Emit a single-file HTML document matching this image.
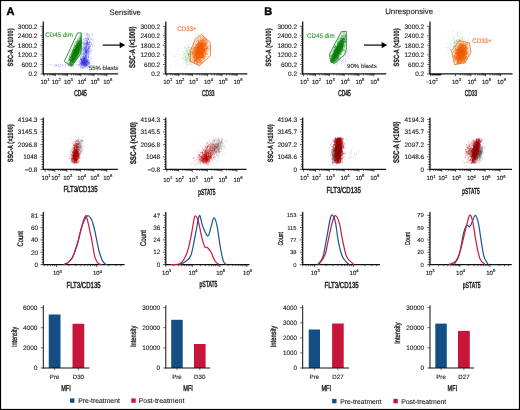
<!DOCTYPE html>
<html><head><meta charset="utf-8"><style>
html,body{margin:0;padding:0;background:#fff;overflow:hidden;}
svg{display:block;font-family:"Liberation Sans", sans-serif;will-change:transform;text-rendering:geometricPrecision;filter:blur(0.25px);}
</style></head><body>
<svg width="520" height="410" viewBox="0 0 520 410">
<rect x="0" y="0" width="520" height="410" fill="#fff"/>
<rect x="0.5" y="0.5" width="519" height="409" fill="none" stroke="#000" stroke-width="1.2"/>
<text x="6.4" y="14.56" font-size="11" text-anchor="start" fill="#000" font-weight="bold" stroke="#000" stroke-width="0.45">A</text>
<text x="264.2" y="14.56" font-size="11" text-anchor="start" fill="#000" font-weight="bold" stroke="#000" stroke-width="0.45">B</text>
<text x="109.6" y="14.61" font-size="7.8" text-anchor="start" fill="#1a1a1a" font-weight="normal" textLength="31.3" lengthAdjust="spacingAndGlyphs" stroke="#1a1a1a" stroke-width="0.1">Sensitive</text>
<text x="385.2" y="14.41" font-size="7.8" text-anchor="start" fill="#1a1a1a" font-weight="normal" textLength="47.9" lengthAdjust="spacingAndGlyphs" stroke="#1a1a1a" stroke-width="0.1">Unresponsive</text>
<line x1="102.7" y1="45.1" x2="120.3" y2="45.1" stroke="#000" stroke-width="1.2"/>
<polygon points="119.7,42 125.3,45.1 119.7,48.2" fill="#000"/>
<line x1="364.1" y1="45.1" x2="382.2" y2="45.1" stroke="#000" stroke-width="1.2"/>
<polygon points="381.6,42 387.2,45.1 381.6,48.2" fill="#000"/>
<line x1="43.3" y1="21.5" x2="43.3" y2="74.4" stroke="#111" stroke-width="1.25"/>
<path d="M40.5 26.3H43.3 M40.5 35.8H43.3 M40.5 45.3H43.3 M40.5 54.9H43.3 M40.5 64.4H43.3 M40.5 73.9H43.3 M41.6 28.2H43.3 M41.6 30.1H43.3 M41.6 32H43.3 M41.6 33.9H43.3 M41.6 37.7H43.3 M41.6 39.6H43.3 M41.6 41.5H43.3 M41.6 43.4H43.3 M41.6 47.22H43.3 M41.6 49.14H43.3 M41.6 51.06H43.3 M41.6 52.98H43.3 M41.6 56.8H43.3 M41.6 58.7H43.3 M41.6 60.6H43.3 M41.6 62.5H43.3 M41.6 66.3H43.3 M41.6 68.2H43.3 M41.6 70.1H43.3 M41.6 72H43.3" stroke="#111" stroke-width="0.7" fill="none"/>
<text x="37.4" y="28.6" font-size="6.4" text-anchor="end" fill="#1a1a1a" font-weight="normal" stroke="#1a1a1a" stroke-width="0.1">3000.2</text>
<text x="37.4" y="38.1" font-size="6.4" text-anchor="end" fill="#1a1a1a" font-weight="normal" stroke="#1a1a1a" stroke-width="0.1">2400.2</text>
<text x="37.4" y="47.6" font-size="6.4" text-anchor="end" fill="#1a1a1a" font-weight="normal" stroke="#1a1a1a" stroke-width="0.1">1800.2</text>
<text x="37.4" y="57.2" font-size="6.4" text-anchor="end" fill="#1a1a1a" font-weight="normal" stroke="#1a1a1a" stroke-width="0.1">1200.2</text>
<text x="37.4" y="66.7" font-size="6.4" text-anchor="end" fill="#1a1a1a" font-weight="normal" stroke="#1a1a1a" stroke-width="0.1">600.2</text>
<text x="37.4" y="76.2" font-size="6.4" text-anchor="end" fill="#1a1a1a" font-weight="normal" stroke="#1a1a1a" stroke-width="0.1">0.2</text>
<line x1="42.8" y1="73.9" x2="118" y2="73.9" stroke="#111" stroke-width="1.25"/>
<path d="M44 73.9V76.3 M55.3 73.9V76.3 M67.4 73.9V76.3 M80.9 73.9V76.3 M94 73.9V76.3 M106.8 73.9V76.3" stroke="#111" stroke-width="0.7" fill="none"/>
<path d="M47.4 73.9V75.5 M49.39 73.9V75.5 M50.8 73.9V75.5 M51.9 73.9V75.5 M52.79 73.9V75.5 M53.55 73.9V75.5 M54.2 73.9V75.5 M54.78 73.9V75.5 M58.94 73.9V75.5 M61.07 73.9V75.5 M62.58 73.9V75.5 M63.76 73.9V75.5 M64.72 73.9V75.5 M65.53 73.9V75.5 M66.23 73.9V75.5 M66.85 73.9V75.5 M71.46 73.9V75.5 M73.84 73.9V75.5 M75.53 73.9V75.5 M76.84 73.9V75.5 M77.91 73.9V75.5 M78.81 73.9V75.5 M79.59 73.9V75.5 M80.28 73.9V75.5 M84.84 73.9V75.5 M87.15 73.9V75.5 M88.79 73.9V75.5 M90.06 73.9V75.5 M91.09 73.9V75.5 M91.97 73.9V75.5 M92.73 73.9V75.5 M93.4 73.9V75.5 M97.85 73.9V75.5 M100.11 73.9V75.5 M101.71 73.9V75.5 M102.95 73.9V75.5 M103.96 73.9V75.5 M104.82 73.9V75.5 M105.56 73.9V75.5 M106.21 73.9V75.5" stroke="#111" stroke-width="0.6" fill="none"/>
<text x="45" y="83.91" font-size="6" text-anchor="middle" fill="#1a1a1a" stroke="#1a1a1a" stroke-width="0.15">10<tspan font-size="4.2" dy="-2.7">1</tspan></text>
<text x="56.3" y="83.91" font-size="6" text-anchor="middle" fill="#1a1a1a" stroke="#1a1a1a" stroke-width="0.15">10<tspan font-size="4.2" dy="-2.7">2</tspan></text>
<text x="68.4" y="83.91" font-size="6" text-anchor="middle" fill="#1a1a1a" stroke="#1a1a1a" stroke-width="0.15">10<tspan font-size="4.2" dy="-2.7">3</tspan></text>
<text x="81.9" y="83.91" font-size="6" text-anchor="middle" fill="#1a1a1a" stroke="#1a1a1a" stroke-width="0.15">10<tspan font-size="4.2" dy="-2.7">4</tspan></text>
<text x="95" y="83.91" font-size="6" text-anchor="middle" fill="#1a1a1a" stroke="#1a1a1a" stroke-width="0.15">10<tspan font-size="4.2" dy="-2.7">5</tspan></text>
<text x="107.8" y="83.91" font-size="6" text-anchor="middle" fill="#1a1a1a" stroke="#1a1a1a" stroke-width="0.15">10<tspan font-size="4.2" dy="-2.7">6</tspan></text>
<text x="80.45" y="96.2" font-size="8.6" text-anchor="middle" fill="#1a1a1a" font-weight="normal" textLength="12.6" lengthAdjust="spacingAndGlyphs" stroke="#1a1a1a" stroke-width="0.45">CD45</text>
<text transform="translate(9.9,47.5) rotate(-90)" x="0" y="2.74" font-size="7.6" text-anchor="middle" fill="#1a1a1a" font-weight="bold" textLength="38" lengthAdjust="spacingAndGlyphs" stroke="#1a1a1a" stroke-width="0.25">SSC-A (×1000)</text>
<line x1="165.8" y1="21.5" x2="165.8" y2="74.4" stroke="#111" stroke-width="1.25"/>
<path d="M163 26.3H165.8 M163 35.8H165.8 M163 45.3H165.8 M163 54.9H165.8 M163 64.4H165.8 M163 73.9H165.8 M164.1 28.2H165.8 M164.1 30.1H165.8 M164.1 32H165.8 M164.1 33.9H165.8 M164.1 37.7H165.8 M164.1 39.6H165.8 M164.1 41.5H165.8 M164.1 43.4H165.8 M164.1 47.22H165.8 M164.1 49.14H165.8 M164.1 51.06H165.8 M164.1 52.98H165.8 M164.1 56.8H165.8 M164.1 58.7H165.8 M164.1 60.6H165.8 M164.1 62.5H165.8 M164.1 66.3H165.8 M164.1 68.2H165.8 M164.1 70.1H165.8 M164.1 72H165.8" stroke="#111" stroke-width="0.7" fill="none"/>
<text x="160.1" y="28.6" font-size="6.4" text-anchor="end" fill="#1a1a1a" font-weight="normal" stroke="#1a1a1a" stroke-width="0.1">3000.2</text>
<text x="160.1" y="38.1" font-size="6.4" text-anchor="end" fill="#1a1a1a" font-weight="normal" stroke="#1a1a1a" stroke-width="0.1">2400.2</text>
<text x="160.1" y="47.6" font-size="6.4" text-anchor="end" fill="#1a1a1a" font-weight="normal" stroke="#1a1a1a" stroke-width="0.1">1800.2</text>
<text x="160.1" y="57.2" font-size="6.4" text-anchor="end" fill="#1a1a1a" font-weight="normal" stroke="#1a1a1a" stroke-width="0.1">1200.2</text>
<text x="160.1" y="66.7" font-size="6.4" text-anchor="end" fill="#1a1a1a" font-weight="normal" stroke="#1a1a1a" stroke-width="0.1">600.2</text>
<text x="160.1" y="76.2" font-size="6.4" text-anchor="end" fill="#1a1a1a" font-weight="normal" stroke="#1a1a1a" stroke-width="0.1">0.2</text>
<line x1="165.3" y1="73.9" x2="247.4" y2="73.9" stroke="#111" stroke-width="1.25"/>
<path d="M166.8 73.9V76.3 M178.9 73.9V76.3 M192.5 73.9V76.3 M207.5 73.9V76.3 M222 73.9V76.3 M237 73.9V76.3" stroke="#111" stroke-width="0.7" fill="none"/>
<path d="M170.44 73.9V75.5 M172.57 73.9V75.5 M174.08 73.9V75.5 M175.26 73.9V75.5 M176.22 73.9V75.5 M177.03 73.9V75.5 M177.73 73.9V75.5 M178.35 73.9V75.5 M182.99 73.9V75.5 M185.39 73.9V75.5 M187.09 73.9V75.5 M188.41 73.9V75.5 M189.48 73.9V75.5 M190.39 73.9V75.5 M191.18 73.9V75.5 M191.88 73.9V75.5 M197.02 73.9V75.5 M199.66 73.9V75.5 M201.53 73.9V75.5 M202.98 73.9V75.5 M204.17 73.9V75.5 M205.18 73.9V75.5 M206.05 73.9V75.5 M206.81 73.9V75.5 M211.86 73.9V75.5 M214.42 73.9V75.5 M216.23 73.9V75.5 M217.64 73.9V75.5 M218.78 73.9V75.5 M219.75 73.9V75.5 M220.59 73.9V75.5 M221.34 73.9V75.5 M226.52 73.9V75.5 M229.16 73.9V75.5 M231.03 73.9V75.5 M232.48 73.9V75.5 M233.67 73.9V75.5 M234.68 73.9V75.5 M235.55 73.9V75.5 M236.31 73.9V75.5" stroke="#111" stroke-width="0.6" fill="none"/>
<text x="167.8" y="83.91" font-size="6" text-anchor="middle" fill="#1a1a1a" stroke="#1a1a1a" stroke-width="0.15">10<tspan font-size="4.2" dy="-2.7">1</tspan></text>
<text x="179.9" y="83.91" font-size="6" text-anchor="middle" fill="#1a1a1a" stroke="#1a1a1a" stroke-width="0.15">10<tspan font-size="4.2" dy="-2.7">2</tspan></text>
<text x="193.5" y="83.91" font-size="6" text-anchor="middle" fill="#1a1a1a" stroke="#1a1a1a" stroke-width="0.15">10<tspan font-size="4.2" dy="-2.7">3</tspan></text>
<text x="208.5" y="83.91" font-size="6" text-anchor="middle" fill="#1a1a1a" stroke="#1a1a1a" stroke-width="0.15">10<tspan font-size="4.2" dy="-2.7">4</tspan></text>
<text x="223" y="83.91" font-size="6" text-anchor="middle" fill="#1a1a1a" stroke="#1a1a1a" stroke-width="0.15">10<tspan font-size="4.2" dy="-2.7">5</tspan></text>
<text x="238" y="83.91" font-size="6" text-anchor="middle" fill="#1a1a1a" stroke="#1a1a1a" stroke-width="0.15">10<tspan font-size="4.2" dy="-2.7">6</tspan></text>
<text x="208.3" y="96.2" font-size="8.6" text-anchor="middle" fill="#1a1a1a" font-weight="normal" textLength="12.6" lengthAdjust="spacingAndGlyphs" stroke="#1a1a1a" stroke-width="0.45">CD33</text>
<text transform="translate(132.2,47.2) rotate(-90)" x="0" y="2.99" font-size="8.3" text-anchor="middle" fill="#1a1a1a" font-weight="bold" textLength="41.7" lengthAdjust="spacingAndGlyphs" stroke="#1a1a1a" stroke-width="0.25">SSC-A (×1000)</text>
<line x1="302.7" y1="21.5" x2="302.7" y2="74.4" stroke="#111" stroke-width="1.25"/>
<path d="M299.9 26.3H302.7 M299.9 35.8H302.7 M299.9 45.3H302.7 M299.9 54.9H302.7 M299.9 64.4H302.7 M299.9 73.9H302.7 M301 28.2H302.7 M301 30.1H302.7 M301 32H302.7 M301 33.9H302.7 M301 37.7H302.7 M301 39.6H302.7 M301 41.5H302.7 M301 43.4H302.7 M301 47.22H302.7 M301 49.14H302.7 M301 51.06H302.7 M301 52.98H302.7 M301 56.8H302.7 M301 58.7H302.7 M301 60.6H302.7 M301 62.5H302.7 M301 66.3H302.7 M301 68.2H302.7 M301 70.1H302.7 M301 72H302.7" stroke="#111" stroke-width="0.7" fill="none"/>
<text x="297" y="28.6" font-size="6.4" text-anchor="end" fill="#1a1a1a" font-weight="normal" stroke="#1a1a1a" stroke-width="0.1">3000.2</text>
<text x="297" y="38.1" font-size="6.4" text-anchor="end" fill="#1a1a1a" font-weight="normal" stroke="#1a1a1a" stroke-width="0.1">2400.2</text>
<text x="297" y="47.6" font-size="6.4" text-anchor="end" fill="#1a1a1a" font-weight="normal" stroke="#1a1a1a" stroke-width="0.1">1800.2</text>
<text x="297" y="57.2" font-size="6.4" text-anchor="end" fill="#1a1a1a" font-weight="normal" stroke="#1a1a1a" stroke-width="0.1">1200.2</text>
<text x="297" y="66.7" font-size="6.4" text-anchor="end" fill="#1a1a1a" font-weight="normal" stroke="#1a1a1a" stroke-width="0.1">600.2</text>
<text x="297" y="76.2" font-size="6.4" text-anchor="end" fill="#1a1a1a" font-weight="normal" stroke="#1a1a1a" stroke-width="0.1">0.2</text>
<line x1="302.2" y1="73.9" x2="386.2" y2="73.9" stroke="#111" stroke-width="1.25"/>
<path d="M303.6 73.9V76.3 M315.5 73.9V76.3 M329.3 73.9V76.3 M344.2 73.9V76.3 M358.9 73.9V76.3 M373.8 73.9V76.3" stroke="#111" stroke-width="0.7" fill="none"/>
<path d="M307.18 73.9V75.5 M309.28 73.9V75.5 M310.76 73.9V75.5 M311.92 73.9V75.5 M312.86 73.9V75.5 M313.66 73.9V75.5 M314.35 73.9V75.5 M314.96 73.9V75.5 M319.65 73.9V75.5 M322.08 73.9V75.5 M323.81 73.9V75.5 M325.15 73.9V75.5 M326.24 73.9V75.5 M327.16 73.9V75.5 M327.96 73.9V75.5 M328.67 73.9V75.5 M333.79 73.9V75.5 M336.41 73.9V75.5 M338.27 73.9V75.5 M339.71 73.9V75.5 M340.89 73.9V75.5 M341.89 73.9V75.5 M342.76 73.9V75.5 M343.52 73.9V75.5 M348.63 73.9V75.5 M351.21 73.9V75.5 M353.05 73.9V75.5 M354.47 73.9V75.5 M355.64 73.9V75.5 M356.62 73.9V75.5 M357.48 73.9V75.5 M358.23 73.9V75.5 M363.39 73.9V75.5 M366.01 73.9V75.5 M367.87 73.9V75.5 M369.31 73.9V75.5 M370.49 73.9V75.5 M371.49 73.9V75.5 M372.36 73.9V75.5 M373.12 73.9V75.5" stroke="#111" stroke-width="0.6" fill="none"/>
<text x="304.6" y="83.91" font-size="6" text-anchor="middle" fill="#1a1a1a" stroke="#1a1a1a" stroke-width="0.15">10<tspan font-size="4.2" dy="-2.7">1</tspan></text>
<text x="316.5" y="83.91" font-size="6" text-anchor="middle" fill="#1a1a1a" stroke="#1a1a1a" stroke-width="0.15">10<tspan font-size="4.2" dy="-2.7">2</tspan></text>
<text x="330.3" y="83.91" font-size="6" text-anchor="middle" fill="#1a1a1a" stroke="#1a1a1a" stroke-width="0.15">10<tspan font-size="4.2" dy="-2.7">3</tspan></text>
<text x="345.2" y="83.91" font-size="6" text-anchor="middle" fill="#1a1a1a" stroke="#1a1a1a" stroke-width="0.15">10<tspan font-size="4.2" dy="-2.7">4</tspan></text>
<text x="359.9" y="83.91" font-size="6" text-anchor="middle" fill="#1a1a1a" stroke="#1a1a1a" stroke-width="0.15">10<tspan font-size="4.2" dy="-2.7">5</tspan></text>
<text x="374.8" y="83.91" font-size="6" text-anchor="middle" fill="#1a1a1a" stroke="#1a1a1a" stroke-width="0.15">10<tspan font-size="4.2" dy="-2.7">6</tspan></text>
<text x="344.5" y="96.2" font-size="8.6" text-anchor="middle" fill="#1a1a1a" font-weight="normal" textLength="12.6" lengthAdjust="spacingAndGlyphs" stroke="#1a1a1a" stroke-width="0.45">CD45</text>
<text transform="translate(268.3,47.5) rotate(-90)" x="0" y="2.74" font-size="7.6" text-anchor="middle" fill="#1a1a1a" font-weight="bold" textLength="38" lengthAdjust="spacingAndGlyphs" stroke="#1a1a1a" stroke-width="0.25">SSC-A (×1000)</text>
<line x1="430" y1="21.5" x2="430" y2="74.4" stroke="#111" stroke-width="1.25"/>
<path d="M427.2 26.3H430 M427.2 35.8H430 M427.2 45.3H430 M427.2 54.9H430 M427.2 64.4H430 M427.2 73.9H430 M428.3 28.2H430 M428.3 30.1H430 M428.3 32H430 M428.3 33.9H430 M428.3 37.7H430 M428.3 39.6H430 M428.3 41.5H430 M428.3 43.4H430 M428.3 47.22H430 M428.3 49.14H430 M428.3 51.06H430 M428.3 52.98H430 M428.3 56.8H430 M428.3 58.7H430 M428.3 60.6H430 M428.3 62.5H430 M428.3 66.3H430 M428.3 68.2H430 M428.3 70.1H430 M428.3 72H430" stroke="#111" stroke-width="0.7" fill="none"/>
<text x="424.1" y="28.6" font-size="6.4" text-anchor="end" fill="#1a1a1a" font-weight="normal" stroke="#1a1a1a" stroke-width="0.1">3000.2</text>
<text x="424.1" y="38.1" font-size="6.4" text-anchor="end" fill="#1a1a1a" font-weight="normal" stroke="#1a1a1a" stroke-width="0.1">2400.2</text>
<text x="424.1" y="47.6" font-size="6.4" text-anchor="end" fill="#1a1a1a" font-weight="normal" stroke="#1a1a1a" stroke-width="0.1">1800.2</text>
<text x="424.1" y="57.2" font-size="6.4" text-anchor="end" fill="#1a1a1a" font-weight="normal" stroke="#1a1a1a" stroke-width="0.1">1200.2</text>
<text x="424.1" y="66.7" font-size="6.4" text-anchor="end" fill="#1a1a1a" font-weight="normal" stroke="#1a1a1a" stroke-width="0.1">600.2</text>
<text x="424.1" y="76.2" font-size="6.4" text-anchor="end" fill="#1a1a1a" font-weight="normal" stroke="#1a1a1a" stroke-width="0.1">0.2</text>
<line x1="429.5" y1="73.9" x2="512.6" y2="73.9" stroke="#111" stroke-width="1.25"/>
<path d="M430.6 73.9V76.3 M455.5 73.9V76.3 M470.9 73.9V76.3 M485.5 73.9V76.3 M500.5 73.9V76.3" stroke="#111" stroke-width="0.7" fill="none"/>
<path d="M460.14 73.9V75.5 M462.85 73.9V75.5 M464.77 73.9V75.5 M466.26 73.9V75.5 M467.48 73.9V75.5 M468.51 73.9V75.5 M469.41 73.9V75.5 M470.2 73.9V75.5 M475.3 73.9V75.5 M477.87 73.9V75.5 M479.69 73.9V75.5 M481.1 73.9V75.5 M482.26 73.9V75.5 M483.24 73.9V75.5 M484.09 73.9V75.5 M484.83 73.9V75.5 M490.02 73.9V75.5 M492.66 73.9V75.5 M494.53 73.9V75.5 M495.98 73.9V75.5 M497.17 73.9V75.5 M498.18 73.9V75.5 M499.05 73.9V75.5 M499.81 73.9V75.5" stroke="#111" stroke-width="0.6" fill="none"/>
<rect x="431.5" y="73.9" width="9.8" height="1.5" fill="#111"/>
<text x="431.6" y="83.91" font-size="6" text-anchor="middle" fill="#1a1a1a" stroke="#1a1a1a" stroke-width="0.15">−10<tspan font-size="4.2" dy="-2.7">2</tspan></text>
<text x="456.5" y="83.91" font-size="6" text-anchor="middle" fill="#1a1a1a" stroke="#1a1a1a" stroke-width="0.15">10<tspan font-size="4.2" dy="-2.7">3</tspan></text>
<text x="471.9" y="83.91" font-size="6" text-anchor="middle" fill="#1a1a1a" stroke="#1a1a1a" stroke-width="0.15">10<tspan font-size="4.2" dy="-2.7">4</tspan></text>
<text x="486.5" y="83.91" font-size="6" text-anchor="middle" fill="#1a1a1a" stroke="#1a1a1a" stroke-width="0.15">10<tspan font-size="4.2" dy="-2.7">5</tspan></text>
<text x="501.5" y="83.91" font-size="6" text-anchor="middle" fill="#1a1a1a" stroke="#1a1a1a" stroke-width="0.15">10<tspan font-size="4.2" dy="-2.7">6</tspan></text>
<text x="471" y="96.2" font-size="8.6" text-anchor="middle" fill="#1a1a1a" font-weight="normal" textLength="12.6" lengthAdjust="spacingAndGlyphs" stroke="#1a1a1a" stroke-width="0.45">CD33</text>
<text transform="translate(395.8,47.5) rotate(-90)" x="0" y="2.74" font-size="7.6" text-anchor="middle" fill="#1a1a1a" font-weight="bold" textLength="38" lengthAdjust="spacingAndGlyphs" stroke="#1a1a1a" stroke-width="0.25">SSC-A (×1000)</text>
<line x1="43.3" y1="117.5" x2="43.3" y2="169.9" stroke="#111" stroke-width="1.25"/>
<path d="M40.5 119.4H43.3 M40.5 131.9H43.3 M40.5 144.4H43.3 M40.5 156.9H43.3 M40.5 169.4H43.3 M41.6 121.9H43.3 M41.6 124.4H43.3 M41.6 126.9H43.3 M41.6 129.4H43.3 M41.6 134.4H43.3 M41.6 136.9H43.3 M41.6 139.4H43.3 M41.6 141.9H43.3 M41.6 146.9H43.3 M41.6 149.4H43.3 M41.6 151.9H43.3 M41.6 154.4H43.3 M41.6 159.4H43.3 M41.6 161.9H43.3 M41.6 164.4H43.3 M41.6 166.9H43.3" stroke="#111" stroke-width="0.7" fill="none"/>
<text x="37.4" y="121.7" font-size="6.4" text-anchor="end" fill="#1a1a1a" font-weight="normal" stroke="#1a1a1a" stroke-width="0.1">4194.3</text>
<text x="37.4" y="134.2" font-size="6.4" text-anchor="end" fill="#1a1a1a" font-weight="normal" stroke="#1a1a1a" stroke-width="0.1">3145.5</text>
<text x="37.4" y="146.7" font-size="6.4" text-anchor="end" fill="#1a1a1a" font-weight="normal" stroke="#1a1a1a" stroke-width="0.1">2096.8</text>
<text x="37.4" y="159.2" font-size="6.4" text-anchor="end" fill="#1a1a1a" font-weight="normal" stroke="#1a1a1a" stroke-width="0.1">1048</text>
<text x="37.4" y="171.7" font-size="6.4" text-anchor="end" fill="#1a1a1a" font-weight="normal" stroke="#1a1a1a" stroke-width="0.1">−0.8</text>
<line x1="42.8" y1="169.4" x2="117.9" y2="169.4" stroke="#111" stroke-width="1.25"/>
<path d="M45.1 169.4V171.8 M54.8 169.4V171.8 M66.8 169.4V171.8 M80.7 169.4V171.8 M93.8 169.4V171.8 M106.8 169.4V171.8" stroke="#111" stroke-width="0.7" fill="none"/>
<path d="M48.02 169.4V171 M49.73 169.4V171 M50.94 169.4V171 M51.88 169.4V171 M52.65 169.4V171 M53.3 169.4V171 M53.86 169.4V171 M54.36 169.4V171 M58.41 169.4V171 M60.53 169.4V171 M62.02 169.4V171 M63.19 169.4V171 M64.14 169.4V171 M64.94 169.4V171 M65.64 169.4V171 M66.25 169.4V171 M70.98 169.4V171 M73.43 169.4V171 M75.17 169.4V171 M76.52 169.4V171 M77.62 169.4V171 M78.55 169.4V171 M79.35 169.4V171 M80.06 169.4V171 M84.64 169.4V171 M86.95 169.4V171 M88.59 169.4V171 M89.86 169.4V171 M90.89 169.4V171 M91.77 169.4V171 M92.53 169.4V171 M93.2 169.4V171 M97.71 169.4V171 M100 169.4V171 M101.63 169.4V171 M102.89 169.4V171 M103.92 169.4V171 M104.79 169.4V171 M105.54 169.4V171 M106.21 169.4V171" stroke="#111" stroke-width="0.6" fill="none"/>
<text x="46.1" y="179.76" font-size="6" text-anchor="middle" fill="#1a1a1a" stroke="#1a1a1a" stroke-width="0.15">10<tspan font-size="4.2" dy="-2.7">1</tspan></text>
<text x="55.8" y="179.76" font-size="6" text-anchor="middle" fill="#1a1a1a" stroke="#1a1a1a" stroke-width="0.15">10<tspan font-size="4.2" dy="-2.7">2</tspan></text>
<text x="67.8" y="179.76" font-size="6" text-anchor="middle" fill="#1a1a1a" stroke="#1a1a1a" stroke-width="0.15">10<tspan font-size="4.2" dy="-2.7">3</tspan></text>
<text x="81.7" y="179.76" font-size="6" text-anchor="middle" fill="#1a1a1a" stroke="#1a1a1a" stroke-width="0.15">10<tspan font-size="4.2" dy="-2.7">4</tspan></text>
<text x="94.8" y="179.76" font-size="6" text-anchor="middle" fill="#1a1a1a" stroke="#1a1a1a" stroke-width="0.15">10<tspan font-size="4.2" dy="-2.7">5</tspan></text>
<text x="107.8" y="179.76" font-size="6" text-anchor="middle" fill="#1a1a1a" stroke="#1a1a1a" stroke-width="0.15">10<tspan font-size="4.2" dy="-2.7">6</tspan></text>
<text x="80.5" y="192.3" font-size="8.6" text-anchor="middle" fill="#1a1a1a" font-weight="normal" textLength="34.2" lengthAdjust="spacingAndGlyphs" stroke="#1a1a1a" stroke-width="0.45">FLT3/CD135</text>
<text transform="translate(9.9,143.3) rotate(-90)" x="0" y="2.74" font-size="7.6" text-anchor="middle" fill="#1a1a1a" font-weight="bold" textLength="38" lengthAdjust="spacingAndGlyphs" stroke="#1a1a1a" stroke-width="0.25">SSC-A (×1000)</text>
<line x1="165.8" y1="117.5" x2="165.8" y2="169.9" stroke="#111" stroke-width="1.25"/>
<path d="M163 119.4H165.8 M163 131.9H165.8 M163 144.4H165.8 M163 156.9H165.8 M163 169.4H165.8 M164.1 121.9H165.8 M164.1 124.4H165.8 M164.1 126.9H165.8 M164.1 129.4H165.8 M164.1 134.4H165.8 M164.1 136.9H165.8 M164.1 139.4H165.8 M164.1 141.9H165.8 M164.1 146.9H165.8 M164.1 149.4H165.8 M164.1 151.9H165.8 M164.1 154.4H165.8 M164.1 159.4H165.8 M164.1 161.9H165.8 M164.1 164.4H165.8 M164.1 166.9H165.8" stroke="#111" stroke-width="0.7" fill="none"/>
<text x="160.1" y="121.7" font-size="6.4" text-anchor="end" fill="#1a1a1a" font-weight="normal" stroke="#1a1a1a" stroke-width="0.1">4194.3</text>
<text x="160.1" y="134.2" font-size="6.4" text-anchor="end" fill="#1a1a1a" font-weight="normal" stroke="#1a1a1a" stroke-width="0.1">3145.5</text>
<text x="160.1" y="146.7" font-size="6.4" text-anchor="end" fill="#1a1a1a" font-weight="normal" stroke="#1a1a1a" stroke-width="0.1">2096.8</text>
<text x="160.1" y="159.2" font-size="6.4" text-anchor="end" fill="#1a1a1a" font-weight="normal" stroke="#1a1a1a" stroke-width="0.1">1048</text>
<text x="160.1" y="171.7" font-size="6.4" text-anchor="end" fill="#1a1a1a" font-weight="normal" stroke="#1a1a1a" stroke-width="0.1">−0.8</text>
<line x1="165.3" y1="169.4" x2="246.5" y2="169.4" stroke="#111" stroke-width="1.25"/>
<path d="M166.8 169.4V171.8 M178.7 169.4V171.8 M192.3 169.4V171.8 M207.3 169.4V171.8 M221.9 169.4V171.8 M237 169.4V171.8" stroke="#111" stroke-width="0.7" fill="none"/>
<path d="M170.38 169.4V171 M172.48 169.4V171 M173.96 169.4V171 M175.12 169.4V171 M176.06 169.4V171 M176.86 169.4V171 M177.55 169.4V171 M178.16 169.4V171 M182.79 169.4V171 M185.19 169.4V171 M186.89 169.4V171 M188.21 169.4V171 M189.28 169.4V171 M190.19 169.4V171 M190.98 169.4V171 M191.68 169.4V171 M196.82 169.4V171 M199.46 169.4V171 M201.33 169.4V171 M202.78 169.4V171 M203.97 169.4V171 M204.98 169.4V171 M205.85 169.4V171 M206.61 169.4V171 M211.7 169.4V171 M214.27 169.4V171 M216.09 169.4V171 M217.5 169.4V171 M218.66 169.4V171 M219.64 169.4V171 M220.49 169.4V171 M221.23 169.4V171 M226.45 169.4V171 M229.1 169.4V171 M230.99 169.4V171 M232.45 169.4V171 M233.65 169.4V171 M234.66 169.4V171 M235.54 169.4V171 M236.31 169.4V171" stroke="#111" stroke-width="0.6" fill="none"/>
<text x="167.8" y="181.76" font-size="6" text-anchor="middle" fill="#1a1a1a" stroke="#1a1a1a" stroke-width="0.15">10<tspan font-size="4.2" dy="-2.7">1</tspan></text>
<text x="179.7" y="181.76" font-size="6" text-anchor="middle" fill="#1a1a1a" stroke="#1a1a1a" stroke-width="0.15">10<tspan font-size="4.2" dy="-2.7">2</tspan></text>
<text x="193.3" y="181.76" font-size="6" text-anchor="middle" fill="#1a1a1a" stroke="#1a1a1a" stroke-width="0.15">10<tspan font-size="4.2" dy="-2.7">3</tspan></text>
<text x="208.3" y="181.76" font-size="6" text-anchor="middle" fill="#1a1a1a" stroke="#1a1a1a" stroke-width="0.15">10<tspan font-size="4.2" dy="-2.7">4</tspan></text>
<text x="222.9" y="181.76" font-size="6" text-anchor="middle" fill="#1a1a1a" stroke="#1a1a1a" stroke-width="0.15">10<tspan font-size="4.2" dy="-2.7">5</tspan></text>
<text x="238" y="181.76" font-size="6" text-anchor="middle" fill="#1a1a1a" stroke="#1a1a1a" stroke-width="0.15">10<tspan font-size="4.2" dy="-2.7">6</tspan></text>
<text x="206.9" y="194.7" font-size="8.6" text-anchor="middle" fill="#1a1a1a" font-weight="normal" textLength="17.4" lengthAdjust="spacingAndGlyphs" stroke="#1a1a1a" stroke-width="0.45">pSTAT5</text>
<text transform="translate(132.8,143.2) rotate(-90)" x="0" y="2.99" font-size="8.3" text-anchor="middle" fill="#1a1a1a" font-weight="bold" textLength="42.2" lengthAdjust="spacingAndGlyphs" stroke="#1a1a1a" stroke-width="0.25">SSC-A (×1000)</text>
<line x1="302.7" y1="117.5" x2="302.7" y2="169.9" stroke="#111" stroke-width="1.25"/>
<path d="M299.9 119.4H302.7 M299.9 131.9H302.7 M299.9 144.4H302.7 M299.9 156.9H302.7 M299.9 169.4H302.7 M301 121.9H302.7 M301 124.4H302.7 M301 126.9H302.7 M301 129.4H302.7 M301 134.4H302.7 M301 136.9H302.7 M301 139.4H302.7 M301 141.9H302.7 M301 146.9H302.7 M301 149.4H302.7 M301 151.9H302.7 M301 154.4H302.7 M301 159.4H302.7 M301 161.9H302.7 M301 164.4H302.7 M301 166.9H302.7" stroke="#111" stroke-width="0.7" fill="none"/>
<text x="297" y="121.7" font-size="6.4" text-anchor="end" fill="#1a1a1a" font-weight="normal" stroke="#1a1a1a" stroke-width="0.1">4194.3</text>
<text x="297" y="134.2" font-size="6.4" text-anchor="end" fill="#1a1a1a" font-weight="normal" stroke="#1a1a1a" stroke-width="0.1">3145.7</text>
<text x="297" y="146.7" font-size="6.4" text-anchor="end" fill="#1a1a1a" font-weight="normal" stroke="#1a1a1a" stroke-width="0.1">2097.2</text>
<text x="297" y="159.2" font-size="6.4" text-anchor="end" fill="#1a1a1a" font-weight="normal" stroke="#1a1a1a" stroke-width="0.1">1048.6</text>
<text x="297" y="171.7" font-size="6.4" text-anchor="end" fill="#1a1a1a" font-weight="normal" stroke="#1a1a1a" stroke-width="0.1">0</text>
<line x1="302.2" y1="169.4" x2="386.2" y2="169.4" stroke="#111" stroke-width="1.25"/>
<path d="M303.6 169.4V171.8 M315.5 169.4V171.8 M329.3 169.4V171.8 M344.2 169.4V171.8 M358.9 169.4V171.8 M373.8 169.4V171.8" stroke="#111" stroke-width="0.7" fill="none"/>
<path d="M307.18 169.4V171 M309.28 169.4V171 M310.76 169.4V171 M311.92 169.4V171 M312.86 169.4V171 M313.66 169.4V171 M314.35 169.4V171 M314.96 169.4V171 M319.65 169.4V171 M322.08 169.4V171 M323.81 169.4V171 M325.15 169.4V171 M326.24 169.4V171 M327.16 169.4V171 M327.96 169.4V171 M328.67 169.4V171 M333.79 169.4V171 M336.41 169.4V171 M338.27 169.4V171 M339.71 169.4V171 M340.89 169.4V171 M341.89 169.4V171 M342.76 169.4V171 M343.52 169.4V171 M348.63 169.4V171 M351.21 169.4V171 M353.05 169.4V171 M354.47 169.4V171 M355.64 169.4V171 M356.62 169.4V171 M357.48 169.4V171 M358.23 169.4V171 M363.39 169.4V171 M366.01 169.4V171 M367.87 169.4V171 M369.31 169.4V171 M370.49 169.4V171 M371.49 169.4V171 M372.36 169.4V171 M373.12 169.4V171" stroke="#111" stroke-width="0.6" fill="none"/>
<text x="304.6" y="179.76" font-size="6" text-anchor="middle" fill="#1a1a1a" stroke="#1a1a1a" stroke-width="0.15">10<tspan font-size="4.2" dy="-2.7">1</tspan></text>
<text x="316.5" y="179.76" font-size="6" text-anchor="middle" fill="#1a1a1a" stroke="#1a1a1a" stroke-width="0.15">10<tspan font-size="4.2" dy="-2.7">2</tspan></text>
<text x="330.3" y="179.76" font-size="6" text-anchor="middle" fill="#1a1a1a" stroke="#1a1a1a" stroke-width="0.15">10<tspan font-size="4.2" dy="-2.7">3</tspan></text>
<text x="345.2" y="179.76" font-size="6" text-anchor="middle" fill="#1a1a1a" stroke="#1a1a1a" stroke-width="0.15">10<tspan font-size="4.2" dy="-2.7">4</tspan></text>
<text x="359.9" y="179.76" font-size="6" text-anchor="middle" fill="#1a1a1a" stroke="#1a1a1a" stroke-width="0.15">10<tspan font-size="4.2" dy="-2.7">5</tspan></text>
<text x="374.8" y="179.76" font-size="6" text-anchor="middle" fill="#1a1a1a" stroke="#1a1a1a" stroke-width="0.15">10<tspan font-size="4.2" dy="-2.7">6</tspan></text>
<text x="343.7" y="192.5" font-size="8.6" text-anchor="middle" fill="#1a1a1a" font-weight="normal" textLength="34.2" lengthAdjust="spacingAndGlyphs" stroke="#1a1a1a" stroke-width="0.45">FLT3/CD135</text>
<text transform="translate(269.9,143.3) rotate(-90)" x="0" y="2.74" font-size="7.6" text-anchor="middle" fill="#1a1a1a" font-weight="bold" textLength="38" lengthAdjust="spacingAndGlyphs" stroke="#1a1a1a" stroke-width="0.25">SSC-A (×1000)</text>
<line x1="430" y1="117.5" x2="430" y2="169.9" stroke="#111" stroke-width="1.25"/>
<path d="M427.2 119.4H430 M427.2 131.9H430 M427.2 144.4H430 M427.2 156.9H430 M427.2 169.4H430 M428.3 121.9H430 M428.3 124.4H430 M428.3 126.9H430 M428.3 129.4H430 M428.3 134.4H430 M428.3 136.9H430 M428.3 139.4H430 M428.3 141.9H430 M428.3 146.9H430 M428.3 149.4H430 M428.3 151.9H430 M428.3 154.4H430 M428.3 159.4H430 M428.3 161.9H430 M428.3 164.4H430 M428.3 166.9H430" stroke="#111" stroke-width="0.7" fill="none"/>
<text x="424.1" y="121.7" font-size="6.4" text-anchor="end" fill="#1a1a1a" font-weight="normal" stroke="#1a1a1a" stroke-width="0.1">4194.3</text>
<text x="424.1" y="134.2" font-size="6.4" text-anchor="end" fill="#1a1a1a" font-weight="normal" stroke="#1a1a1a" stroke-width="0.1">3145.7</text>
<text x="424.1" y="146.7" font-size="6.4" text-anchor="end" fill="#1a1a1a" font-weight="normal" stroke="#1a1a1a" stroke-width="0.1">2097.2</text>
<text x="424.1" y="159.2" font-size="6.4" text-anchor="end" fill="#1a1a1a" font-weight="normal" stroke="#1a1a1a" stroke-width="0.1">1048.6</text>
<text x="424.1" y="171.7" font-size="6.4" text-anchor="end" fill="#1a1a1a" font-weight="normal" stroke="#1a1a1a" stroke-width="0.1">0</text>
<line x1="429.5" y1="169.4" x2="512" y2="169.4" stroke="#111" stroke-width="1.25"/>
<path d="M430 169.4V171.8 M441.8 169.4V171.8 M455.6 169.4V171.8 M470.4 169.4V171.8 M485.1 169.4V171.8 M500 169.4V171.8" stroke="#111" stroke-width="0.7" fill="none"/>
<path d="M433.55 169.4V171 M435.63 169.4V171 M437.1 169.4V171 M438.25 169.4V171 M439.18 169.4V171 M439.97 169.4V171 M440.66 169.4V171 M441.26 169.4V171 M445.95 169.4V171 M448.38 169.4V171 M450.11 169.4V171 M451.45 169.4V171 M452.54 169.4V171 M453.46 169.4V171 M454.26 169.4V171 M454.97 169.4V171 M460.06 169.4V171 M462.66 169.4V171 M464.51 169.4V171 M465.94 169.4V171 M467.12 169.4V171 M468.11 169.4V171 M468.97 169.4V171 M469.72 169.4V171 M474.83 169.4V171 M477.41 169.4V171 M479.25 169.4V171 M480.67 169.4V171 M481.84 169.4V171 M482.82 169.4V171 M483.68 169.4V171 M484.43 169.4V171 M489.59 169.4V171 M492.21 169.4V171 M494.07 169.4V171 M495.51 169.4V171 M496.69 169.4V171 M497.69 169.4V171 M498.56 169.4V171 M499.32 169.4V171" stroke="#111" stroke-width="0.6" fill="none"/>
<text x="431" y="180.46" font-size="6" text-anchor="middle" fill="#1a1a1a" stroke="#1a1a1a" stroke-width="0.15">10<tspan font-size="4.2" dy="-2.7">1</tspan></text>
<text x="442.8" y="180.46" font-size="6" text-anchor="middle" fill="#1a1a1a" stroke="#1a1a1a" stroke-width="0.15">10<tspan font-size="4.2" dy="-2.7">2</tspan></text>
<text x="456.6" y="180.46" font-size="6" text-anchor="middle" fill="#1a1a1a" stroke="#1a1a1a" stroke-width="0.15">10<tspan font-size="4.2" dy="-2.7">3</tspan></text>
<text x="471.4" y="180.46" font-size="6" text-anchor="middle" fill="#1a1a1a" stroke="#1a1a1a" stroke-width="0.15">10<tspan font-size="4.2" dy="-2.7">4</tspan></text>
<text x="486.1" y="180.46" font-size="6" text-anchor="middle" fill="#1a1a1a" stroke="#1a1a1a" stroke-width="0.15">10<tspan font-size="4.2" dy="-2.7">5</tspan></text>
<text x="501" y="180.46" font-size="6" text-anchor="middle" fill="#1a1a1a" stroke="#1a1a1a" stroke-width="0.15">10<tspan font-size="4.2" dy="-2.7">6</tspan></text>
<text x="471" y="194.3" font-size="8.6" text-anchor="middle" fill="#1a1a1a" font-weight="normal" textLength="17.4" lengthAdjust="spacingAndGlyphs" stroke="#1a1a1a" stroke-width="0.45">pSTAT5</text>
<text transform="translate(395.8,142.2) rotate(-90)" x="0" y="2.99" font-size="8.3" text-anchor="middle" fill="#1a1a1a" font-weight="bold" textLength="41.7" lengthAdjust="spacingAndGlyphs" stroke="#1a1a1a" stroke-width="0.25">SSC-A (×1000)</text>
<line x1="43.3" y1="212.1" x2="43.3" y2="265.1" stroke="#111" stroke-width="1.25"/>
<path d="M40.5 215.3H43.3 M40.5 227.6H43.3 M40.5 239.9H43.3 M40.5 252.2H43.3 M40.5 264.6H43.3 M41.6 217.76H43.3 M41.6 220.22H43.3 M41.6 222.68H43.3 M41.6 225.14H43.3 M41.6 230.06H43.3 M41.6 232.52H43.3 M41.6 234.98H43.3 M41.6 237.44H43.3 M41.6 242.36H43.3 M41.6 244.82H43.3 M41.6 247.28H43.3 M41.6 249.74H43.3 M41.6 254.68H43.3 M41.6 257.16H43.3 M41.6 259.64H43.3 M41.6 262.12H43.3" stroke="#111" stroke-width="0.7" fill="none"/>
<text x="38.1" y="217.6" font-size="6.4" text-anchor="end" fill="#1a1a1a" font-weight="normal" stroke="#1a1a1a" stroke-width="0.1">81</text>
<text x="38.1" y="229.9" font-size="6.4" text-anchor="end" fill="#1a1a1a" font-weight="normal" stroke="#1a1a1a" stroke-width="0.1">60</text>
<text x="38.1" y="242.2" font-size="6.4" text-anchor="end" fill="#1a1a1a" font-weight="normal" stroke="#1a1a1a" stroke-width="0.1">40</text>
<text x="38.1" y="254.5" font-size="6.4" text-anchor="end" fill="#1a1a1a" font-weight="normal" stroke="#1a1a1a" stroke-width="0.1">20</text>
<text x="38.1" y="266.9" font-size="6.4" text-anchor="end" fill="#1a1a1a" font-weight="normal" stroke="#1a1a1a" stroke-width="0.1">0</text>
<line x1="42.8" y1="264.6" x2="124.6" y2="264.6" stroke="#111" stroke-width="1.25"/>
<path d="M56.6 264.6V267 M96.7 264.6V267" stroke="#111" stroke-width="0.7" fill="none"/>
<path d="M44.53 264.6V266.2 M47.7 264.6V266.2 M50.39 264.6V266.2 M52.71 264.6V266.2 M54.77 264.6V266.2 M68.67 264.6V266.2 M75.73 264.6V266.2 M80.74 264.6V266.2 M84.63 264.6V266.2 M87.8 264.6V266.2 M90.49 264.6V266.2 M92.81 264.6V266.2 M94.87 264.6V266.2 M108.77 264.6V266.2 M115.83 264.6V266.2 M120.84 264.6V266.2" stroke="#111" stroke-width="0.6" fill="none"/>
<text x="57.4" y="275.36" font-size="6" text-anchor="middle" fill="#1a1a1a" stroke="#1a1a1a" stroke-width="0.15">10<tspan font-size="4.2" dy="-2.7">3</tspan></text>
<text x="97.5" y="275.36" font-size="6" text-anchor="middle" fill="#1a1a1a" stroke="#1a1a1a" stroke-width="0.15">10<tspan font-size="4.2" dy="-2.7">4</tspan></text>
<text x="83.6" y="288" font-size="8.6" text-anchor="middle" fill="#1a1a1a" font-weight="normal" textLength="34.2" lengthAdjust="spacingAndGlyphs" stroke="#1a1a1a" stroke-width="0.45">FLT3/CD135</text>
<text transform="translate(20.2,238.75) rotate(-90)" x="0" y="2.88" font-size="8" text-anchor="middle" fill="#1a1a1a" font-weight="normal" textLength="15.4" lengthAdjust="spacingAndGlyphs" stroke="#1a1a1a" stroke-width="0.3">Count</text>
<line x1="165.8" y1="212.1" x2="165.8" y2="265.1" stroke="#111" stroke-width="1.25"/>
<path d="M163 215.3H165.8 M163 227.6H165.8 M163 239.9H165.8 M163 252.2H165.8 M163 264.6H165.8 M164.1 217.76H165.8 M164.1 220.22H165.8 M164.1 222.68H165.8 M164.1 225.14H165.8 M164.1 230.06H165.8 M164.1 232.52H165.8 M164.1 234.98H165.8 M164.1 237.44H165.8 M164.1 242.36H165.8 M164.1 244.82H165.8 M164.1 247.28H165.8 M164.1 249.74H165.8 M164.1 254.68H165.8 M164.1 257.16H165.8 M164.1 259.64H165.8 M164.1 262.12H165.8" stroke="#111" stroke-width="0.7" fill="none"/>
<text x="160.3" y="217.57" font-size="6.3" text-anchor="end" fill="#1a1a1a" font-weight="normal" stroke="#1a1a1a" stroke-width="0.1">47</text>
<text x="160.3" y="229.87" font-size="6.3" text-anchor="end" fill="#1a1a1a" font-weight="normal" stroke="#1a1a1a" stroke-width="0.1">36</text>
<text x="160.3" y="242.17" font-size="6.3" text-anchor="end" fill="#1a1a1a" font-weight="normal" stroke="#1a1a1a" stroke-width="0.1">24</text>
<text x="160.3" y="254.47" font-size="6.3" text-anchor="end" fill="#1a1a1a" font-weight="normal" stroke="#1a1a1a" stroke-width="0.1">12</text>
<text x="160.3" y="266.87" font-size="6.3" text-anchor="end" fill="#1a1a1a" font-weight="normal" stroke="#1a1a1a" stroke-width="0.1">0</text>
<line x1="165.3" y1="264.6" x2="249.6" y2="264.6" stroke="#111" stroke-width="1.25"/>
<path d="M165.8 264.6V267 M192.3 264.6V267 M219.9 264.6V267 M246.8 264.6V267" stroke="#111" stroke-width="0.7" fill="none"/>
<path d="M173.78 264.6V266.2 M178.44 264.6V266.2 M181.75 264.6V266.2 M184.32 264.6V266.2 M186.42 264.6V266.2 M188.2 264.6V266.2 M189.73 264.6V266.2 M191.09 264.6V266.2 M200.61 264.6V266.2 M205.47 264.6V266.2 M208.92 264.6V266.2 M211.59 264.6V266.2 M213.78 264.6V266.2 M215.62 264.6V266.2 M217.23 264.6V266.2 M218.64 264.6V266.2 M228 264.6V266.2 M232.73 264.6V266.2 M236.1 264.6V266.2 M238.7 264.6V266.2 M240.83 264.6V266.2 M242.63 264.6V266.2 M244.19 264.6V266.2 M245.57 264.6V266.2" stroke="#111" stroke-width="0.6" fill="none"/>
<text x="166.6" y="274.76" font-size="6" text-anchor="middle" fill="#1a1a1a" stroke="#1a1a1a" stroke-width="0.15">10<tspan font-size="4.2" dy="-2.7">3</tspan></text>
<text x="193.1" y="274.76" font-size="6" text-anchor="middle" fill="#1a1a1a" stroke="#1a1a1a" stroke-width="0.15">10<tspan font-size="4.2" dy="-2.7">4</tspan></text>
<text x="220.7" y="274.76" font-size="6" text-anchor="middle" fill="#1a1a1a" stroke="#1a1a1a" stroke-width="0.15">10<tspan font-size="4.2" dy="-2.7">5</tspan></text>
<text x="247.6" y="274.76" font-size="6" text-anchor="middle" fill="#1a1a1a" stroke="#1a1a1a" stroke-width="0.15">10<tspan font-size="4.2" dy="-2.7">6</tspan></text>
<text x="208.4" y="287.4" font-size="8.6" text-anchor="middle" fill="#1a1a1a" font-weight="normal" textLength="17.8" lengthAdjust="spacingAndGlyphs" stroke="#1a1a1a" stroke-width="0.45">pSTAT5</text>
<text transform="translate(143.4,238.1) rotate(-90)" x="0" y="2.95" font-size="8.2" text-anchor="middle" fill="#1a1a1a" font-weight="normal" textLength="15.9" lengthAdjust="spacingAndGlyphs" stroke="#1a1a1a" stroke-width="0.3">Count</text>
<line x1="302.7" y1="212.1" x2="302.7" y2="265.1" stroke="#111" stroke-width="1.25"/>
<path d="M299.9 215.3H302.7 M299.9 227.6H302.7 M299.9 239.9H302.7 M299.9 252.2H302.7 M299.9 264.6H302.7 M301 217.76H302.7 M301 220.22H302.7 M301 222.68H302.7 M301 225.14H302.7 M301 230.06H302.7 M301 232.52H302.7 M301 234.98H302.7 M301 237.44H302.7 M301 242.36H302.7 M301 244.82H302.7 M301 247.28H302.7 M301 249.74H302.7 M301 254.68H302.7 M301 257.16H302.7 M301 259.64H302.7 M301 262.12H302.7" stroke="#111" stroke-width="0.7" fill="none"/>
<text x="296.4" y="217.39" font-size="5.8" text-anchor="end" fill="#1a1a1a" font-weight="normal" stroke="#1a1a1a" stroke-width="0.1">153</text>
<text x="296.4" y="229.69" font-size="5.8" text-anchor="end" fill="#1a1a1a" font-weight="normal" stroke="#1a1a1a" stroke-width="0.1">115</text>
<text x="296.4" y="241.99" font-size="5.8" text-anchor="end" fill="#1a1a1a" font-weight="normal" stroke="#1a1a1a" stroke-width="0.1">77</text>
<text x="296.4" y="254.29" font-size="5.8" text-anchor="end" fill="#1a1a1a" font-weight="normal" stroke="#1a1a1a" stroke-width="0.1">38</text>
<text x="296.4" y="266.69" font-size="5.8" text-anchor="end" fill="#1a1a1a" font-weight="normal" stroke="#1a1a1a" stroke-width="0.1">0</text>
<line x1="302.2" y1="264.6" x2="380" y2="264.6" stroke="#111" stroke-width="1.25"/>
<path d="M314.5 264.6V267 M353.3 264.6V267" stroke="#111" stroke-width="0.7" fill="none"/>
<path d="M302.82 264.6V266.2 M305.89 264.6V266.2 M308.49 264.6V266.2 M310.74 264.6V266.2 M312.72 264.6V266.2 M326.18 264.6V266.2 M333.01 264.6V266.2 M337.86 264.6V266.2 M341.62 264.6V266.2 M344.69 264.6V266.2 M347.29 264.6V266.2 M349.54 264.6V266.2 M351.52 264.6V266.2 M364.98 264.6V266.2 M371.81 264.6V266.2 M376.66 264.6V266.2" stroke="#111" stroke-width="0.6" fill="none"/>
<text x="315.3" y="274.56" font-size="6" text-anchor="middle" fill="#1a1a1a" stroke="#1a1a1a" stroke-width="0.15">10<tspan font-size="4.2" dy="-2.7">3</tspan></text>
<text x="354.1" y="274.56" font-size="6" text-anchor="middle" fill="#1a1a1a" stroke="#1a1a1a" stroke-width="0.15">10<tspan font-size="4.2" dy="-2.7">4</tspan></text>
<text x="341.6" y="288" font-size="8.6" text-anchor="middle" fill="#1a1a1a" font-weight="normal" textLength="34.2" lengthAdjust="spacingAndGlyphs" stroke="#1a1a1a" stroke-width="0.45">FLT3/CD135</text>
<text transform="translate(280.3,238.8) rotate(-90)" x="0" y="2.59" font-size="7.2" text-anchor="middle" fill="#1a1a1a" font-weight="normal" textLength="13.5" lengthAdjust="spacingAndGlyphs" stroke="#1a1a1a" stroke-width="0.3">Count</text>
<line x1="430" y1="212.1" x2="430" y2="265.1" stroke="#111" stroke-width="1.25"/>
<path d="M427.2 215.3H430 M427.2 227.6H430 M427.2 239.9H430 M427.2 252.2H430 M427.2 264.6H430 M428.3 217.76H430 M428.3 220.22H430 M428.3 222.68H430 M428.3 225.14H430 M428.3 230.06H430 M428.3 232.52H430 M428.3 234.98H430 M428.3 237.44H430 M428.3 242.36H430 M428.3 244.82H430 M428.3 247.28H430 M428.3 249.74H430 M428.3 254.68H430 M428.3 257.16H430 M428.3 259.64H430 M428.3 262.12H430" stroke="#111" stroke-width="0.7" fill="none"/>
<text x="423.9" y="217.42" font-size="5.9" text-anchor="end" fill="#1a1a1a" font-weight="normal" stroke="#1a1a1a" stroke-width="0.1">79</text>
<text x="423.9" y="229.72" font-size="5.9" text-anchor="end" fill="#1a1a1a" font-weight="normal" stroke="#1a1a1a" stroke-width="0.1">59</text>
<text x="423.9" y="242.02" font-size="5.9" text-anchor="end" fill="#1a1a1a" font-weight="normal" stroke="#1a1a1a" stroke-width="0.1">40</text>
<text x="423.9" y="254.32" font-size="5.9" text-anchor="end" fill="#1a1a1a" font-weight="normal" stroke="#1a1a1a" stroke-width="0.1">20</text>
<text x="423.9" y="266.72" font-size="5.9" text-anchor="end" fill="#1a1a1a" font-weight="normal" stroke="#1a1a1a" stroke-width="0.1">0</text>
<line x1="429.5" y1="264.6" x2="511.7" y2="264.6" stroke="#111" stroke-width="1.25"/>
<path d="M429.4 264.6V267 M459.8 264.6V267 M490 264.6V267" stroke="#111" stroke-width="0.7" fill="none"/>
<path d="M438.55 264.6V266.2 M443.9 264.6V266.2 M447.7 264.6V266.2 M450.65 264.6V266.2 M453.06 264.6V266.2 M455.09 264.6V266.2 M456.85 264.6V266.2 M458.41 264.6V266.2 M468.89 264.6V266.2 M474.21 264.6V266.2 M477.98 264.6V266.2 M480.91 264.6V266.2 M483.3 264.6V266.2 M485.32 264.6V266.2 M487.07 264.6V266.2 M488.62 264.6V266.2 M499.15 264.6V266.2 M504.5 264.6V266.2 M508.3 264.6V266.2" stroke="#111" stroke-width="0.6" fill="none"/>
<text x="430.2" y="275.16" font-size="6" text-anchor="middle" fill="#1a1a1a" stroke="#1a1a1a" stroke-width="0.15">10<tspan font-size="4.2" dy="-2.7">3</tspan></text>
<text x="460.6" y="275.16" font-size="6" text-anchor="middle" fill="#1a1a1a" stroke="#1a1a1a" stroke-width="0.15">10<tspan font-size="4.2" dy="-2.7">4</tspan></text>
<text x="490.8" y="275.16" font-size="6" text-anchor="middle" fill="#1a1a1a" stroke="#1a1a1a" stroke-width="0.15">10<tspan font-size="4.2" dy="-2.7">5</tspan></text>
<text x="471.7" y="287.7" font-size="8.6" text-anchor="middle" fill="#1a1a1a" font-weight="normal" textLength="17.8" lengthAdjust="spacingAndGlyphs" stroke="#1a1a1a" stroke-width="0.45">pSTAT5</text>
<text transform="translate(407.3,238.7) rotate(-90)" x="0" y="2.59" font-size="7.2" text-anchor="middle" fill="#1a1a1a" font-weight="normal" textLength="13.2" lengthAdjust="spacingAndGlyphs" stroke="#1a1a1a" stroke-width="0.3">Count</text>
<path d="M63.7 264.6C64.42 264.27 66.6 263.7 68 262.6C69.4 261.5 70.93 259.93 72.1 258C73.27 256.07 74.05 253.58 75 251C75.95 248.42 77.03 245.17 77.8 242.5C78.57 239.83 79.02 237.35 79.6 235C80.18 232.65 80.72 230.4 81.3 228.4C81.88 226.4 82.5 224.53 83.1 223C83.7 221.47 84.3 220.32 84.9 219.2C85.5 218.08 86.12 216.88 86.7 216.3C87.28 215.72 87.82 215.5 88.4 215.7C88.98 215.9 89.6 216.68 90.2 217.5C90.8 218.32 91.4 219.1 92 220.6C92.6 222.1 93.22 224.27 93.8 226.5C94.38 228.73 94.93 231.33 95.5 234C96.07 236.67 96.62 239.67 97.2 242.5C97.78 245.33 98.4 248.67 99 251C99.6 253.33 100.2 254.85 100.8 256.5C101.4 258.15 101.95 259.73 102.6 260.9C103.25 262.07 104 262.88 104.7 263.5C105.4 264.12 106.45 264.42 106.8 264.6" fill="none" stroke="#175593" stroke-width="1.2" stroke-linejoin="round"/>
<path d="M63.7 264.6C64.42 264.27 66.6 263.7 68 262.6C69.4 261.5 70.93 259.93 72.1 258C73.27 256.07 74.05 253.58 75 251C75.95 248.42 77.03 245.17 77.8 242.5C78.57 239.83 79.02 237.35 79.6 235C80.18 232.65 80.65 230.82 81.3 228.4C81.95 225.98 82.78 222.62 83.5 220.5C84.22 218.38 85.02 216.03 85.6 215.7C86.18 215.37 86.53 217.1 87 218.5C87.47 219.9 87.87 221.77 88.4 224.1C88.93 226.43 89.6 229.67 90.2 232.5C90.8 235.33 91.47 238.27 92 241.1C92.53 243.93 92.93 246.9 93.4 249.5C93.87 252.1 94.23 254.7 94.8 256.7C95.37 258.7 96.1 260.32 96.8 261.5C97.5 262.68 98.17 263.28 99 263.8C99.83 264.32 101.33 264.47 101.8 264.6" fill="none" stroke="#d2163e" stroke-width="1.2" stroke-linejoin="round"/>
<path d="M179.7 264.6C180.67 264.08 183.6 263.13 185.5 261.5C187.4 259.87 189.3 260.07 191.1 254.8C192.9 249.53 194.92 236.47 196.3 229.9C197.68 223.33 198.37 216.1 199.4 215.4C200.43 214.7 201.12 222.25 202.5 225.7C203.88 229.15 206.32 235.75 207.7 236.1C209.08 236.45 209.77 230.83 210.8 227.8C211.83 224.77 212.87 218.25 213.9 217.9C214.93 217.55 215.95 220.93 217 225.7C218.05 230.47 219.15 240.62 220.2 246.5C221.25 252.38 222.27 257.98 223.3 261C224.33 264.02 225.88 264 226.4 264.6" fill="none" stroke="#175593" stroke-width="1.2" stroke-linejoin="round"/>
<path d="M170.4 264.6C172.12 264.38 177.93 265.28 180.7 263.3C183.47 261.32 185.27 257.23 187 252.7C188.73 248.17 190.02 241.22 191.1 236.1C192.18 230.98 192.8 225.38 193.5 222C194.2 218.62 194.48 215.87 195.3 215.8C196.12 215.73 197.37 218.22 198.4 221.6C199.43 224.98 200.47 231.95 201.5 236.1C202.53 240.25 203.63 244.6 204.6 246.5C205.57 248.4 206.27 246.63 207.3 247.5C208.33 248.37 209.52 249.45 210.8 251.7C212.08 253.95 213.62 258.85 215 261C216.38 263.15 218.42 264 219.1 264.6" fill="none" stroke="#d2163e" stroke-width="1.2" stroke-linejoin="round"/>
<path d="M317.7 264.6C318.57 263.32 321.35 261.65 322.9 256.9C324.45 252.15 325.82 242.25 327 236.1C328.18 229.95 329.13 223.52 330 220C330.87 216.48 331.32 214.73 332.2 215C333.08 215.27 334.25 217.05 335.3 221.6C336.35 226.15 337.28 236.42 338.5 242.3C339.72 248.18 340.88 253.18 342.6 256.9C344.32 260.62 347.77 263.32 348.8 264.6" fill="none" stroke="#175593" stroke-width="1.2" stroke-linejoin="round"/>
<path d="M318.7 264.6C319.75 262.97 323.27 259.55 325 254.8C326.73 250.05 327.77 241.9 329.1 236.1C330.43 230.3 331.88 223.38 333 220C334.12 216.62 334.72 215.18 335.8 215.8C336.88 216.42 338.37 219.62 339.5 223.7C340.63 227.78 341.38 234.77 342.6 240.3C343.82 245.83 344.9 252.85 346.8 256.9C348.7 260.95 352.8 263.32 354 264.6" fill="none" stroke="#d2163e" stroke-width="1.2" stroke-linejoin="round"/>
<path d="M454 264.6C454.87 262.97 457.63 259.9 459.2 254.8C460.77 249.7 462.18 238.92 463.4 234C464.62 229.08 465.47 226.5 466.5 225.3C467.53 224.1 468.63 227.42 469.6 226.8C470.57 226.18 471.33 223.5 472.3 221.6C473.27 219.7 474.37 215.05 475.4 215.4C476.43 215.75 477.5 219.22 478.5 223.7C479.5 228.18 480.47 236.77 481.4 242.3C482.33 247.83 482.95 253.18 484.1 256.9C485.25 260.62 487.6 263.32 488.3 264.6" fill="none" stroke="#175593" stroke-width="1.2" stroke-linejoin="round"/>
<path d="M448.9 264.6C450.1 264 454.2 263.33 456.1 261C458 258.67 458.73 255.78 460.3 250.6C461.87 245.42 463.95 235.77 465.5 229.9C467.05 224.03 468.4 216.78 469.6 215.4C470.8 214.02 471.67 217.45 472.7 221.6C473.73 225.75 474.58 234.08 475.8 240.3C477.02 246.52 478.43 254.85 480 258.9C481.57 262.95 484.33 263.65 485.2 264.6" fill="none" stroke="#d2163e" stroke-width="1.2" stroke-linejoin="round"/>
<line x1="43.3" y1="305.3" x2="43.3" y2="368.5" stroke="#111" stroke-width="1"/>
<path d="M40.7 307.6H43.3 M40.7 327.7H43.3 M40.7 347.8H43.3 M40.7 368H43.3" stroke="#111" stroke-width="0.6"/>
<text x="37.4" y="309.94" font-size="6.5" text-anchor="end" fill="#1a1a1a" font-weight="normal" stroke="#1a1a1a" stroke-width="0.1">6000</text>
<text x="37.4" y="330.04" font-size="6.5" text-anchor="end" fill="#1a1a1a" font-weight="normal" stroke="#1a1a1a" stroke-width="0.1">4000</text>
<text x="37.4" y="350.14" font-size="6.5" text-anchor="end" fill="#1a1a1a" font-weight="normal" stroke="#1a1a1a" stroke-width="0.1">2000</text>
<text x="37.4" y="370.34" font-size="6.5" text-anchor="end" fill="#1a1a1a" font-weight="normal" stroke="#1a1a1a" stroke-width="0.1">0</text>
<rect x="48.75" y="314.5" width="11.75" height="53.5" fill="#134f85"/>
<rect x="72.5" y="323.75" width="11.75" height="44.25" fill="#c8163a"/>
<line x1="42.8" y1="368" x2="89.5" y2="368" stroke="#111" stroke-width="1"/>
<path d="M54.62 368V370.2M78.38 368V370.2" stroke="#111" stroke-width="0.6"/>
<text x="54.62" y="378.83" font-size="6.2" text-anchor="middle" fill="#1a1a1a" font-weight="normal" stroke="#1a1a1a" stroke-width="0.1">Pre</text>
<text x="78.38" y="378.83" font-size="6.2" text-anchor="middle" fill="#1a1a1a" font-weight="normal" stroke="#1a1a1a" stroke-width="0.1">D30</text>
<text x="66" y="390.5" font-size="8.6" text-anchor="middle" fill="#1a1a1a" font-weight="normal" textLength="9.6" lengthAdjust="spacingAndGlyphs" stroke="#1a1a1a" stroke-width="0.4">MFI</text>
<text transform="translate(14.6,336.9) rotate(-90)" x="0" y="2.88" font-size="8" text-anchor="middle" fill="#1a1a1a" font-weight="normal" textLength="20.3" lengthAdjust="spacingAndGlyphs" stroke="#1a1a1a" stroke-width="0.3">Intensity</text>
<line x1="165.8" y1="305.3" x2="165.8" y2="368.5" stroke="#111" stroke-width="1"/>
<path d="M163.2 307.6H165.8 M163.2 327.7H165.8 M163.2 347.8H165.8 M163.2 368H165.8" stroke="#111" stroke-width="0.6"/>
<text x="160.1" y="309.9" font-size="6.4" text-anchor="end" fill="#1a1a1a" font-weight="normal" stroke="#1a1a1a" stroke-width="0.1">30000</text>
<text x="160.1" y="330" font-size="6.4" text-anchor="end" fill="#1a1a1a" font-weight="normal" stroke="#1a1a1a" stroke-width="0.1">20000</text>
<text x="160.1" y="350.1" font-size="6.4" text-anchor="end" fill="#1a1a1a" font-weight="normal" stroke="#1a1a1a" stroke-width="0.1">10000</text>
<text x="160.1" y="370.3" font-size="6.4" text-anchor="end" fill="#1a1a1a" font-weight="normal" stroke="#1a1a1a" stroke-width="0.1">0</text>
<rect x="171.2" y="319.8" width="11.5" height="48.2" fill="#134f85"/>
<rect x="194" y="344" width="11.6" height="24" fill="#c8163a"/>
<line x1="165.3" y1="368" x2="210.2" y2="368" stroke="#111" stroke-width="1"/>
<path d="M176.95 368V370.2M199.8 368V370.2" stroke="#111" stroke-width="0.6"/>
<text x="176.95" y="378.83" font-size="6.2" text-anchor="middle" fill="#1a1a1a" font-weight="normal" stroke="#1a1a1a" stroke-width="0.1">Pre</text>
<text x="199.8" y="378.83" font-size="6.2" text-anchor="middle" fill="#1a1a1a" font-weight="normal" stroke="#1a1a1a" stroke-width="0.1">D30</text>
<text x="188.1" y="390.6" font-size="8.6" text-anchor="middle" fill="#1a1a1a" font-weight="normal" textLength="9.6" lengthAdjust="spacingAndGlyphs" stroke="#1a1a1a" stroke-width="0.4">MFI</text>
<text transform="translate(133,336.4) rotate(-90)" x="0" y="2.88" font-size="8" text-anchor="middle" fill="#1a1a1a" font-weight="normal" textLength="21.3" lengthAdjust="spacingAndGlyphs" stroke="#1a1a1a" stroke-width="0.3">Intensity</text>
<line x1="302.7" y1="305.3" x2="302.7" y2="368.5" stroke="#111" stroke-width="1"/>
<path d="M300.1 307.7H302.7 M300.1 322.8H302.7 M300.1 337.8H302.7 M300.1 352.9H302.7 M300.1 368H302.7" stroke="#111" stroke-width="0.6"/>
<text x="297" y="309.97" font-size="6.3" text-anchor="end" fill="#1a1a1a" font-weight="normal" stroke="#1a1a1a" stroke-width="0.1">4000</text>
<text x="297" y="325.07" font-size="6.3" text-anchor="end" fill="#1a1a1a" font-weight="normal" stroke="#1a1a1a" stroke-width="0.1">3000</text>
<text x="297" y="340.07" font-size="6.3" text-anchor="end" fill="#1a1a1a" font-weight="normal" stroke="#1a1a1a" stroke-width="0.1">2000</text>
<text x="297" y="355.17" font-size="6.3" text-anchor="end" fill="#1a1a1a" font-weight="normal" stroke="#1a1a1a" stroke-width="0.1">1000</text>
<text x="297" y="370.27" font-size="6.3" text-anchor="end" fill="#1a1a1a" font-weight="normal" stroke="#1a1a1a" stroke-width="0.1">0</text>
<rect x="308.7" y="329.5" width="11.3" height="38.5" fill="#134f85"/>
<rect x="332.1" y="323.5" width="11.6" height="44.5" fill="#c8163a"/>
<line x1="302.2" y1="368" x2="349.1" y2="368" stroke="#111" stroke-width="1"/>
<path d="M314.35 368V370.2M337.9 368V370.2" stroke="#111" stroke-width="0.6"/>
<text x="314.35" y="378.83" font-size="6.2" text-anchor="middle" fill="#1a1a1a" font-weight="normal" stroke="#1a1a1a" stroke-width="0.1">Pre</text>
<text x="337.9" y="378.83" font-size="6.2" text-anchor="middle" fill="#1a1a1a" font-weight="normal" stroke="#1a1a1a" stroke-width="0.1">D27</text>
<text x="326.2" y="391" font-size="8.6" text-anchor="middle" fill="#1a1a1a" font-weight="normal" textLength="9.6" lengthAdjust="spacingAndGlyphs" stroke="#1a1a1a" stroke-width="0.4">MFI</text>
<text transform="translate(273.5,336.5) rotate(-90)" x="0" y="2.88" font-size="8" text-anchor="middle" fill="#1a1a1a" font-weight="normal" textLength="21.5" lengthAdjust="spacingAndGlyphs" stroke="#1a1a1a" stroke-width="0.3">Intensity</text>
<line x1="430" y1="305.3" x2="430" y2="368.5" stroke="#111" stroke-width="1"/>
<path d="M427.4 307.6H430 M427.4 327.7H430 M427.4 347.8H430 M427.4 368H430" stroke="#111" stroke-width="0.6"/>
<text x="424.1" y="309.9" font-size="6.4" text-anchor="end" fill="#1a1a1a" font-weight="normal" stroke="#1a1a1a" stroke-width="0.1">30000</text>
<text x="424.1" y="330" font-size="6.4" text-anchor="end" fill="#1a1a1a" font-weight="normal" stroke="#1a1a1a" stroke-width="0.1">20000</text>
<text x="424.1" y="350.1" font-size="6.4" text-anchor="end" fill="#1a1a1a" font-weight="normal" stroke="#1a1a1a" stroke-width="0.1">10000</text>
<text x="424.1" y="370.3" font-size="6.4" text-anchor="end" fill="#1a1a1a" font-weight="normal" stroke="#1a1a1a" stroke-width="0.1">0</text>
<rect x="435.3" y="323.6" width="11.5" height="44.4" fill="#134f85"/>
<rect x="458" y="330.9" width="11.8" height="37.1" fill="#c8163a"/>
<line x1="429.5" y1="368" x2="474" y2="368" stroke="#111" stroke-width="1"/>
<path d="M441.05 368V370.2M463.9 368V370.2" stroke="#111" stroke-width="0.6"/>
<text x="441.05" y="378.83" font-size="6.2" text-anchor="middle" fill="#1a1a1a" font-weight="normal" stroke="#1a1a1a" stroke-width="0.1">Pre</text>
<text x="463.9" y="378.83" font-size="6.2" text-anchor="middle" fill="#1a1a1a" font-weight="normal" stroke="#1a1a1a" stroke-width="0.1">D27</text>
<text x="452.4" y="390.7" font-size="8.6" text-anchor="middle" fill="#1a1a1a" font-weight="normal" textLength="9.6" lengthAdjust="spacingAndGlyphs" stroke="#1a1a1a" stroke-width="0.4">MFI</text>
<text transform="translate(397,333.1) rotate(-90)" x="0" y="2.88" font-size="8" text-anchor="middle" fill="#1a1a1a" font-weight="normal" textLength="21.3" lengthAdjust="spacingAndGlyphs" stroke="#1a1a1a" stroke-width="0.3">Intensity</text>
<rect x="70" y="398.4" width="4.4" height="4.4" fill="#134f85"/>
<text x="78.3" y="403.08" font-size="6.9" text-anchor="start" fill="#1a1a1a" font-weight="normal" textLength="41.5" lengthAdjust="spacingAndGlyphs" stroke="#1a1a1a" stroke-width="0.1">Pre-treatment</text>
<rect x="131.3" y="398.4" width="4.4" height="4.4" fill="#c8163a"/>
<text x="138.6" y="403.08" font-size="6.9" text-anchor="start" fill="#1a1a1a" font-weight="normal" textLength="45.8" lengthAdjust="spacingAndGlyphs" stroke="#1a1a1a" stroke-width="0.1">Post-treatment</text>
<rect x="332.1" y="398.9" width="4.4" height="4.4" fill="#134f85"/>
<text x="340.3" y="403.58" font-size="6.9" text-anchor="start" fill="#1a1a1a" font-weight="normal" textLength="41.1" lengthAdjust="spacingAndGlyphs" stroke="#1a1a1a" stroke-width="0.1">Pre-treatment</text>
<rect x="393.4" y="398.9" width="4.4" height="4.4" fill="#c8163a"/>
<text x="401.2" y="403.58" font-size="6.9" text-anchor="start" fill="#1a1a1a" font-weight="normal" textLength="45.1" lengthAdjust="spacingAndGlyphs" stroke="#1a1a1a" stroke-width="0.1">Post-treatment</text>
<path d="M84.4 33.2h.6m2 .1h.6m-.5 .1h.6m-3.5 .4h.6m1.3-.1h.6m.5 0h.6m-.2 .2h.6m2.8 0h.6m.5-.3h.6m-.5 0h.6m-6.4 .7h.6m-.5 .4h.6m-.5-.1h.6m.7 0h.6m-.1 .1h.6m.7 .2h.6m-4.3 .4h.6m2.1 .2h.6m3-.1h.6m-7.8 .2h.6m1.1 .1h.6m.4 0h.6m.7 0h.6m2-.1h.6m-5 .6h.6m-5.3 .2h.6m6.1 .3h.6m-4.8 .2h.6m1.2 0h.6m0 .2h.6m-.4-.1h.6m-3.8 .3h.6m3.1 .2h.6m0-.3h.6m-.3 .5h.6m1.9 0h.6m-7.2 .4h.6m-.1-.1h.6m1.3 0h.6m-2.5 .5h.6m-.1 0h.6m.3 .2h.6m-.4-.2h.6m.2 .1h.6m2.5 .1h.6m-8.8 .3h.6m.2-.1h.6m.2 0h.6m-.3 .1h.6m.2-.1h.6m.6-.1h.6m.2 .1h.6m-.2 .2h.6m-.4-.3h.6m-.6 0h.6m-.3 .1h.6m-.5 .2h.6m1 0h.6m-.5-.1h.6m.1-.1h.6m-5.1 .5h.6m.5-.1h.6m0 .2h.6m-.1-.1h.6m-5.9 .3h.6m2.1 .2h.6m.2-.1h.6m.7-.1h.6m2.2 0h.6m.8-.1h.6m-10.1 .4h.6m1.2 0h.6m-.3 .3h.6m1.2 0h.6m0 0h.6m1.1-.1h.6m.7 0h.6m2.1-.2h.6m-9.4 .4h.6m.7 0h.6m-.3 .1h.6m.7 0h.6m1.2 0h.6m2.8 0h.6m-8.3 .4h.6m1 .1h.6m-.1-.2h.6m2.2 .2h.6m-7.3 .2h.6m1.6 .3h.6m.6-.3h.6m.6 .2h.6m-.5 .1h.6m-.6-.2h.6m-.4 .1h.6m1.1 0h.6m-7.1 .5h.6m.6-.1h.6m1.7 .1h.6m-.3-.2h.6m-.5 .1h.6m-.2-.1h.6m-.4 .2h.6m1-.2h.6m1 .1h.6m-8 .4h.6m2.5-.2h.6m-.3 .1h.6m-.2 .2h.6m1.4-.2h.6m.3 .1h.6m3.2-.1h.6m-12.2 .6h.6m-.4 0h.6m.4-.2h.6m-.2 .2h.6m1.3-.3h.6m.7 .3h.6m-.6 0h.6m-.4-.1h.6m-.4-.1h.6m-.4 .1h.6m.2 0h.6m-.3 0h.6m-.6 .1h.6m-.4-.3h.6m-.5 .2h.6m-.5-.1h.6m.2 0h.6m.5-.1h.6m-6.9 .7h.6m.2 0h.6m-.1-.1h.6m-.3-.2h.6m.2 .3h.6m.2-.3h.6m1.1 0h.6m.7 .3h.6m1.9-.2h.6m-11.3 .5h.6m-.5 0h.6m-.3-.2h.6m.5 0h.6m.4 .3h.6m-.5-.2h.6m-.6-.1h.6m.3 0h.6m-.1 0h.6m-.6 .1h.6m-.6 .1h.6m-.2 .1h.6m-.4-.2h.6m-.6-.1h.6m0 0h.6m-.4 .3h.6m.3-.3h.6m2.1 .2h.6m-7.7 .3h.6m-.3-.1h.6m.3 0h.6m-.2 .2h.6m-.5 .1h.6m-.5 0h.6m.2 0h.6m-.5-.2h.6m-.3 .1h.6m.8-.1h.6m-.3 .2h.6m3.3 0h.6m-11.1 .4h.6m.2-.1h.6m-.5 0h.6m1.3-.2h.6m-.3 .3h.6m.2 0h.6m-.4-.3h.6m-.6 0h.6m.2 0h.6m-.4 0h.6m-.5 0h.6m-.6 .2h.6m-.6 0h.6m-.4 0h.6m.6 0h.6m-.3 0h.6m-.2 .1h.6m.2-.1h.6m-7.7 .2h.6m-.2 0h.6m-.2 0h.6m.6 0h.6m-.3 .3h.6m-.6-.1h.6m-.2-.2h.6m.5 0h.6m-.1 .3h.6m-.6 0h.6m2.7-.3h.6m-7.7 .5h.6m.5 .1h.6m.8-.2h.6m0 .2h.6m-.6 0h.6m1.4-.1h.6m-.5 .2h.6m.7-.2h.6m1.2 .2h.6m-9.9 .2h.6m1-.1h.6m1.1 .2h.6m-.4 .1h.6m-.4 0h.6m.1 0h.6m0-.2h.6m-.4 0h.6m.2 0h.6m.6 .1h.6m1.3-.1h.6m-9.5 .6h.6m-.4-.2h.6m.1-.1h.6m-.4 .2h.6m.7-.1h.6m-.6 0h.6m.7 .2h.6m.4-.3h.6m-9.9 .4h.6m1.2 .1h.6m3.5-.1h.6m-.3 0h.6m-.3 .2h.6m-.4-.1h.6m.1 0h.6m.1 0h.6m1.5 .1h.6m.1 .1h.6m-.2 0h.6m-.3 0h.6m1.3 0h.6m-6.5 .3h.6m-.2 0h.6m1-.2h.6m-.2 .1h.6m.1 0h.6m.3 .1h.6m-.4-.2h.6m-9 .6h.6m0 0h.6m.2-.1h.6m.3 .1h.6m-.4 .1h.6m-.4-.3h.6m-.4 0h.6m-.2 .3h.6m-.4 0h.6m-.4-.3h.6m-.5 0h.6m-.6 .1h.6m-.6-.1h.6m-.2 .2h.6m-.5 0h.6m-.5-.2h.6m.3 .1h.6m-.1-.1h.6m-.5 0h.6m-.6 .1h.6m.1-.1h.6m-6.4 .7h.6m-.4-.3h.6m0 .1h.6m.4 .1h.6m-.1 .1h.6m.8-.3h.6m.8 .2h.6m-.4 .1h.6m-.4-.1h.6m.1-.1h.6m-8.9 .6h.6m.8 0h.6m1.1-.1h.6m-.3 0h.6m.8-.2h.6m-.4 .2h.6m-.5 .1h.6m-.5-.1h.6m-.3 0h.6m-.3-.1h.6m-.4 0h.6m.1 0h.6m.2-.1h.6m0 .3h.6m-.4 0h.6m-.5-.1h.6m-.5 0h.6m-.3-.1h.6m-7.3 .3h.6m.2 0h.6m-.5 0h.6m.1 .3h.6m-.2-.3h.6m-.5 .2h.6m-.1 .1h.6m-.4 0h.6m2.5-.3h.6m-.3 .3h.6m-7.7 .3h.6m-.5 0h.6m1.5 .1h.6m-.5-.3h.6m-.5 .1h.6m-.5 0h.6m-.3-.1h.6m-.1 .1h.6m-.2 .2h.6m.1-.1h.6m0-.2h.6m.4 0h.6m-.6 .3h.6m-.4-.3h.6m-.5 .2h.6m-.2-.1h.6m.1 .2h.6m-8.3 .2h.6m0 .1h.6m.6-.1h.6m-.3 .2h.6m.2 0h.6m-.1-.3h.6m-.4 .1h.6m0 0h.6m.4 0h.6m-.4 .1h.6m0-.1h.6m-.5 0h.6m-.3 .2h.6m-.3-.3h.6m-.3 .2h.6m0-.2h.6m-8.7 .5h.6m1.3 0h.6m.7 .1h.6m-.3-.2h.6m-.2 .3h.6m.3-.3h.6m0 .3h.6m.5-.3h.6m-.4 .1h.6m1.3 .1h.6m-.1-.2h.6m-.3 .2h.6m-8.9 .5h.6m-.4-.3h.6m-.2 .3h.6m-.3-.3h.6m-.1 0h.6m0 .1h.6m-.2 0h.6m-.2 0h.6m-.3 .2h.6m-.6-.2h.6m-.4 0h.6m-.4 .1h.6m-.3-.1h.6m0 .2h.6m-.6-.1h.6m-.3-.1h.6m-.6-.1h.6m-.1 0h.6m.4 .2h.6m-5.4 .5h.6m.4-.2h.6m.1 0h.6m-.3 0h.6m-.4-.1h.6m-.3 .1h.6m-.4-.1h.6m-.6 0h.6m-.4 0h.6m.7 .2h.6m2.4 .1h.6m-12 .3h.6m1.5-.2h.6m-.4 .3h.6m.7-.1h.6m-.5 0h.6m-.4-.1h.6m.1 .2h.6m-.2-.3h.6m-.3 .1h.6m-.5 .1h.6m0-.1h.6m-.4 .2h.6m-.5-.3h.6m-.3 .1h.6m-.1 .2h.6m-.4-.1h.6m-.6 .1h.6m-.2-.1h.6m-.3-.1h.6m.2 .1h.6m-.5 0h.6m0 0h.6m-.3 .1h.6m.8-.2h.6m-9.1 .5h.6m1.8 0h.6m-.6 0h.6m-.5 .1h.6m-.4 0h.6m-.4 0h.6m-.6-.3h.6m-.2 .2h.6m-.4-.1h.6m-.3 .2h.6m-.2-.2h.6m-.5 .2h.6m.3-.3h.6m-.4 0h.6m-.6 .3h.6m-.6-.3h.6m-.2 .2h.6m-.4-.1h.6m.8 .1h.6m.2 0h.6m1-.1h.6m-8.5 .6h.6m-.3-.3h.6m-.5 .2h.6m.6 0h.6m.1-.1h.6m-.6 .2h.6m-.5-.2h.6m.7 .1h.6m-.2-.2h.6m.9 0h.6m-7.8 .4h.6m-.3 .1h.6m1.2 .2h.6m0-.2h.6m-.5 .2h.6m-.5-.3h.6m-.5 .3h.6m-.2 0h.6m.1-.3h.6m.2 .3h.6m.1 0h.6m-.6-.1h.6m-.2-.1h.6m.4 .1h.6m1.2-.1h.6m-8.6 .5h.6m1.1 0h.6m-.5 .1h.6m-.5 0h.6m-.3-.1h.6m-.6 .1h.6m-.4-.2h.6m-.3 0h.6m-.5-.1h.6m-.6 .1h.6m-.3-.1h.6m-.4 .1h.6m-.3 .1h.6m-.5-.1h.6m-.5 .1h.6m-.4-.2h.6m.4 0h.6m0 .3h.6m-.6-.1h.6m-6.4 .4h.6m.3 0h.6m.4-.2h.6m-.3 .3h.6m-.3-.3h.6m-.5 0h.6m0 .2h.6m-.4-.1h.6m-.5 .1h.6m.1 .1h.6m.7-.1h.6m1.3-.2h.6m-8.8 .4h.6m-.3 .2h.6m0-.2h.6m-.3 .1h.6m-.4 .2h.6m-.2-.2h.6m.4-.1h.6m.1 0h.6m-.6 .2h.6m-.2-.2h.6m.6 0h.6m-.3 0h.6m-.3 .3h.6m.1 0h.6m-6.8 .3h.6m.6-.2h.6m-.1 0h.6m-.1 0h.6m-.4 0h.6m-.3 0h.6m-.1 .2h.6m-.4 0h.6m.1 .1h.6m-.3 0h.6m.4-.1h.6m-.2-.2h.6m-6 .6h.6m-.2-.2h.6m.5 .3h.6m-.3-.1h.6m1.3-.1h.6m-.1-.1h.6m-.4 .3h.6m-.5-.3h.6m-.1 .2h.6m.5 0h.6m.1-.1h.6m-9 .5h.6m-.6-.2h.6m.4 0h.6m-.2 .2h.6m-.6 .1h.6m-.4-.3h.6m-.3 0h.6m0 .3h.6m-.5-.2h.6m.7 .1h.6m-.5-.1h.6m-.5-.1h.6m0 .1h.6m-.4 .1h.6m-.6-.2h.6m-3.6 .7h.6m0-.3h.6m1.8 .1h.6m-.3 .2h.6m.2 0h.6m.2-.2h.6m-.5 .2h.6m-.4 0h.6m-.4-.1h.6m0-.2h.6m-7.4 .4h.6m.5 .3h.6m-.5-.3h.6m.2 .2h.6m-.4-.1h.6m-.4 .2h.6m-.2-.2h.6m0 0h.6m-.6 .1h.6m-.4-.2h.6m-.4 .3h.6m-.6-.2h.6m-.5 0h.6m.6 .1h.6m-6.8 .2h.6m.8 .3h.6m2.2-.2h.6m-.4-.1h.6m-.4 0h.6m.3 .1h.6m.8 .2h.6m-.2 0h.6m-8 .3h.6m1.1-.1h.6m.1 .1h.6m.4 .1h.6m-.3-.1h.6m-.4-.1h.6m-.4-.1h.6m-.6 .2h.6m-.2-.1h.6m-.2 .2h.6m-7 .2h.6m-.1 .1h.6m2.5-.1h.6m-.6 .1h.6m.3 .1h.6m.1-.3h.6m-.6 .3h.6m-.6-.1h.6m-.5 .1h.6m.2-.1h.6m.5-.1h.6m.2-.1h.6m-.2 .1h.6m-7.3 .6h.6m.3-.3h.6m.4 .1h.6m-.4 0h.6m-.5 0h.6m.5 0h.6m-.2-.1h.6m-.4 0h.6m.4 .2h.6m-.5-.1h.6m0-.1h.6m.6 .1h.6m-.1 .2h.6m1.5-.3h.6m-10.7 .7h.6m0-.2h.6m.1 .1h.6m-.4-.2h.6m.2 .1h.6m-.3 .1h.6m-.5-.1h.6m.2 0h.6m-.6 .2h.6m.1 0h.6m-.5 0h.6m.3-.3h.6m-.4 .3h.6m0-.3h.6m.7 .1h.6m-.6-.1h.6m-.3 .2h.6m-8.1 .3h.6m.3 0h.6m0-.1h.6m-.2 .3h.6m0-.3h.6m-.2 .3h.6m.1-.2h.6m-.6 .2h.6m-.5-.3h.6m-.2 .1h.6m.2-.1h.6m0 .2h.6m.9 0h.6m-.1 .1h.6m-9.2 .4h.6m2.4-.1h.6m-.4 0h.6m-.3 .1h.6m0-.3h.6m-.6 .2h.6m-.6-.1h.6m-.6-.1h.6m-.5 0h.6m-.5 .1h.6m-.4 0h.6m-.6-.1h.6m-.2 .3h.6m-.4-.3h.6m-.4 0h.6m0 .2h.6m-.3-.2h.6m-.5 .3h.6m-.4-.2h.6m.2 0h.6m-.5 0h.6m.1-.1h.6m-.4 .1h.6m-.5 .2h.6m-.2-.3h.6m-8.8 .4h.6m-.4 .1h.6m.7 .2h.6m-.2-.3h.6m-.2 0h.6m0 .3h.6m.3-.2h.6m-.5-.1h.6m-.4 .1h.6m-.3-.1h.6m-.4 .3h.6m-.2-.3h.6m-.3 .2h.6m-.3-.1h.6m-.3 .2h.6m3.4-.3h.6m-9.9 .4h.6m-.5 .2h.6m.3 0h.6m.2 .1h.6m-.3-.1h.6m-.6-.2h.6m-.5 .3h.6m-.5 0h.6m.3 0h.6m-.3-.3h.6m-.4 0h.6m-.4 .2h.6m-.3-.1h.6m-.4 .1h.6m-.4 .1h.6m.3-.3h.6m4.4 0h.6m-.3 0h.6m-12.2 .6h.6m-.2-.2h.6m-.6 0h.6m-.6 .2h.6m-.1-.1h.6m-.5 0h.6m-.6 .1h.6m-.6-.2h.6m-.3 .2h.6m.4-.1h.6m-.2 0h.6m-.5 .1h.6m-.6-.1h.6m-.4 .1h.6m-.6-.1h.6m-.5 0h.6m-.4 0h.6m-.5 .2h.6m-.5-.3h.6m-.3 .2h.6m-.5 0h.6m-.5-.2h.6m-.1 0h.6m-.6 .1h.6m-.5 0h.6m-.6 0h.6m-.6 .1h.6m-.3 0h.6m-.6-.2h.6m-.4 0h.6m-.5 .2h.6m-.5 0h.6m-.1 0h.6m.4 .1h.6m-.5-.2h.6m-7.5 .6h.6m0 0h.6m-.5-.1h.6m.8-.2h.6m-.6 .2h.6m-.6 0h.6m-.4 .1h.6m.2-.3h.6m0 0h.6m-.2 0h.6m-.5 .3h.6m-.3-.1h.6m-.4-.1h.6m.4 .1h.6m-.5 0h.6m-.4-.1h.6m-.4 0h.6m-.4 0h.6m-.4 .2h.6m-.3 0h.6m1.1-.1h.6m-.5-.2h.6m1.7 .3h.6m-11.3 .3h.6m0-.1h.6m-.2 .2h.6m-.6-.3h.6m-.6 0h.6m.4 .3h.6m-.1-.2h.6m-.3 0h.6m-.5 .1h.6m-.4 .1h.6m-.6 0h.6m-.4-.2h.6m0-.1h.6m-.3 .1h.6m-.6-.1h.6m-.6 0h.6m-.5 .1h.6m.2 0h.6m-.4 .2h.6m0 0h.6m-.6-.2h.6m.1 0h.6m-.6 .1h.6m-.5-.2h.6m-.1 .1h.6m-.3 .1h.6m-10.2 .5h.6m1-.3h.6m-.5 .1h.6m.1 .2h.6m-.5-.2h.6m-.5 .1h.6m-.1 .1h.6m-.4-.2h.6m-.4 .2h.6m.1-.1h.6m.2-.2h.6m-.4 .2h.6m-.5 0h.6m-.5 0h.6m-.6-.2h.6m-.2 .2h.6m-.6-.1h.6m-.5 0h.6m-.5 0h.6m-.5 0h.6m-.4-.1h.6m-.4 .1h.6m-.5 .1h.6m-.4-.2h.6m.3 .1h.6m-.4 .2h.6m1.5-.2h.6m-.3-.1h.6m0 .2h.6m-8.8 .2h.6m-.3 .1h.6m-.5 0h.6m-.6-.1h.6m-.5 0h.6m-.4 .3h.6m-.4 0h.6m-.3-.2h.6m-.6 .1h.6m-.5-.1h.6m-.4-.1h.6m-.4 0h.6m-.5 .1h.6m-.5 0h.6m-.5 .1h.6m-.5-.1h.6m-.6 .2h.6m-.3-.2h.6m-.5 .2h.6m-.3-.2h.6m-.3-.1h.6m-.4 .3h.6m-.6-.2h.6m-.4-.1h.6m-.3 .2h.6m-.5-.2h.6m.1 .1h.6m-.6 0h.6m-.4 0h.6m-.5 .2h.6m-.4-.1h.6m-.4 .1h.6m-.6-.1h.6m-.6 0h.6m-.5-.2h.6m-.4 .2h.6m.2 0h.6m.5 .1h.6m-.4-.2h.6m-13.9 .5h.6m2.9 0h.6m1.7 .1h.6m-.5 0h.6m-.6-.3h.6m-.1 0h.6m-.4 .2h.6m-.6 .1h.6m0-.2h.6m-.6 .1h.6m-.5-.1h.6m-.5 .2h.6m-.4 0h.6m-.5-.1h.6m-.1-.2h.6m-.5 .3h.6m-.2-.1h.6m-.5-.1h.6m-.4 .1h.6m-.2 0h.6m-.5-.2h.6m-.6 .1h.6m-.5 .2h.6m-.5-.2h.6m0-.1h.6m-.5 .2h.6m-.4 .1h.6m-.1-.3h.6m-.6 .3h.6m-.6-.1h.6m-.5 .1h.6m-.5-.3h.6m-.2 .1h.6m-.5-.1h.6m-.2 0h.6m-9.3 .6h.6m-.2 .1h.6m-.1 0h.6m.4-.1h.6m.6 .1h.6m-.5-.1h.6m-.4 0h.6m-.5-.2h.6m-.1 0h.6m-.3 0h.6m-.5 .3h.6m.2-.1h.6m-.3-.1h.6m-.3 .2h.6m0 0h.6m-.2 0h.6m-.5 0h.6m-.6-.2h.6m-.2 .2h.6m-.3 0h.6m-.6-.3h.6m-.5 .2h.6m-.2 .1h.6m-.4 0h.6m-.5-.1h.6m-.5-.2h.6m1.5 0h.6m-10.3 .4h.6m.1 .2h.6m-.2 .1h.6m-.6-.2h.6m.2 0h.6m-.2-.1h.6m-.6 .3h.6m-.5-.2h.6m-.5-.1h.6m0 .2h.6m-.5-.1h.6m-.6 .1h.6m-.3 .1h.6m-.3-.1h.6m-.2-.2h.6m-.4 0h.6m-.5 .1h.6m-.5 .2h.6m-.3 0h.6m-.4 0h.6m-.5-.1h.6m-.6 .1h.6m-.2-.2h.6m-.5-.1h.6m-.4 .3h.6m-.4-.2h.6m-.5-.1h.6m.2 .3h.6m-.5-.2h.6m-.5 .2h.6m-.4-.1h.6m-.5 .1h.6m-.4-.1h.6m-.4 0h.6m-.4-.1h.6m-.4 .1h.6m-.2-.2h.6m-.3 0h.6m-.3 0h.6m-11.2 .6h.6m.1 0h.6m.2 .1h.6m-.1-.1h.6m.2 .1h.6m-.5-.2h.6m-.4 0h.6m-.4 0h.6m-.5 .2h.6m-.4-.1h.6m-.3 .1h.6m-.4-.2h.6m-.6 .1h.6m-.5 .1h.6m-.6 0h.6m0-.1h.6m-.5 .1h.6m-.4-.1h.6m-.5 .1h.6m-.6-.2h.6m-.3-.1h.6m-.5 .1h.6m-.5 0h.6m-.6-.1h.6m-.5 .2h.6m-.6-.1h.6m-.2 0h.6m-.5 .2h.6m-.5-.3h.6m-.4 0h.6m-.5 .2h.6m-.4 .1h.6m-.5-.3h.6m-.4 .3h.6m-.5-.1h.6m-.5 .1h.6m-.2 0h.6m-.4 0h.6m-.5-.1h.6m-.5 0h.6m-.2 0h.6m.3 .1h.6m-.3-.1h.6m.3-.1h.6m-9.8 .5h.6m.6-.1h.6m-.4-.1h.6m-.5 .1h.6m-.5 .2h.6m-.3-.3h.6m-.4 0h.6m0 0h.6m-.6 .3h.6m-.5-.3h.6m-.1 .3h.6m-.5 0h.6m-.5-.2h.6m-.5 .2h.6m-.4-.2h.6m-.4 0h.6m-.4-.1h.6m-.6 .1h.6m-.5 .1h.6m-.5-.1h.6m-.6 .1h.6m-.6 0h.6m.1 .1h.6m-.2-.1h.6m.1 .1h.6m-.2-.2h.6m-.1-.1h.6m-.2 .1h.6m-.6 .2h.6m-.5-.3h.6m-.2 0h.6m-.4 0h.6m.9 .3h.6m-10.1 .4h.6m0 0h.6m-.2 0h.6m-.3-.3h.6m-.3 0h.6m-.6 .3h.6m-.6-.2h.6m-.3-.1h.6m-.6 0h.6m-.6 0h.6m-.6 .2h.6m-.4-.2h.6m-.4 .1h.6m-.4 .1h.6m-.3-.1h.6m-.4-.1h.6m-.6 0h.6m.1 0h.6m-.1 0h.6m-.4 .3h.6m-.6-.1h.6m-.6-.1h.6m-.5 0h.6m-.6 0h.6m-.6-.1h.6m-.5 .2h.6m-.4-.2h.6m0 .2h.6m-.3-.1h.6m-.5 .1h.6m-.5 .1h.6m-.6 0h.6m-.5-.3h.6m0 0h.6m.2 .1h.6m.7 .2h.6m-.4 0h.6m-.4-.2h.6m-.5 .1h.6m-10.8 .5h.6m1.2 0h.6m-.6-.1h.6m-.5-.1h.6m-.6 .2h.6m0-.3h.6m-.6 0h.6m-.4 .1h.6m0 .1h.6m-.6 0h.6m-.2-.1h.6m-.4 .2h.6m-.6-.1h.6m-.5 0h.6m-.5-.1h.6m-.5 .1h.6m-.6 .1h.6m0-.2h.6m-.2 .1h.6m-.2-.1h.6m-.5-.1h.6m-.2 .3h.6m-.4-.2h.6m-.2-.1h.6m-.1 .3h.6m.6-.3h.6m-.5 0h.6m-.1 .2h.6m-.5-.1h.6m-.4-.1h.6m-.4 .1h.6m1.2 0h.6m-32 .6h.6m9.1-.2h.6m10.6 .1h.6m-.5-.2h.6m-.6 .3h.6m-.3-.3h.6m-.3 0h.6m-.2 .2h.6m-.2-.2h.6m-.4 .1h.6m-.3-.1h.6m-.3 .2h.6m-.3 .1h.6m-.4-.1h.6m-.4 0h.6m-.5 0h.6m-.5-.1h.6m-.4-.1h.6m-.6 .1h.6m-.4 0h.6m-.3-.1h.6m-.5 .3h.6m-.3-.3h.6m-.5 0h.6m-.4 .1h.6m-.2 .2h.6m-.5-.3h.6m-.4 .2h.6m-.5-.1h.6m-.5 .2h.6m-.5-.1h.6m-.5-.2h.6m-.5 .1h.6m-.2 0h.6m-.2 .1h.6m-.5 .1h.6m-.6-.2h.6m-.5 0h.6m-.6 .2h.6m-.1-.2h.6m-.2 .1h.6m-.5 0h.6m.1 0h.6m.2 0h.6m-39.5 .3h.6m2.3 .2h.6m7.9 0h.6m6.4 0h.6m0-.1h.6m6.5 .1h.6m1 0h.6m.9-.2h.6m-.4 .2h.6m-.3-.3h.6m0 .2h.6m-.2 0h.6m-.3 .1h.6m-.4-.3h.6m-.2 .2h.6m-.1 .1h.6m-.2-.2h.6m-.4 .1h.6m-.3 0h.6m-.2-.1h.6m-.4-.1h.6m-.5 0h.6m-.3 .2h.6m-.5 0h.6m-.2 0h.6m-.3-.1h.6m-.3-.1h.6m-.6 0h.6m-.6 .2h.6m-.3-.2h.6m-.5 .3h.6m-.4-.3h.6m-.3 .1h.6m-.1 .2h.6m-.4-.2h.6m.7 .1h.6m-.3-.1h.6m-.4 .2h.6m-.2-.2h.6m-40.9 .6h.6m8.6-.2h.6m1.2 .2h.6m0-.2h.6m-.6 .2h.6m4.6-.2h.6m1.3 0h.6m2.2 .2h.6m1.7-.3h.6m.1 .3h.6m1.9 0h.6m1.5-.1h.6m-.4-.1h.6m1-.1h.6m.5 0h.6m.2 .2h.6m0 0h.6m-.3 0h.6m-.4-.1h.6m-.6 .1h.6m-.5-.2h.6m-.3 .1h.6m-.5 0h.6m0-.1h.6m-.4 .2h.6m-.4 0h.6m.3-.2h.6m-.3 0h.6m-.3 0h.6m-.4 0h.6m-.6 .2h.6m-.2 0h.6m-.6 0h.6m-.5 .1h.6m-.3-.3h.6m.3 .3h.6m-.2-.3h.6m-.3 .2h.6m-42.3 .4h.6m3.4-.2h.6m-.1 0h.6m2.7 .2h.6m-.3 0h.6m.5 .1h.6m-.2-.3h.6m7.9 0h.6m6.7 0h.6m.2 .2h.6m-.5-.1h.6m5.4-.1h.6m-.5 .1h.6m.8-.1h.6m-.2 .1h.6m-.2 .1h.6m-.5 0h.6m-.5-.1h.6m-.2-.1h.6m-.6 .1h.6m-.5 .2h.6m-.3-.3h.6m-.1 .3h.6m.1-.1h.6m-.5-.2h.6m-.4 .1h.6m-.5 .1h.6m-.4-.1h.6m-.4-.1h.6m-.3 .2h.6m-.3-.2h.6m-.3 .3h.6m.1-.1h.6m-.1 .1h.6m-.2-.1h.6m3.6-.2h.6m-36.6 .6h.6m.1 .1h.6m-.5-.1h.6m-.2 .1h.6m.8-.1h.6m3.7-.1h.6m.9 0h.6m1.6-.1h.6m1.4 .3h.6m-.3-.2h.6m-.2-.1h.6m-.1 .2h.6m7-.2h.6m2.1 .3h.6m1.2-.3h.6m-.5 0h.6m-.4 0h.6m.2 .2h.6m0 0h.6m-.4-.1h.6m-.5 .2h.6m-.5-.3h.6m-.4 0h.6m-.4 .3h.6m0-.2h.6m-.5 .1h.6m-.2-.1h.6m-.6 .1h.6m-.5-.1h.6m-.5-.1h.6m-.6 .2h.6m-.5-.2h.6m-.6 0h.6m.6 .3h.6m-.5 0h.6m-.3-.1h.6m-.5-.2h.6m-.5 0h.6m-.4 .2h.6m-.2 0h.6m-.5 0h.6m-34.7 .3h.6m1.8 .1h.6m2.1-.1h.6m3.2 .2h.6m2.2 0h.6m2.8-.2h.6m-.2-.1h.6m.6 0h.6m1.9 .2h.6m5.8-.1h.6m.6-.1h.6m1 0h.6m1.7 0h.6m-.3 .1h.6m-.2-.1h.6m.3 .2h.6m-.6-.2h.6m-.6 .2h.6m.2 .1h.6m-.5-.2h.6m-.3-.1h.6m.6 .3h.6m1.6-.2h.6m-32.8 .6h.6m11.7-.1h.6m1.8-.2h.6m3.6 .1h.6m1.3-.1h.6m.9 .2h.6m-.4 0h.6m0-.2h.6m0 .3h.6m-.4-.1h.6m.8 .1h.6m.3-.2h.6m-.4 .2h.6m-.5-.1h.6m.3-.2h.6m.5 .2h.6m-.5 0h.6m.7 0h.6m.1-.1h.6m-31.1 .3h.6m-.5 0h.6m1.3 .1h.6m11.2 0h.6m8.1 .1h.6m.3 0h.6m.2-.1h.6m.7 0h.6m-.1 .1h.6m-.1 0h.6m-.3 .1h.6m-.3-.3h.6m-.5 0h.6m2.3 0h.6m-.4 .1h.6m-29.7 .4h.6m2.7-.1h.6m10.1 .1h.6m7.3 .2h.6m1.1-.3h.6m1.6 .1h.6m.8-.1h.6m-.1 .2h.6m-7.4 .3h.6m-.3 .1h.6m1.2 .1h.6m.1 0h.6m1.1-.1h.6m-.5 0h.6m1.7-.2h.6m.5 .2h.6m-7.9 .5h.6m1-.2h.6m.3 .1h.6m.8-.1h.6m2.2-.1h.6m-29.3 .6h.6m21.2 0h.6m.6-.1h.6m-.5-.1h.6m-.1 .3h.6m-.4-.1h.6m.6 0h.6m-.2 .1h.6m.7 0h.6m.8-.3h.6m-7.2 .4h.6m.8 0h.6m0 0h.6m4.7 0h.6" stroke="#2a2ae6" stroke-width="0.6" stroke-opacity="0.45" fill="none"/>
<path d="M80 33.9h.6m-.2-.2h.6m-1 1h.6m.2 .3h.6m-.5 .3h.6m-1.8 .4h.6m-1.7 .6h.6m1.2-.3h.6m-.6 0h.6m-.5 .3h.6m.1 0h.6m-1.7 .3h.6m.3 .1h.6m-.4-.2h.6m-2.5 .6h.6m-.3 .1h.6m.1 .1h.6m-.1-.1h.6m-2.2 .7h.6m.4-.2h.6m-.2 .2h.6m-.4-.2h.6m-.5 .1h.6m-2 .4h.6m-.5 .1h.6m-.3 0h.6m-.2-.3h.6m.2 0h.6m-.5 .1h.6m-2.9 .6h.6m.8-.1h.6m0-.1h.6m-.6-.1h.6m-.4 .3h.6m-3.6 .2h.6m.6 0h.6m-.5-.1h.6m-.6 .2h.6m-.3-.2h.6m-.4 .3h.6m-.3-.3h.6m-.2 .3h.6m-.6-.3h.6m-.5 0h.6m-.5 0h.6m-2.5 .4h.6m-.2 0h.6m.3 .3h.6m-.6-.3h.6m-.6 0h.6m-.3 .3h.6m-.3-.2h.6m-.4 0h.6m-.5 .2h.6m-.6-.3h.6m-.5 .2h.6m-4.8 .2h.6m.5 .1h.6m1.6 .1h.6m-.6-.2h.6m-.5 .2h.6m-.3 0h.6m-.6-.1h.6m-.4 .1h.6m-.5 .1h.6m-4.1 .3h.6m.2-.2h.6m1 .2h.6m-.2-.2h.6m-.5 .2h.6m-.5-.1h.6m-.5 .1h.6m-.1 0h.6m-4.2 .3h.6m.6 0h.6m0 .2h.6m-.5 0h.6m-.3-.3h.6m-.5 .2h.6m-.1 .1h.6m-.6 0h.6m-.5-.3h.6m-.5 .1h.6m-.4 .2h.6m-.5-.1h.6m-.4 .1h.6m-.4-.3h.6m-5.2 .6h.6m-.4-.2h.6m0 .1h.6m.3 0h.6m-.5 0h.6m-.3 .1h.6m-.3-.2h.6m-.2 .1h.6m-.6-.1h.6m-.3 .3h.6m-.6-.3h.6m-.4 .2h.6m-.5 .1h.6m-.1-.2h.6m-.5-.1h.6m-.4 .2h.6m-.5-.2h.6m-.6 .1h.6m-.3 .1h.6m-6.9 .4h.6m1.6-.1h.6m-.3 .1h.6m.1-.1h.6m-.2 0h.6m.1 0h.6m-.5-.1h.6m-.5 .2h.6m-.5-.2h.6m-.3 .2h.6m-.5-.2h.6m-.6 .1h.6m-.5 .2h.6m-.5-.2h.6m-.6 .1h.6m-.1 0h.6m-.6-.1h.6m-.5-.1h.6m-.5 .2h.6m-.4 .1h.6m-.5-.3h.6m-6.1 .7h.6m-.5-.1h.6m.3-.1h.6m-.6-.1h.6m.2 .3h.6m-.5-.2h.6m-.5 .1h.6m-.3 0h.6m-.1-.1h.6m-.4 0h.6m-.1 .1h.6m-.5 .1h.6m-.1-.1h.6m-.3-.1h.6m-.4 .1h.6m-.6-.2h.6m-.3 .2h.6m-.5 .1h.6m-.4-.1h.6m-.6 .1h.6m-.6-.1h.6m-.3 0h.6m-5.5 .3h.6m.2 .1h.6m-.4 .1h.6m-.5-.1h.6m-.1 0h.6m-.2 .1h.6m-.5-.1h.6m-.2-.2h.6m-.5 .3h.6m-.5-.1h.6m-.4 .1h.6m-.4-.1h.6m-.6 .1h.6m-.5-.1h.6m-.5 0h.6m-.5-.2h.6m-.5 .2h.6m-.6-.1h.6m-.6-.1h.6m-.5 0h.6m-.6 0h.6m-.3 0h.6m-.5 .2h.6m-.3 0h.6m-.6 .1h.6m-.5-.3h.6m-.5 0h.6m-.4 .3h.6m-.6-.3h.6m-.4 0h.6m-5.4 .5h.6m.1 .2h.6m.1-.1h.6m-.4-.2h.6m-.4 .2h.6m-.4 .1h.6m-.5 0h.6m-.3-.2h.6m-.2 .2h.6m-.4-.1h.6m-.5-.2h.6m-.5 0h.6m-.3 .1h.6m-.5-.1h.6m-.5 0h.6m-.5 .3h.6m-.6-.3h.6m-.5 .2h.6m-.5-.2h.6m-.6 .1h.6m-.3 .2h.6m-.5 0h.6m-.5-.3h.6m-.5 .3h.6m-.4 0h.6m-.6 0h.6m-.6-.1h.6m-.5 .1h.6m-6.1 .3h.6m-.1 .1h.6m-.2 0h.6m0 0h.6m-.6-.2h.6m1.1 .2h.6m-.5-.1h.6m-.4 .1h.6m-.6 0h.6m-.4-.2h.6m-.5-.1h.6m-.4 .1h.6m-.5 0h.6m-.4 .2h.6m-.5 0h.6m-.5-.2h.6m-.6 .2h.6m-.5-.1h.6m-.4-.1h.6m-.6 .2h.6m-.6 0h.6m-.5 0h.6m-.6-.2h.6m-.6 .2h.6m-.5 0h.6m-.6 0h.6m-.6-.3h.6m-.3 .3h.6m-7 .4h.6m-.4-.3h.6m1 .3h.6m-.4 0h.6m-.4 0h.6m-.2-.1h.6m.6-.1h.6m-.6 0h.6m-.6-.1h.6m-.5 .3h.6m-.5-.1h.6m-.4 0h.6m-.4 0h.6m-.4 0h.6m-.6 .1h.6m-.6 0h.6m-.4-.2h.6m0 0h.6m-.6 .2h.6m-.5-.3h.6m-.4 .1h.6m-.6 0h.6m-.6 0h.6m-.5 .2h.6m-.3-.3h.6m-7.4 .7h.6m1-.2h.6m-.1 .1h.6m-.3 0h.6m-.1 .1h.6m-.6-.3h.6m-.5 0h.6m-.4 .2h.6m-.4-.1h.6m-.3 0h.6m-.5 .2h.6m-.3-.3h.6m-.5 .1h.6m-.6-.1h.6m-.2 .1h.6m-.6 0h.6m-.6-.1h.6m-.5 .1h.6m-.6 .2h.6m-.6-.3h.6m-.5 .3h.6m-.2 0h.6m-.6-.2h.6m-.5-.1h.6m-.6 .3h.6m-.4-.2h.6m-.2 .1h.6m-.4-.1h.6m-.6 0h.6m-.5 .1h.6m-.3 .1h.6m-.4-.1h.6m-.5-.2h.6m-.3 0h.6m-.6 0h.6m-.6 .2h.6m-.4-.1h.6m-5.4 .5h.6m-.2 0h.6m-.1-.1h.6m-.4 .2h.6m.1-.2h.6m-.5 .2h.6m-.6 0h.6m-.5 0h.6m-.6 0h.6m-.4-.2h.6m-.5 0h.6m-.6 .1h.6m-.6 .1h.6m-.1-.1h.6m-.5-.1h.6m-.5-.1h.6m-.3 .2h.6m-.6-.2h.6m-.5 .2h.6m-.6 0h.6m-.6-.2h.6m-.6 .2h.6m-.5-.1h.6m-.6 .1h.6m-.5-.2h.6m-.2 .2h.6m-.4 0h.6m-.4-.1h.6m-.5 .1h.6m-.6 0h.6m-.4-.2h.6m-.6 .3h.6m-5.8 .4h.6m-.5-.1h.6m0-.1h.6m-.1 .1h.6m-.6 .1h.6m-.5-.1h.6m-.5-.2h.6m-.3 .1h.6m-.5 .1h.6m-.6 0h.6m-.3 .1h.6m-.5-.2h.6m-.4 0h.6m-.5-.1h.6m-.6 .3h.6m-.5-.3h.6m-.6 .2h.6m-.3 .1h.6m-.5-.3h.6m-.3 0h.6m-.6 0h.6m-.5 .3h.6m-.6-.1h.6m-.4 0h.6m-.5-.2h.6m-.4 .1h.6m-.5 .1h.6m-.5 0h.6m-.5 0h.6m-.3 0h.6m-.6 0h.6m-.4 .1h.6m-.6-.2h.6m-.2 .1h.6m-.5 0h.6m-7.1 .3h.6m.5 .2h.6m-.4 0h.6m-.2 0h.6m-.4 0h.6m-.3-.1h.6m-.5 .1h.6m-.5-.1h.6m-.6 0h.6m-.5-.1h.6m-.6 .1h.6m-.6 .1h.6m-.5-.3h.6m-.6 0h.6m-.6 .3h.6m-.6-.1h.6m-.6-.2h.6m-.5 .1h.6m-.6 .1h.6m-.6 0h.6m-.6 .1h.6m-.4-.1h.6m-.4-.1h.6m-.6 .1h.6m-.2-.1h.6m-.3 .2h.6m-.4-.2h.6m-.5 .1h.6m-.6-.1h.6m-.6 0h.6m-.5 0h.6m-.5 .2h.6m-.4-.2h.6m-.6-.1h.6m-.5 .1h.6m-.5 .2h.6m-.4 0h.6m-.6-.1h.6m-.6 .1h.6m-.2 0h.6m-.5-.1h.6m-.6 .1h.6m-.4 0h.6m-.4-.2h.6m-.6 0h.6m-.6 0h.6m-.6 .1h.6m-.5 .1h.6m-.5 0h.6m-.5-.3h.6m-.5 .3h.6m-.5 0h.6m-.5-.2h.6m-7.4 .4h.6m-.1 .1h.6m.1 .1h.6m-.3-.2h.6m-.6-.1h.6m0 .1h.6m-.4-.1h.6m-.6 .2h.6m-.5 0h.6m-.5-.1h.6m-.5-.1h.6m-.4 .3h.6m-.4 0h.6m-.5-.3h.6m-.6 .3h.6m-.5-.2h.6m-.5 .2h.6m-.3-.1h.6m-.4 0h.6m-.5 .1h.6m-.4 0h.6m-.3-.3h.6m-.5 .1h.6m-.5 0h.6m-.6 .2h.6m-.6-.2h.6m-.6 .2h.6m-.5-.3h.6m-.4 .2h.6m-.6-.1h.6m-.6-.1h.6m-.5 0h.6m-.6 0h.6m-.5 .2h.6m-.5 .1h.6m-.2-.1h.6m-.6 0h.6m-.5 0h.6m-.6-.2h.6m-.5 .3h.6m-.6-.1h.6m-.4-.1h.6m-.4 .1h.6m-.6 0h.6m-.2-.1h.6m-.6 0h.6m-.4-.1h.6m-8.6 .4h.6m.4 .3h.6m0 0h.6m.3 0h.6m-.4-.1h.6m-.5-.1h.6m-.3 0h.6m-.4 0h.6m-.5 0h.6m-.4 .1h.6m-.5-.1h.6m-.6 0h.6m-.3 0h.6m-.5-.1h.6m-.5 0h.6m-.1 .1h.6m-.4 .2h.6m-.5-.3h.6m-.6 .3h.6m-.1-.3h.6m-.6 .2h.6m-.4-.2h.6m-.5 .1h.6m-.5 .2h.6m-.6-.2h.6m-.4 .2h.6m-.5-.3h.6m-.4 .3h.6m-.6-.3h.6m-.5 .2h.6m-.3-.1h.6m-.4 0h.6m-.5-.1h.6m-.6 .1h.6m-.4 0h.6m-.5 .2h.6m-.6-.1h.6m-.5-.1h.6m-.4 .1h.6m-.4-.2h.6m-7.7 .4h.6m.1 .3h.6m0-.3h.6m-.5 0h.6m-.6 .3h.6m-.3-.2h.6m-.6 .1h.6m.1 .1h.6m-.4 0h.6m-.5-.3h.6m-.3 .2h.6m-.5-.2h.6m-.4 .2h.6m-.5-.2h.6m-.6 .3h.6m-.5-.2h.6m-.6 .1h.6m-.6-.2h.6m-.5 .3h.6m-.6-.3h.6m-.3 .3h.6m-.6 0h.6m-.4-.3h.6m-.6 0h.6m-.5 .1h.6m-.5 .2h.6m-.5-.1h.6m-.5 0h.6m-.6 0h.6m-.5 0h.6m-.6 .1h.6m-.6-.2h.6m-.6 .1h.6m-.4 0h.6m-.4-.2h.6m-.5 .2h.6m-.6 .1h.6m-.4-.3h.6m-.5 .1h.6m-.6 .2h.6m-.3-.1h.6m-.5 0h.6m-.5 0h.6m-.4 0h.6m-.6-.2h.6m-.4 0h.6m-.5 .3h.6m-.6 0h.6m-.4-.2h.6m-.5 0h.6m-.5 .2h.6m-.4 0h.6m-.6-.3h.6m-.5 .3h.6m-.4-.2h.6m-.6-.1h.6m-.5 .3h.6m-7.5 .3h.6m.5 .1h.6m-.6-.3h.6m-.4 0h.6m-.5 .3h.6m-.4-.1h.6m-.4 .1h.6m-.6-.2h.6m-.5 0h.6m0 .2h.6m-.5-.3h.6m-.5 .3h.6m-.6-.2h.6m-.5-.1h.6m-.6 .1h.6m-.3 0h.6m-.4 .2h.6m-.6-.1h.6m-.5-.2h.6m-.6 .3h.6m-.6 0h.6m-.6 0h.6m-.4-.3h.6m-.5 .3h.6m-.6 0h.6m-.4 0h.6m-.6-.2h.6m-.3 .1h.6m-.5-.2h.6m-.6 .2h.6m-.5-.2h.6m-.6 0h.6m-.4 .3h.6m-.5 0h.6m-.6-.1h.6m-.5-.1h.6m-.6 0h.6m-.5 .1h.6m-.3-.2h.6m-.5 0h.6m-.6 .2h.6m-.5-.1h.6m-.4 0h.6m-.5 0h.6m-.4 0h.6m-.5 .2h.6m-.4-.2h.6m-.5 0h.6m-.1-.1h.6m-6.6 .7h.6m-.4-.3h.6m-.4 .3h.6m-.4-.1h.6m-.5 0h.6m-.6-.1h.6m-.5-.1h.6m-.6 .2h.6m-.5 .1h.6m-.5-.2h.6m-.6-.1h.6m-.5 .1h.6m-.4 0h.6m-.6 .1h.6m-.5 0h.6m-.4-.1h.6m-.6 0h.6m-.4 .2h.6m-.5-.2h.6m-.4 .1h.6m-.5-.1h.6m-.6 0h.6m-.5-.1h.6m-.5 .2h.6m-.4 0h.6m-.6 .1h.6m-.4 0h.6m-.6-.2h.6m-.5 .2h.6m-.6-.1h.6m-.6-.2h.6m-.6 .2h.6m-.4-.2h.6m-.5 .2h.6m-.6 0h.6m-.5 0h.6m-.5 0h.6m-.5 .1h.6m-.5-.2h.6m-.6 .1h.6m-.5-.1h.6m-.4 0h.6m-.6-.1h.6m-.6 0h.6m-.5 0h.6m-.6 .2h.6m-.6-.2h.6m-.5 .2h.6m-.6 .1h.6m-.5-.2h.6m-.6 .2h.6m-.6-.3h.6m-.4 .3h.6m-.6-.2h.6m-.5 .1h.6m-.6 0h.6m-.5-.1h.6m-.4 .1h.6m-.6 0h.6m-.3 .1h.6m-.3-.1h.6m-.1 .1h.6m-.5-.2h.6m-9 .3h.6m.2 .2h.6m-.2 0h.6m-.5-.1h.6m-.5 .1h.6m-.3-.2h.6m-.4 0h.6m.1 .2h.6m-.4 .1h.6m-.1 0h.6m-.6-.1h.6m-.4-.2h.6m-.5 .1h.6m-.6 .2h.6m-.5-.1h.6m-.6 .1h.6m-.5-.3h.6m-.6 .3h.6m-.4-.1h.6m-.5 0h.6m-.5 0h.6m-.6-.1h.6m-.3-.1h.6m-.6 .1h.6m-.5-.1h.6m-.6 .1h.6m-.4-.1h.6m-.4 .2h.6m-.6-.2h.6m-.6 .2h.6m-.5 .1h.6m-.6 0h.6m-.6-.3h.6m-.5 .1h.6m-.6 .2h.6m-.6-.3h.6m-.6 .2h.6m-.5-.1h.6m-.6 .2h.6m-.3-.3h.6m-.5 .2h.6m-.6 0h.6m-.5 .1h.6m-.4-.3h.6m-.6 0h.6m-.4 .2h.6m-.5 0h.6m-.6-.2h.6m-.6 .2h.6m-.4-.2h.6m-.5 .3h.6m-.6-.3h.6m-.6 .3h.6m-.3-.3h.6m-.5 .2h.6m-.6 0h.6m-.5-.2h.6m-.3 .2h.6m-.5 0h.6m-.5-.1h.6m-.5 .2h.6m-.4-.1h.6m-8.3 .2h.6m.7 .3h.6m.1 0h.6m-.5-.3h.6m-.5 .3h.6m-.6-.1h.6m-.1-.1h.6m-.5-.1h.6m-.5 .1h.6m-.5 .2h.6m-.5-.1h.6m-.3 .1h.6m-.5-.2h.6m-.4 0h.6m-.6 .2h.6m-.3-.2h.6m-.5 .1h.6m-.5 0h.6m-.6 .1h.6m-.6-.3h.6m-.5 0h.6m-.6 .1h.6m-.6 .1h.6m-.5 0h.6m-.5 0h.6m-.6 0h.6m-.6 0h.6m-.6 .1h.6m-.4-.1h.6m-.6 .1h.6m-.6 0h.6m-.5-.1h.6m-.5 .1h.6m-.4-.2h.6m-.2-.1h.6m-.4 .2h.6m-.5-.2h.6m-.6 .3h.6m-.6 0h.6m-.5-.1h.6m-.6-.2h.6m-.5 .3h.6m-.6-.2h.6m-.5 0h.6m-.5 .2h.6m-.5-.2h.6m-.5 .2h.6m-.5-.1h.6m-.4 0h.6m-.5 .1h.6m-.5 0h.6m-.6-.1h.6m-.4 0h.6m-.5 .1h.6m.3-.2h.6m-7.7 .6h.6m.4 0h.6m.2 0h.6m-.2-.1h.6m-.6 .1h.6m-.5-.1h.6m-.5 0h.6m-.5 .1h.6m-.5-.2h.6m-.6 .1h.6m-.5 .1h.6m-.5-.1h.6m-.6-.1h.6m-.5 .1h.6m-.4-.1h.6m-.6 0h.6m-.6-.1h.6m-.6 .2h.6m-.5 0h.6m-.6-.2h.6m-.6 .1h.6m-.5 0h.6m-.5 0h.6m-.6 .1h.6m-.2-.2h.6m-.5 .2h.6m-.5-.2h.6m-.4 0h.6m-.6 .2h.6m-.3 .1h.6m-.5-.3h.6m-.6 .1h.6m-.5 0h.6m-.5 0h.6m-.5-.1h.6m-.2 .3h.6m-.6-.2h.6m-.5 .2h.6m-.4-.3h.6m-.5 .2h.6m.2 .1h.6m-.4 0h.6m-.3-.2h.6m-8.1 .6h.6m-.3-.3h.6m.4 .3h.6m-.6-.2h.6m-.4 .2h.6m-.3-.1h.6m-.5 .1h.6m-.6 0h.6m-.6-.1h.6m-.1-.1h.6m-.6 .1h.6m-.5 .1h.6m-.6-.3h.6m-.5 0h.6m-.5 .1h.6m-.6 .1h.6m-.4 0h.6m-.5-.2h.6m-.6 0h.6m-.6 .2h.6m-.4-.1h.6m-.6 .2h.6m-.5-.2h.6m-.4 .2h.6m-.6-.2h.6m-.6 .1h.6m-.6-.2h.6m-.5 0h.6m-.6 0h.6m-.5 0h.6m-.5 0h.6m-.5 .3h.6m-.6-.2h.6m-.5 0h.6m-.5 .2h.6m-.6-.3h.6m-.5 .2h.6m-.5-.2h.6m-.5 0h.6m-.6 0h.6m-.5 .2h.6m-.5-.2h.6m-.4 0h.6m-.6 .1h.6m-.6-.1h.6m-.5 .1h.6m-.6 .1h.6m-.6-.2h.6m-.5 .1h.6m-.6 .1h.6m-.4-.1h.6m-.6 0h.6m-.5-.1h.6m-.5 .2h.6m-.6-.1h.6m-.3-.1h.6m-.5 .3h.6m-.4-.3h.6m-.6 .1h.6m-.5 .2h.6m-.6-.1h.6m-.6 0h.6m.2 .1h.6m-.3-.3h.6m-.3 0h.6m-.6 .2h.6m-8.8 .3h.6m-.4 0h.6m-.2 .1h.6m-.5 .1h.6m.3 0h.6m-.5-.1h.6m-.3-.2h.6m-.6 .3h.6m-.6-.2h.6m-.4-.1h.6m-.5 .1h.6m-.6 0h.6m-.3 0h.6m-.6-.1h.6m-.3 0h.6m-.6 .2h.6m-.5 0h.6m-.5-.1h.6m-.5 0h.6m-.5 0h.6m-.6 .2h.6m-.5-.2h.6m-.6 0h.6m-.6 .1h.6m-.5 .1h.6m-.6-.3h.6m-.6 0h.6m-.6 0h.6m-.5 0h.6m-.6 .2h.6m-.4 .1h.6m-.2-.2h.6m-.4 .1h.6m-.3 .1h.6m-.6-.3h.6m-.6 .2h.6m-.5 .1h.6m-.6-.1h.6m-.6 0h.6m-.5-.1h.6m-.6 .2h.6m-.4 0h.6m-.6 0h.6m-.3 0h.6m-.5-.2h.6m-.6-.1h.6m-.5 0h.6m-.6 .2h.6m-.4-.2h.6m-.6 .2h.6m-.4-.2h.6m-.5 0h.6m-.6 .1h.6m-.5 .1h.6m-.6 .1h.6m-.5-.3h.6m-.6 .2h.6m-.3 .1h.6m-.6-.3h.6m-.5 0h.6m0 .1h.6m-.4 .1h.6m-.3-.2h.6m-.5 .1h.6m-.5 .1h.6m-.5 0h.6m-.6-.2h.6m-8.6 .6h.6m-.4 .1h.6m-.5-.1h.6m-.2 .1h.6m-.4 0h.6m0 0h.6m-.5 0h.6m-.6 0h.6m-.6-.1h.6m-.5-.2h.6m-.2 .3h.6m-.6-.1h.6m-.5 0h.6m-.6 0h.6m-.6 0h.6m-.4 0h.6m-.4 .1h.6m-.1-.2h.6m-.5 .2h.6m-.5 0h.6m-.4-.3h.6m-.6 .2h.6m-.6-.2h.6m-.6 0h.6m-.5 .1h.6m-.6 .1h.6m-.6-.2h.6m-.6 .2h.6m-.5-.2h.6m-.5 .3h.6m-.5-.2h.6m-.6 .1h.6m-.4-.1h.6m-.5-.1h.6m-.6 0h.6m-.5 .1h.6m-.5 0h.6m-.4 0h.6m-.6 0h.6m-.5-.1h.6m-.5 .1h.6m-.6 .2h.6m-.3-.1h.6m-.3-.2h.6m-.2 .2h.6m-.6-.2h.6m-.4 .3h.6m-.6-.1h.6m-.5-.1h.6m-.6 0h.6m-.6-.1h.6m-.5 0h.6m-.5 .1h.6m-.5 .1h.6m-.5-.1h.6m-.5 .2h.6m-.6-.2h.6m.1 .2h.6m-.5-.1h.6m-.5 0h.6m-8.8 .3h.6m.8 0h.6m-.1 0h.6m-.5 0h.6m-.5 .1h.6m.4 0h.6m-.5 .1h.6m-.6-.2h.6m-.4 0h.6m0 0h.6m-.4-.1h.6m-.5 0h.6m-.6 .1h.6m-.5 .1h.6m-.6-.2h.6m-.6 0h.6m-.5 .1h.6m-.4 0h.6m-.6 .2h.6m-.5 0h.6m-.6-.1h.6m-.5-.2h.6m-.6 0h.6m-.5 .1h.6m-.6 .1h.6m-.3 0h.6m-.6 .1h.6m-.6-.3h.6m-.4 .3h.6m-.6-.2h.6m-.5 .2h.6m-.6-.1h.6m-.5 .1h.6m-.5-.3h.6m-.4 0h.6m-.5 .2h.6m-.6-.2h.6m-.4 .2h.6m-.2 0h.6m-.5 .1h.6m-.4-.1h.6m-.3-.1h.6m-.6 .1h.6m-.5-.1h.6m.5-.1h.6m-.5 .1h.6m-10.1 .5h.6m-.3-.1h.6m.1 0h.6m-.5 .2h.6m-.2 0h.6m-.2 0h.6m-.4-.2h.6m-.5 0h.6m-.5 .1h.6m-.5 .1h.6m-.2 0h.6m-.4-.1h.6m-.4-.1h.6m-.5 0h.6m-.4 .2h.6m-.5-.3h.6m-.4 .3h.6m-.5 0h.6m-.6-.1h.6m-.5 0h.6m-.6-.2h.6m-.5 .3h.6m-.5-.1h.6m-.5 .1h.6m-.5-.3h.6m-.6 .2h.6m-.5 .1h.6m-.6 0h.6m-.5-.3h.6m-.6 .2h.6m-.5 .1h.6m-.5 0h.6m-.6-.2h.6m-.6-.1h.6m-.6 .2h.6m-.5 .1h.6m-.6-.3h.6m-.4 .1h.6m-.5 .1h.6m-.5-.2h.6m-.6 .3h.6m-.6 0h.6m-.5 0h.6m-.6 0h.6m-.6-.1h.6m-.5-.2h.6m-.5 0h.6m-.5 .3h.6m-.6-.3h.6m-.6 .2h.6m-.4 0h.6m-.5 .1h.6m-.6-.3h.6m-.4 .3h.6m-.6-.3h.6m-.3 .2h.6m-.6 .1h.6m-.5-.3h.6m-.4 0h.6m-.6 .1h.6m-.4 0h.6m-.6 .2h.6m-.6-.2h.6m-.6 .2h.6m-.1-.2h.6m-.6 0h.6m-.4 0h.6m-.3 .1h.6m-.6 0h.6m-.4 0h.6m-.4-.2h.6m-.3 0h.6m.1 .2h.6m-.2 .1h.6m-11.1 .3h.6m2-.1h.6m-.4 .1h.6m.1 0h.6m-.5-.2h.6m-.5 .1h.6m-.5 0h.6m-.5-.1h.6m-.5 .2h.6m-.5-.1h.6m-.6-.1h.6m-.4 .3h.6m-.5-.1h.6m-.4-.2h.6m-.3 .1h.6m-.6 .2h.6m-.6-.3h.6m-.5 .1h.6m-.6 .2h.6m-.4 0h.6m-.6-.2h.6m-.5-.1h.6m-.5 .1h.6m-.5-.1h.6m-.5 .1h.6m-.5 .1h.6m-.5 0h.6m-.5-.1h.6m-.6 .2h.6m-.6 0h.6m-.4 0h.6m-.5-.2h.6m-.4 .1h.6m-.6-.1h.6m-.5-.1h.6m-.6 .3h.6m-.5-.2h.6m-.6 .2h.6m-.4-.1h.6m-.5 .1h.6m-.6 0h.6m-.5 0h.6m-.6 0h.6m-.5 0h.6m-.6-.3h.6m-.6 .2h.6m-.6-.1h.6m-.6 .2h.6m-.5-.3h.6m-.6 .2h.6m-.5-.1h.6m-.4 0h.6m-.6 0h.6m-.5 0h.6m-.5-.1h.6m0 .3h.6m-.4-.3h.6m-.4 0h.6m-.4 .2h.6m-.4 0h.6m-.6 0h.6m-.6-.2h.6m-.3 .1h.6m-10.1 .5h.6m1.1 .1h.6m-.1-.2h.6m-.3 .2h.6m-.1-.3h.6m.1 0h.6m-.5 .2h.6m-.6-.1h.6m-.4 .1h.6m-.6 .1h.6m-.5 0h.6m-.5-.1h.6m-.5 0h.6m-.6-.1h.6m-.5 0h.6m-.4 .1h.6m-.6 .1h.6m-.5-.1h.6m-.5-.1h.6m-.5 0h.6m-.4 0h.6m-.5 .1h.6m-.5 0h.6m-.6-.1h.6m-.5 .2h.6m-.5-.2h.6m-.4 .1h.6m-.4-.2h.6m-.5 0h.6m-.6 .1h.6m-.6 .1h.6m-.5-.1h.6m-.5 .1h.6m-.5 .1h.6m-.3-.3h.6m-.6 .3h.6m-.5-.1h.6m-.6 0h.6m-.5 0h.6m-.4 0h.6m-.6 0h.6m-.6 0h.6m-.5 .1h.6m-.6-.1h.6m-.4-.2h.6m-.5 .1h.6m-.6 .1h.6m-.5-.2h.6m-.2 .1h.6m-.5 .2h.6m-.6-.1h.6m-.5 0h.6m-.5-.1h.6m-.2 0h.6m-.2 .1h.6m-.6 0h.6m0 .1h.6m-8.4 .4h.6m-.5-.2h.6m-.5 0h.6m-.5 .1h.6m-.5-.2h.6m-.1 .2h.6m-.6-.1h.6m-.5 0h.6m-.2 .1h.6m-.3-.2h.6m-.4 .3h.6m-.5 0h.6m-.6 0h.6m-.3-.2h.6m-.5 .1h.6m-.6 0h.6m-.6-.1h.6m-.5 .2h.6m-.4-.2h.6m-.3 .1h.6m-.5 .1h.6m-.6 0h.6m-.6-.2h.6m-.4 .1h.6m-.6-.1h.6m-.6 0h.6m-.5 .2h.6m-.4-.2h.6m-.6 0h.6m-.6-.1h.6m-.6 .3h.6m-.5-.1h.6m-.5 0h.6m-.6 0h.6m-.6-.1h.6m-.5 .1h.6m-.6-.1h.6m-.6 .2h.6m-.5-.2h.6m-.6 .2h.6m-.6-.2h.6m-.4 0h.6m-.6 0h.6m-.4 0h.6m-.5 .1h.6m-.6-.1h.6m-.3 .1h.6m-.6-.1h.6m-.6 .1h.6m-.5-.1h.6m-.5 .2h.6m-.5 0h.6m-.4-.1h.6m-.6-.1h.6m-.6 .1h.6m-.5-.2h.6m-.6 .2h.6m-.5-.2h.6m-.5 0h.6m-.5 .3h.6m-.5-.1h.6m-.5-.1h.6m-.6 .1h.6m-.1-.1h.6m-.3-.1h.6m.4 .3h.6m-.3-.1h.6m-9.7 .5h.6m.3 0h.6m-.6 0h.6m-.2-.1h.6m.3-.1h.6m-.1-.1h.6m-.5 .3h.6m-.3-.1h.6m-.6-.2h.6m-.2 0h.6m-.6 .1h.6m-.3 .1h.6m-.4 .1h.6m-.5 0h.6m-.4-.1h.6m-.6-.1h.6m-.5 .1h.6m-.6-.1h.6m-.5-.1h.6m-.6 .2h.6m-.6 0h.6m-.6-.2h.6m-.4 .3h.6m-.6-.2h.6m-.5 .1h.6m-.5 0h.6m-.6 .1h.6m-.6-.1h.6m-.5-.2h.6m-.6 .1h.6m-.6-.1h.6m-.5 .2h.6m-.5 .1h.6m-.6-.1h.6m-.5-.2h.6m-.5 .1h.6m-.6 0h.6m-.5 .2h.6m-.6-.2h.6m-.6-.1h.6m-.4 .3h.6m-.6-.2h.6m-.5-.1h.6m-.5 .1h.6m-.4 0h.6m-.6 .1h.6m-.5 .1h.6m-.6-.2h.6m-.6-.1h.6m-.5 0h.6m-.5 .3h.6m-.3-.1h.6m-.5 0h.6m-.5 .1h.6m-.5 0h.6m-.5-.2h.6m-.5 0h.6m-.5-.1h.6m-.5 .3h.6m.5-.1h.6m-.3 0h.6m-.6-.2h.6m.6 .1h.6m-10.2 .4h.6m.1 .1h.6m-.5 .1h.6m-.2-.2h.6m-.6 0h.6m-.2 .2h.6m0 0h.6m-.6-.3h.6m-.5 .1h.6m-.5 .1h.6m-.6-.2h.6m-.5 .2h.6m-.5 0h.6m-.5-.1h.6m-.5 .2h.6m-.6-.1h.6m-.6-.1h.6m-.3 0h.6m-.5 .2h.6m-.3-.1h.6m-.3 0h.6m-.4-.2h.6m-.6 .3h.6m-.4-.2h.6m-.5 .2h.6m-.6-.2h.6m-.2-.1h.6m-.6 .3h.6m-.6-.2h.6m-.5 .1h.6m-.5 .1h.6m-.6 0h.6m-.3-.3h.6m-.6 .3h.6m-.5-.2h.6m-.6-.1h.6m-.5 .1h.6m-.6 0h.6m-.4-.1h.6m-.6 .3h.6m-.6-.2h.6m-.5 .2h.6m-.5-.1h.6m-.6-.1h.6m-.4 .1h.6m-.5 0h.6m-.4-.2h.6m-.5 .2h.6m-.3 .1h.6m.1-.3h.6m-.5 .3h.6m-.4-.3h.6m-.1 .3h.6m-.3-.1h.6m-.1-.1h.6m-10.3 .6h.6m.5 0h.6m-.1-.3h.6m-.2 .2h.6m-.5-.1h.6m-.4-.1h.6m-.5 0h.6m-.5 0h.6m-.4 .1h.6m-.6 .1h.6m-.3-.2h.6m-.5 0h.6m-.3 .2h.6m-.5 .1h.6m-.5 0h.6m-.5-.2h.6m-.6-.1h.6m-.6 .1h.6m-.6-.1h.6m-.5 0h.6m-.5 .3h.6m-.4 0h.6m-.4-.3h.6m-.6 .3h.6m-.6-.3h.6m-.5 .2h.6m-.5-.2h.6m-.6 0h.6m-.5 .3h.6m-.4 0h.6m-.6-.3h.6m-.6 .3h.6m-.5-.3h.6m-.6 0h.6m-.6 .3h.6m-.3-.2h.6m-.5 0h.6m-.6 0h.6m-.5-.1h.6m-.6 .3h.6m-.5-.3h.6m-.6 0h.6m-.5 .1h.6m-.5 .1h.6m-.6 .1h.6m-.5-.3h.6m-.4 .3h.6m-.5-.1h.6m-.5-.1h.6m-.5 .1h.6m-.5-.1h.6m-.5 0h.6m-.5 .2h.6m-.5-.2h.6m-.5 0h.6m-.6 .1h.6m-.2-.1h.6m-.1 .1h.6m-.4-.2h.6m-.6 0h.6m.4 0h.6m-.6 .1h.6m-.2-.1h.6m-.5 0h.6m-9.7 .7h.6m-.6-.1h.6m.6 .1h.6m-.1 0h.6m-.6-.1h.6m-.3-.2h.6m-.5 0h.6m-.6 .2h.6m-.6 .1h.6m-.3-.1h.6m-.4 .1h.6m-.6-.3h.6m-.4 .3h.6m-.6-.1h.6m-.6-.2h.6m-.5 .3h.6m-.6-.1h.6m-.4-.1h.6m-.6 .1h.6m-.5-.2h.6m-.5 .3h.6m-.6 0h.6m-.6-.2h.6m-.5 .2h.6m-.4-.1h.6m-.5-.1h.6m-.6 0h.6m-.3-.1h.6m-.5 0h.6m-.4 .3h.6m-.5 0h.6m-.5-.2h.6m-.4 .2h.6m-.6-.1h.6m-.5-.1h.6m-.5 .2h.6m-.6 0h.6m-.6-.2h.6m-.6-.1h.6m-.5 .2h.6m-.6 .1h.6m-.6-.2h.6m-.3 .1h.6m-.4 .1h.6m-.6-.3h.6m-.3 0h.6m-.6 .2h.6m-.6-.2h.6m-.5 .1h.6m-.4 .1h.6m-.4-.2h.6m-.6 .3h.6m-.6-.3h.6m-.5 .3h.6m-.5-.1h.6m-.5 0h.6m-.6-.2h.6m-.5 .1h.6m-.5-.1h.6m-.5 .1h.6m-.6 .2h.6m-.5 0h.6m-.6 0h.6m-.4-.1h.6m-.5-.2h.6m-.5 .1h.6m-.6-.1h.6m-.5 .1h.6m-.6 .1h.6m-.5 0h.6m-9.5 .3h.6m1 0h.6m-.1-.1h.6m-.2 0h.6m-.4 .2h.6m.1 .1h.6m-.5-.2h.6m-.6 0h.6m-.4-.1h.6m-.6 .3h.6m-.5-.3h.6m-.3 .2h.6m-.2-.1h.6m-.5 .1h.6m-.6 0h.6m-.5-.1h.6m-.6 .2h.6m-.5-.1h.6m-.5-.1h.6m-.6 0h.6m-.3 .1h.6m-.5-.2h.6m-.5 .1h.6m-.5 .2h.6m-.4-.3h.6m-.5 .3h.6m-.6-.3h.6m-.5 .2h.6m-.6-.2h.6m-.5 .1h.6m-.3-.1h.6m-.6 .2h.6m-.5-.1h.6m-.5 .1h.6m-.1 .1h.6m-.5-.2h.6m-.5 .1h.6m-.3-.2h.6m-.5 0h.6m-.6 .3h.6m.2 0h.6m-.5 0h.6m.8-.1h.6m-8.6 .5h.6m-.2-.1h.6m-.1-.1h.6m-.5 0h.6m-.6 0h.6m-.5-.1h.6m-.5 .1h.6m-.5 .2h.6m-.6-.1h.6m-.2 0h.6m-.5 0h.6m-.6-.2h.6m-.5 .3h.6m-.6-.2h.6m-.5 .1h.6m-.5-.1h.6m-.5-.1h.6m-.6 .1h.6m-.3 0h.6m-.5 0h.6m-.6 0h.6m-.6 .1h.6m-.5 .1h.6m-.6-.2h.6m-.5 0h.6m-.5-.1h.6m-.5 0h.6m-.6 0h.6m-.4 0h.6m-.5 .3h.6m-.5-.3h.6m-.4 .2h.6m-.6-.2h.6m-.6 .2h.6m-.4-.1h.6m-.4 .2h.6m-.5-.3h.6m-.6 0h.6m-.6 .1h.6m-.4 .1h.6m-.5 .1h.6m-.5-.3h.6m-.4 .3h.6m-.4 0h.6m-.4 0h.6m-.5 0h.6m-.6 0h.6m-.5-.2h.6m-.5 .1h.6m-.5 .1h.6m-.5-.3h.6m-.5 .2h.6m-.3 .1h.6m-.6-.2h.6m-.1-.1h.6m0 0h.6m-.2 .3h.6m-.6-.2h.6m.4 .2h.6m-10.7 .3h.6m.4 .1h.6m-.4-.2h.6m-.6 .2h.6m-.2-.1h.6m-.5 0h.6m-.2 .1h.6m-.6-.1h.6m-.5 .1h.6m-.1-.2h.6m-.3 .2h.6m-.4-.1h.6m-.5 0h.6m-.5-.1h.6m-.5 .1h.6m-.6-.2h.6m-.4 .3h.6m-.5-.1h.6m-.5 .1h.6m-.6-.1h.6m-.6-.1h.6m-.6-.1h.6m-.5 .1h.6m-.1 0h.6m-.4 .2h.6m-.6 0h.6m-.5-.1h.6m-.5-.1h.6m-.6 .2h.6m-.5-.3h.6m-.5 0h.6m-.4 .2h.6m-.5-.1h.6m-.6 .2h.6m-.5-.3h.6m-.4 .2h.6m-.6-.2h.6m-.5 .1h.6m-.6 0h.6m-.5-.1h.6m-.4 0h.6m-.6 .3h.6m-.3 0h.6m-.5-.1h.6m-.5 0h.6m-.5 0h.6m-.2-.2h.6m-.2 .2h.6m-.6-.1h.6m-.4-.1h.6m-.6 .3h.6m-.6-.1h.6m0-.2h.6m-.5 0h.6m-9.1 .4h.6m.3 .2h.6m-.2 .1h.6m.3-.3h.6m-.6 .2h.6m-.4 .1h.6m-.6 0h.6m-.4-.2h.6m-.6 0h.6m-.6 .1h.6m-.4-.1h.6m-.5 0h.6m-.5 0h.6m-.6-.1h.6m-.5 .3h.6m-.4-.3h.6m-.4 .1h.6m-.5-.1h.6m-.5 .1h.6m-.5 0h.6m-.6 0h.6m-.6 0h.6m-.6 0h.6m-.5 0h.6m-.5 .2h.6m-.5-.2h.6m-.5 .1h.6m-.6-.1h.6m-.4 0h.6m-.5 .1h.6m-.3 .1h.6m-.6-.2h.6m-.5 .2h.6m-.5-.1h.6m-.5-.2h.6m-.5 .2h.6m-.6-.2h.6m-.6 0h.6m-.6 .3h.6m-.5-.1h.6m-.6 .1h.6m-.5-.1h.6m-.5 .1h.6m-.4 0h.6m-.5-.1h.6m-.5-.1h.6m-.5 0h.6m-.4 .1h.6m-.5 .1h.6m-.5 0h.6m-.6 0h.6m-.5-.2h.6m-.4 .1h.6m-.6-.2h.6m-.5 .1h.6m-.5 .2h.6m-.4 0h.6m-.4-.3h.6m-.5 .1h.6m-.4-.1h.6m-.5 0h.6m-.4 .2h.6m-.2 .1h.6m-.6-.2h.6m.1 .1h.6m-8.9 .3h.6m-.3-.1h.6m-.1 0h.6m-.5 0h.6m-.3 0h.6m0 0h.6m-.5 .2h.6m-.6 0h.6m-.6 .1h.6m-.6-.1h.6m-.6 0h.6m-.4 .1h.6m-.5 0h.6m-.4-.2h.6m-.5 .2h.6m-.4-.2h.6m-.3 .1h.6m-.5-.1h.6m-.6 .1h.6m-.6-.1h.6m-.3-.1h.6m-.5 .3h.6m-.6-.3h.6m-.5 .3h.6m-.5-.2h.6m-.4-.1h.6m-.4 .1h.6m-.6-.1h.6m-.5 0h.6m-.6 .1h.6m-.6 0h.6m-.5 0h.6m-.6 .1h.6m-.5 .1h.6m-.5-.3h.6m-.2 .3h.6m-.6 0h.6m-.6-.2h.6m-.5 .2h.6m-.6-.1h.6m-.6-.2h.6m-.5 0h.6m-.5 .3h.6m-.4 0h.6m-.5-.2h.6m-.6 0h.6m-.5 0h.6m-.6-.1h.6m-.6 .2h.6m-.4-.1h.6m-.5 0h.6m-.6-.1h.6m-.6 0h.6m-.4 .1h.6m2.1 0h.6m-10.7 .5h.6m-.1 .1h.6m.4-.2h.6m-.2 0h.6m-.1 .2h.6m-.5-.2h.6m-.5 .2h.6m-.6-.3h.6m-.5 .2h.6m-.5-.2h.6m-.2 .3h.6m-.4-.2h.6m-.5 .2h.6m-.6 0h.6m-.6-.1h.6m-.4 0h.6m-.5 0h.6m-.5-.2h.6m-.5 .3h.6m-.5 0h.6m-.5 0h.6m-.6-.1h.6m-.5 0h.6m-.6 0h.6m-.4 .1h.6m-.2 0h.6m-.6 0h.6m-.6-.3h.6m-.4 0h.6m-.4 0h.6m-.5 0h.6m-.5 .1h.6m-.6 0h.6m-.5 .1h.6m-.6-.2h.6m-.5 .1h.6m-.4 .2h.6m-.6-.1h.6m-.4 .1h.6m-.5-.3h.6m-.5 .3h.6m-.5-.2h.6m-.5 .1h.6m-.3-.2h.6m-.3 0h.6m-.6 .1h.6m-.2 0h.6m-.6-.1h.6m-.5 0h.6m-.6 .3h.6m-.4-.2h.6m-.3 0h.6m-.4 0h.6m-.3-.1h.6m-8.9 .5h.6m1.1 .1h.6m-.6 .1h.6m-.5 0h.6m-.4-.3h.6m-.5 .2h.6m-.3 0h.6m-.4-.1h.6m-.5 0h.6m-.4 0h.6m-.5-.1h.6m-.2 0h.6m-.6 .1h.6m-.5 0h.6m-.6 .1h.6m-.6-.1h.6m-.3-.1h.6m-.5 .3h.6m-.3 0h.6m-.6-.2h.6m-.3 .2h.6m-.5-.3h.6m-.6 .2h.6m-.4-.1h.6m-.6-.1h.6m-.6 .1h.6m-.4 .2h.6m-.4-.3h.6m-.5 .2h.6m-.6 .1h.6m-.5-.2h.6m-.4 .1h.6m-.6-.2h.6m-.4 .1h.6m-.1 0h.6m-.2 .2h.6m-.5-.2h.6m-.5-.1h.6m-.5 0h.6m-.5 0h.6m-.6 .2h.6m.3-.1h.6m.1 0h.6m-.2 .1h.6m-10 .5h.6m1.3-.3h.6m-.4 .2h.6m-.4 0h.6m-.4 0h.6m-.5 0h.6m-.3 .1h.6m-.3 0h.6m-.6-.1h.6m-.3-.2h.6m-.5 0h.6m0 .1h.6m-.5 0h.6m-.5-.1h.6m-.5 0h.6m-.5 .1h.6m-.5-.1h.6m-.4 0h.6m-.3 .3h.6m-.6-.1h.6m-.6-.1h.6m-.4 .2h.6m-.5-.3h.6m-.5 0h.6m-.6 0h.6m-.4 .2h.6m-.5 0h.6m-.1 0h.6m-.4 .1h.6m-.5-.2h.6m.1-.1h.6m-.1 .3h.6m-8.8 .1h.6m-.3 .1h.6m-.5 .1h.6m-.5 0h.6m-.1 .1h.6m-.2-.2h.6m-.5 .1h.6m.1 .1h.6m-.4-.3h.6m-.4 .3h.6m-.1-.2h.6m-.3 .2h.6m-.1 0h.6m-.6-.2h.6m-.2 .1h.6m-.5-.1h.6m-.5 .2h.6m-.6-.2h.6m-.6 .2h.6m-.4-.1h.6m-.4 .1h.6m-.6-.1h.6m-.5-.1h.6m-.6-.1h.6m-.5 0h.6m-.6 0h.6m-.5 .3h.6m-.4-.3h.6m-.6 .3h.6m-.3-.3h.6m-.6 .1h.6m-.4-.1h.6m-.6 .3h.6m-.5-.1h.6m-.4-.2h.6m-.5 .1h.6m-.5 0h.6m-.6 .2h.6m-.5-.1h.6m0-.1h.6m-.5 .2h.6m0-.3h.6m-.4 0h.6m-.6 .1h.6m.4 .2h.6m-8.7 .4h.6m-.3-.1h.6m.1 .1h.6m-.4-.2h.6m-.2 0h.6m-.5 0h.6m-.6-.1h.6m-.3 .1h.6m-.6 .2h.6m-.5-.2h.6m-.4-.1h.6m-.6 .2h.6m-.5-.1h.6m-.4 0h.6m-.4 .1h.6m-.5-.1h.6m-.6-.1h.6m-.6 0h.6m-.6 .1h.6m-.3-.1h.6m-.5 .1h.6m-.5 .1h.6m-.6 .1h.6m-.2-.3h.6m-.5 .3h.6m-.5-.1h.6m-.2-.2h.6m-.5 .1h.6m-.2 .1h.6m-.5-.1h.6m-.4 .1h.6m-.6 0h.6m-.4 .1h.6m-.5-.2h.6m-.5 .2h.6m-.6-.2h.6m-.5 .2h.6m-.5-.2h.6m-.3-.1h.6m-.5 .2h.6m-.3-.1h.6m-.3 .2h.6m-.4 0h.6m.5 0h.6m-8 .2h.6m-.5 .2h.6m-.4-.1h.6m-.3 .1h.6m-.6 0h.6m-.4 0h.6m-.6 0h.6m-.4-.1h.6m-.5-.2h.6m.1 .1h.6m-.6 0h.6m-.6 .1h.6m-.5 0h.6m-.5 0h.6m-.4-.2h.6m-.6 .3h.6m-.5-.3h.6m-.6 0h.6m-.5 .1h.6m-.4 .1h.6m-.4-.1h.6m-.5-.1h.6m-.4 .3h.6m-.5-.1h.6m-.5-.1h.6m-.5 0h.6m-.5 .1h.6m-.4-.1h.6m-.5 0h.6m-.4 .1h.6m-.5 .1h.6m-.5-.2h.6m-.5 .1h.6m-.6-.1h.6m-.3 .1h.6m-.6-.1h.6m-.5-.1h.6m-.5 .1h.6m-.5 0h.6m-.5-.1h.6m-.5 .3h.6m.4-.1h.6m.5 0h.6m-9.2 .2h.6m.3 0h.6m-.6 .1h.6m-.6 .2h.6m-.2-.1h.6m-.5-.1h.6m-.6 .2h.6m.1-.2h.6m-.6 .2h.6m-.5 0h.6m-.4-.1h.6m-.6-.2h.6m.2 .1h.6m-.6 .2h.6m-.4-.3h.6m-.5 .1h.6m-.5-.1h.6m-.6 .1h.6m-.5 .2h.6m-.6 0h.6m-.5-.1h.6m-.6-.1h.6m-.6 0h.6m-.6 .2h.6m-.5 0h.6m-.4-.1h.6m-.6-.1h.6m-.5-.1h.6m-.5 .1h.6m-.4 0h.6m-.6-.1h.6m-.4 0h.6m-.6 0h.6m-.1 .2h.6m-.4 0h.6m-.2 .1h.6m-.6-.2h.6m-.2 .1h.6m-.3 0h.6m-.2-.2h.6m-.4 .1h.6m.4-.1h.6m-9.4 .6h.6m-.1 0h.6m0-.1h.6m.1-.1h.6m-.3 .3h.6m-.3-.3h.6m-.5 0h.6m-.3 0h.6m-.2 0h.6m-.4 .2h.6m-.6-.2h.6m-.5 .2h.6m-.3-.2h.6m-.5 0h.6m-.6 .3h.6m-.5-.3h.6m-.5 .1h.6m-.6-.1h.6m-.6 0h.6m-.5 .2h.6m-.4-.1h.6m-.6-.1h.6m-.5 0h.6m-.4 0h.6m0 0h.6m-.5 .3h.6m-.5-.1h.6m-.5-.2h.6m-.6 .2h.6m-.6-.1h.6m-.5 0h.6m-.6 0h.6m-.6 0h.6m-.6 .1h.6m-.1-.2h.6m-.4 .2h.6m-.5-.2h.6m-.6 0h.6m-.6 0h.6m-.5 .2h.6m-.3-.2h.6m-.3 0h.6m.3 .3h.6m0-.2h.6m-9.2 .3h.6m0 0h.6m0 .3h.6m-.5-.1h.6m-.5 .1h.6m1 0h.6m-.3-.3h.6m-.5 .1h.6m-.3-.1h.6m-.6 .3h.6m-.5-.2h.6m-.6 .1h.6m-.5 0h.6m-.3-.2h.6m-.6 .2h.6m-.5 0h.6m-.3 0h.6m-.6-.2h.6m-.5 .3h.6m-.3 0h.6m-.6-.1h.6m-.5 0h.6m-.5 .1h.6m-.5-.3h.6m-.5 .1h.6m-.5 .2h.6m-.6-.2h.6m-.3-.1h.6m-.4 .1h.6m-.5 .2h.6m-.5-.3h.6m-6.9 .5h.6m-.2 .2h.6m1.7-.1h.6m-.6 0h.6m-.5 .1h.6m-.5-.2h.6m.1-.1h.6m-.5 0h.6m-.4 .3h.6m-.4 0h.6m-.4-.1h.6m-.6-.2h.6m-.2 .1h.6m-.6-.1h.6m-.4 .3h.6m-.6-.2h.6m-.6 .1h.6m-.4 0h.6m0-.1h.6m-.3-.1h.6m-.6 .1h.6m-.4 .2h.6m-.6-.2h.6m-.3 .2h.6m-.6-.3h.6m-.2 .1h.6m-.5 0h.6m-.2 0h.6m-.5 .1h.6m-.6 .1h.6m-.4-.2h.6m-.5 .1h.6m-7.7 .3h.6m-.4-.1h.6m0 0h.6m-.3 .2h.6m-.5 .1h.6m0-.1h.6m-.2 0h.6m-.4-.1h.6m-.6 .1h.6m-.3 .1h.6m-.6-.2h.6m-.1 .1h.6m-.5-.1h.6m-.5 .2h.6m-.6 0h.6m-.6-.2h.6m-.5 .1h.6m-.4-.2h.6m-.6 0h.6m-.6 .1h.6m-.5 0h.6m.2 0h.6m0-.1h.6m-.4 .1h.6m-.5 .1h.6m-.6-.1h.6m-.1 .2h.6m0 0h.6m-.4-.3h.6m-.1 .2h.6m-8.1 .3h.6m-.4 0h.6m-.4 .2h.6m-.5-.3h.6m-.4 0h.6m-.5 0h.6m-.3 .1h.6m-.6-.1h.6m-.5 0h.6m-.2 0h.6m-.6 .3h.6m-.5-.2h.6m-.5 .1h.6m-.5-.2h.6m-.2 0h.6m-.1 0h.6m-.6 .3h.6m-.5-.1h.6m-.5-.1h.6m-.6-.1h.6m-.4 .1h.6m-.6 .2h.6m-.5-.3h.6m-.5 .1h.6m-.6 .1h.6m-.5 0h.6m-.5-.1h.6m-.5-.1h.6m-.6 .2h.6m-.4-.2h.6m-.5 0h.6m-.4 .2h.6m-.6 0h.6m-.2 0h.6m-.5 .1h.6m-.3 0h.6m-.5-.2h.6m-.1 0h.6m-.5 .1h.6m-.2-.1h.6m-.4 .2h.6m-8 .2h.6m-.1 .1h.6m-.6 0h.6m-.3 0h.6m-.3 0h.6m0 .1h.6m-.4-.3h.6m-.5 .1h.6m-.4-.1h.6m-.5 .1h.6m-.4 .2h.6m-.5-.1h.6m-.4-.2h.6m-.2 .1h.6m-.3 0h.6m-.4 0h.6m-.4-.1h.6m-.4 .1h.6m-.4-.1h.6m-.5 .1h.6m-.5-.1h.6m-.6 .1h.6m-.3 0h.6m-.5-.1h.6m-.6 .1h.6m-.3-.1h.6m-.4 .2h.6m-.6-.1h.6m-.1-.1h.6m-.5 .1h.6m-.4-.1h.6m-.6 .1h.6m.6 0h.6m-5.9 .5h.6m-.5-.2h.6m-.3 .1h.6m0 .2h.6m-.6-.3h.6m-.3 .2h.6m-.3-.1h.6m-.5 0h.6m0 0h.6m-.6 0h.6m-.6 .2h.6m-.3-.3h.6m-.2 .1h.6m-.5 0h.6m-.6-.1h.6m-.4 .3h.6m-.5-.2h.6m-.6 0h.6m-.5-.1h.6m.2 .2h.6m-6.5 .3h.6m-.3 .1h.6m.4 0h.6m-.2-.1h.6m-.3 .2h.6m-.6-.1h.6m-.3 .1h.6m-.5-.2h.6m-.4 .2h.6m-.4-.1h.6m-.6-.1h.6m-.5 .1h.6m-.3-.2h.6m0 .2h.6m-.5 .1h.6m-.6 0h.6m-.5-.3h.6m-.4 .1h.6m-.3 .1h.6m-.3-.2h.6m-.3 .3h.6m-.5 0h.6m-.6 0h.6m-.6 0h.6m-.4-.3h.6m.4 .1h.6m-5.4 .3h.6m-.4 .2h.6m-.4 .1h.6m-.4 0h.6m-.6-.2h.6m-.4 .1h.6m-.3 0h.6m-.3-.1h.6m-.6 .1h.6m-.2-.2h.6m-.5 .1h.6m-.5 0h.6m-.2 .1h.6m-.5 .1h.6m.4-.1h.6m-.5-.2h.6m-.5 0h.6m-.1 .2h.6m-.1-.1h.6m-8.8 .4h.6m.9 .2h.6m1.2-.1h.6m-.4-.1h.6m0 .2h.6m-.5-.1h.6m.1 0h.6m-.6 .1h.6m-.3 0h.6m-.6-.2h.6m-.1-.1h.6m-.5 .2h.6m-.6 .1h.6m-.4 0h.6m-.3-.1h.6m-.4-.1h.6m-.6-.1h.6m-.5 .1h.6m-.2-.1h.6m-.5 .1h.6m-.6 .1h.6m-.1 0h.6m0-.2h.6m-8.7 .7h.6m2.1-.3h.6m-.3 0h.6m-.4 .2h.6m-.5-.2h.6m-.2 .3h.6m.2-.3h.6m-.5 .2h.6m-.4-.1h.6m-.3 .1h.6m-.4 0h.6m-.5 .1h.6m.4-.2h.6m-.5-.1h.6m.1 .2h.6m.1 0h.6m-6.7 .3h.6m.9 .2h.6m0-.3h.6m-.5 0h.6m-.6 .1h.6m.6 .1h.6m-.4-.2h.6m-.5 .1h.6m0 .2h.6m0-.3h.6m-.4 .3h.6m-.4-.1h.6m-.2 .1h.6m-.5-.2h.6m-7.7 .6h.6m.1-.1h.6m.5-.1h.6m-.5 .2h.6m-.4-.2h.6m-.6 0h.6m0 0h.6m-.3 .1h.6m.3-.2h.6m-.5 .1h.6m-.5-.1h.6m-.3 .3h.6m-.1-.3h.6m0 .2h.6m-.4-.1h.6m-4.7 .5h.6m-.2 .1h.6m-.4-.1h.6m.3-.2h.6m-.3 .1h.6m0 .2h.6m-.4-.1h.6m-.3 .1h.6m1-.3h.6m-5.7 .5h.6m.8 .1h.6m-.4-.1h.6m-.6 0h.6m1.1-.1h.6m-.5 .3h.6m-.4 0h.6m-.2-.3h.6m.5 0h.6m-5.3 .7h.6m-.4-.3h.6m.6 0h.6m-.6 .2h.6m-.3-.1h.6m-.1 .2h.6m-.6 0h.6m-.3-.1h.6m-.6 0h.6m.2 .1h.6m.2-.3h.6m-.5 0h.6m-4.3 .7h.6m-.3-.1h.6m-.1 0h.6m-.6 .1h.6m-.4-.3h.6m-.4 .2h.6m-.4 .1h.6m-.6 0h.6m.1-.1h.6m-.6 0h.6m-.1 0h.6m-.6 0h.6m-2.7 .4h.6m-.4 0h.6m.3-.1h.6m-.5 .1h.6m-.5-.1h.6m.9 .1h.6m-2.8 .2h.6m.4 .1h.6m-.6 .1h.6m-.7 .3h.6m-.3 .1h.6m-.2-.2h.6" stroke="#158a15" stroke-width="0.6" stroke-opacity="0.7" fill="none"/>
<polygon points="64.3,61.5 77.5,32.9 81.3,32.9 81.1,52.1 80.5,54.3 71.5,66.4" fill="none" stroke="#2b8a2b" stroke-width="0.9" stroke-linejoin="round"/>
<text x="45.3" y="36.58" font-size="6.6" text-anchor="start" fill="#3a9a3a" font-weight="normal" textLength="27.6" lengthAdjust="spacingAndGlyphs" stroke="#3a9a3a" stroke-width="0.15">CD45 dim</text>
<text x="88.9" y="70.06" font-size="6" text-anchor="start" fill="#2a2a2a" font-weight="normal" textLength="29.4" lengthAdjust="spacingAndGlyphs" stroke="#2a2a2a" stroke-width="0.1">55% blasts</text>
<path d="M188.1 38.9h.6m-3.3 2.5h.6m5.1-.1h.6m2.1 1.4h.6m-13.6 .5h.6m8 .3h.6m-2.8 .4h.6m-7.4 .1h.6m10.6 .3h.6m-5.5 .5h.6m1.6 .3h.6m-1.8 .4h.6m3.7 .4h.6m-8.9 .2h.6m.1 0h.6m-12.9 .3h.6m14.9 .3h.6m-.2 0h.6m-.5 0h.6m-1.2 .1h.6m1.6 .1h.6m.5 0h.6m-12.6 .4h.6m5.1 .1h.6m.8-.1h.6m1.6 .1h.6m-.6 .1h.6m1.2 0h.6m-6 .3h.6m3.6-.1h.6m-.3-.1h.6m1.3 .1h.6m-6.4 .5h.6m.1-.2h.6m1.3 .3h.6m2.1-.3h.6m-9.7 .5h.6m3.8 .1h.6m0 0h.6m3 .1h.6m3.4 0h.6m-6.4 .4h.6m2.8 0h.6m-5.2 .1h.6m2.8 .1h.6m-4.7 .6h.6m2.3-.3h.6m-.6 .2h.6m-.5-.1h.6m-.2 .2h.6m1 0h.6m-14.1 .2h.6m9 .2h.6m3.2-.3h.6m-5.4 .6h.6m-.4 0h.6m-.1-.2h.6m-.6 0h.6m1.3 0h.6m-.5 .1h.6m-.1 .2h.6m-12 .3h.6m7.5-.2h.6m0 0h.6m.5 .2h.6m1.8-.2h.6m-7.7 .7h.6m.8-.2h.6m3.2 .1h.6m-.1-.1h.6m0 .2h.6m-6.5 .2h.6m1.5 .2h.6m.6-.1h.6m-.3 0h.6m1.4-.2h.6m.2 .3h.6m-.3 0h.6m-6 .4h.6m3.9-.2h.6m-.5 0h.6m.6-.1h.6m-.4 .1h.6m-.2 0h.6m1.2 0h.6m-25.5 .5h.6m2.6 .1h.6m13.1-.1h.6m.5 0h.6m.1-.1h.6m.9 0h.6m-.3 0h.6m.5 .1h.6m-6.7 .4h.6m.6 0h.6m1-.1h.6m1.6 0h.6m-.1 .1h.6m-7.4 .3h.6m4.4 0h.6m0 0h.6m.2-.1h.6m-.1 .1h.6m-12.6 .5h.6m4.6 .1h.6m3.5-.1h.6m1.3-.2h.6m-.3 .2h.6m-.5-.2h.6m-.1 .2h.6m-.2 0h.6m2.3-.1h.6m-16.1 .6h.6m5.4-.1h.6m.6-.1h.6m-.2 .1h.6m1.4 0h.6m-.4-.1h.6m-.6-.1h.6m.3 .3h.6m-.3-.2h.6m-.4 0h.6m-8.3 .6h.6m5.7-.1h.6m0-.1h.6m-.3 .1h.6m-.5-.1h.6m.1-.1h.6m-.4 .3h.6m-.6-.2h.6m-.4 .1h.6m.4-.2h.6m-.6 .2h.6m-4.5 .3h.6m-.3 .2h.6m.6 0h.6m-.3-.2h.6m-.5 .2h.6m-.4-.3h.6m.1 0h.6m-.3 0h.6m-.4 .2h.6m-.2 .1h.6m-.2-.3h.6m-7.8 .7h.6m.8-.2h.6m.8 .2h.6m1.5-.3h.6m-.5 0h.6m2.1 .2h.6m-19.3 .5h.6m6.2 0h.6m5.9-.1h.6m2.1-.2h.6m-.2 .1h.6m1.2 0h.6m-.3 .1h.6m.4-.1h.6m-17.9 .6h.6m5.3-.3h.6m3 .2h.6m.3 0h.6m-.1 .1h.6m2.3-.3h.6m-.2 0h.6m.3 .2h.6m-.2-.2h.6m-.4 0h.6m-15.2 .4h.6m9.2 .2h.6m-.4-.1h.6m.6 .2h.6m.3-.2h.6m-.4 .1h.6m.9 0h.6m-.4-.2h.6m.1 .2h.6m-8.2 .3h.6m2.3 .1h.6m2.4 .1h.6m0-.2h.6m-.4 .1h.6m0-.2h.6m-.4 .3h.6m-7.5 .4h.6m-.5-.1h.6m.9-.1h.6m-.3-.1h.6m1 .3h.6m.5-.3h.6m-.5 .2h.6m4.1-.2h.6m-19.8 .5h.6m10.1 0h.6m2 .2h.6m-.1 0h.6m1.6-.3h.6m-.2 .2h.6m-.1-.2h.6m-9.3 .4h.6m1.5 .2h.6m.5 0h.6m.1 .1h.6m.5-.1h.6m-.5 0h.6m.4 .1h.6m.5-.1h.6m-.4 0h.6m-.6-.2h.6m.7 .1h.6m3.2-.1h.6m-11.5 .6h.6m3.8 .1h.6m-.1-.2h.6m3.7-.1h.6m-10 .7h.6m3.4-.1h.6m0 0h.6m.8-.1h.6m-5.5 .5h.6m1.8-.1h.6m-.3 .2h.6m-.5-.1h.6m1.5-.1h.6m-.6 .2h.6m-.4-.2h.6m-.2 0h.6m2-.1h.6m-16.1 .7h.6m4.2-.1h.6m1.8-.1h.6m-.2 .2h.6m.2-.3h.6m.6 0h.6m-.5 .1h.6m.8 .1h.6m.7-.2h.6m-.5 .3h.6m-.5 0h.6m-11.5 .1h.6m7.6 .1h.6m.4 .2h.6m1.9 0h.6m-5.5 .2h.6m-.3-.1h.6m-.2 .3h.6m1.2 0h.6m.7 0h.6m-.4 0h.6m-.3 0h.6m3.8 0h.6m-19.4 .2h.6m10.1 .1h.6m1.2 .1h.6m1 0h.6m-.2-.2h.6m.5 0h.6m4.1-.1h.6m-9.7 .6h.6m1.6-.1h.6m1.1-.1h.6m-5 .6h.6m-.6-.1h.6m1.2 0h.6m.9 .1h.6m.1-.1h.6m-2.9 .5h.6m1.4-.1h.6m.7-.1h.6m-.5 0h.6m5.3 .1h.6m-14.7 .5h.6m0-.2h.6m5.6 .1h.6m2.5-.1h.6m-8.7 .7h.6m1.3-.2h.6m.4 0h.6m4.7-.1h.6m-7.2 .7h.6m3 0h.6m-.2-.2h.6m6 .2h.6m-12.1 .3h.6m1.2-.1h.6m1.3 .5h.6m.3-.2h.6m.7 .1h.6m-2.5 .4h.6m2.2-.1h.6m0 .2h.6m-7.7 .5h.6m1.1-.3h.6m.4 .2h.6m2.3 0h.6m-21.2 .2h.6m15.6 .4h.6m3.7 .1h.6m-16.1 .8h.6m3.8-.1h.6m2.4 .1h.6m2.5 0h.6m.1 .3h.6m.1 .3h.6m-8 .4h.6m3.6 .7h.6m-.1-.1h.6m7.1 .6h.6m-13.1 3.6h.6" stroke="#3aa83a" stroke-width="0.6" stroke-opacity="0.4" fill="none"/>
<path d="M202.3 35.4h.6m-1.6 .8h.6m.1-.2h.6m-3.3 .4h.6m-.3 .7h.6m-.1-.3h.6m.6 .2h.6m1.5-.1h.6m-.5-.1h.6m-4.1 .6h.6m1.3-.2h.6m.2 .2h.6m-.1-.2h.6m.2 .3h.6m-4.2 .3h.6m.1 .1h.6m2.1-.2h.6m-7.5 .4h.6m2.1 .2h.6m.1-.2h.6m1.1 0h.6m1.2 0h.6m-.2 0h.6m-.1 0h.6m-.3 .2h.6m-9.2 .4h.6m.9-.2h.6m-.4 0h.6m5.1 .2h.6m-.5-.3h.6m-3.8 .6h.6m1.6-.1h.6m0 0h.6m.8 .2h.6m.3-.3h.6m-7.9 .4h.6m-.5 0h.6m.9 .1h.6m-.4 0h.6m.1 .1h.6m.6 0h.6m-.1-.2h.6m-.5 .1h.6m-.6-.1h.6m1.4 .3h.6m-.5-.3h.6m-.3 .2h.6m-7.1 .5h.6m.2 0h.6m2.1 0h.6m-.4-.2h.6m-.4 0h.6m.3 .1h.6m-.5-.1h.6m-.1-.1h.6m-.1 .1h.6m-.1-.1h.6m.4 0h.6m-11 .4h.6m-.5 0h.6m.9 0h.6m.4 .2h.6m-.4 0h.6m1.1-.2h.6m.2 .1h.6m.1 0h.6m-.5 .1h.6m-.5 0h.6m-.4 .1h.6m0-.3h.6m2.3 .2h.6m-.3 .1h.6m.5-.2h.6m-10.4 .3h.6m0 .2h.6m-.5 .1h.6m0-.2h.6m1 .2h.6m-.3-.2h.6m0-.1h.6m-.6 0h.6m-.4 .1h.6m.7 0h.6m.3 .2h.6m-.3-.3h.6m-.5 .3h.6m-.3-.1h.6m-.6-.2h.6m-.4 0h.6m.3 .2h.6m0 .1h.6m.6-.1h.6m-11.8 .3h.6m2 .2h.6m-.5-.2h.6m-.2 .2h.6m.3-.1h.6m-.1-.1h.6m-.4 0h.6m-.2 0h.6m0 0h.6m-.2 .1h.6m-.6 .1h.6m0-.3h.6m-.3 .1h.6m-.4 .2h.6m-.4-.1h.6m-.2 .1h.6m-.2 0h.6m-.2-.3h.6m0 .2h.6m.7-.1h.6m.5 0h.6m-11.8 .6h.6m.2 0h.6m.8 0h.6m.3-.2h.6m-.1 0h.6m-.6 .2h.6m.1 0h.6m-.6-.1h.6m-.3-.2h.6m.9 0h.6m-.2 .2h.6m1 .1h.6m.4-.1h.6m-9.6 .2h.6m1.3 .3h.6m.4 0h.6m-.5 0h.6m-.2-.1h.6m-.6-.2h.6m-.5 .2h.6m1-.2h.6m-.4 .1h.6m-.1 .2h.6m-.5-.2h.6m.1 .2h.6m.2-.1h.6m-.4-.1h.6m0-.1h.6m.7 0h.6m-.2 .2h.6m0 0h.6m-.3-.1h.6m.8 .2h.6m-15 .4h.6m2.6-.1h.6m.6-.2h.6m-.5 .1h.6m.6 0h.6m-.3 0h.6m-.6 .2h.6m-.3-.3h.6m.5 .3h.6m-.6 0h.6m.2-.3h.6m.2 .3h.6m0-.1h.6m-.4 0h.6m.1 .1h.6m0 0h.6m.3-.2h.6m2.1 0h.6m-14.8 .6h.6m.2 0h.6m2.2-.1h.6m0-.1h.6m-.4 0h.6m-.5-.1h.6m0 .1h.6m-.3-.1h.6m.3 .3h.6m-.4-.2h.6m-.4 .1h.6m-.5-.2h.6m-.4 .3h.6m-.5-.2h.6m-.5 .2h.6m-.4-.1h.6m-.2 .1h.6m-.5-.3h.6m-.5 .2h.6m-.4-.2h.6m-.5 .3h.6m-.5-.1h.6m.2 .1h.6m.4-.2h.6m-.1 .2h.6m-.6-.1h.6m0-.2h.6m-.4 .2h.6m-.5 0h.6m.7 .1h.6m-11.2 .2h.6m.3 0h.6m-.4 .1h.6m-.2 .1h.6m-.5-.1h.6m-.4 .1h.6m-.4-.3h.6m-.4 .3h.6m-.4-.2h.6m-.3 .2h.6m-.1 0h.6m0 0h.6m-.4-.3h.6m0 .1h.6m-.4 0h.6m0 .1h.6m-.6-.2h.6m-.6 .2h.6m.6 0h.6m-.5 .1h.6m-.2 0h.6m.1-.3h.6m.1 .2h.6m-.2-.1h.6m.8 .1h.6m-12.5 .2h.6m1.1 .2h.6m-.5 .1h.6m-.4-.1h.6m-.5 .1h.6m-.4-.1h.6m0 0h.6m-.6 0h.6m-.5-.1h.6m.1-.1h.6m0 .1h.6m-.5 .2h.6m-.6-.1h.6m-.4-.1h.6m-.5 0h.6m-.3-.1h.6m-.5 0h.6m-.6 .3h.6m-.6-.1h.6m-.6 .1h.6m.4-.1h.6m-.6 0h.6m-.4 .1h.6m-.4 0h.6m-.5-.3h.6m-.5 .3h.6m-.3-.2h.6m-.5 0h.6m.2 0h.6m-.2 .2h.6m-.5 0h.6m-.1-.3h.6m.4 .3h.6m.1-.2h.6m-.1 .2h.6m.2 0h.6m-14.2 .4h.6m3-.1h.6m-.4 0h.6m.1-.2h.6m-.3 0h.6m-.4 0h.6m-.2 .3h.6m-.5-.3h.6m-.5 .3h.6m.4 0h.6m-.5 0h.6m-.5-.2h.6m-.5 .2h.6m-.6-.3h.6m-.6 .3h.6m-.3-.2h.6m-.3-.1h.6m0 0h.6m-.1 .2h.6m-.4 0h.6m-.4 .1h.6m-.4-.2h.6m-.3 .2h.6m-.5 0h.6m-.4-.3h.6m-.6 0h.6m-.3 0h.6m-.5 .2h.6m0-.1h.6m-.4 0h.6m-.6 0h.6m-.4 0h.6m.5 0h.6m-.4-.1h.6m-11.8 .7h.6m.4-.1h.6m.5 .1h.6m0-.1h.6m-.3-.2h.6m-.1 .1h.6m-.1 0h.6m0 .2h.6m-.4-.2h.6m-.4-.1h.6m-.3 .3h.6m-.4-.1h.6m-.3-.1h.6m-.6-.1h.6m-.4 .1h.6m-.4-.1h.6m-.6 .1h.6m-.4 0h.6m-.5 0h.6m-.3 .2h.6m-.4-.1h.6m0 0h.6m-.6 .1h.6m-.1-.1h.6m.6-.2h.6m-.5 .3h.6m-.6-.3h.6m-.2 .2h.6m-.6 0h.6m-.4-.2h.6m-.6 .3h.6m-.5-.2h.6m-.1 .1h.6m-.6 .1h.6m-11.1 .2h.6m.3-.1h.6m-.6 .2h.6m0 0h.6m-.5 0h.6m-.5-.2h.6m-.6 .1h.6m-.4 .2h.6m0-.3h.6m.1 .1h.6m-.2-.1h.6m-.5 0h.6m-.5 .3h.6m-.6 0h.6m-.3-.2h.6m-.5-.1h.6m.3 .3h.6m0-.2h.6m-.6 .1h.6m-.4 0h.6m-.5 .1h.6m-.5 0h.6m-.3-.2h.6m-.6 0h.6m-.3 0h.6m-.6 .1h.6m-.6 .1h.6m-.5-.3h.6m-.6 0h.6m-.5 0h.6m-.3 .2h.6m-.3 0h.6m-.4 0h.6m-.1-.1h.6m-.4-.1h.6m-.2 0h.6m-.2 .3h.6m-.5-.3h.6m.1 .2h.6m-.3-.2h.6m-.4 0h.6m-.5 .3h.6m.1-.1h.6m-11.9 .5h.6m-.2 0h.6m.5-.1h.6m.1-.2h.6m-.5 .3h.6m-.3-.2h.6m-.3 .1h.6m-.5 0h.6m-.3 .1h.6m-.1-.3h.6m-.6 .3h.6m-.4-.2h.6m-.4 .1h.6m.2 .1h.6m-.6-.1h.6m-.3 .1h.6m-.5-.3h.6m-.5 .2h.6m-.6-.2h.6m-.2 0h.6m-.6 0h.6m-.5 .2h.6m-.6 0h.6m-.5 .1h.6m-.4 0h.6m-.6-.3h.6m-.5 0h.6m-.5 .1h.6m-.5 .1h.6m-.3 .1h.6m-.1-.3h.6m-.3 .1h.6m-.6 .1h.6m-.4 0h.6m-.5 .1h.6m-.4-.3h.6m.2 .1h.6m-.4 .2h.6m.2-.1h.6m-.2-.1h.6m-.5 .1h.6m-.6 .1h.6m-.3 0h.6m.3-.2h.6m-.3-.1h.6m.7 0h.6m-15.5 .6h.6m-.4-.2h.6m2.8 .2h.6m-.6-.2h.6m-.2 .1h.6m-.3 .2h.6m-.3-.2h.6m-.3 0h.6m-.6 .2h.6m-.3-.1h.6m-.4 .1h.6m-.4-.1h.6m-.4-.2h.6m-.3 0h.6m-.5 .2h.6m-.4 0h.6m-.5-.1h.6m-.4-.1h.6m0 .1h.6m-.5 .1h.6m-.3-.2h.6m-.6 0h.6m-.4 .3h.6m-.3-.2h.6m-.4-.1h.6m-.6 .1h.6m-.6-.1h.6m-.3 .2h.6m-.5-.2h.6m-.6 .3h.6m-.4-.1h.6m-.6-.2h.6m-.3 .1h.6m-.5 .2h.6m-.4-.2h.6m-.2 .2h.6m-.4-.1h.6m-.5 0h.6m0 0h.6m-.4 0h.6m-.6 .1h.6m.4 0h.6m-.3-.1h.6m-.4 0h.6m3.2 .1h.6m-15.3 .4h.6m.5-.1h.6m-.4-.2h.6m-.6 .3h.6m-.2-.2h.6m-.5 0h.6m-.4-.1h.6m-.5 0h.6m.1 0h.6m-.6 .2h.6m-.5 .1h.6m-.5 0h.6m0 0h.6m-.5-.2h.6m-.5-.1h.6m-.6 .3h.6m-.5 0h.6m-.4-.1h.6m.1 .1h.6m-.6-.2h.6m-.3 .2h.6m-.6-.1h.6m-.4 .1h.6m-.5 0h.6m-.5-.1h.6m-.6-.2h.6m-.5 0h.6m0 .2h.6m-.4-.1h.6m-.3 0h.6m-.5 .2h.6m-.5-.2h.6m-.3 0h.6m-.5 0h.6m-.3 0h.6m-.4-.1h.6m-.3 .3h.6m-.5-.2h.6m-.5 .1h.6m-.5-.2h.6m-.5 0h.6m-.5 .2h.6m0-.2h.6m-.2 .2h.6m-.5-.1h.6m-.3 .2h.6m-.4 0h.6m.1-.2h.6m-.5-.1h.6m-.3 .3h.6m-12.2 .4h.6m-.5-.1h.6m-.5-.2h.6m.4 .3h.6m-.3-.3h.6m-.3 .1h.6m0-.1h.6m-.2 .1h.6m-.6 0h.6m-.1-.1h.6m-.2 .3h.6m-.4-.2h.6m.1 .2h.6m-.5-.1h.6m-.2-.2h.6m-.6 0h.6m-.5 .1h.6m-.4 0h.6m-.5 .1h.6m-.6-.2h.6m-.4 0h.6m-.4 0h.6m-.4 .3h.6m-.6-.3h.6m-.6 .3h.6m-.5 0h.6m-.5-.1h.6m-.5-.1h.6m-.2 .2h.6m-.3 0h.6m-.5 0h.6m0-.2h.6m-.5-.1h.6m-.6 .3h.6m-.3-.3h.6m-.6 .3h.6m-.6-.2h.6m-.1 .1h.6m-.5-.2h.6m.1 .2h.6m-.4-.1h.6m-.3-.1h.6m-.4 .1h.6m1.9 .2h.6m-.3 0h.6m0 0h.6m-.1 0h.6m-13.7 .3h.6m.2 0h.6m-.3-.2h.6m-.5 .3h.6m0-.1h.6m.3-.2h.6m-.6 .3h.6m-.5-.3h.6m-.3 .3h.6m-.5-.3h.6m-.1 .1h.6m-.5 0h.6m-.6 0h.6m-.2 0h.6m-.5-.1h.6m-.5 0h.6m-.3 .1h.6m-.4-.1h.6m-.6 .1h.6m-.5-.1h.6m-.5 .1h.6m-.6-.1h.6m-.6 .2h.6m-.5 .1h.6m-.5-.1h.6m-.6 0h.6m-.4 .1h.6m-.5-.1h.6m-.4-.1h.6m-.5 .1h.6m-.6-.1h.6m-.6 .2h.6m-.2-.3h.6m-.5 .1h.6m-.5 .1h.6m-.4-.2h.6m-.2 .2h.6m-.6 .1h.6m-.6-.3h.6m-.4 .1h.6m-.3-.1h.6m-.4 .3h.6m-.6-.3h.6m-.2 .1h.6m-.2-.1h.6m-.1 0h.6m-.1 .1h.6m-.3-.1h.6m.8 0h.6m-14.6 .6h.6m-.1 .1h.6m.6 0h.6m.1 0h.6m-.1-.1h.6m-.1 .1h.6m-.5-.2h.6m-.5 .1h.6m-.6-.2h.6m-.4 .3h.6m-.2-.3h.6m-.5 .2h.6m-.5-.2h.6m.1 .3h.6m-.3-.2h.6m-.6 .2h.6m-.4-.1h.6m-.5 0h.6m-.3 .1h.6m-.6 0h.6m-.6-.2h.6m-.4 .2h.6m-.4 0h.6m-.5-.3h.6m-.3 .2h.6m-.5 .1h.6m-.6-.2h.6m-.4 .1h.6m-.4-.2h.6m-.4 .2h.6m-.6-.2h.6m-.5 .3h.6m-.5-.2h.6m-.4 .2h.6m-.6-.3h.6m-.6 .2h.6m-.5-.2h.6m-.6 .1h.6m-.3 .2h.6m-.1 0h.6m-.4 0h.6m-.6-.1h.6m-.6-.2h.6m-.2 .1h.6m-.1-.1h.6m-.6 .3h.6m-.4-.3h.6m-.6 .1h.6m-.3 0h.6m-.5 .1h.6m-.6 0h.6m0 0h.6m.8-.2h.6m-.4 .1h.6m-.5 .2h.6m-.5 0h.6m.5-.3h.6m-.2 .2h.6m.7-.1h.6m-16.3 .6h.6m0 0h.6m-.3 0h.6m-.5-.3h.6m.4 .1h.6m-.5-.1h.6m-.2 .2h.6m-.5 .1h.6m-.3-.1h.6m-.3 0h.6m-.4-.1h.6m-.3 .2h.6m-.3-.3h.6m0 .3h.6m-.5 0h.6m-.6 0h.6m-.5-.1h.6m-.5 0h.6m-.5 .1h.6m-.5-.2h.6m-.5-.1h.6m-.6 .2h.6m-.6 0h.6m-.4 0h.6m-.5-.2h.6m-.5 .3h.6m-.4-.3h.6m-.4 0h.6m-.6 .3h.6m-.5-.2h.6m-.5 0h.6m-.6 .1h.6m-.4-.2h.6m-.5 .3h.6m-.6-.1h.6m-.4-.2h.6m-.6 .3h.6m-.6-.3h.6m0 .2h.6m-.5-.2h.6m-.6 0h.6m-.4 0h.6m-.6 .2h.6m-.6-.2h.6m-.4 .2h.6m-.6-.2h.6m-.4 .1h.6m-.4 .1h.6m-.6-.2h.6m-.4 .1h.6m-.5 .2h.6m-.5-.1h.6m-.3 0h.6m-.4 .1h.6m-.5 0h.6m-.4-.2h.6m-.6 .2h.6m-.5-.1h.6m-.6-.2h.6m-.5 .3h.6m-.1-.2h.6m-.1-.1h.6m-.4 .2h.6m-.6 0h.6m.2 0h.6m.8-.1h.6m.2 0h.6m-.5-.1h.6m2.4 .3h.6m-18.8 .3h.6m1.3-.2h.6m-.5 .1h.6m.7 0h.6m-.3 .1h.6m-.5-.2h.6m-.3 0h.6m-.5 .2h.6m-.3-.2h.6m-.3 0h.6m-.6 .1h.6m-.3 0h.6m-.6 0h.6m-.5-.1h.6m-.5 0h.6m-.4 0h.6m-.5 .2h.6m-.5 0h.6m-.5-.2h.6m-.4 .3h.6m-.6 0h.6m-.3 0h.6m-.5-.1h.6m-.6 0h.6m-.6 .1h.6m-.5-.3h.6m-.6 .3h.6m-.5-.2h.6m-.6-.1h.6m-.6 .2h.6m-.5 .1h.6m-.4-.1h.6m-.6 0h.6m-.6 .1h.6m0-.3h.6m-.5 0h.6m-.6 0h.6m-.5 .3h.6m-.5-.3h.6m-.6 .2h.6m-.6-.1h.6m-.5 0h.6m-.6-.1h.6m-.4 0h.6m-.6 .2h.6m-.2 .1h.6m-.5-.1h.6m-.6 0h.6m-.4-.1h.6m-.5 .1h.6m-.5 .1h.6m-.6-.2h.6m-.4 0h.6m-.4 0h.6m-.6-.1h.6m-.6 .2h.6m-.5-.2h.6m-.4 .1h.6m-.5 0h.6m-.3-.1h.6m-.6 .3h.6m-.6-.1h.6m-.6-.2h.6m-.4 .2h.6m-.5 .1h.6m-.2-.3h.6m-.5 .1h.6m-.2 .1h.6m-.3 0h.6m-.4-.2h.6m-.6 .3h.6m.2 0h.6m-.2 0h.6m-.5-.2h.6m0 .2h.6m-.1-.3h.6m-.1 0h.6m-.2 .2h.6m-.1-.1h.6m-.5-.1h.6m.5 .2h.6m-14.9 .2h.6m-.5 .2h.6m-.2 0h.6m-.5 0h.6m-.5 .1h.6m-.3-.2h.6m.2 .2h.6m-.5-.2h.6m-.5-.1h.6m-.2 .1h.6m-.5-.1h.6m-.3 .2h.6m-.5 .1h.6m-.5 0h.6m-.6 0h.6m-.6 0h.6m-.6-.1h.6m-.5 .1h.6m-.6-.2h.6m-.3 0h.6m-.4 .1h.6m-.4-.2h.6m-.3 0h.6m-.6 .3h.6m-.6-.3h.6m-.4 .1h.6m-.4 0h.6m-.6-.1h.6m-.6 0h.6m-.5 .2h.6m-.5 .1h.6m-.6-.3h.6m-.5 .1h.6m-.6 .1h.6m-.6 0h.6m-.4-.2h.6m-.5 .3h.6m-.3-.1h.6m-.5 0h.6m-.3-.2h.6m-.6 .3h.6m-.6-.2h.6m-.5 0h.6m-.4 .1h.6m-.3-.2h.6m-.5 .3h.6m-.5-.1h.6m-.5 0h.6m-.4 .1h.6m-.6-.3h.6m-.6 0h.6m-.6 .1h.6m-.5 0h.6m-.3 .1h.6m0-.1h.6m-.6 0h.6m-.3-.1h.6m-.3 .1h.6m-.6 .2h.6m-.3 0h.6m-.4-.1h.6m-.4-.2h.6m-.5 .3h.6m-.1-.3h.6m-.3 .2h.6m-.5 0h.6m-.4-.2h.6m1.5 .1h.6m-14.9 .5h.6m-.3 .1h.6m.2-.3h.6m.6 0h.6m-.3 .3h.6m.2-.3h.6m-.5 .2h.6m-.5 .1h.6m-.4 0h.6m-.2-.1h.6m-.3 0h.6m-.5 0h.6m-.4 .1h.6m-.4-.2h.6m-.2 .2h.6m-.6 0h.6m-.5 0h.6m-.3-.2h.6m-.5 .2h.6m-.4-.2h.6m-.5 .1h.6m-.5-.2h.6m.2 0h.6m-.5 0h.6m-.6 .3h.6m-.3-.3h.6m-.5 .1h.6m-.5-.1h.6m-.5 0h.6m-.3 .1h.6m-.6 .2h.6m-.4 0h.6m-.5-.1h.6m-.5-.1h.6m-.6-.1h.6m-.4 0h.6m-.5 .3h.6m-.5-.1h.6m-.4-.2h.6m-.5 .3h.6m-.5-.2h.6m-.5 .1h.6m-.5 .1h.6m-.4-.3h.6m-.5 .1h.6m-.2 .1h.6m-.5-.1h.6m-.5-.1h.6m.1 .2h.6m-.5 0h.6m-.3-.2h.6m-.2 .3h.6m-.6-.2h.6m-.3 0h.6m-.3 0h.6m-.6 .1h.6m-.1-.1h.6m-.3 0h.6m-.4 .2h.6m-.5 0h.6m-.5-.3h.6m-.3 .3h.6m-.5-.2h.6m-.2 .1h.6m-.4 .1h.6m.1 0h.6m1.1-.2h.6m-17.9 .6h.6m-.3-.2h.6m.7 0h.6m-.1 0h.6m-.5 .1h.6m.4-.1h.6m-.5 0h.6m-.2-.1h.6m-.6 .2h.6m-.4 .1h.6m-.5-.2h.6m-.3-.1h.6m-.5 .3h.6m-.5-.1h.6m-.5 .1h.6m-.6-.3h.6m-.5 0h.6m-.4 0h.6m-.5 0h.6m-.5 0h.6m-.5 .3h.6m-.5-.3h.6m-.3 .1h.6m-.5 .2h.6m-.5-.1h.6m-.4 0h.6m-.5 0h.6m-.6-.1h.6m-.6 .1h.6m-.5 0h.6m-.2 0h.6m-.5-.2h.6m-.4 0h.6m-.2 .3h.6m-.6-.2h.6m-.2 .2h.6m-.6-.2h.6m-.5 .2h.6m-.5 0h.6m-.3-.1h.6m-.4-.2h.6m-.6 .1h.6m-.6 .1h.6m-.2-.2h.6m-.4 .2h.6m-.5-.1h.6m-.4 0h.6m-.6 0h.6m-.5 .2h.6m-.5 0h.6m-.6-.2h.6m-.6 0h.6m-.4-.1h.6m-.5 .1h.6m-.5-.1h.6m-.5 0h.6m-.6 .3h.6m-.4-.3h.6m-.5 0h.6m-.6 .2h.6m-.5-.1h.6m-.5 0h.6m-.2-.1h.6m-.5 .1h.6m-.3 .1h.6m-.2-.1h.6m-.5 .1h.6m-.5 .1h.6m-.6-.2h.6m-.2 0h.6m-.3 .1h.6m-.3 .1h.6m-.2-.1h.6m.3-.1h.6m-.4-.1h.6m.4 .2h.6m-.5 0h.6m-16.9 .3h.6m1.5-.1h.6m-.2 .2h.6m-.3 .1h.6m-.4 0h.6m-.5-.2h.6m-.1-.1h.6m-.1 .1h.6m-.2 0h.6m-.5 0h.6m-.5 .2h.6m-.6-.2h.6m-.5 .2h.6m-.5-.3h.6m-.6 .1h.6m0-.1h.6m-.5 .1h.6m-.2 .2h.6m-.2 0h.6m-.5 0h.6m-.4 0h.6m-.2-.2h.6m-.6-.1h.6m-.4 0h.6m-.6 .2h.6m-.4 .1h.6m-.4-.2h.6m-.6 .1h.6m-.5 0h.6m-.6 0h.6m-.6-.2h.6m-.5 .1h.6m-.6-.1h.6m-.5 .2h.6m-.5-.2h.6m-.5 0h.6m-.3 .3h.6m-.2-.2h.6m-.6 .1h.6m-.6 0h.6m-.4-.1h.6m-.6-.1h.6m-.6 .2h.6m-.6 0h.6m-.6 0h.6m-.4 0h.6m-.5 .1h.6m-.5-.3h.6m-.6 0h.6m-.5 .2h.6m-.5 0h.6m-.6 0h.6m-.3-.2h.6m-.6 .2h.6m-.6-.1h.6m-.5 .2h.6m-.3 0h.6m-.6-.2h.6m-.6-.1h.6m-.3 .3h.6m0-.1h.6m-.6 .1h.6m-.5-.3h.6m-.3 .3h.6m-.3-.3h.6m-.6 .1h.6m-.3-.1h.6m-.6 .2h.6m-.5-.2h.6m-.5 0h.6m-.5 .3h.6m-.6-.1h.6m.2 .1h.6m-.4-.2h.6m-.1-.1h.6m-.4 .3h.6m-.5-.2h.6m-.6 .1h.6m-.2 0h.6m.3 .1h.6m1.8 0h.6m-18.1 .1h.6m0 .3h.6m.2-.1h.6m-.5 0h.6m-.6 .1h.6m-.4-.3h.6m0 .2h.6m-.3-.1h.6m.4 .2h.6m0-.2h.6m-.6 .2h.6m-.6-.2h.6m.1 0h.6m-.6 .2h.6m-.5-.1h.6m-.5-.1h.6m-.4-.1h.6m-.2 .3h.6m-.4-.2h.6m-.2 .1h.6m-.3 0h.6m-.6 .1h.6m-.5 0h.6m-.6-.3h.6m-.3 .3h.6m-.6-.1h.6m-.5-.1h.6m-.5 0h.6m-.4 .1h.6m-.4 0h.6m-.5 0h.6m-.5 0h.6m-.6 0h.6m-.5-.1h.6m-.6 0h.6m-.5 0h.6m-.6 .1h.6m-.5-.2h.6m-.6 .1h.6m-.6 .2h.6m-.6 0h.6m-.5 0h.6m-.6-.2h.6m-.4 .2h.6m-.5-.1h.6m-.6 .1h.6m-.6-.2h.6m-.5-.1h.6m-.6 .3h.6m-.4-.3h.6m-.2 .1h.6m-.6 .1h.6m-.5-.1h.6m-.3-.1h.6m-.6 0h.6m-.5 .2h.6m-.4 .1h.6m-.4-.3h.6m-.3 .2h.6m-.2-.2h.6m-.3 .2h.6m-.6-.1h.6m-.4 0h.6m-.2 .2h.6m-.2-.3h.6m-.4 .1h.6m-.5 .1h.6m-.5 .1h.6m-.5-.3h.6m-.5 .2h.6m-.1-.1h.6m-.4 .1h.6m-.6 .1h.6m-.3-.1h.6m2 0h.6m0-.1h.6m-15.5 .3h.6m-.6 .1h.6m-.6 .1h.6m-.5-.1h.6m-.2 0h.6m-.5-.1h.6m.5 .3h.6m-.5-.3h.6m-.4 0h.6m-.6 .1h.6m-.3 .2h.6m-.2-.3h.6m-.2 .3h.6m-.2-.3h.6m-.5 .1h.6m-.6 0h.6m-.4 0h.6m-.5 .2h.6m-.4-.2h.6m-.5-.1h.6m-.6 0h.6m-.5 0h.6m-.4 .3h.6m-.6-.1h.6m-.1-.2h.6m-.5 .2h.6m-.6-.2h.6m-.5 0h.6m-.5 0h.6m-.5 .1h.6m-.6 .1h.6m-.4 .1h.6m-.5 0h.6m-.5-.1h.6m-.5-.2h.6m-.6 0h.6m-.6 0h.6m-.5 0h.6m-.6 .3h.6m-.4-.3h.6m-.6 0h.6m-.6 0h.6m-.4 .2h.6m-.6 0h.6m-.4-.1h.6m-.6 .1h.6m-.6-.2h.6m-.5 .1h.6m-.6 .2h.6m-.6-.2h.6m-.3 .2h.6m-.5-.1h.6m-.5 .1h.6m-.4 0h.6m-.5 0h.6m-.5-.2h.6m-.6-.1h.6m-.5 .1h.6m-.3 0h.6m-.4-.1h.6m-.3 .2h.6m-.4 .1h.6m-.5-.2h.6m-.4-.1h.6m-.4 0h.6m-.6 .3h.6m-.6-.1h.6m-.3 0h.6m-.5-.2h.6m-.5 0h.6m-.6 .2h.6m-.5-.1h.6m-.6 .2h.6m-.4-.1h.6m-.5-.2h.6m-.4 .2h.6m-.4-.1h.6m.9 .2h.6m-14 .4h.6m1-.2h.6m.3-.1h.6m-.5 .3h.6m-.4-.2h.6m0 .2h.6m-.5-.3h.6m-.1 .1h.6m-.4 .2h.6m-.5-.1h.6m-.5-.1h.6m-.5 .1h.6m-.5 0h.6m-.6-.2h.6m-.4 .1h.6m-.5 .1h.6m-.5 0h.6m-.6 .1h.6m-.2 0h.6m-.3 0h.6m-.6 0h.6m-.6-.2h.6m-.5 0h.6m-.5 .2h.6m-.6 0h.6m-.5 0h.6m-.5-.2h.6m-.5-.1h.6m-.6 .3h.6m-.2-.1h.6m-.5 0h.6m-.6 .1h.6m-.6-.2h.6m-.4 .2h.6m-.4-.2h.6m-.6 .2h.6m-.5-.3h.6m-.1 .2h.6m-.6-.1h.6m-.4 .1h.6m-.3 .1h.6m-.6 0h.6m-.6-.1h.6m-.4-.1h.6m-.4 0h.6m-.4-.1h.6m-.5 .3h.6m-.6 0h.6m-.4-.3h.6m-.5 .2h.6m-.6-.2h.6m-.5 0h.6m-.5 .1h.6m-.6 .2h.6m-.5-.2h.6m-.4 0h.6m-.5 .1h.6m-.6-.2h.6m-.2 0h.6m-.5 .2h.6m-.5 0h.6m-.5 0h.6m-.5-.1h.6m-.5-.1h.6m-.5 .1h.6m-.5-.1h.6m-.5 0h.6m-.4 .2h.6m-.2 0h.6m-.6-.1h.6m-.6 0h.6m-.3 0h.6m1.3 .1h.6m-14.3 .2h.6m-.5 .1h.6m-.2 .2h.6m-.2-.2h.6m-.5 .1h.6m-.5 .1h.6m-.1 0h.6m.1-.3h.6m-.4 .1h.6m-.1-.1h.6m-.3 0h.6m-.2 0h.6m-.3 .1h.6m-.6 .1h.6m-.3 0h.6m-.3-.2h.6m-.5 0h.6m-.6 .2h.6m-.6-.1h.6m-.5 .1h.6m-.6 .1h.6m-.4 0h.6m-.5-.3h.6m-.5 .2h.6m-.4 .1h.6m-.6 0h.6m-.6-.3h.6m-.5 .3h.6m-.5 0h.6m-.5-.3h.6m-.6 .3h.6m-.5-.1h.6m-.4 .1h.6m-.6-.3h.6m-.6 .3h.6m-.6-.2h.6m-.5 .2h.6m-.4-.1h.6m-.4 .1h.6m-.5-.1h.6m-.5-.1h.6m-.6-.1h.6m-.2 .3h.6m-.5-.3h.6m-.6 .1h.6m-.6 .2h.6m-.2 0h.6m-.5-.2h.6m-.5 .2h.6m-.6 0h.6m-.5-.2h.6m-.4-.1h.6m-.6 .3h.6m-.5-.2h.6m-.4-.1h.6m-.6 .1h.6m-.5 .2h.6m-.6-.3h.6m-.5 0h.6m-.6 .2h.6m-.3-.2h.6m-.6 .2h.6m-.5 0h.6m-.6 0h.6m-.4-.2h.6m-.5 .1h.6m.8 .2h.6m-.6-.1h.6m-.4-.1h.6m-.5 0h.6m-.2 0h.6m.2 .2h.6m-.5 0h.6m-.1-.2h.6m.7 .1h.6m.1 .1h.6m.6-.1h.6m-16.9 .4h.6m1.1-.1h.6m-.1 .1h.6m-.2-.2h.6m-.6 .3h.6m-.3 0h.6m-.6-.1h.6m.1 .1h.6m-.5 0h.6m-.6-.3h.6m-.6 .3h.6m-.5-.1h.6m-.6-.2h.6m-.5 .1h.6m-.3-.1h.6m-.5 .1h.6m-.5 0h.6m-.6 0h.6m-.5 0h.6m-.5 0h.6m-.2 .1h.6m-.6-.2h.6m-.1 0h.6m-.5 0h.6m-.6 .1h.6m-.4 0h.6m-.3 0h.6m-.6-.1h.6m-.4 .3h.6m-.6-.1h.6m-.5-.2h.6m-.2 .2h.6m-.3-.2h.6m-.6 0h.6m-.6 .3h.6m-.3-.3h.6m-.6 .2h.6m-.6-.1h.6m-.5 .1h.6m-.5-.2h.6m-.6 .1h.6m-.5 0h.6m-.4 .2h.6m-.6-.1h.6m-.6 0h.6m-.3-.2h.6m-.5 .2h.6m-.5-.2h.6m-.5 .1h.6m-.6 .2h.6m-.5-.2h.6m-.6 0h.6m-.6 .1h.6m-.5-.1h.6m-.5 0h.6m-.1 .1h.6m-.5-.1h.6m-.5 0h.6m-.4 0h.6m0 .2h.6m-.3-.1h.6m-.5 .1h.6m-.5-.1h.6m-.4-.2h.6m-.5 .2h.6m-.6-.1h.6m-.5 .2h.6m-.4-.1h.6m-.5-.1h.6m-.3 .2h.6m-.3-.2h.6m-.2 0h.6m.4-.1h.6m-15.5 .5h.6m0-.1h.6m.3 .2h.6m-.1 .1h.6m-.4 0h.6m-.2 0h.6m-.4-.2h.6m-.6 .1h.6m.5-.2h.6m-.6 0h.6m-.4 .2h.6m-.5 .1h.6m-.5-.3h.6m.2 0h.6m-.1 0h.6m-.4 .1h.6m-.4 .2h.6m-.3-.3h.6m-.2 .3h.6m-.6 0h.6m-.4-.1h.6m-.3 .1h.6m-.6-.2h.6m-.3 .1h.6m-.6 0h.6m-.5 0h.6m-.5 0h.6m-.4 0h.6m-.5 .1h.6m-.6 0h.6m-.5-.1h.6m-.5 .1h.6m-.6-.1h.6m-.2 0h.6m-.6 .1h.6m-.5 0h.6m-.4 0h.6m-.6-.1h.6m-.5 0h.6m-.6-.1h.6m-.4 .1h.6m-.5 .1h.6m-.3-.3h.6m-.6 .1h.6m-.5-.1h.6m-.6 .3h.6m-.5 0h.6m-.4-.1h.6m-.4-.1h.6m-.5 .1h.6m-.5-.1h.6m-.5 0h.6m-.5 0h.6m-.5 0h.6m-.3-.1h.6m-.5 .2h.6m-.6 0h.6m-.5-.1h.6m-.5 0h.6m-.6 0h.6m-.4-.1h.6m-.4 .2h.6m-.3 .1h.6m-.5-.1h.6m-.4-.2h.6m-.4 .2h.6m.1-.1h.6m-.5 0h.6m.3 .2h.6m-.3 0h.6m.9-.3h.6m-15.7 .4h.6m.1 0h.6m0 .1h.6m.6 .2h.6m-.3 0h.6m-.5-.1h.6m-.2 .1h.6m-.4-.3h.6m-.3 .1h.6m-.5 .2h.6m-.6-.2h.6m-.3 .1h.6m-.5-.1h.6m-.5-.1h.6m-.5 .1h.6m-.6 .1h.6m-.4 0h.6m-.4-.2h.6m-.4 .1h.6m-.6 .1h.6m-.6-.2h.6m-.5 0h.6m-.5 .1h.6m-.6 .1h.6m-.5 .1h.6m-.6-.3h.6m-.5 .2h.6m-.5-.1h.6m-.5 0h.6m-.6 .2h.6m-.6-.2h.6m-.5 0h.6m-.6 .2h.6m-.5-.3h.6m-.5 .1h.6m-.6 .2h.6m-.6-.1h.6m-.5-.1h.6m-.5-.1h.6m-.5 0h.6m-.6 0h.6m-.4 .1h.6m-.6 0h.6m-.5 .1h.6m-.5 0h.6m-.5 0h.6m-.6 0h.6m-.5-.2h.6m-.5 .3h.6m-.5-.2h.6m-.4 .1h.6m-.5-.2h.6m-.3 .2h.6m-.5 .1h.6m-.5-.1h.6m-.5 0h.6m-.4-.1h.6m-.5-.1h.6m-.6 .2h.6m-.5 .1h.6m-.6 0h.6m-.5 0h.6m-.6-.1h.6m-.5 .1h.6m-.1 0h.6m-.5-.1h.6m-.5-.1h.6m-.6-.1h.6m-.4 .3h.6m-.6-.3h.6m-.4 .2h.6m-.4-.2h.6m-.3 0h.6m-.6 0h.6m-.4 .1h.6m-.1-.1h.6m-.5 0h.6m-.2 .3h.6m-.3-.3h.6m-.5 .1h.6m-.5-.1h.6m-.3 .3h.6m-.5-.1h.6m.2-.1h.6m-.3-.1h.6m-.5 .2h.6m.2 .1h.6m-.2-.2h.6m-16.1 .3h.6m.7 .1h.6m-.6 .2h.6m-.5-.3h.6m-.3 0h.6m-.3 .1h.6m-.5 .1h.6m0 0h.6m.7 0h.6m-.1 0h.6m-.2-.1h.6m-.3-.1h.6m-.2 .1h.6m-.5 .2h.6m-.6-.2h.6m-.6 0h.6m-.3 0h.6m-.5 0h.6m-.6-.1h.6m-.5 .3h.6m-.5 0h.6m-.2-.1h.6m-.3 0h.6m-.6 .1h.6m-.5 0h.6m-.6-.1h.6m-.5-.2h.6m-.5 .3h.6m-.6-.1h.6m-.5-.2h.6m-.6 .3h.6m-.5-.1h.6m-.6 .1h.6m-.4 0h.6m-.5 0h.6m-.6-.3h.6m-.5 .1h.6m-.4-.1h.6m-.6 .2h.6m-.6-.2h.6m-.6 0h.6m-.6 .3h.6m-.4-.3h.6m-.4 .1h.6m-.5 .2h.6m-.6-.2h.6m-.5 .1h.6m-.5-.2h.6m-.4 0h.6m-.6 .1h.6m-.5 .1h.6m-.6 0h.6m-.5-.1h.6m-.2-.1h.6m-.5 0h.6m-.3 .3h.6m-.6-.3h.6m-.3 .3h.6m-.5-.3h.6m-.6 .1h.6m-.6 0h.6m-.5 0h.6m-.6 .2h.6m-.5-.3h.6m-.5 .3h.6m-.3 0h.6m-.6 0h.6m-.4-.2h.6m-.3 .1h.6m-.6 .1h.6m0-.3h.6m-.4 0h.6m.7 .2h.6m.4 .1h.6m.2 0h.6m-15.3 .4h.6m-.2 0h.6m1-.1h.6m-.2-.1h.6m-.3 .2h.6m-.3-.3h.6m-.6 .2h.6m-.1 0h.6m-.4 .1h.6m-.5-.3h.6m-.5 .3h.6m-.5-.2h.6m-.2 .2h.6m-.6-.3h.6m-.4 .1h.6m-.6 .2h.6m-.4-.2h.6m-.4 .1h.6m-.6 .1h.6m-.2-.1h.6m-.3-.1h.6m-.6-.1h.6m-.4 .1h.6m-.6-.1h.6m-.2 .3h.6m-.6-.3h.6m-.4 .3h.6m-.6 0h.6m-.5-.2h.6m-.4 .1h.6m-.5 0h.6m-.6 .1h.6m-.4-.3h.6m-.5 0h.6m-.5 0h.6m-.5 .1h.6m-.6 .1h.6m-.6-.1h.6m-.6-.1h.6m-.5 .3h.6m-.6-.3h.6m-.4 .3h.6m-.3-.3h.6m-.4 .2h.6m-.2-.1h.6m-.5-.1h.6m-.6 0h.6m-.5 .1h.6m-.5 .2h.6m-.4-.1h.6m-.5 .1h.6m-.5-.3h.6m-.6 0h.6m-.5 .2h.6m-.4-.1h.6m-.4 .1h.6m-.6-.2h.6m-.5 .3h.6m-.5-.2h.6m-.5 .1h.6m-.6-.2h.6m-.6 .3h.6m-.5 0h.6m-.5 0h.6m-.5-.1h.6m-.6 0h.6m-.6-.1h.6m-.4-.1h.6m-.6 0h.6m-.6 .3h.6m-.2-.2h.6m-.1 .2h.6m-.2-.1h.6m-.4-.1h.6m0 .1h.6m.8-.2h.6m-.2 .2h.6m-.6 .1h.6m-14.5 .2h.6m-.4 .2h.6m-.5-.3h.6m-.6 0h.6m-.1 .1h.6m-.3 .1h.6m.5-.2h.6m-.1 0h.6m-.6 0h.6m-.1 0h.6m-.4 .3h.6m-.5 0h.6m-.5-.1h.6m-.5 0h.6m-.5-.1h.6m-.6 .2h.6m-.3-.2h.6m-.6 0h.6m-.5 0h.6m0-.1h.6m-.6 .2h.6m-.4 .1h.6m-.2-.3h.6m-.5 .3h.6m-.4-.1h.6m-.5-.2h.6m-.6 .1h.6m-.4 .1h.6m-.6 .1h.6m-.2-.1h.6m-.5-.2h.6m-.4 .2h.6m-.2 0h.6m-.6 .1h.6m-.5-.1h.6m-.5-.1h.6m-.5 .1h.6m-.5-.1h.6m-.4 .2h.6m-.4-.3h.6m-.5 .2h.6m-.3-.1h.6m-.3 .1h.6m-.5-.1h.6m-.5 .1h.6m-.6-.1h.6m-.6 .2h.6m-.6-.1h.6m-.6-.1h.6m-.5-.1h.6m-.5 .3h.6m-.5-.1h.6m-.6 .1h.6m-.5-.3h.6m-.3 .3h.6m-.6 0h.6m-.5 0h.6m-.5-.3h.6m-.6 .2h.6m-.5-.2h.6m-.6 .3h.6m-.5-.2h.6m-.5-.1h.6m-.4 .1h.6m-.2-.1h.6m-.4 .1h.6m0 .1h.6m-.2-.2h.6m-.1 0h.6m-.5 .1h.6m-13.7 .3h.6m-.4 .3h.6m-.3 0h.6m.9 0h.6m-.5 0h.6m-.3-.2h.6m-.5 .2h.6m.2-.1h.6m-.4-.1h.6m-.5-.1h.6m-.4 .2h.6m.1 .1h.6m-.5-.2h.6m-.1-.1h.6m-.6 .3h.6m-.4 0h.6m-.5 0h.6m-.6-.3h.6m-.4 .2h.6m-.5 .1h.6m-.4-.3h.6m-.4 0h.6m-.5 .1h.6m-.6 .2h.6m-.5-.2h.6m-.6-.1h.6m-.4 0h.6m-.6 .1h.6m-.5 0h.6m-.3-.1h.6m-.4 .3h.6m-.5-.3h.6m-.5 .1h.6m-.6 0h.6m-.4 .1h.6m-.5-.2h.6m-.5 .1h.6m-.5-.1h.6m-.5 .3h.6m-.4 0h.6m-.5-.1h.6m-.5-.1h.6m-.5 0h.6m-.5 .2h.6m.4-.2h.6m-.6 .1h.6m-.2 .1h.6m-.6 0h.6m-.3-.3h.6m-.5 0h.6m-.4 .2h.6m-.5-.1h.6m-.1 0h.6m.5-.1h.6m0 .2h.6m-.3 .1h.6m.2-.3h.6m-.5 .1h.6m1.1-.1h.6m-17 .5h.6m.3 0h.6m2 .2h.6m-.5-.1h.6m-.4 0h.6m-.5 .1h.6m-.3-.1h.6m-.6 0h.6m-.4 0h.6m-.4-.2h.6m-.4 .2h.6m-.4 0h.6m-.6 .1h.6m-.4 0h.6m-.5-.3h.6m-.5 0h.6m-.5 .3h.6m-.1-.2h.6m-.5-.1h.6m-.3 .3h.6m-.5 0h.6m-.4-.1h.6m-.6-.2h.6m-.6 .3h.6m-.5 0h.6m-.6-.3h.6m-.5 .1h.6m-.5 0h.6m-.5 0h.6m-.5 0h.6m-.4 0h.6m-.6 0h.6m-.4 .2h.6m-.5-.3h.6m-.6 .1h.6m-.5 .2h.6m-.5-.2h.6m-.2 .1h.6m-.4-.1h.6m-.5-.1h.6m-.6 .2h.6m-.5 .1h.6m-.5-.3h.6m-.4 0h.6m-.3 0h.6m-.4 .2h.6m-.2-.1h.6m-.3 0h.6m-.6 0h.6m-.2-.1h.6m-.3 .1h.6m-.5 0h.6m-.2 .2h.6m-.6-.3h.6m-.5 .2h.6m-.5 0h.6m-.6 .1h.6m-.5-.1h.6m-.6 0h.6m-.6 .1h.6m-.4-.1h.6m-.4 0h.6m-.4-.1h.6m-.5 0h.6m-.5 .1h.6m1.2-.1h.6m0 .1h.6m.3 0h.6m-.1-.2h.6m.7 .2h.6m-18.5 .3h.6m.5 .2h.6m-.3 0h.6m.1-.3h.6m-.1 0h.6m-.5 0h.6m-.5 .2h.6m-.3-.1h.6m-.6 .1h.6m-.4 0h.6m-.5 0h.6m-.2 0h.6m-.5 0h.6m.2 .1h.6m.3-.3h.6m-.1 .2h.6m-.5-.1h.6m-.4 0h.6m-.5-.1h.6m-.3 0h.6m-.4 .1h.6m-.6-.1h.6m-.5 .3h.6m-.6-.3h.6m-.3 0h.6m-.5 0h.6m-.6 .1h.6m-.6 .2h.6m-.5-.3h.6m-.5 0h.6m-.3 .3h.6m-.6-.1h.6m-.5-.2h.6m-.6 .2h.6m-.4-.1h.6m-.6 .2h.6m-.1-.2h.6m-.4-.1h.6m-.5 .3h.6m-.5-.2h.6m-.3-.1h.6m-.6 .2h.6m-.5-.2h.6m-.5 0h.6m-.5 .2h.6m-.4-.2h.6m-.5 .3h.6m-.6-.3h.6m-.1 .2h.6m-.2-.1h.6m-.6-.1h.6m-.6 .1h.6m-.2 0h.6m-.5 .2h.6m-.5-.3h.6m-.4 0h.6m-.3 .2h.6m.2-.1h.6m.9 .2h.6m.2-.3h.6m.7 0h.6m-15.2 .7h.6m.2-.3h.6m.1 0h.6m-.2 .3h.6m-.5-.1h.6m-.5 0h.6m-.5-.2h.6m-.4 .2h.6m-.3 .1h.6m-.5-.3h.6m-.5 .2h.6m-.3-.2h.6m-.6 .2h.6m-.2-.1h.6m-.5 0h.6m-.5-.1h.6m-.3 .1h.6m-.6 0h.6m-.5 .1h.6m-.4 .1h.6m-.4-.1h.6m-.5 .1h.6m-.5-.1h.6m-.6 0h.6m-.4-.2h.6m-.3 0h.6m-.5 .3h.6m-.4-.2h.6m-.1-.1h.6m-.6 .1h.6m-.3 .1h.6m-.5 0h.6m-.4 .1h.6m-.4-.2h.6m-.5 0h.6m-.6 .2h.6m-.1-.1h.6m.4 0h.6m-.6-.2h.6m-.5 .3h.6m-.6-.1h.6m-.3-.2h.6m-.6 .3h.6m-.2-.1h.6m-.4-.2h.6m-.2 .3h.6m-.6-.1h.6m-.4-.1h.6m-.2 .2h.6m-.3-.1h.6m-.5 .1h.6m-.1-.1h.6m-.2 0h.6m-.4-.2h.6m-.5 .3h.6m-.1-.3h.6m-11.1 .4h.6m-.2 .2h.6m-.3 0h.6m-.6-.2h.6m-.4 .1h.6m-.6 .1h.6m-.5-.2h.6m-.2 0h.6m-.3 .3h.6m-.3-.3h.6m-.1 .1h.6m-.4 .2h.6m-.5-.1h.6m-.4-.1h.6m-.2-.1h.6m-.6 .1h.6m-.6 .2h.6m-.4-.2h.6m-.5 .1h.6m-.3 0h.6m-.6 .1h.6m-.4-.1h.6m-.4-.1h.6m-.6 0h.6m-.5-.1h.6m-.4 .2h.6m-.4-.1h.6m-.6 .2h.6m-.5 0h.6m-.4 0h.6m-.5-.2h.6m-.3 .2h.6m-.2-.3h.6m-.5 .1h.6m-.6 0h.6m-.2 0h.6m-.6 .1h.6m.1 .1h.6m-.6-.1h.6m-.2 .1h.6m-.3-.3h.6m-.2 .1h.6m-.2 .2h.6m-.6-.2h.6m-.2 .1h.6m.5 0h.6m-13.8 .4h.6m.1 0h.6m-.2 .1h.6m1.1-.2h.6m-.4 .2h.6m-.5-.2h.6m-.1 0h.6m-.4 .1h.6m-.5 .1h.6m-.5-.2h.6m.1 .1h.6m-.3-.1h.6m-.4 0h.6m-.5 .1h.6m-.4 0h.6m-.1-.1h.6m-.3 .2h.6m-.5-.1h.6m-.5-.2h.6m-.6 .2h.6m-.4-.2h.6m-.5 .2h.6m-.6 0h.6m-.3-.1h.6m-.5 .1h.6m-.5 0h.6m-.3 .1h.6m-.5-.3h.6m-.4 0h.6m-.4 .2h.6m-.5 0h.6m-.2-.2h.6m-.4 .3h.6m-.5 0h.6m-.6-.3h.6m-.6 .3h.6m-.2 0h.6m-.5 0h.6m.2-.2h.6m.4 .1h.6m-.6 .1h.6m-.6-.3h.6m-.5 0h.6m-.5 .3h.6m0-.2h.6m.4 .1h.6m-13.1 .3h.6m-.1-.1h.6m0 .3h.6m-.6-.3h.6m-.2 .2h.6m-.4-.2h.6m-.4 0h.6m-.1 .2h.6m-.4-.1h.6m-.4 0h.6m-.4 .1h.6m-.5 0h.6m-.1 0h.6m-.5 .1h.6m-.3 0h.6m-.5-.1h.6m-.3-.2h.6m-.2 0h.6m-.2 0h.6m-.6 .2h.6m-.5 .1h.6m-.5-.2h.6m-.4 .2h.6m-.5 0h.6m-.2-.3h.6m.4 .2h.6m-.4 0h.6m-.3 .1h.6m-.2 0h.6m-.4-.3h.6m-.6 .3h.6m-.2 0h.6m-.3-.2h.6m-.6 .2h.6m0 0h.6m-.1-.1h.6m-.4 .1h.6m-.3-.3h.6m-.4 .2h.6m-.5-.2h.6m.1 0h.6m-.6 .2h.6m-13.1 .3h.6m.4 .2h.6m.8 0h.6m-.1-.2h.6m-.3-.1h.6m-.4 .2h.6m0-.1h.6m-.5-.1h.6m-.2 .3h.6m-.3 0h.6m-.6-.1h.6m-.5-.1h.6m-.3 0h.6m-.3-.1h.6m-.4 .3h.6m-.3 0h.6m-.6 0h.6m-.6-.2h.6m-.6 0h.6m-.3 .1h.6m-.2-.1h.6m-.5 0h.6m-.2-.1h.6m-.5 .1h.6m-.5-.1h.6m-.6 .1h.6m-.2 .1h.6m-.5 .1h.6m-.5 0h.6m-.5-.2h.6m-.4 .2h.6m-.6-.1h.6m-.5 .1h.6m-.6-.2h.6m-.5 .2h.6m-.5 0h.6m-.3-.2h.6m-.4 .1h.6m-.6-.2h.6m-.6 .3h.6m-.5-.2h.6m-.5 .1h.6m-.6-.2h.6m-.5 .2h.6m-.5 .1h.6m-.3-.1h.6m-.5-.1h.6m-.5 0h.6m-.5 0h.6m-.2 .1h.6m-.3 .1h.6m-.5-.2h.6m-.6 0h.6m-.1 .1h.6m.1 0h.6m-.3-.2h.6m-.1 .2h.6m-.3 .1h.6m.1-.1h.6m.2-.1h.6m-.1 .2h.6m-14.2 .2h.6m0 .1h.6m-.3 .1h.6m.5-.1h.6m-.5-.2h.6m-.5 .2h.6m-.4-.1h.6m-.3 .2h.6m-.5-.1h.6m-.5 .1h.6m-.4 0h.6m-.3 0h.6m-.4-.3h.6m-.5 .3h.6m-.5 0h.6m.3-.1h.6m-.5 0h.6m-.6-.1h.6m-.5-.1h.6m-.6 0h.6m-.2 .1h.6m-.4 .2h.6m-.5-.1h.6m-.4 .1h.6m-.2-.2h.6m-.5 0h.6m-.3 .2h.6m-.5-.1h.6m-.3 .1h.6m-.6-.1h.6m-.4-.2h.6m-.3 .2h.6m-.6-.1h.6m-.5 .1h.6m-.5 0h.6m.2 .1h.6m-.5-.3h.6m-.4 .3h.6m-.6-.2h.6m-.5 .1h.6m-.4 .1h.6m-.3 0h.6m1.8-.2h.6m-.6 .2h.6m-.3-.2h.6m-12.5 .3h.6m-.6 .2h.6m-.5 .1h.6m.1 0h.6m-.3 0h.6m-.4-.2h.6m.7 .2h.6m-.4-.2h.6m-.5 .2h.6m-.4-.3h.6m-.2 .3h.6m-.6-.1h.6m-.2-.2h.6m-.5 .1h.6m-.1 .1h.6m-.4 0h.6m-.5-.1h.6m-.4 .2h.6m-.4-.1h.6m-.5 .1h.6m-.6 0h.6m-.5-.3h.6m-.6 .3h.6m-.6-.3h.6m-.3 .1h.6m-.6 0h.6m-.2 .2h.6m-.4-.1h.6m-.6 0h.6m-.3-.1h.6m-.3 0h.6m-.2-.1h.6m-.1 0h.6m-.3 0h.6m-.5 0h.6m-.6 0h.6m-.3 .2h.6m-.3-.2h.6m-.2 .1h.6m0 0h.6m-.3-.1h.6m.3 .1h.6m-.6 .1h.6m-12.8 .4h.6m.1 0h.6m-.2 0h.6m1.3 .1h.6m-.5-.2h.6m-.1 .2h.6m-.5-.3h.6m-.2 .1h.6m-.1 0h.6m-.5 0h.6m-.6 0h.6m-.4 .1h.6m-.3 0h.6m-.4-.2h.6m-.6 0h.6m-.2 .2h.6m-.4-.1h.6m-.6 .2h.6m-.6 0h.6m-.1-.3h.6m-.5 .2h.6m-.6 0h.6m-.1-.2h.6m-.6 0h.6m-.4 0h.6m-.4 0h.6m-.6 .2h.6m-.5 .1h.6m-.1-.2h.6m-.5 .1h.6m-.4 .1h.6m-.3-.2h.6m-.2 .2h.6m-.5-.3h.6m.1 .1h.6m-.4-.1h.6m-.3 0h.6m-.2 .1h.6m-.3-.1h.6m-.5 .2h.6m-.4-.2h.6m-.6 .1h.6m-.4 .2h.6m-.2-.2h.6m1.2 .2h.6m-14.9 .4h.6m1 0h.6m.2 0h.6m-.6-.1h.6m-.4-.2h.6m-.5 .2h.6m-.3-.1h.6m-.4-.1h.6m-.4 .2h.6m0-.2h.6m-.4 0h.6m-.5 .2h.6m-.4-.2h.6m-.1 .3h.6m-.5-.3h.6m-.5 .1h.6m-.6 .2h.6m.1-.1h.6m-.6-.1h.6m-.5-.1h.6m-.5 .1h.6m-.2-.1h.6m-.5 .3h.6m-.5-.1h.6m-.2-.2h.6m-.2 0h.6m0 0h.6m-.4 .3h.6m0-.3h.6m-.4 .1h.6m-.6 0h.6m-.6 .2h.6m-.3-.3h.6m.1 .1h.6m-.6-.1h.6m-.3 .3h.6m-.2-.3h.6m-.3 .2h.6m-12.4 .2h.6m-.4 .1h.6m2.3-.1h.6m.6 .1h.6m-.5 .1h.6m.3 .1h.6m-.5 0h.6m.1-.3h.6m-.3 .1h.6m-.4 .1h.6m-.6-.1h.6m-.1 .2h.6m-.3 0h.6m-.5-.3h.6m-.4 .1h.6m-.3-.1h.6m.4 .3h.6m-.3-.3h.6m-.5 .2h.6m2 .1h.6m-.2-.2h.6m.6-.1h.6m-.2 .2h.6m-11.1 .2h.6m-.1 0h.6m-.2 .2h.6m-.2-.1h.6m-.4 0h.6m-.6 .2h.6m-.5-.1h.6m-.3 .1h.6m-.4-.3h.6m-.2 0h.6m-.4 .1h.6m-.5-.1h.6m-.1 .2h.6m-.5 0h.6m-.6 .1h.6m-.3-.3h.6m-.4 .1h.6m-.6-.1h.6m-.4 .1h.6m-.3 0h.6m-.3 .1h.6m-.5 0h.6m-.3 .1h.6m1.1-.3h.6m-.4 .3h.6m1.1 0h.6m-.3-.3h.6m-.4 .2h.6m-13.2 .2h.6m1.2 .2h.6m-.4 .1h.6m1.1 0h.6m.8-.2h.6m-.4 0h.6m-.6 .1h.6m-.4-.2h.6m0 .3h.6m-.5-.2h.6m-.1 0h.6m-.5-.1h.6m-.4 .2h.6m-.6-.2h.6m-.1 0h.6m-.3 .3h.6m-.2 0h.6m.1-.1h.6m0 .1h.6m-8.8 .3h.6m1.3 0h.6m.4-.1h.6m-.3 .1h.6m-.2 0h.6m-.6-.2h.6m.5 .1h.6m.7 .1h.6m-.6-.2h.6m-.4 0h.6m-.3 .1h.6m-.2 .2h.6m.8-.1h.6m-.1-.2h.6m1.1 0h.6m.4 0h.6m1 .3h.6m-15.1 .2h.6m.8 0h.6m0-.1h.6m.1 .2h.6m-.4-.2h.6m-.3 .2h.6m.1-.1h.6m-.6 .1h.6m-.2 .1h.6m-.4-.3h.6m-.5 .1h.6m.1 .1h.6m-.5-.1h.6m-.2-.1h.6m-.5 .3h.6m-.4-.2h.6m-.2 0h.6m-.5 .1h.6m-.6 0h.6m.5-.1h.6m-.3 .1h.6m.2 0h.6m-.5 .1h.6m-.2-.2h.6m.4 0h.6m-.2 .2h.6m1.3-.3h.6m-12.8 .7h.6m2.7-.1h.6m-.6-.2h.6m-.6 .2h.6m-.3 .1h.6m-.6-.1h.6m-.2 .1h.6m-.4-.3h.6m-.1 .1h.6m-.3 0h.6m-.4 .1h.6m0 .1h.6m.6-.2h.6m.2-.1h.6m-.4 0h.6m-.4 0h.6m0 0h.6m-.2 0h.6m-.1 .1h.6m-.4 .1h.6m-.5 .1h.6m-.2-.1h.6m-11.3 .4h.6m0-.2h.6m1.9 .2h.6m0-.2h.6m-.6 .3h.6m.8-.3h.6m-.5 .2h.6m-.1 .1h.6m.1-.1h.6m.3-.1h.6m.9 .2h.6m-.3 0h.6m0-.2h.6m-.4-.1h.6m1.1 .1h.6m-.4 .2h.6m.9-.2h.6m-12.4 .3h.6m.3 .1h.6m.2 0h.6m-.5-.1h.6m-.4 .3h.6m.1-.2h.6m0 .1h.6m-.2-.2h.6m0 0h.6m-.3 0h.6m0 0h.6m-.4 .2h.6m.3 .1h.6m-.6 0h.6m.4 0h.6m-.3-.2h.6m0 0h.6m.1 .2h.6m1.6-.2h.6m-10.6 .3h.6m0 .2h.6m-.4 0h.6m.3-.2h.6m1.1 .2h.6m-.1 0h.6m-.4 0h.6m-.5-.1h.6m-.6 .2h.6m-.3-.1h.6m-.2 .1h.6m.5 0h.6m-.5-.1h.6m1 0h.6m1.3-.2h.6m-10.8 .4h.6m1 0h.6m.5 .3h.6m0 0h.6m-.2-.1h.6m.3-.1h.6m2.2-.1h.6m-.6 0h.6m-.1 .3h.6m-.3-.1h.6m-.4 .1h.6m-7.6 .1h.6m-.4 .2h.6m1.2 .1h.6m.2 0h.6m.6-.3h.6m-.4 .2h.6m.1-.1h.6m-.3 .2h.6m.5 0h.6m-.3 0h.6m.9-.1h.6m-.6 .1h.6m-9.3 .1h.6m.4 0h.6m.6 0h.6m.4 0h.6m0 .2h.6m-.2 .1h.6m.8 0h.6m1.9-.3h.6m-7.2 .6h.6m.4-.1h.6m-.3 0h.6m-.6-.1h.6m.6 0h.6m1 .1h.6m.8 .1h.6m-.6 0h.6m-3.6 .3h.6m2-.1h.6m-3.3 .6h.6m-.5 .1h.6m.1-.3h.6m.4 .1h.6m-1.5 .4h.6m-.1 .2h.6m-1.1 .5h.6" stroke="#f5660a" stroke-width="0.65" stroke-opacity="0.75" fill="none"/>
<polygon points="190.2,61.5 190.9,49.8 195.4,38.8 201.6,34.5 210.3,42.7 210.5,55.6 199.3,65.7" fill="none" stroke="#e8772a" stroke-width="0.9" stroke-linejoin="round"/>
<text x="177.3" y="30.58" font-size="6.6" text-anchor="start" fill="#f27c35" font-weight="normal" textLength="19.4" lengthAdjust="spacingAndGlyphs" stroke="#f27c35" stroke-width="0.15">CD33+</text>
<path d="M346 31.5h.6m-6 6.5h.6m6.4 1.4h.6m-6.3 .5h.6m-5.5 .5h.6m3.6 .8h.6m13.1 0h.6m-10.9 .5h.6m-4.2 .7h.6m-.1 .8h.6m1.3 0h.6m1.9 0h.6m-2.2 .8h.6m1.1 .3h.6m-1.9 .1h.6m4.5 .1h.6m-7.4 .5h.6m-.5-.2h.6m.9 0h.6m3.4 1h.6m-6.4 .7h.6m7.1 .1h.6m-5.2 .7h.6m2.9 0h.6m-4.2 .5h.6m2.7 .4h.6m-11 .4h.6m10.8 .1h.6m-4.8 .4h.6m.9-.1h.6m-7.7 .4h.6m-2.3 .4h.6m.9 0h.6m1.9-.2h.6m5.6 .2h.6m1.9-.1h.6m3.3 .1h.6m-12.7 .5h.6m-1 .4h.6m1.2-.2h.6m2.2 0h.6m-1.7 .4h.6m2.5-.1h.6m1 .2h.6m-6.8 .3h.6m1.4-.1h.6m-.2 .1h.6m-.3 .2h.6m-.5-.3h.6m-.6 .1h.6m-9.4 .5h.6m-.5 0h.6m13.4-.2h.6m3.5 .2h.6m-8 .4h.6m-6.3 .4h.6m2.2 .1h.6m-.1 0h.6m-4 .4h.6m1.4-.1h.6m-.3-.1h.6m-1.8 .3h.6m2.5 .1h.6m-3.2 .3h.6m-3.2 .4h.6m.5 .2h.6m1.1-.2h.6m-1.2 .6h.6m-4.6 .2h.6m3.1 0h.6m-.9 .6h.6m-.1-.1h.6m.9 0h.6m2.2-.1h.6m.5 .3h.6m1.2-.3h.6m-7 .6h.6m1.3 .1h.6m.3-.1h.6m-5.5 .5h.6m4.4 0h.6m-1.4 .2h.6m-8.5 .3h.6m2.9 .2h.6m-.2-.1h.6m2.5 .1h.6m-5 .2h.6m-5 .9h.6m.3 0h.6m3.9 .1h.6m1 0h.6m-.4-.2h.6m2.4 .3h.6m-4.8 .2h.6m5.9-.1h.6m6 .1h.6m-23.7 .5h.6m3.1-.1h.6m.2 .1h.6m-.1-.1h.6m-.3 .2h.6m3.1-.3h.6m4.1 .2h.6m-6.7 .5h.6m-10.9 .2h.6m12.9 0h.6m4.4-.1h.6m.4 .3h.6m-11.6 .2h.6m0 .1h.6m0 0h.6m1.7-.1h.6m-.3 .1h.6m.6 0h.6m.1 0h.6m-14.1 .2h.6m1.8 0h.6m.2 .3h.6m-.5 0h.6m1-.2h.6m.4 0h.6m1 .1h.6m2.2 .1h.6m-.6-.3h.6m-14.3 .5h.6m9.8 .1h.6m2.5-.2h.6m3 .3h.6m-11.6 .2h.6m1.3-.1h.6m1.3 .2h.6m1.5 .1h.6m-.1-.2h.6m-.2 .2h.6m2.5 0h.6m-13.6 .1h.6m.2 .3h.6m1.7-.2h.6m.2 0h.6m1.4-.1h.6m.4 0h.6m3.6 .2h.6m3.4-.2h.6m7 .3h.6m-18.5 .4h.6m6.6-.3h.6m.7 .1h.6m-.1 .1h.6m5.7-.1h.6m-16.2 .5h.6m.5 .1h.6m4.6-.2h.6m9 .1h.6m-15.8 .2h.6m-6.3 .7h.6m3.5-.3h.6m1.3 .3h.6m0-.2h.6m.4 .1h.6m2.4 .5h.6m-.5 0h.6m-10.8 .2h.6m2.2 .1h.6m9.2-.2h.6m-.4 .3h.6m.7 0h.6m-12.5 .4h.6m2 0h.6m0-.1h.6m3.4-.2h.6m5.3 .1h.6m-12.1 .5h.6m.9 .3h.6m6.8 .4h.6m1.4 .6h.6m-7.2 .8h.6m13.2-.1h.6m-16.7 2.5h.6m6.4 .9h.6" stroke="#5555e0" stroke-width="0.6" stroke-opacity="0.35" fill="none"/>
<path d="M345.5 31.5h.6m-3.4 .4h.6m-.8 .8h.6m.7-.1h.6m-3.4 .5h.6m-.1 0h.6m1.1-.3h.6m.2 .3h.6m-2.4 .2h.6m1 .2h.6m1.5 .4h.6m-2.4 .4h.6m-4 .2h.6m1.7 0h.6m.5-.1h.6m.6 .1h.6m-4.4 .6h.6m1.1 0h.6m1.7-.1h.6m-.3-.2h.6m-3.5 .5h.6m1.4 .2h.6m-.5-.3h.6m.1 .1h.6m-4.6 .5h.6m-.3-.2h.6m.1 .1h.6m-.5 .2h.6m1.3-.3h.6m-.5 .3h.6m-.1 0h.6m-.2 0h.6m-5 .2h.6m-.1 .1h.6m0 .1h.6m1.8-.2h.6m-.3 .1h.6m-.3-.2h.6m-5.9 .6h.6m.2 .1h.6m.6-.3h.6m.8 .3h.6m-.2 0h.6m1.2-.2h.6m-6.8 .6h.6m2.2-.3h.6m-.3 .2h.6m.6-.2h.6m-.5 0h.6m-.3 .3h.6m.2 0h.6m-.5 0h.6m-.6-.3h.6m-.1 .1h.6m-.6 .1h.6m-7.8 .3h.6m.7 0h.6m.7 .1h.6m.1 .1h.6m-.2-.3h.6m-1.6 .6h.6m1.7 .1h.6m-.4 0h.6m.7-.2h.6m.4 0h.6m-6.4 .4h.6m.8 .1h.6m0 0h.6m-.4 .1h.6m-.2-.1h.6m-.3 0h.6m-.4-.2h.6m-.4 0h.6m-.2 .3h.6m-.6 0h.6m-.3 0h.6m-.1-.1h.6m.7-.1h.6m-.5 .2h.6m-8 .1h.6m.2 .1h.6m0 .1h.6m0 0h.6m-.5-.2h.6m-.1 0h.6m-.6 .1h.6m-.6-.1h.6m-.3 .3h.6m-.3-.2h.6m.4-.1h.6m-.5 .1h.6m.4-.1h.6m-.2 .3h.6m-.5-.1h.6m-.5-.2h.6m-4.5 .6h.6m-.6-.1h.6m.4 0h.6m-.5 0h.6m.2 0h.6m-.6 .1h.6m-.6-.1h.6m-.5-.1h.6m-.4 .1h.6m-.5 0h.6m-.6 0h.6m-.6 .2h.6m-.6 0h.6m-.5-.1h.6m-.5 0h.6m-.2 0h.6m.2-.2h.6m1.2 .2h.6m-7.5 .5h.6m-.1-.3h.6m.5 0h.6m.5 .2h.6m-.5-.1h.6m-.4 .2h.6m-.6-.2h.6m.5 .2h.6m-.4-.2h.6m-.3 .2h.6m-.5 0h.6m-.4-.1h.6m-.6 .1h.6m-.2 0h.6m.2 0h.6m-.3-.3h.6m-8.1 .6h.6m-.5-.2h.6m1.7 .3h.6m-.5-.3h.6m.4 .1h.6m-.5 .2h.6m-.5-.2h.6m-.4-.1h.6m-.4 .3h.6m-.4-.3h.6m-.6 0h.6m.1 0h.6m-.5 .2h.6m-.3 0h.6m.5 .1h.6m.5 0h.6m-.5-.2h.6m-9.3 .3h.6m1.3 .2h.6m1 0h.6m-.6-.1h.6m.2 0h.6m-.4 .1h.6m-.4 0h.6m-.3 .1h.6m-.1-.2h.6m-.5 .2h.6m-.4 0h.6m.2-.2h.6m-.5 .1h.6m-.6-.2h.6m-4.9 .5h.6m-.4 .1h.6m0-.2h.6m-.5 .1h.6m-.5-.1h.6m-.3 .2h.6m-.5 0h.6m-.4-.2h.6m-.5 .2h.6m-.5 .1h.6m-.6-.3h.6m-.2 .3h.6m-.6-.2h.6m-.5 .2h.6m-.3 0h.6m1.1 0h.6m-.4-.1h.6m0-.2h.6m-6.8 .5h.6m.9 .1h.6m-.4-.2h.6m-.3 0h.6m-.6 .1h.6m-.5 .2h.6m-.2-.1h.6m-.6-.2h.6m-.2 0h.6m-.5 .1h.6m-.5 .2h.6m-.6 0h.6m-.5-.1h.6m-.6-.1h.6m-.3 .1h.6m-.6 0h.6m-.4 .1h.6m-.2-.3h.6m-.6 0h.6m-.6 .3h.6m-.5-.2h.6m-.1-.1h.6m-.5 .3h.6m-.5-.3h.6m-.1 0h.6m.1 .1h.6m-.4 0h.6m.1 .1h.6m-7.2 .4h.6m-.3 .1h.6m-.4-.2h.6m-.1 0h.6m-.5 0h.6m-.4 .1h.6m-.4 0h.6m-.6-.1h.6m-.6 0h.6m-.1-.1h.6m-.5 .3h.6m-.6 0h.6m-.4 0h.6m-.3 0h.6m-.5 0h.6m-.6-.3h.6m-.4 .3h.6m-.5-.1h.6m-.3-.1h.6m-.6 .2h.6m-.1-.1h.6m-.3 .1h.6m-.3-.1h.6m-.3 0h.6m0-.1h.6m-.3 .1h.6m-.3 .1h.6m-.2-.3h.6m-.5 .2h.6m.4 0h.6m-10.2 .5h.6m.6-.3h.6m-.2 .2h.6m-.4-.2h.6m.6 .3h.6m-.5-.2h.6m-.4 .1h.6m-.6-.1h.6m-.3 0h.6m-.5 .2h.6m-.5-.3h.6m-.6 .2h.6m-.5 0h.6m-.4-.1h.6m-.3 .2h.6m0-.1h.6m-.5-.1h.6m-.2 .1h.6m-.5-.1h.6m-.5 .2h.6m-.5-.3h.6m-.2 0h.6m-.5 .1h.6m-.4-.1h.6m-.6 0h.6m0 .2h.6m-.5-.1h.6m-.3 0h.6m-.5 .2h.6m.1-.2h.6m-.5 .2h.6m.3 0h.6m-9.3 .2h.6m-.2 .1h.6m-.4 .1h.6m.1 0h.6m-.1 0h.6m-.3-.2h.6m-.1 0h.6m-.6 .1h.6m0 0h.6m-.6-.1h.6m-.3 .1h.6m-.5-.1h.6m-.4 .2h.6m-.6-.2h.6m-.5 .1h.6m-.6 .1h.6m-.3-.3h.6m-.5 .1h.6m-.4 .1h.6m-.6 0h.6m-.5 0h.6m-.1 0h.6m-.6 .1h.6m-.5 0h.6m-.4-.3h.6m-.6 .1h.6m-.5 .1h.6m-.5 .1h.6m-.4-.2h.6m-.5 .1h.6m-.6 0h.6m-.2 0h.6m.3 0h.6m.1 .1h.6m.1-.2h.6m-9.5 .3h.6m.5 .2h.6m-.5-.1h.6m0-.1h.6m-.4 .3h.6m-.4 0h.6m-.5 0h.6m-.2-.1h.6m-.1 0h.6m-.3-.2h.6m-.5 .3h.6m-.5-.2h.6m-.5 0h.6m-.5 .1h.6m-.4 0h.6m-.5-.2h.6m-.3 .1h.6m-.6 .2h.6m-.5-.2h.6m.6-.1h.6m-.4 0h.6m-.6 .1h.6m-.3 0h.6m-.5 0h.6m-.3 .2h.6m-.6 0h.6m-.6-.2h.6m.8 0h.6m-8.8 .6h.6m-.5-.1h.6m1.2-.2h.6m-.5 .3h.6m-.4-.1h.6m-.2 0h.6m-.3 .1h.6m-.5-.1h.6m-.5 0h.6m-.5 0h.6m-.4 0h.6m-.5-.2h.6m-.4 .1h.6m-.4 .2h.6m-.4-.1h.6m-.6-.2h.6m-.5 .1h.6m-.5 .1h.6m-.5-.2h.6m-.3 .3h.6m0-.1h.6m-.5-.2h.6m-.4 0h.6m-.5 0h.6m-.5 .1h.6m-.4-.1h.6m-.6 .2h.6m-.6 .1h.6m0-.2h.6m-.6 0h.6m-.5 0h.6m-.4 .2h.6m0-.1h.6m.6 0h.6m-8.9 .2h.6m.8 0h.6m-.5 0h.6m-.3 .2h.6m-.4-.1h.6m-.5 .2h.6m-.5-.2h.6m-.6-.1h.6m-.4 .1h.6m-.3 .1h.6m-.3 .1h.6m-.5-.3h.6m-.1 .2h.6m-.6 .1h.6m-.4 0h.6m-.6-.1h.6m-.3-.1h.6m-.6 0h.6m-.6-.1h.6m-.4 .2h.6m-.3-.2h.6m-.2 .3h.6m-.6-.1h.6m-.6-.1h.6m-.6 .2h.6m-.4-.2h.6m-.5-.1h.6m-.5 .2h.6m-.6-.1h.6m-.4 .2h.6m0 0h.6m-.4-.1h.6m.6-.2h.6m-7.8 .4h.6m-.5 0h.6m-.4 .3h.6m-.3-.1h.6m-.6 .1h.6m-.5-.3h.6m-.5 .2h.6m-.4 .1h.6m.2-.1h.6m-.5-.2h.6m-.4 .1h.6m-.5 .2h.6m-.5-.3h.6m-.3 .3h.6m-.3-.2h.6m-.6 .2h.6m-.5 0h.6m-.5 0h.6m-.6 0h.6m-.6 0h.6m-.4-.2h.6m-.5 0h.6m-.5 .2h.6m-.5-.2h.6m0 .2h.6m.1-.3h.6m.7 .2h.6m-7.3 .5h.6m-.6-.1h.6m-.5 0h.6m-.5 0h.6m-.2-.2h.6m-.1 .1h.6m-.5 .1h.6m-.4-.1h.6m-.6-.1h.6m-.4 .3h.6m-.4-.1h.6m-.2-.2h.6m-.5 .2h.6m-.5 0h.6m-.6-.1h.6m-.6-.1h.6m-.3 .1h.6m-.6 .1h.6m-.4-.2h.6m-.4 0h.6m-.5 .2h.6m-.6 .1h.6m-.6-.1h.6m-.3 0h.6m-.3 .1h.6m-.4-.1h.6m-.4-.2h.6m-.6 0h.6m-.5 .3h.6m-.5 0h.6m-.1-.2h.6m-.4 0h.6m-.5-.1h.6m-.1 0h.6m-.4 0h.6m-.4 .1h.6m-.1 .1h.6m-7.7 .3h.6m-.4 0h.6m-.3 .2h.6m.1-.1h.6m-.6 0h.6m-.5 .1h.6m-.2-.1h.6m-.6 0h.6m-.4-.2h.6m-.3 0h.6m-.6 .1h.6m-.6 0h.6m-.4 0h.6m-.2 0h.6m-.2 .2h.6m-.2-.1h.6m-.4-.2h.6m-.6 .2h.6m-.5-.1h.6m-.6 .2h.6m-.5-.1h.6m-.4 0h.6m-.3 0h.6m-.2-.1h.6m-.5 .2h.6m-.3-.1h.6m-.1 .1h.6m-.3-.2h.6m-.2 0h.6m-.5-.1h.6m-.4 .3h.6m.5-.1h.6m-8.1 .5h.6m-.5-.1h.6m.2 0h.6m-.6-.1h.6m.2 0h.6m-.3-.1h.6m-.4 0h.6m-.5 0h.6m-.5 .2h.6m-.5 .1h.6m-.6-.3h.6m-.3 0h.6m-.5 .3h.6m-.4 0h.6m-.5-.1h.6m-.3 .1h.6m-.6-.3h.6m-.5 0h.6m-.4 .2h.6m-.6 .1h.6m-.6-.3h.6m-.5 .2h.6m-.6-.1h.6m-.6 .1h.6m-.2-.1h.6m-.4 .2h.6m-.5-.3h.6m-.6 .1h.6m-.5 0h.6m-.5 .2h.6m-.5-.2h.6m-.3 .1h.6m-.2 .1h.6m-.6-.3h.6m-.2 .3h.6m-.6 0h.6m-.6-.2h.6m-6.6 .6h.6m-.6 0h.6m-.3-.2h.6m-.2 .1h.6m-.2 0h.6m-.3 0h.6m-.4-.2h.6m-.6 0h.6m-.6 0h.6m-.4 .2h.6m-.5 0h.6m-.6 .1h.6m-.6 0h.6m-.5 0h.6m-.5-.1h.6m-.6 0h.6m-.5 .1h.6m-.5-.3h.6m-.4 .3h.6m-.6-.1h.6m-.4 .1h.6m-.4 0h.6m-.3-.1h.6m-.6-.2h.6m-.4 .1h.6m-.3-.1h.6m-.5 .1h.6m-.6 .2h.6m-.5-.3h.6m-.5 0h.6m-.6 .3h.6m-.2 0h.6m-.5-.2h.6m-.5-.1h.6m-.5 .1h.6m-.5 .2h.6m-.5-.3h.6m-.3 .2h.6m-.6-.1h.6m-.6 0h.6m-.3 .1h.6m-.2-.2h.6m.1 .3h.6m-.3-.1h.6m-9.7 .2h.6m-.4 .2h.6m-.3 0h.6m-.4 0h.6m.4 .1h.6m-.4-.1h.6m-.3-.2h.6m-.3 .3h.6m-.3-.2h.6m-.5-.1h.6m-.5 .3h.6m-.3 0h.6m-.5-.1h.6m-.5-.2h.6m-.4 .3h.6m-.5-.1h.6m-.6 .1h.6m-.5-.1h.6m-.6 .1h.6m-.5-.3h.6m-.3 .1h.6m-.6 .2h.6m-.1-.3h.6m-.5 .2h.6m-.6-.1h.6m-.6-.1h.6m-.4 .2h.6m-.1 0h.6m-.3 .1h.6m-.6-.1h.6m-.3-.2h.6m-.5 .3h.6m-.2-.1h.6m-.5 0h.6m-.1-.2h.6m-.5 0h.6m-.6 0h.6m-.4 0h.6m.3 .2h.6m-.1-.2h.6m.6 .1h.6m-.4-.1h.6m-8.4 .5h.6m-.6 0h.6m-.1-.1h.6m-.5 .3h.6m-.5-.3h.6m-.3 .3h.6m-.6-.2h.6m-.6 0h.6m-.6 0h.6m-.6 .1h.6m-.1 .1h.6m-.6-.3h.6m-.5 .2h.6m-.5 .1h.6m-.6-.2h.6m-.5 0h.6m-.5-.1h.6m-.6 .2h.6m-.3-.2h.6m-.6 .3h.6m-.6-.2h.6m-.4-.1h.6m-.5 .3h.6m-.6-.3h.6m-.4 .3h.6m-.4-.2h.6m-.6 .1h.6m-.4 .1h.6m-.6-.2h.6m-.5 0h.6m-.4 .2h.6m-.6-.2h.6m-.2 .1h.6m-.4-.1h.6m-.4 .1h.6m-.6-.1h.6m-.4-.1h.6m-.2 .3h.6m-.6-.3h.6m-.3 .3h.6m-.5-.2h.6m.4 .2h.6m-.2-.2h.6m-.3-.1h.6m-10.7 .5h.6m.8-.1h.6m-.6 .2h.6m-.5-.2h.6m-.5 .1h.6m-.1 0h.6m-.5 .2h.6m-.5-.1h.6m-.6 .1h.6m-.4-.2h.6m-.4-.1h.6m-.5 .2h.6m-.5 .1h.6m-.6-.3h.6m-.5 .2h.6m-.6-.1h.6m-.5-.1h.6m-.3 0h.6m-.3 .1h.6m-.4 .1h.6m-.4 .1h.6m-.6-.3h.6m-.5 0h.6m-.2 .1h.6m-.5 .2h.6m-.5-.2h.6m-.4-.1h.6m-.5 .2h.6m-.4 0h.6m-.5-.2h.6m-.3 0h.6m-.5 .3h.6m-.6 0h.6m-.6-.1h.6m-.4-.1h.6m-.4 .2h.6m-.6-.3h.6m-.6 .2h.6m-.5-.1h.6m-.5 0h.6m-.6-.1h.6m-.6 .3h.6m-.4-.3h.6m-.5 .2h.6m-.3 .1h.6m-.5 0h.6m-.4-.2h.6m-.6 .2h.6m-.6-.3h.6m-.5 .3h.6m-.5 0h.6m-.4-.3h.6m-.5 .3h.6m-.5-.2h.6m-.4-.1h.6m-.4 .2h.6m.1-.1h.6m-.3 0h.6m-.1 .2h.6m-9.5 .1h.6m.3 .1h.6m0 .1h.6m-.5 .1h.6m-.3-.2h.6m-.3 .2h.6m-.5-.1h.6m-.4 .1h.6m-.5-.2h.6m-.4-.1h.6m-.6 .3h.6m-.4-.1h.6m-.5-.1h.6m-.4-.1h.6m-.3 .2h.6m-.6 .1h.6m-.6-.1h.6m-.4 0h.6m-.4-.1h.6m-.6 0h.6m-.6 .1h.6m-.5 0h.6m-.5-.2h.6m-.4 .3h.6m-.1-.3h.6m-.6 0h.6m-.4 .2h.6m-.5 .1h.6m-.5-.1h.6m-.4 .1h.6m-.6-.1h.6m-.6 .1h.6m-.5-.3h.6m-.6 .2h.6m-.2-.1h.6m-.6 .1h.6m-.6-.2h.6m-.2 .2h.6m-.5-.2h.6m-.6 .2h.6m-.6 .1h.6m-.5 0h.6m-.1-.1h.6m-.4 0h.6m-.5 0h.6m-.4-.2h.6m-.3 .3h.6m-10.2 .1h.6m0 .2h.6m-.5 .1h.6m1.2 0h.6m-.5-.2h.6m-.3 .2h.6m-.5-.1h.6m-.5 .1h.6m-.6 0h.6m-.4-.1h.6m-.1 .1h.6m-.6-.2h.6m-.6-.1h.6m-.3 .3h.6m-.5 0h.6m-.6-.3h.6m-.5 .3h.6m-.6-.3h.6m-.4 0h.6m-.6 .2h.6m-.5 0h.6m-.5-.1h.6m-.5 .2h.6m-.6 0h.6m-.6 0h.6m-.1-.2h.6m-.5-.1h.6m-.6 .3h.6m-.5-.3h.6m-.6 .3h.6m-.5-.1h.6m-.5-.2h.6m-.6 0h.6m-.6 .3h.6m-.5-.3h.6m-.6 .3h.6m-.5 0h.6m-.6-.1h.6m-.3 .1h.6m-.5-.3h.6m-.5 0h.6m-.6 .2h.6m-.6 .1h.6m-.3-.1h.6m-.3-.2h.6m-.5 .3h.6m-.4-.1h.6m-.5 0h.6m-.5 0h.6m-.6 0h.6m-.4-.1h.6m-.3 .2h.6m-.5-.1h.6m-.6 .1h.6m-.2-.2h.6m-.5 .2h.6m-.1-.2h.6m.6 0h.6m-.4-.1h.6m.1 .2h.6m-11.1 .2h.6m-.3 .1h.6m-.4-.1h.6m0 .1h.6m-.4-.1h.6m-.5 0h.6m-.3 .2h.6m-.5-.2h.6m-.5 .1h.6m-.5 0h.6m-.4 .1h.6m-.4-.2h.6m-.1 0h.6m-.3 .3h.6m-.6-.3h.6m-.5 .1h.6m-.6 .2h.6m-.4 0h.6m-.6-.1h.6m-.5 0h.6m-.4-.2h.6m-.6 0h.6m-.6 .1h.6m-.5 .1h.6m-.6-.2h.6m-.6 .3h.6m-.4-.1h.6m-.5 0h.6m-.6-.2h.6m-.6 .2h.6m-.2 .1h.6m-.5-.1h.6m-.5-.1h.6m-.5 .1h.6m-.6 .1h.6m-.4 0h.6m-.6-.2h.6m-.5-.1h.6m-.6 .2h.6m-.5 .1h.6m-.6-.1h.6m-.5 0h.6m-.6 .1h.6m-.6-.3h.6m-.5 .2h.6m-.6 0h.6m-.5 0h.6m-.6 0h.6m-.3-.1h.6m-.6 0h.6m-.6 0h.6m-.4 .2h.6m-.6-.2h.6m-.6 0h.6m-.5 .2h.6m-.5-.2h.6m-.6 .1h.6m-.6-.2h.6m-.3 .1h.6m-.4-.1h.6m-.5 .1h.6m-.5 .2h.6m-.6-.1h.6m-.6-.2h.6m-.5 .1h.6m-.1 .1h.6m-.4-.1h.6m-.5-.1h.6m.1 .1h.6m-9.9 .3h.6m.4 .2h.6m-.1-.1h.6m-.2 0h.6m.2 0h.6m-.6-.1h.6m-.5 .1h.6m-.4 .1h.6m-.6-.2h.6m-.5 0h.6m-.5 .3h.6m-.6-.2h.6m-.5 .2h.6m-.6-.1h.6m-.5 .1h.6m-.6 0h.6m-.4 0h.6m-.5 0h.6m-.6 0h.6m-.5-.2h.6m-.5 0h.6m-.3 .1h.6m-.6-.1h.6m-.5 .1h.6m-.6-.2h.6m-.6 0h.6m-.4 .1h.6m-.1-.1h.6m-.4 .1h.6m-.6-.1h.6m-.3 .2h.6m-.5 0h.6m-.5-.2h.6m-.4 .1h.6m-.6 .1h.6m-.3-.1h.6m-.5 .2h.6m-.5 0h.6m-.4 0h.6m-.6-.2h.6m-.5 .2h.6m-.5-.1h.6m-.4-.2h.6m-.2 .2h.6m-.6 .1h.6m-.5 0h.6m-.6 0h.6m-.6 0h.6m-.1-.3h.6m-.2 0h.6m-.5 .2h.6m-.5-.2h.6m-.5 0h.6m-.3 .1h.6m-.3 0h.6m-9.6 .5h.6m1.6 .1h.6m-.1-.1h.6m-.5 0h.6m-.4 0h.6m-.4 0h.6m-.4 .1h.6m-.6-.3h.6m-.4 0h.6m-.6 .1h.6m-.5-.1h.6m-.5 .1h.6m-.6 .2h.6m-.4-.1h.6m-.6 .1h.6m-.5-.3h.6m-.3 .2h.6m-.6 .1h.6m-.4 0h.6m-.5-.1h.6m-.5 0h.6m-.5-.2h.6m-.6 .2h.6m-.4 .1h.6m-.3-.1h.6m-.4 .1h.6m-.4-.3h.6m-.6 0h.6m-.4 .1h.6m-.6-.1h.6m-.4 .2h.6m-.5 0h.6m-.4 0h.6m-.4 0h.6m-.5-.2h.6m-.5 .3h.6m-.3 0h.6m-.1 0h.6m-.5-.2h.6m-.2 0h.6m-.5-.1h.6m1.1 0h.6m-9.1 .6h.6m-.5 0h.6m-.6 0h.6m-.4-.2h.6m-.5 .3h.6m-.5-.3h.6m-.6 .2h.6m-.3 .1h.6m-.3-.3h.6m-.4 .1h.6m-.4-.1h.6m-.6 .3h.6m-.6 0h.6m-.4 0h.6m-.6 0h.6m-.5 0h.6m-.6-.3h.6m-.5 0h.6m-.6 0h.6m-.4 0h.6m-.3 0h.6m-.4 0h.6m-.6 .1h.6m-.6-.1h.6m-.4 .1h.6m-.6 0h.6m-.5 .1h.6m-.6 .1h.6m-.4 0h.6m-.6-.1h.6m0-.2h.6m-.5 .2h.6m-.6-.1h.6m-.6 .1h.6m-.5 0h.6m-.6-.1h.6m-.5 0h.6m-.3 .1h.6m-.1 .1h.6m-.4-.3h.6m-.3 0h.6m-.5 .1h.6m-.6-.1h.6m-.6 0h.6m-.5 0h.6m-.2 .1h.6m-.6 .1h.6m-.5-.2h.6m-.1 0h.6m-.3 .1h.6m.4 .1h.6m-.3-.1h.6m.2 .1h.6m-10.1 .3h.6m-.4 .2h.6m-.3-.3h.6m-.2 .1h.6m-.4 .2h.6m-.3-.3h.6m-.6 .3h.6m-.5-.3h.6m-.5 .2h.6m-.6-.1h.6m-.5-.1h.6m-.5 0h.6m-.5 .3h.6m-.3-.1h.6m-.6-.2h.6m-.5 .1h.6m-.5-.1h.6m-.6 .1h.6m-.5 .1h.6m-.5-.1h.6m-.5 0h.6m-.6 .2h.6m-.5-.1h.6m-.6 0h.6m-.5-.2h.6m-.5 .2h.6m-.4 0h.6m-.6-.1h.6m-.4-.1h.6m-.5 .3h.6m-.5-.3h.6m-.5 .2h.6m-.6-.1h.6m-.3 .2h.6m-.5 0h.6m-.6 0h.6m-.5-.3h.6m-.6 .2h.6m-.4-.1h.6m-.4-.1h.6m-.5 .2h.6m-.5-.2h.6m-.4 .1h.6m-.6-.1h.6m-.4 0h.6m-.6 .1h.6m-.4-.1h.6m-.4 .2h.6m-.6-.1h.6m-.5 0h.6m-.6 .1h.6m-.6 .1h.6m-.5-.3h.6m-.6 0h.6m-.5 0h.6m-.6 .3h.6m-.5-.3h.6m-.5 .1h.6m-.6 .2h.6m-.3-.2h.6m-.6 .1h.6m-.1-.2h.6m0 .2h.6m.6-.1h.6m-.1 0h.6m-11 .4h.6m-.3 0h.6m0 0h.6m-.2-.1h.6m-.5 .1h.6m-.2 0h.6m-.6 .2h.6m-.4-.3h.6m-.5 .1h.6m-.1 .2h.6m-.6 0h.6m-.6-.2h.6m-.3 0h.6m-.5 .1h.6m-.4-.1h.6m-.3 0h.6m-.6-.1h.6m-.6 0h.6m-.5 .2h.6m-.6-.2h.6m-.6 .3h.6m-.4-.1h.6m-.6-.2h.6m-.4 0h.6m-.5 0h.6m-.5 .2h.6m-.6-.1h.6m-.5-.1h.6m-.6 .3h.6m-.3-.3h.6m-.5 .1h.6m-.5 0h.6m-.6 0h.6m-.6 .2h.6m-.2-.1h.6m-.6 0h.6m-.4 0h.6m-.6-.2h.6m-.4 0h.6m-.4 .3h.6m-.3-.2h.6m-.6-.1h.6m-.5 .1h.6m-.5 0h.6m-.6 .1h.6m-.2-.2h.6m-.6 .3h.6m-.5-.1h.6m-.5-.1h.6m-.5 .1h.6m-.4 0h.6m-.5-.1h.6m-.6 .1h.6m-.6-.1h.6m-.5 0h.6m-.5-.1h.6m-.5 0h.6m-.5 0h.6m-.4 0h.6m-.1 .3h.6m-.5-.1h.6m-.5 0h.6m0 0h.6m-.4 .1h.6m-10.2 .1h.6m.1 .3h.6m-.2-.2h.6m-.4 .2h.6m-.2 0h.6m-.5-.3h.6m-.4 .1h.6m-.4 .2h.6m-.5-.2h.6m-.5 .1h.6m-.4-.2h.6m-.5 .1h.6m-.5-.1h.6m-.6 .1h.6m-.5-.1h.6m-.5 .3h.6m-.6-.2h.6m-.5-.1h.6m-.5 0h.6m-.5 .2h.6m-.5 .1h.6m-.5-.1h.6m-.6-.1h.6m-.6 0h.6m-.6 0h.6m-.5 .2h.6m-.4-.1h.6m-.6-.2h.6m-.5 .3h.6m-.6-.2h.6m-.5-.1h.6m-.6 .1h.6m-.5 0h.6m-.5 .1h.6m-.5 0h.6m-.6-.1h.6m-.4 0h.6m-.5 .1h.6m-.5 0h.6m-.6-.1h.6m-.6 .1h.6m-.3 .1h.6m-.5-.3h.6m-.6 .1h.6m-.5 .1h.6m-.6 0h.6m-.6-.2h.6m-.5 .3h.6m-.6-.1h.6m-.6-.1h.6m-.5 .1h.6m-.6 .1h.6m-.5-.2h.6m-.6 .2h.6m-.4-.1h.6m-.3-.2h.6m-.6 .1h.6m-.4 .2h.6m-.5-.3h.6m-.5 .2h.6m-.5 0h.6m-.6-.1h.6m-.6 .1h.6m-.5 0h.6m-.2-.2h.6m-.6 0h.6m-.4 .2h.6m-.4-.1h.6m-.6-.1h.6m-.6 .2h.6m-.6-.2h.6m-.2 .1h.6m.1 0h.6m-.6 .1h.6m-.3-.1h.6m.2 .2h.6m.8 0h.6m-11.1 .2h.6m-.5 .1h.6m-.2 .1h.6m-.1-.1h.6m-.6-.1h.6m-.5 .1h.6m-.4-.2h.6m.2 .3h.6m-.5-.3h.6m-.6 0h.6m-.4 .2h.6m-.5 .1h.6m-.5-.1h.6m-.4 .1h.6m-.5-.1h.6m-.5-.1h.6m-.5-.1h.6m-.5 0h.6m-.4 .1h.6m-.5-.1h.6m-.3 0h.6m-.6 .3h.6m-.5 0h.6m-.6-.2h.6m-.5 0h.6m-.4 .1h.6m-.5-.1h.6m-.4-.1h.6m-.5 .1h.6m-.6 .1h.6m-.5-.1h.6m-.4 .2h.6m-.5 0h.6m-.6 0h.6m-.6 0h.6m-.5-.1h.6m-.5-.1h.6m-.2 .1h.6m-.6-.1h.6m-.5 .1h.6m-.3 0h.6m-.2-.2h.6m-.3 .1h.6m-.6 .1h.6m0-.2h.6m-.5 0h.6m2 0h.6m-.5 0h.6m-12.5 .6h.6m1.4-.2h.6m-.6 .3h.6m-.3-.3h.6m-.3 .1h.6m-.3 .2h.6m-.5 0h.6m-.5-.3h.6m-.5 .3h.6m-.6-.1h.6m-.4 0h.6m-.4-.2h.6m-.4 .1h.6m-.5-.1h.6m-.6 .1h.6m-.5-.1h.6m-.5 .2h.6m-.5 0h.6m-.6 .1h.6m-.5 0h.6m-.5-.1h.6m-.6 .1h.6m-.5-.1h.6m-.6-.1h.6m-.6 .1h.6m-.4-.1h.6m-.4 0h.6m-.5-.1h.6m-.6 0h.6m-.6 .1h.6m-.5 .1h.6m-.5-.2h.6m-.6 .3h.6m-.6-.2h.6m-.6 0h.6m-.6 .1h.6m-.4-.2h.6m-.6 .1h.6m-.5-.1h.6m-.5 .1h.6m-.5-.1h.6m-.6 .1h.6m-.4 .1h.6m-.6 .1h.6m-.2-.1h.6m-.6-.2h.6m-.6 .3h.6m-.6-.3h.6m-.5 0h.6m-.5 .2h.6m-.5-.1h.6m-.5 .1h.6m-.5-.2h.6m-.5 .1h.6m-.5 .2h.6m-.5-.3h.6m-.6 0h.6m-.5 .3h.6m-.6-.3h.6m-.5 0h.6m-.5 0h.6m-.4 .2h.6m-.6-.2h.6m-.4 .2h.6m-.6 .1h.6m-.3-.3h.6m-.2 .2h.6m-.4 .1h.6m0 0h.6m-.2 0h.6m-.4-.1h.6m.2-.1h.6m.9 .2h.6m-11.9 .4h.6m-.1-.2h.6m-.2-.1h.6m-.5 0h.6m-.5 .1h.6m-.5 .2h.6m-.3 0h.6m-.4-.2h.6m-.5-.1h.6m-.6 .3h.6m-.6 0h.6m-.4-.2h.6m-.6 .2h.6m-.4-.1h.6m-.5 .1h.6m-.6-.3h.6m-.5 0h.6m-.3 .3h.6m-.5-.3h.6m-.4 .1h.6m-.5 .2h.6m-.5 0h.6m-.5-.3h.6m-.6 .1h.6m-.4 .1h.6m-.3 0h.6m-.6 0h.6m-.6-.1h.6m-.4 .1h.6m-.5-.1h.6m-.6-.1h.6m-.5 .1h.6m-.5 .2h.6m-.5 0h.6m-.5-.1h.6m-.6 0h.6m-.6-.2h.6m-.5 0h.6m-.5 .1h.6m-.6 .1h.6m-.5 0h.6m-.6-.2h.6m-.5 .3h.6m-.4-.3h.6m-.6 0h.6m-.4 0h.6m-.6 0h.6m-.3 .1h.6m-.6 .2h.6m-.6-.1h.6m-.3-.1h.6m-.3 0h.6m-.5 .1h.6m-.6-.1h.6m-.5 0h.6m-.5 .1h.6m-.6-.1h.6m-.4 .1h.6m-.5 .1h.6m-.5-.1h.6m-.5 .1h.6m-.6-.2h.6m-.4-.1h.6m-.6 .3h.6m-.5 0h.6m-.5-.2h.6m-.1 0h.6m.1-.1h.6m-.4 0h.6m.2 0h.6m-11.7 .5h.6m1.5 .2h.6m-.5-.2h.6m-.2 .2h.6m-.2-.1h.6m-.5-.1h.6m-.6 0h.6m-.5-.1h.6m-.4 .1h.6m-.3 0h.6m-.4 .2h.6m-.4 0h.6m-.5 0h.6m-.6-.3h.6m-.5 .3h.6m-.2 0h.6m-.5 0h.6m-.6-.1h.6m-.5 0h.6m-.6 .1h.6m-.6-.3h.6m-.5 .1h.6m-.6 .1h.6m-.6-.1h.6m-.5-.1h.6m-.5 0h.6m-.4 .3h.6m-.5 0h.6m-.6 0h.6m-.6 0h.6m-.6 0h.6m-.5 0h.6m-.5-.2h.6m-.4 .2h.6m-.4-.1h.6m-.5-.2h.6m-.6 .1h.6m-.5 .1h.6m-.6 .1h.6m-.4-.3h.6m-.6 .1h.6m-.5 .2h.6m-.6-.3h.6m-.5 0h.6m-.5 .2h.6m-.6-.1h.6m-.4 .2h.6m-.6 0h.6m-.5-.2h.6m-.6 .1h.6m-.2-.2h.6m-.6 .2h.6m-.5-.1h.6m-.4 .2h.6m-.6 0h.6m0 0h.6m-.4-.1h.6m-.4-.1h.6m-.6-.1h.6m-.5 .3h.6m.3-.2h.6m.1-.1h.6m.8 0h.6m-12.7 .5h.6m1.3 0h.6m.3 .1h.6m-.5-.1h.6m-.6-.1h.6m-.5 .1h.6m-.6 .1h.6m-.6 0h.6m-.3 .1h.6m-.5-.1h.6m-.6 .1h.6m-.4-.2h.6m-.6 .2h.6m-.4 0h.6m-.1-.1h.6m-.6-.1h.6m-.4 0h.6m-.3 .1h.6m-.6-.1h.6m-.6-.1h.6m-.5 .2h.6m-.4-.1h.6m-.3 .1h.6m-.6-.1h.6m-.5 0h.6m-.4 .1h.6m-.6 0h.6m-.6-.2h.6m-.4 0h.6m-.6 0h.6m-.5 .2h.6m-.3-.1h.6m-.6 0h.6m-.3-.1h.6m-.3 .1h.6m-.5-.1h.6m-.5 0h.6m-.5 0h.6m-.6 .1h.6m-.4-.1h.6m-.6 .3h.6m-.5-.2h.6m-.6 .1h.6m-.6-.2h.6m-.5 0h.6m-.5 .3h.6m-.6 0h.6m-.4 0h.6m-.5-.2h.6m-.6-.1h.6m-.5 .2h.6m-.5-.2h.6m-.2 0h.6m-.5 .2h.6m-.4 0h.6m-.3 0h.6m-.4-.2h.6m.2 0h.6m-.6 .2h.6m-9.4 .3h.6m.6-.1h.6m-.4 .3h.6m-.6-.2h.6m.1 .2h.6m-.5-.2h.6m-.6-.1h.6m-.5 .2h.6m-.3 .1h.6m-.5-.2h.6m-.6-.1h.6m-.5 0h.6m-.2 .2h.6m-.5-.1h.6m-.5 .1h.6m-.2 0h.6m-.2 0h.6m-.6 .1h.6m-.5-.3h.6m-.6 .1h.6m-.4-.1h.6m-.6 .3h.6m-.2-.2h.6m-.6 .2h.6m-.3 0h.6m-.3-.1h.6m-.5 .1h.6m-.4-.3h.6m-.4 .3h.6m-.4 0h.6m-.5-.1h.6m-.6 0h.6m-.3 .1h.6m-.5 0h.6m-.5 0h.6m-.6-.3h.6m-.4 .2h.6m-.6-.1h.6m-.6 0h.6m-.3-.1h.6m-.6 .2h.6m-.1 0h.6m.2 0h.6m-.6 0h.6m-8.9 .3h.6m-.4-.1h.6m.4 .3h.6m-.5-.2h.6m-.4 0h.6m-.5 .1h.6m-.2 .1h.6m-.6-.3h.6m-.4 .3h.6m-.5-.2h.6m-.5 0h.6m-.6-.1h.6m-.4 .3h.6m-.5-.1h.6m-.6 0h.6m-.6-.2h.6m-.4 .3h.6m-.5-.3h.6m-.6 .1h.6m-.5 .1h.6m-.5 .1h.6m-.4-.1h.6m-.5 .1h.6m-.5 0h.6m-.6-.3h.6m-.5 .3h.6m-.5-.1h.6m-.5 0h.6m-.6 .1h.6m-.5-.1h.6m-.5 0h.6m-.4-.2h.6m-.4 .2h.6m-.5-.1h.6m-.6 .1h.6m-.6-.1h.6m-.5-.1h.6m-.6 .3h.6m-.5-.1h.6m-.6 .1h.6m-.6 0h.6m-.5-.2h.6m-.6 .2h.6m-.6-.1h.6m-.5-.1h.6m-.5 .2h.6m-.6-.1h.6m-.6-.2h.6m-.4 0h.6m0 0h.6m-.5 .1h.6m-.5 .2h.6m-.2-.2h.6m-.6-.1h.6m-.6 .1h.6m-.5 .1h.6m-.5-.2h.6m.1 .3h.6m.2 0h.6m-8.2 .4h.6m-.5-.2h.6m-.1 .1h.6m-.6 .1h.6m-.3-.1h.6m-.6-.1h.6m-.5 .1h.6m-.5 .1h.6m-.6-.3h.6m-.5 0h.6m-.5 .2h.6m-.5 0h.6m-.5-.2h.6m-.6 .3h.6m-.5-.2h.6m-.4-.1h.6m-.6 0h.6m-.6 .2h.6m-.5 0h.6m-.5-.2h.6m-.3 0h.6m-.3 0h.6m-.6 .3h.6m-.3 0h.6m-.6-.1h.6m-.5-.1h.6m-.3-.1h.6m-.6 0h.6m-.5 .3h.6m-.6-.2h.6m-.5 .2h.6m-.4 0h.6m-.5 0h.6m-.4-.2h.6m-.6 0h.6m-.4 .2h.6m-.5 0h.6m-.6-.1h.6m-.4-.2h.6m-.1 0h.6m-.6 .3h.6m-.2 0h.6m-.5-.3h.6m.2 0h.6m-.3 .1h.6m-.6 .2h.6m-.5-.2h.6m-.2 0h.6m-10.6 .6h.6m1.1-.3h.6m-.2 0h.6m-.6 .3h.6m-.3-.1h.6m-.5 .1h.6m-.6-.2h.6m-.5-.1h.6m-.4 0h.6m-.5 0h.6m-.5 .3h.6m-.4-.1h.6m-.3-.1h.6m-.3 .2h.6m-.6-.2h.6m-.5-.1h.6m-.6 0h.6m-.3 .3h.6m-.6-.3h.6m-.4 .3h.6m-.4-.1h.6m-.4-.2h.6m-.5 0h.6m-.3 .2h.6m-.4-.2h.6m-.6 .2h.6m-.6 .1h.6m-.3-.1h.6m-.5 0h.6m-.5-.2h.6m-.4 .1h.6m-.5 .1h.6m-.5-.1h.6m-.6 .1h.6m-.5-.1h.6m-.6-.1h.6m-.5 .3h.6m-.4 0h.6m-.5-.1h.6m0-.1h.6m-.3 .2h.6m-.4-.3h.6m-.3 .3h.6m-.4-.3h.6m-.6 0h.6m-.4 .2h.6m-.4-.2h.6m-.4 .1h.6m-9.5 .3h.6m1 .1h.6m-.1-.1h.6m-.5 .1h.6m-.5-.1h.6m-.5 0h.6m-.4 .1h.6m-.4 .1h.6m-.2 .1h.6m-.4-.2h.6m-.6 .2h.6m-.6-.1h.6m-.3 0h.6m-.6 0h.6m-.3 0h.6m-.6 0h.6m-.5-.1h.6m-.5 0h.6m-.6-.1h.6m-.5 .2h.6m-.5 0h.6m-.5-.2h.6m-.6 .2h.6m-.4-.1h.6m-.5 .1h.6m-.6-.2h.6m-.6 .2h.6m-.6-.1h.6m-.5-.1h.6m-.6 .2h.6m-.4 0h.6m-.5 .1h.6m-.5-.2h.6m-.3 .1h.6m-.6 .1h.6m-.4-.2h.6m-.5 .1h.6m-.5 .1h.6m-.4-.3h.6m-.6 .2h.6m-.6 .1h.6m-.5 0h.6m-.5-.2h.6m-.6 .2h.6m-.6-.2h.6m-.6 .2h.6m-.6-.3h.6m-.4 .1h.6m-.5 .2h.6m-.4-.3h.6m-.5 .1h.6m-.5-.1h.6m-.6 .3h.6m-.5-.2h.6m-.6 0h.6m-.4 .1h.6m0-.2h.6m0 0h.6m-.3 0h.6m-.2 .1h.6m-8.1 .5h.6m0 .1h.6m-.1-.2h.6m-.4 .1h.6m-.5 .1h.6m-.3 0h.6m-.5-.2h.6m-.5 .2h.6m-.4-.1h.6m-.5 .1h.6m-.1-.1h.6m-.5-.2h.6m-.6 .3h.6m-.5-.2h.6m-.4 .2h.6m-.6 0h.6m-.6-.3h.6m-.3 0h.6m-.5 .1h.6m-.5 .1h.6m-.6 .1h.6m-.5-.2h.6m-.6 .2h.6m-.6 0h.6m-.5-.3h.6m-.5 .3h.6m-.5-.2h.6m-.3 .1h.6m-.5-.2h.6m-.6 .3h.6m-.6-.1h.6m-.6-.1h.6m-.4 0h.6m-.5 0h.6m-.5 .1h.6m-.2-.2h.6m-.4 .3h.6m.1-.2h.6m.1 .1h.6m.4 .1h.6m-.1-.2h.6m-.5 .1h.6m-10.8 .3h.6m.3 .2h.6m-.1-.2h.6m-.6 .2h.6m-.6 0h.6m.1 0h.6m-.6 0h.6m-.4-.1h.6m-.2-.2h.6m-.6 .2h.6m-.4 0h.6m-.4-.1h.6m-.5 0h.6m-.6 .1h.6m-.6 0h.6m-.5-.2h.6m-.4 0h.6m-.4 .1h.6m-.6 .2h.6m-.6-.1h.6m-.5 0h.6m-.5-.2h.6m-.4 .2h.6m-.5-.1h.6m-.5 .2h.6m-.5-.3h.6m-.4 .1h.6m-.6 .1h.6m-.5-.2h.6m-.5 .2h.6m-.4 .1h.6m-.5-.2h.6m-.4-.1h.6m-.5 .1h.6m-.5 .1h.6m-.5-.2h.6m-.6 .3h.6m-.5 0h.6m-.5-.2h.6m-.3 0h.6m-.5 .1h.6m-.5-.1h.6m-.4 .2h.6m-.1-.2h.6m-.6 .2h.6m-.5-.3h.6m-.2 .3h.6m0-.2h.6m-.6-.1h.6m-.3 .2h.6m-.5 0h.6m-.4-.2h.6m.2 .1h.6m-9.9 .4h.6m-.4 0h.6m1.1 .1h.6m-.5 .1h.6m-.6-.2h.6m-.5 .2h.6m-.4-.1h.6m-.6-.2h.6m-.4 .1h.6m-.6 .2h.6m-.1-.2h.6m-.5 .2h.6m-.6 0h.6m-.4-.1h.6m-.4 .1h.6m-.5-.1h.6m-.5 .1h.6m-.5-.2h.6m-.3 0h.6m-.5 0h.6m-.5-.1h.6m-.5 .1h.6m-.6 0h.6m-.3 0h.6m-.5-.1h.6m-.6 .1h.6m-.5 .1h.6m-.6 0h.6m-.5-.2h.6m-.6 .2h.6m-.6-.2h.6m-.5 .2h.6m-.6 0h.6m-.4-.1h.6m-.4 .2h.6m-.4-.1h.6m-.6 .1h.6m-.5-.1h.6m-.6-.2h.6m-.6 .3h.6m-.4-.3h.6m-.6 .2h.6m-.4-.1h.6m-.3 .2h.6m-.2-.2h.6m-.4-.1h.6m-.3 .3h.6m-8.7 .2h.6m-.3 .2h.6m.4-.3h.6m-.2 .1h.6m0-.1h.6m-.2 0h.6m-.6 .2h.6m-.5-.1h.6m-.4 .1h.6m-.5 .1h.6m-.4-.1h.6m-.5-.1h.6m-.4 .2h.6m-.5-.1h.6m-.3 .1h.6m-.5-.2h.6m-.4 .1h.6m-.4 .1h.6m-.6-.2h.6m-.6-.1h.6m-.6 .3h.6m-.5-.3h.6m-.6 .1h.6m-.5 .2h.6m-.4 0h.6m-.5 0h.6m-.4-.3h.6m-.6 .3h.6m-.2-.1h.6m-.5-.1h.6m-.5 0h.6m-.4 .1h.6m-.6-.1h.6m-.6 .1h.6m-.5 .1h.6m-.6-.1h.6m-.4 0h.6m-.5-.2h.6m-.5 .2h.6m-.4-.2h.6m-.5 0h.6m-.4 0h.6m-.4 .1h.6m-.6 .1h.6m-.4-.2h.6m-.6 .2h.6m.3-.2h.6m-.4 0h.6m-8.6 .5h.6m-.3 .2h.6m-.4 0h.6m-.2-.2h.6m.2 .2h.6m-.4 0h.6m-.4-.3h.6m-.3 .3h.6m-.3-.1h.6m-.6 .1h.6m-.5-.3h.6m-.5 .2h.6m-.1 0h.6m-.1 0h.6m-.5 0h.6m-.4-.1h.6m-.4 .2h.6m-.5 0h.6m-.6-.3h.6m-.5 .2h.6m-.2 .1h.6m-.4-.2h.6m-.6 .1h.6m0-.1h.6m-.6-.1h.6m-.6 .1h.6m.4-.1h.6m-.4 .2h.6m-.3-.2h.6m-.4 .1h.6m-.5 .2h.6m-.5-.3h.6m-.4 .1h.6m-.5-.1h.6m-.4 .2h.6m-.5-.1h.6m-8.6 .6h.6m-.5-.3h.6m-.1 .1h.6m0 0h.6m-.4 .1h.6m-.3-.2h.6m-.5 .3h.6m-.4-.1h.6m-.6-.2h.6m-.6 .1h.6m-.4 0h.6m-.5 .2h.6m-.6 0h.6m-.6-.2h.6m-.6-.1h.6m-.5 .2h.6m-.3 .1h.6m-.5-.1h.6m-.6-.1h.6m-.4-.1h.6m-.5 .1h.6m-.6-.1h.6m-.5 .2h.6m-.4 .1h.6m-.6 0h.6m-.4-.2h.6m-.5 0h.6m-.6 .1h.6m-.5 0h.6m-.5 0h.6m-.4 .1h.6m-.5-.1h.6m-.4 0h.6m-.4 .1h.6m-.5-.1h.6m-.1-.2h.6m-.2 0h.6m-.5 0h.6m.2 .1h.6m-.4 .1h.6m-.5-.2h.6m-.6 0h.6m-.6 0h.6m-.5 .2h.6m-.2 .1h.6m-.3-.2h.6m-8.5 .3h.6m-.4 .2h.6m.3 .1h.6m.5-.1h.6m.1 0h.6m-.3-.2h.6m-.5 .2h.6m-.1-.2h.6m-.6 0h.6m-.5 .1h.6m-.6 .1h.6m-.6-.1h.6m-.5 .2h.6m-.4-.1h.6m-.6 0h.6m-.5 0h.6m-.5 .1h.6m-.2-.1h.6m-.3-.1h.6m-.4 .2h.6m-.5 0h.6m-.4-.1h.6m-.5 .1h.6m-.3-.1h.6m.1-.2h.6m.1 .1h.6m-6.6 .3h.6m-.5 0h.6m-.5 .2h.6m-.5 .1h.6m.2-.3h.6m-.5 .3h.6m-.6 0h.6m-.6 0h.6m-.5 0h.6m-.6 0h.6m-.3-.1h.6m-.6 0h.6m-.5-.1h.6m-.3-.1h.6m-.6 .1h.6m-.5-.1h.6m-.6 .2h.6m-.5 0h.6m-.1 .1h.6m-.3 0h.6m-.6-.1h.6m-.6-.1h.6m-.2 0h.6m-.2 .2h.6m-.4-.2h.6m-.5 .1h.6m-.6-.2h.6m-.5 .1h.6m-.1 .1h.6m-.5 .1h.6m-.6 0h.6m-.4-.3h.6m.1 .1h.6m-.1 .2h.6m-.3-.1h.6m-8.3 .4h.6m-.4-.1h.6m-.2 .2h.6m-.5-.1h.6m-.5-.2h.6m-.5 0h.6m-.4 0h.6m-.5 .1h.6m.4 0h.6m-.2-.1h.6m-.6 .3h.6m-.4-.2h.6m-.5-.1h.6m-.6 .3h.6m-.4-.3h.6m-.4 .1h.6m-.5 .1h.6m-.5 .1h.6m-.4-.3h.6m-.6 .1h.6m-.6 0h.6m-.5-.1h.6m-.6 .1h.6m-.4 0h.6m-.6 0h.6m-.6-.1h.6m-.3 .1h.6m-.5-.1h.6m-.6 .3h.6m-.4-.3h.6m-.4 .2h.6m-.6 0h.6m-.5-.1h.6m-.5-.1h.6m-.5 0h.6m-.5 0h.6m-.6 .1h.6m-.5 .1h.6m-.1 .1h.6m-.3-.1h.6m-.4-.2h.6m-.3 0h.6m-.5 .3h.6m.2-.1h.6m.3-.1h.6m.4-.1h.6m-9.1 .7h.6m-.6-.1h.6m0-.2h.6m-.6 .1h.6m-.5 .2h.6m-.5-.1h.6m-.5 0h.6m-.3 0h.6m-.5-.2h.6m-.4 .2h.6m-.6 0h.6m-.6 .1h.6m-.4-.3h.6m-.4 0h.6m-.4 .2h.6m-.6 0h.6m-.4-.1h.6m-.6 .2h.6m-.5-.3h.6m-.5 .2h.6m-.3-.1h.6m-.6 0h.6m-.6 .2h.6m-.4-.2h.6m-.4-.1h.6m-.6 .3h.6m-.5-.1h.6m-.6 .1h.6m-.6-.3h.6m-.5 .1h.6m-.5 .2h.6m-.4 0h.6m-.3-.2h.6m-.1-.1h.6m-.1 .2h.6m-.5 0h.6m-.2 0h.6m-.3-.1h.6m-.1-.1h.6m-.3 0h.6m-.2 .3h.6m-8.9 .1h.6m-.4 .2h.6m-.4 .1h.6m-.1 0h.6m-.5-.2h.6m-.6 .1h.6m-.5 0h.6m.2-.2h.6m-.3 0h.6m-.5 .1h.6m0 .1h.6m-.5-.1h.6m-.4 .2h.6m-.6-.2h.6m-.5 0h.6m-.4 0h.6m-.4 .1h.6m-.4 .1h.6m-.4-.2h.6m-.5 0h.6m-.4 .2h.6m-.3-.1h.6m-.5-.1h.6m-.4 .2h.6m-.6 0h.6m-.5-.1h.6m-.6-.1h.6m-.2 0h.6m-.6 .1h.6m-.3-.2h.6m0 0h.6m-.1 .2h.6m-.5 .1h.6m-.4-.2h.6m0 0h.6m-8.5 .6h.6m.2-.3h.6m-.6 .1h.6m-.6 .1h.6m-.5 .1h.6m.6 0h.6m-.6-.3h.6m-.5 0h.6m-.6 .1h.6m-.5-.1h.6m-.2 0h.6m-.3 .2h.6m-.1-.2h.6m-.5 0h.6m-.5 .1h.6m-.4-.1h.6m-.4 0h.6m-.4 .2h.6m-.2 .1h.6m-.4 0h.6m0-.2h.6m-.5 .2h.6m-.4 0h.6m-.5-.2h.6m-.5-.1h.6m.1 0h.6m-7.2 .7h.6m-.4-.3h.6m-.4 .3h.6m.1-.1h.6m-.5-.1h.6m-.4 0h.6m-.5 0h.6m-.2-.1h.6m-.6 .1h.6m-.5 .1h.6m-.1 0h.6m-.4-.1h.6m-.5-.1h.6m-.5 .2h.6m-.6-.1h.6m-.6-.1h.6m-.5 0h.6m-.6 .2h.6m-.5 0h.6m-.5-.1h.6m-.6-.1h.6m-.5 .3h.6m-.5 0h.6m-.6-.1h.6m-.5 0h.6m-.4-.1h.6m-.4 .2h.6m-.3-.3h.6m.4 .3h.6m.2-.3h.6m.1 .3h.6m-.4 0h.6m-7.5 .1h.6m-.4 .2h.6m-.5 0h.6m-.5-.1h.6m-.4-.1h.6m-.5 .2h.6m-.3-.1h.6m-.3 .2h.6m-.4-.3h.6m-.5 .1h.6m-.4 .1h.6m-.4-.1h.6m-.5 0h.6m-.4 0h.6m-.4 .1h.6m0-.2h.6m-.2 0h.6m-.4 0h.6m-.6 0h.6m-.5 0h.6m-.4 .1h.6m-.5-.1h.6m.1 0h.6m-.6 .2h.6m.4 0h.6m0-.2h.6m.4 .2h.6m-.2-.2h.6m-7.8 .6h.6m-.6-.2h.6m-.3 .1h.6m-.6-.1h.6m-.5 .1h.6m-.5 .1h.6m0-.2h.6m-.5 0h.6m-.6 .1h.6m-.3 .1h.6m-.6 .1h.6m-.5-.2h.6m-.4 .1h.6m-.3 0h.6m-.6-.1h.6m-.6 0h.6m-.4 0h.6m-.4 .1h.6m-.2-.1h.6m-.4 0h.6m-.5-.1h.6m-.3 .3h.6m-.4-.2h.6m0 .1h.6m-.5-.1h.6m.8-.1h.6m-6.8 .7h.6m-.5-.2h.6m-.6 0h.6m-.4-.1h.6m-.6 .2h.6m0 0h.6m-.4-.1h.6m-.6-.1h.6m-.2 .3h.6m-.2-.1h.6m-.3-.1h.6m-.6 0h.6m-.4 .2h.6m-.3-.1h.6m-.4-.2h.6m-.6 .3h.6m-.6 0h.6m-.5-.1h.6m-.5-.2h.6m-.4 .2h.6m-.6 0h.6m-.6-.1h.6m-.2 0h.6m-.6 0h.6m-.5 .2h.6m-.6-.2h.6m-.4 .1h.6m-.1-.2h.6m-.5 .2h.6m.2-.1h.6m.3 0h.6m-6.8 .5h.6m-.3-.2h.6m-.5 .1h.6m-.3-.1h.6m-.5 .2h.6m-.3 .1h.6m-.2 0h.6m-.6-.3h.6m-.6 .2h.6m-.4 0h.6m-.4 .1h.6m-.2 0h.6m-.6-.2h.6m-.5 .2h.6m-.5-.2h.6m-.6 .2h.6m-.5-.2h.6m-.1 .2h.6m-.6 0h.6m-.5-.1h.6m-.6-.2h.6m-.4 .3h.6m0 0h.6m-.2-.2h.6m-.2-.1h.6m-.2 0h.6m-.5 .3h.6m-5.8 .4h.6m-.3-.3h.6m-.5 .1h.6m-.2 .1h.6m-.5 0h.6m-.4 .1h.6m.3-.2h.6m-.5 0h.6m-.5-.1h.6m0 .2h.6m-.1 .1h.6m-.6 0h.6m.7-.2h.6m-.4-.1h.6m-5 .6h.6m-.5 0h.6m-.2 0h.6m-.6-.1h.6m.1 0h.6m-.6 .2h.6m.3-.2h.6m-.4 .1h.6m-.5-.2h.6m-.5 .3h.6m.1 0h.6m1.3-.1h.6m-5.6 .5h.6m0-.2h.6m-.3 .2h.6m-.3-.2h.6m-.1 0h.6m.3 0h.6m-.3 0h.6m-.5-.1h.6m1 .1h.6m-5.3 .3h.6m.2 0h.6m-.6 0h.6m.3 .2h.6m-.4 0h.6m-.5 .1h.6m-.3 0h.6m.5-.3h.6m-.4 .1h.6m-2.3 .3h.6m-.4 .1h.6" stroke="#158a15" stroke-width="0.6" stroke-opacity="0.7" fill="none"/>
<polygon points="329.3,54.6 341.3,31.6 346.3,31.3 346.3,49.1 344.6,54.6 334.7,63.4 330.9,62.3" fill="none" stroke="#2b8a2b" stroke-width="0.9" stroke-linejoin="round"/>
<text x="307" y="38.48" font-size="6.6" text-anchor="start" fill="#3a9a3a" font-weight="normal" textLength="27.6" lengthAdjust="spacingAndGlyphs" stroke="#3a9a3a" stroke-width="0.15">CD45 dim</text>
<text x="347" y="68.46" font-size="6" text-anchor="start" fill="#2a2a2a" font-weight="normal" textLength="29.8" lengthAdjust="spacingAndGlyphs" stroke="#2a2a2a" stroke-width="0.1">90% blasts</text>
<path d="M452 30.9h.6m.2 .5h.6m5.7 0h.6m-2.1 .5h.6m-1.1 .4h.6m1.3-.2h.6m-2.2 .5h.6m1.7 .1h.6m8.8 0h.6m-12.9 .7h.6m2.5 .3h.6m9.6-.1h.6m-14 .7h.6m1.1-.1h.6m2.7 0h.6m-5 .2h.6m1.5 .1h.6m-5.7 .5h.6m14.2-.2h.6m-17.7 .4h.6m4.1 .2h.6m.4 .3h.6m-6.2 .4h.6m1.8 .4h.6m2.2 .1h.6m.7 0h.6m.1 0h.6m1.1-.2h.6m1.2 .3h.6m-12.1 .6h.6m9.2 .2h.6m2.2 0h.6m4.7-.2h.6m-15.5 .5h.6m5.2 .1h.6m1.7 0h.6m-14.2 .2h.6m3.3 0h.6m3.4 .1h.6m3.7-.1h.6m6.8 .2h.6m-16.6 .1h.6m6.9 .1h.6m2.8 .2h.6m-7.5 .4h.6m2.5 0h.6m2.2-.3h.6m.9 .1h.6m-17.6 .3h.6m6 .3h.6m-.4-.3h.6m-.5 .3h.6m3.4-.1h.6m-.2 0h.6m.6-.1h.6m-.1 .2h.6m-10.7 .3h.6m9.4-.2h.6m.5 .3h.6m.5-.2h.6m-.5-.1h.6m3.2 .3h.6m1.5 0h.6m-14.4 .4h.6m.3 0h.6m.7 0h.6m0-.1h.6m.5-.2h.6m-.5 .1h.6m3 .2h.6m-11 .3h.6m1.2 .1h.6m2.8-.3h.6m-.6 .2h.6m.4 0h.6m-.4-.2h.6m.1 0h.6m.2 0h.6m3.1 .3h.6m1.5-.1h.6m-11 .3h.6m-.3 .1h.6m.4-.1h.6m.2-.1h.6m0 .3h.6m1.1-.2h.6m3.5-.1h.6m1.2 .3h.6m3.3-.2h.6m-13.4 .3h.6m-.5 .2h.6m0 .1h.6m-.5-.1h.6m-.1-.1h.6m1.4 .2h.6m-8.4 .4h.6m2.4-.2h.6m1.2-.1h.6m2.4 0h.6m.7 .1h.6m-9.8 .5h.6m.9-.2h.6m.3 .1h.6m.4 .1h.6m-.4 0h.6m1.4-.1h.6m0 .1h.6m2 0h.6m-7.1 .5h.6m.1-.2h.6m.6 .1h.6m-.5 0h.6m-.2 0h.6m.5-.1h.6m-.6 .2h.6m-.3-.1h.6m9.5-.2h.6m-14 .4h.6m-.5 0h.6m-.6 0h.6m-.6 0h.6m.6 .2h.6m.9 0h.6m1 0h.6m.9-.1h.6m5.9-.1h.6m-20.7 .6h.6m2.2-.2h.6m3.9 .3h.6m.3-.1h.6m1.2-.2h.6m.3 .3h.6m-5.3 .3h.6m2.8-.2h.6m-.6 0h.6m-7.6 .4h.6m.4 .2h.6m5.2-.2h.6m-.1 0h.6m1.6 .3h.6m11.9-.2h.6m-20.6 .3h.6m2.3 .1h.6m-.5 .2h.6m1.3 0h.6m2.5 0h.6m-6.8 .2h.6m1.9 .2h.6m3.2-.1h.6m.2-.2h.6m.1 .2h.6m2.9-.1h.6m-.6-.1h.6m-13 .4h.6m.8 .1h.6m.5 .2h.6m.8-.3h.6m.9 .2h.6m2.3-.1h.6m3.6-.1h.6m-6.5 .6h.6m-6.8 .2h.6m.4 .2h.6m1.1 0h.6m2.2 0h.6m1.2-.2h.6m-9.7 .4h.6m1 .3h.6m.4-.2h.6m-.5 .1h.6m2.6-.1h.6m-8.7 .5h.6m2.8 .1h.6m3.9-.1h.6m3.5-.2h.6m-.5 .2h.6m-14.5 .5h.6m6.2-.3h.6m.7 .1h.6m2.3-.1h.6m-11.2 .5h.6m1.5 .1h.6m1.2-.2h.6m3.6 .2h.6m-.1-.2h.6m5.6 .3h.6m-15 .2h.6m6.3 .1h.6m-4.2 .2h.6m1.1 .3h.6m2.2-.3h.6m-1.8 .6h.6m6-.1h.6m-10.5 .6h.6m7.4-.3h.6m-.4 0h.6m3.6 .3h.6m-13.1 .1h.6m-.5 .2h.6m.2-.2h.6m.3 .1h.6m1.5 .1h.6m.4-.2h.6m1.9 .1h.6m8.6 .2h.6m-20 .4h.6m2.2-.3h.6m.5 .3h.6m-.2-.1h.6m5.9 .4h.6m-8.6 1.2h.6m2.2 .1h.6m-6.1 .9h.6m7.3 .1h.6m.8 .2h.6m5.5-.2h.6m-15.5 1h.6m5.5-.2h.6m1.9 .2h.6m3.6 .3h.6m-8.6 .5h.6m-10.4 .3h.6m3.8 0h.6m3.2-.1h.6m1 .2h.6m-.9 1.6h.6m-5.5 .1h.6m1 .1h.6m.7 .3h.6m1.6 .2h.6m-.1 .1h.6m-4.3 .1h.6m8 1.1h.6m-1.7 3.2h.6m.5 1.3h.6m3.7 .5h.6m-5.5 1h.6m-5.8 1h.6m7.7 0h.6m-3.9 .6h.6m6-.1h.6m-1.1 1h.6m.5 1.2h.6m-5.1 3.5h.6" stroke="#3aa83a" stroke-width="0.6" stroke-opacity="0.4" fill="none"/>
<path d="M459.8 40.9h.6m-1.1 .6h.6m-.1-.2h.6m.5 0h.6m-2.1 .5h.6m-.4 0h.6m-.1 .1h.6m-.4 .1h.6m1.7 .2h.6m-2.6 .5h.6m.5 0h.6m.8-.2h.6m-.1 .2h.6m-.5 0h.6m1.3 0h.6m-7.7 .2h.6m1.9 .1h.6m3.9 .1h.6m.9-.2h.6m-.3 0h.6m-8.6 .5h.6m.3-.1h.6m.7 .1h.6m-.3 0h.6m-.6-.2h.6m-.1 0h.6m-.5 .1h.6m-.2 .1h.6m.3 .1h.6m0-.2h.6m-6.4 .3h.6m-.2 0h.6m.1 0h.6m.2 .2h.6m-.4-.2h.6m.1 .1h.6m-.3-.1h.6m.5 .1h.6m.1 .2h.6m-.2-.2h.6m1 .1h.6m-.2 .1h.6m-.5-.1h.6m-.5 .1h.6m.2-.3h.6m-.2 .3h.6m-8.9 .4h.6m-.3-.1h.6m-.1 0h.6m.9-.1h.6m.5 .1h.6m-.1-.1h.6m-.2 0h.6m-.3-.1h.6m1.9 .2h.6m.8-.2h.6m.7 0h.6m-.3 0h.6m-11.3 .4h.6m-.6 .1h.6m.9 .1h.6m.3-.2h.6m-.5 .1h.6m-.5 .1h.6m0-.2h.6m-.6 .2h.6m-.5-.1h.6m-.2 0h.6m.8 .1h.6m-.1 .1h.6m.8 0h.6m-.2 0h.6m-.1-.2h.6m.6 .2h.6m-10.2 .4h.6m.2-.1h.6m-.5 .1h.6m-.4-.2h.6m-.6 .1h.6m-.2-.2h.6m.1 .1h.6m-.5-.1h.6m-.5 .2h.6m-.5 .1h.6m.6-.1h.6m-.5 .1h.6m-.5 0h.6m-.6 0h.6m.3-.2h.6m.3 .2h.6m-.2-.2h.6m-.5 0h.6m0 .1h.6m.8 0h.6m-10.4 .5h.6m0-.3h.6m.5 0h.6m.5 .1h.6m0 .1h.6m-.3-.2h.6m-.1 .3h.6m-.2-.1h.6m-.5 .1h.6m-.5 0h.6m0-.2h.6m-.4 0h.6m-.4 .1h.6m-.4-.2h.6m-.2 .2h.6m-.4 0h.6m-.4-.1h.6m-.5 0h.6m-.2 .2h.6m-.6-.3h.6m-.3 .1h.6m-.2 .2h.6m.1-.3h.6m-.6 .2h.6m.1-.1h.6m-.5-.1h.6m.2 .1h.6m-10.6 .6h.6m.3 0h.6m1.1-.1h.6m-.4 .1h.6m.2-.3h.6m-.1 0h.6m-.3 .3h.6m-.5 0h.6m-.3-.1h.6m-.4-.1h.6m-.2-.1h.6m-.3 .2h.6m-.4-.1h.6m-.6 .2h.6m-.3-.3h.6m-.2 .1h.6m-.4 0h.6m-.4 0h.6m-.6 0h.6m.2-.1h.6m-.3 0h.6m-.3 .1h.6m4.3 0h.6m-12.5 .6h.6m-.2-.2h.6m-.3-.1h.6m1.2 .1h.6m-.3 .2h.6m-.1-.3h.6m-.4 .2h.6m-.4-.2h.6m-.3 .3h.6m-.6 0h.6m-.3 0h.6m-.5 0h.6m-.4-.2h.6m-.5 .2h.6m-.5-.1h.6m-.2 .1h.6m.1-.3h.6m-.2 .3h.6m.1-.3h.6m.2 .2h.6m-.3-.1h.6m.1-.1h.6m.9 0h.6m-13.8 .6h.6m1.8 .1h.6m.1-.3h.6m-.1 .2h.6m-.3 .1h.6m.6 0h.6m-.3-.1h.6m-.5-.2h.6m-.3 0h.6m-.5 .2h.6m-.3 .1h.6m-.6-.1h.6m-.5-.1h.6m-.3 .1h.6m-.4-.2h.6m-.6 0h.6m-.4 .2h.6m-.6 0h.6m-.4-.1h.6m-.5 .2h.6m-.4 0h.6m-.4-.3h.6m-.3 .3h.6m-.1-.1h.6m-.5 .1h.6m.8-.3h.6m-.1 0h.6m-.6 .1h.6m-.5 .2h.6m-.2-.3h.6m-.5 .3h.6m-11.3 .1h.6m-.5 0h.6m1.8 .3h.6m-.3 0h.6m-.4-.2h.6m-.3 .2h.6m-.4-.1h.6m-.5 .1h.6m.7-.1h.6m-.5-.2h.6m-.4 .2h.6m0 0h.6m.2 0h.6m-.3-.2h.6m-.6 .2h.6m-.2 0h.6m-.3 .1h.6m.2 0h.6m-.5-.1h.6m0-.1h.6m-.4 .2h.6m-.5 0h.6m-.6-.1h.6m-.5-.1h.6m-.3-.1h.6m-.4 .2h.6m-.4-.1h.6m0-.1h.6m.2 .1h.6m-12 .4h.6m.1 0h.6m.5-.1h.6m-.4 .1h.6m-.4 0h.6m.1-.1h.6m-.5 .3h.6m-.5-.2h.6m-.2 0h.6m-.4 .2h.6m-.6-.2h.6m-.5 .1h.6m-.4 0h.6m-.2 0h.6m-.3-.1h.6m-.5 .1h.6m.3-.2h.6m-.5 0h.6m-.6 .1h.6m-.4-.1h.6m-.5 .3h.6m-.6-.3h.6m-.5 .3h.6m-.2-.1h.6m-.1-.1h.6m-.6 0h.6m-.6-.1h.6m-.2 0h.6m1 .3h.6m.1-.2h.6m-.5-.1h.6m-.3 .3h.6m-.3-.2h.6m-.1 0h.6m-.3 0h.6m.6 .1h.6m-11.1 .3h.6m.1-.1h.6m-.1 .2h.6m-.3-.1h.6m-.6 0h.6m-.5-.1h.6m-.5 0h.6m-.4 .2h.6m-.4-.2h.6m-.3 .2h.6m-.2-.2h.6m-.6 .1h.6m-.2 0h.6m-.6-.1h.6m-.1 .1h.6m-.5 0h.6m-.4 .1h.6m-.5 0h.6m-.5-.2h.6m-.6 0h.6m-.5 .3h.6m-.3-.2h.6m-.6 .2h.6m-.1-.2h.6m-.3-.1h.6m-.6 0h.6m-.1 .2h.6m-.3 0h.6m-.5-.1h.6m-.6 .1h.6m-.5 0h.6m-.4 .1h.6m-.5-.2h.6m-.3 .1h.6m-.2-.1h.6m.2 .1h.6m-.6 .1h.6m-10.1 .2h.6m.5 .2h.6m-.5-.3h.6m.5 .1h.6m-.5 0h.6m-.5 .2h.6m-.5-.2h.6m-.1-.1h.6m-.4 0h.6m-.4 .2h.6m-.6-.1h.6m-.3-.1h.6m-.3 0h.6m-.5 .1h.6m.2 .2h.6m-.4 0h.6m-.4-.1h.6m-.6-.2h.6m-.5 .1h.6m-.5-.1h.6m-.3 .3h.6m-.6 0h.6m-.6 0h.6m-.5-.2h.6m-.4 .2h.6m-.5-.2h.6m-.2 0h.6m-.5 .2h.6m0 0h.6m.5-.3h.6m-.2 .1h.6m-.5-.1h.6m.3 .1h.6m-.3-.1h.6m-.3 .1h.6m-12 .4h.6m-.4 .2h.6m-.4-.1h.6m.7-.1h.6m.2 .1h.6m-.4-.1h.6m-.2-.1h.6m-.5 0h.6m-.3 0h.6m-.5 .2h.6m.4 0h.6m0-.2h.6m-.5 .3h.6m-.3-.2h.6m-.6-.1h.6m-.4 0h.6m-.4 0h.6m-.6 .3h.6m-.6-.1h.6m-.4-.1h.6m-.6 .1h.6m-.2-.2h.6m-.5 .3h.6m-.5-.3h.6m-.5 .2h.6m-.5-.2h.6m-.6 0h.6m-.2 0h.6m-.6 .2h.6m-.6 .1h.6m-.6 0h.6m-.5 0h.6m-.5-.2h.6m-.5 .1h.6m-.5-.2h.6m.3 .3h.6m-.4-.1h.6m-.5 .1h.6m-.2 0h.6m-.6-.3h.6m-.1 .3h.6m-.6 0h.6m-.5-.1h.6m-.5 .1h.6m-.6-.3h.6m.1 .2h.6m-.4-.1h.6m-.1 0h.6m-.1 .2h.6m.1 0h.6m-13.8 .1h.6m.4 .2h.6m.5-.2h.6m-.2 .1h.6m-.4 .1h.6m-.6 .1h.6m-.4 0h.6m-.5-.1h.6m-.3 0h.6m-.6-.1h.6m-.5 .1h.6m.3-.2h.6m-.5 .3h.6m-.6-.1h.6m0 .1h.6m-.3-.3h.6m-.6 .2h.6m-.6 .1h.6m-.6-.3h.6m-.5 .1h.6m-.6 .2h.6m-.3-.1h.6m-.3 .1h.6m-.4-.2h.6m-.6 0h.6m-.6 .2h.6m-.5-.3h.6m-.5 0h.6m-.6 .1h.6m-.6 .2h.6m-.5-.3h.6m-.5 .2h.6m-.5 .1h.6m-.6-.3h.6m-.5 .2h.6m-.6-.2h.6m-.5 .3h.6m-.4-.2h.6m-.4 .1h.6m-.2-.2h.6m-.4 .1h.6m-.4 .1h.6m-.4-.1h.6m-.4-.1h.6m-.3 .2h.6m-.6 0h.6m-.6 .1h.6m-.4-.3h.6m-.2 .3h.6m-.3-.2h.6m-.5 0h.6m-.6 .1h.6m-.3-.1h.6m-.6 0h.6m-.4 0h.6m.2-.1h.6m-.2 0h.6m-.4 .1h.6m.2 .1h.6m-.4 .1h.6m-13 .1h.6m-.3 0h.6m.2 .3h.6m0 0h.6m-.4 0h.6m-.2-.3h.6m-.5 .3h.6m-.5 0h.6m-.4-.1h.6m-.5-.2h.6m-.6 .3h.6m-.6-.3h.6m-.4 .1h.6m-.5 0h.6m-.6-.1h.6m-.3 0h.6m-.5 .1h.6m-.1 .2h.6m-.5-.1h.6m-.2-.1h.6m-.6 0h.6m-.5 .2h.6m-.5 0h.6m-.4-.2h.6m-.5-.1h.6m-.5 .2h.6m-.6 .1h.6m-.5-.3h.6m-.5 .1h.6m-.4 .2h.6m-.6 0h.6m-.3-.3h.6m-.6 .1h.6m-.4 .1h.6m-.5-.2h.6m-.2 .3h.6m.1 0h.6m-.4 0h.6m-.6-.3h.6m-.4 .2h.6m-.5 .1h.6m-.5-.2h.6m-.6 0h.6m-.5 .2h.6m-.3-.2h.6m-.3-.1h.6m-.4 .1h.6m.4-.1h.6m-.6 .3h.6m-.1 0h.6m.1-.3h.6m-12.3 .5h.6m.3 0h.6m.2 .2h.6m-.6-.2h.6m-.1 .2h.6m-.5 0h.6m-.5-.1h.6m-.4-.1h.6m.2-.1h.6m-.3 .1h.6m-.6 .1h.6m-.6 0h.6m-.4-.1h.6m.1 0h.6m-.6-.1h.6m-.5 .3h.6m-.6-.3h.6m-.4 .3h.6m-.6 0h.6m-.1-.2h.6m-.6 .2h.6m-.5 0h.6m-.6-.1h.6m-.6-.2h.6m-.5 0h.6m-.5 .3h.6m-.5-.2h.6m-.2 .1h.6m-.4-.1h.6m-.6 .2h.6m-.5-.2h.6m-.6 .2h.6m-.5-.3h.6m-.6 .1h.6m-.6 .1h.6m-.5 .1h.6m-.4-.3h.6m-.5 .2h.6m-.6-.1h.6m-.6 0h.6m-.5 0h.6m-.6 .1h.6m-.5-.1h.6m-.3 .2h.6m-.6-.3h.6m-.4 0h.6m-.4 .1h.6m-.5 .2h.6m-.6-.3h.6m-.6 0h.6m-.4 0h.6m-.5 .1h.6m-.5 .2h.6m-.5-.2h.6m-.3 .1h.6m-.5-.2h.6m-.5 .3h.6m-.5 0h.6m-.4-.2h.6m-.6 0h.6m-.5 0h.6m-.5 0h.6m-.6 .1h.6m-.5-.1h.6m-.4 0h.6m-.5-.1h.6m-.6 .1h.6m-.4 .1h.6m-.4-.2h.6m-.3 .2h.6m-.5-.1h.6m-.5 0h.6m.1 .2h.6m-.6-.2h.6m-.1 .1h.6m1.1 0h.6m.2 0h.6m-15.4 .3h.6m.1 0h.6m-.6 .2h.6m-.6 0h.6m-.2-.1h.6m-.6-.1h.6m0-.1h.6m-.2 .2h.6m-.6 .1h.6m-.3-.1h.6m.1 .1h.6m0-.1h.6m-.4-.2h.6m-.5 0h.6m-.6 .3h.6m-.5-.2h.6m-.5 .1h.6m-.5-.2h.6m-.2 0h.6m-.5 .2h.6m-.6-.2h.6m-.5 .2h.6m-.6-.1h.6m-.6 0h.6m-.3 .2h.6m-.6-.2h.6m-.5 .1h.6m-.6-.1h.6m-.6 .2h.6m-.6 0h.6m-.4 0h.6m-.6-.2h.6m-.4 .1h.6m-.6 0h.6m-.5 0h.6m-.4-.1h.6m-.6 0h.6m-.5-.1h.6m-.5 0h.6m-.3 .2h.6m-.4 0h.6m-.5 0h.6m-.3 .1h.6m-.4 0h.6m-.5 0h.6m-.6 0h.6m-.6-.1h.6m-.3 0h.6m-.5-.2h.6m-.6 .3h.6m-.6-.3h.6m-.5 0h.6m-.6 .1h.6m-.6 0h.6m-.6 .1h.6m-.6-.2h.6m-.6 .2h.6m-.5 0h.6m-.4 .1h.6m-.5-.1h.6m-.5 0h.6m-.6-.1h.6m-.6 .2h.6m-.5 0h.6m-.5-.3h.6m-.6 .2h.6m-.5 0h.6m-.1-.2h.6m-.6 0h.6m-.4 .3h.6m-.6-.3h.6m-.6 0h.6m-.5 .1h.6m-.4 .1h.6m-.6-.2h.6m-.4 .2h.6m0 0h.6m-.5-.2h.6m-.3 0h.6m1 .3h.6m.2-.2h.6m1.2-.1h.6m-14.7 .7h.6m.1-.3h.6m-.2 .1h.6m-.4-.1h.6m.4 .3h.6m-.5-.1h.6m-.6 0h.6m-.3-.1h.6m-.5 .2h.6m-.2-.1h.6m-.5 0h.6m-.3-.2h.6m-.5 0h.6m-.5 .3h.6m-.5 0h.6m-.4-.2h.6m-.5 0h.6m-.5 0h.6m-.6 .2h.6m-.4-.3h.6m-.6 .1h.6m-.5 .2h.6m-.5-.1h.6m-.6-.1h.6m-.5 .2h.6m-.5-.2h.6m-.5-.1h.6m-.5 .1h.6m-.5 .2h.6m-.6 0h.6m-.5 0h.6m-.6-.2h.6m-.6 0h.6m-.3-.1h.6m-.6 0h.6m-.3 .1h.6m-.6 .2h.6m-.6 0h.6m-.5-.1h.6m-.6 .1h.6m-.6-.1h.6m-.5 0h.6m-.6 .1h.6m-.5 0h.6m-.6-.3h.6m-.4 .2h.6m-.5 .1h.6m-.6-.3h.6m-.6 .3h.6m-.5-.2h.6m-.5 .1h.6m-.4 .1h.6m-.3 0h.6m-.5 0h.6m-.5-.1h.6m-.5-.2h.6m-.6 .2h.6m-.3 .1h.6m-.6 0h.6m-.5-.2h.6m-.5 0h.6m-.5 .2h.6m-.6-.3h.6m-.6 0h.6m-.5 .2h.6m-.2 .1h.6m-.5 0h.6m-.5-.2h.6m-.5-.1h.6m-.6 0h.6m-.5 .2h.6m-.5 .1h.6m-.5-.1h.6m-.5-.2h.6m-.4 0h.6m-.6 .2h.6m.2 .1h.6m-.4-.3h.6m-.2 .3h.6m-.2 0h.6m-14.1 .1h.6m-.2 .1h.6m2.1 0h.6m.9 .1h.6m-.5 .1h.6m-.3-.1h.6m-.2-.1h.6m-.5-.1h.6m-.5 .3h.6m-.5-.2h.6m-.5 0h.6m-.6 .2h.6m-.1-.1h.6m-.6-.2h.6m-.5 .1h.6m-.5 0h.6m-.5 .1h.6m-.6 0h.6m-.5-.2h.6m-.5 .1h.6m-.4 .2h.6m-.4-.2h.6m-.6-.1h.6m-.5 .3h.6m-.6-.3h.6m-.5 0h.6m-.4 .2h.6m-.3-.1h.6m-.2-.1h.6m-.6 0h.6m-.5 .2h.6m-.6-.2h.6m-.6 .1h.6m-.5-.1h.6m-.6 .3h.6m-.6-.2h.6m-.4 .1h.6m-.2-.1h.6m-.6 .1h.6m-.5 .1h.6m-.6-.1h.6m-.5 .1h.6m-.5-.2h.6m-.4 .1h.6m-.3-.2h.6m-.6 .2h.6m-.5-.2h.6m-.2 .2h.6m-.4-.1h.6m-.5 0h.6m-.5 .2h.6m-.5 0h.6m-.4 0h.6m-.6 0h.6m-.3-.3h.6m-.5 .3h.6m-.6-.3h.6m-.5 .3h.6m-.6 0h.6m-.5 0h.6m-.5-.1h.6m-.6 .1h.6m.1 0h.6m-.4 0h.6m1.1-.3h.6m-14.7 .7h.6m-.4-.1h.6m2.9 0h.6m-.2-.1h.6m-.3 .2h.6m-.3 0h.6m-.5-.3h.6m-.4 0h.6m-.5 0h.6m-.4 .2h.6m-.6 0h.6m-.6 0h.6m-.1-.1h.6m-.5 .1h.6m-.5 .1h.6m-.4-.3h.6m-.4 .3h.6m-.6-.2h.6m-.4 0h.6m-.6-.1h.6m-.6 0h.6m-.5 .2h.6m-.6-.2h.6m-.5 .2h.6m-.2-.1h.6m-.5 .1h.6m-.4-.1h.6m-.5 0h.6m-.5 .2h.6m-.6-.1h.6m-.4 0h.6m-.5-.2h.6m-.5 .1h.6m-.4 .1h.6m-.4 0h.6m-.5-.1h.6m-.4 .1h.6m-.5-.2h.6m-.6 0h.6m-.3 .3h.6m-.6-.3h.6m-.6 .2h.6m-.3 .1h.6m-.5-.2h.6m-.5 .2h.6m-.5-.1h.6m-.4-.1h.6m-.6 .2h.6m-.5-.3h.6m-.5 .2h.6m-.6 .1h.6m-.4-.2h.6m-.4 0h.6m-.4-.1h.6m.1 .1h.6m-.5 .1h.6m-.5 .1h.6m-.5-.3h.6m-.2 .1h.6m-.2 .1h.6m-.5 0h.6m-.3 .1h.6m-.6-.3h.6m.9 .3h.6m-13.6 .1h.6m.3 0h.6m-.2 0h.6m-.5 .2h.6m-.5-.1h.6m-.2-.1h.6m-.2 .3h.6m-.2-.2h.6m-.3-.1h.6m-.4 .1h.6m-.4 .2h.6m-.5-.2h.6m-.6-.1h.6m-.5 .1h.6m-.6-.1h.6m-.6 .3h.6m-.5-.3h.6m-.6 .2h.6m-.3 .1h.6m-.5 0h.6m-.5-.3h.6m-.4 0h.6m-.5 .3h.6m-.2-.2h.6m-.6 .1h.6m-.4-.2h.6m-.6 .2h.6m-.6-.2h.6m-.2 .1h.6m-.6 0h.6m-.6 .2h.6m-.5 0h.6m-.6-.2h.6m-.3 .2h.6m-.5-.3h.6m-.6 .2h.6m-.6 .1h.6m-.5-.3h.6m-.6 .3h.6m-.5 0h.6m-.5-.3h.6m-.5 .1h.6m-.5 .1h.6m-.5-.2h.6m-.4 .3h.6m-.6-.1h.6m-.5-.2h.6m-.6 0h.6m-.5 0h.6m-.6 0h.6m-.4 .2h.6m-.6 .1h.6m-.6 0h.6m-.6-.1h.6m-.5 0h.6m-.6-.1h.6m-.3-.1h.6m-.4 .1h.6m-.5-.1h.6m-.5 0h.6m-.5 .2h.6m-.6-.2h.6m-.5 .2h.6m-.3-.2h.6m-.3 .2h.6m-.4 0h.6m-.3-.1h.6m-.3 0h.6m0 .1h.6m-.5-.2h.6m.1 0h.6m-.1 .2h.6m-.5 .1h.6m.4 0h.6m-.5-.3h.6m-.4 .1h.6m-15.7 .6h.6m.7-.1h.6m-.2-.1h.6m0 .1h.6m-.6-.2h.6m-.2 .3h.6m0-.3h.6m-.1 .3h.6m-.4 0h.6m-.1 0h.6m-.4-.2h.6m-.4 0h.6m-.4-.1h.6m-.6 .1h.6m-.4 0h.6m-.5 .2h.6m-.6 0h.6m-.5-.3h.6m-.5 .2h.6m-.6-.1h.6m-.5 .2h.6m-.5-.3h.6m-.6 0h.6m-.4 0h.6m-.5 .1h.6m-.6-.1h.6m-.6 .1h.6m-.6 .2h.6m-.4 0h.6m-.6-.1h.6m-.6 .1h.6m-.1-.2h.6m-.4 0h.6m-.4-.1h.6m-.6 .3h.6m-.6 0h.6m-.5-.3h.6m-.6 .2h.6m-.6 0h.6m-.6-.2h.6m0 .1h.6m-.6 .2h.6m-.4-.3h.6m-.4 .2h.6m-.6 .1h.6m-.6-.2h.6m-.6 0h.6m-.6 .1h.6m-.5 0h.6m-.6 .1h.6m-.3-.3h.6m-.6 .1h.6m-.5 .2h.6m-.6-.3h.6m-.5 .1h.6m-.6 0h.6m-.4 0h.6m-.5 .1h.6m-.5 0h.6m-.5-.1h.6m-.5 .1h.6m-.4-.1h.6m-.1 0h.6m-.1 .1h.6m-.6-.1h.6m-.5 .1h.6m-.5 .1h.6m-.6-.1h.6m-.5 .1h.6m-.5-.2h.6m-.4 .2h.6m-.6-.2h.6m-.4 0h.6m-.4-.1h.6m-.5 0h.6m-.6 .2h.6m-.4-.1h.6m-.6 0h.6m-.6 0h.6m-.5 .2h.6m-.5-.2h.6m-.5 .2h.6m-.3-.2h.6m-.5 0h.6m-.6-.1h.6m-.6 0h.6m-.1 .1h.6m.7 .1h.6m-.3-.2h.6m-14.6 .5h.6m1 .2h.6m.9 0h.6m-.4-.3h.6m-.3 .2h.6m-.2-.1h.6m-.6 0h.6m-.4 .1h.6m-.3-.2h.6m-.1 .1h.6m-.5 .1h.6m-.3-.2h.6m-.5 .2h.6m-.5 .1h.6m-.6-.2h.6m-.5 .1h.6m-.5 0h.6m-.4-.2h.6m-.6 0h.6m-.6 0h.6m-.4 .3h.6m-.5-.1h.6m-.5 0h.6m-.6-.1h.6m-.4-.1h.6m-.6 .3h.6m-.4-.2h.6m-.6 .1h.6m-.2-.2h.6m-.3 0h.6m-.6 0h.6m-.6 .1h.6m-.6-.1h.6m-.6 .1h.6m-.5 0h.6m-.5 0h.6m-.5 .2h.6m-.5-.2h.6m-.6-.1h.6m-.6 0h.6m-.3 .2h.6m-.5-.1h.6m-.4 .1h.6m-.5-.1h.6m-.6 0h.6m-.6 .2h.6m-.5-.3h.6m-.5 .3h.6m-.5-.3h.6m-.6 .3h.6m-.5 0h.6m-.6-.1h.6m-.6 .1h.6m-.5-.1h.6m-.5-.2h.6m-.5 .1h.6m-.5-.1h.6m-.1 .2h.6m-.4-.2h.6m-.4 .1h.6m-.4 0h.6m-.6 .1h.6m-.4-.2h.6m-.6 .1h.6m-.5 .2h.6m-.4-.1h.6m-.2 .1h.6m.8 0h.6m-.6-.3h.6m-.6 .1h.6m-.5-.1h.6m-.3 .2h.6m.1 .1h.6m-.3-.3h.6m-.6 .2h.6m-13.5 .5h.6m-.4-.3h.6m-.2 .3h.6m-.6-.1h.6m-.6 0h.6m-.2-.1h.6m-.5 .2h.6m-.5-.2h.6m.3-.1h.6m-.5 .1h.6m-.3 0h.6m-.5 .1h.6m-.3 0h.6m-.6 .1h.6m-.6-.1h.6m-.3 .1h.6m-.5-.1h.6m-.5-.1h.6m-.5 .2h.6m-.6 0h.6m-.4 0h.6m-.6-.1h.6m-.4-.1h.6m-.5-.1h.6m-.5 .3h.6m-.6-.1h.6m-.5-.2h.6m-.5 .2h.6m-.5 0h.6m-.4-.1h.6m-.5 .1h.6m-.6-.2h.6m-.4 .1h.6m-.5 .1h.6m-.3 0h.6m-.6-.1h.6m-.5 .2h.6m-.6-.2h.6m-.5 .1h.6m-.2 .1h.6m-.5-.1h.6m-.4 0h.6m-.6 .1h.6m-.5-.3h.6m-.6 .1h.6m-.6 .2h.6m-.5-.1h.6m-.4 .1h.6m-.6-.1h.6m-.5 .1h.6m-.5-.2h.6m-.5-.1h.6m-.4 .1h.6m-.6-.1h.6m-.5 .3h.6m-.5-.3h.6m-.6 .3h.6m-.5-.1h.6m-.4 0h.6m-.6-.1h.6m-.6-.1h.6m-.6 .1h.6m-.5 0h.6m-.6 .2h.6m-.6 0h.6m-.5 0h.6m-.6 0h.6m-.5-.2h.6m-.6 .1h.6m-.6 0h.6m-.3 0h.6m-.5 0h.6m-.6-.2h.6m-.5 .3h.6m-.5 0h.6m-.6-.3h.6m-.5 0h.6m-.5 .2h.6m-.4 0h.6m-.5-.2h.6m-.4 .1h.6m-.5 .1h.6m.1 0h.6m-.5 0h.6m-.6-.2h.6m-.4 .3h.6m-.4-.1h.6m-.6-.1h.6m1.1 .1h.6m-12.6 .5h.6m-.5-.1h.6m.2-.1h.6m-.1-.1h.6m-.2 0h.6m-.5 0h.6m-.4 0h.6m-.6 .1h.6m-.5 0h.6m-.5 0h.6m-.5-.1h.6m-.4 .1h.6m-.4 .2h.6m-.4-.1h.6m-.1 0h.6m-.4-.1h.6m-.6 .2h.6m-.5-.1h.6m-.5 0h.6m-.3 .1h.6m-.5-.1h.6m-.5-.2h.6m-.4 0h.6m-.6 0h.6m-.6 .3h.6m-.5-.2h.6m-.4 0h.6m-.5 .1h.6m-.5-.2h.6m-.6 .3h.6m0 0h.6m-.5-.2h.6m-.5 0h.6m-.6 .1h.6m-.6-.1h.6m-.5-.1h.6m-.6 .2h.6m-.5-.2h.6m-.5 .3h.6m-.5-.1h.6m-.5-.1h.6m-.5 0h.6m-.5 0h.6m-.4-.1h.6m-.5 .1h.6m-.5 .2h.6m-.6-.2h.6m-.6 .1h.6m-.6-.2h.6m-.3 .1h.6m-.6 .2h.6m-.3 0h.6m-.5-.2h.6m-.5-.1h.6m-.5 .1h.6m-.5 .1h.6m-.5-.1h.6m-.6-.1h.6m-.4 .2h.6m-.4-.2h.6m-.3 .1h.6m-.6 .2h.6m-.6-.2h.6m-.6-.1h.6m-.4 .3h.6m-.5 0h.6m-.4-.3h.6m-.2 .2h.6m-.4-.2h.6m-.5 0h.6m-.5 .2h.6m-.4-.2h.6m-.2 .2h.6m-.6-.2h.6m0 .1h.6m-.5 .1h.6m-.2-.1h.6m-.5 0h.6m.8-.1h.6m-15.2 .6h.6m1.1 .1h.6m-.5 0h.6m-.5-.2h.6m-.6 .1h.6m-.3-.2h.6m-.4 .3h.6m-.2-.3h.6m-.3 .3h.6m-.4-.1h.6m-.2 .1h.6m-.4-.2h.6m-.5 .2h.6m-.2-.1h.6m-.6 .1h.6m-.3-.2h.6m-.5 .2h.6m-.2-.3h.6m-.6 .1h.6m-.5 .1h.6m-.6-.2h.6m-.4 0h.6m-.4 0h.6m-.5 .1h.6m-.6 0h.6m-.5 .2h.6m-.6-.3h.6m-.5 .1h.6m-.4-.1h.6m-.5 .2h.6m-.5 .1h.6m-.5 0h.6m-.5-.3h.6m-.1 .2h.6m-.6 .1h.6m-.5-.1h.6m-.5-.2h.6m-.6 0h.6m-.3 .1h.6m-.6 .2h.6m-.6-.3h.6m-.5 0h.6m-.6 .1h.6m-.5 .1h.6m-.6-.1h.6m-.6 .2h.6m-.2-.1h.6m-.6 0h.6m-.2 .1h.6m-.5 0h.6m-.6-.3h.6m-.5 0h.6m-.6 .3h.6m-.4-.2h.6m-.6 .2h.6m-.6-.3h.6m-.4 .1h.6m-.5 .2h.6m-.5-.1h.6m-.6 .1h.6m-.4-.1h.6m-.4 0h.6m-.5-.2h.6m-.6 .2h.6m-.5-.2h.6m-.6 .2h.6m-.4-.2h.6m-.6 .2h.6m-.3 .1h.6m-.6-.2h.6m.1-.1h.6m-.2 .3h.6m-.5-.1h.6m-.1-.1h.6m0-.1h.6m-.2 .1h.6m-.6 .1h.6m-.5-.2h.6m.8 .3h.6m-13.1 .3h.6m-.6 .1h.6m-.6 0h.6m-.2-.3h.6m-.5 .2h.6m-.3-.1h.6m-.5 0h.6m-.4 0h.6m-.4-.1h.6m-.6 .3h.6m-.5-.3h.6m-.5 .2h.6m-.5-.2h.6m-.1 0h.6m-.5 0h.6m-.3 0h.6m-.5 .2h.6m-.2-.1h.6m-.6 0h.6m-.6 .1h.6m-.6 0h.6m-.6 .1h.6m-.5-.3h.6m-.6 0h.6m-.5 .1h.6m-.5 .2h.6m-.6-.2h.6m-.5 0h.6m-.4 .2h.6m-.6 0h.6m-.6 0h.6m-.5-.2h.6m-.6 0h.6m-.5 .2h.6m-.6-.1h.6m-.3 0h.6m-.4-.2h.6m-.2 .1h.6m-.6 .2h.6m-.6 0h.6m-.6 0h.6m-.5-.1h.6m-.6-.2h.6m-.6 0h.6m-.6 .2h.6m-.5 .1h.6m-.6-.3h.6m-.6 .3h.6m-.6 0h.6m-.5-.3h.6m-.4 .2h.6m-.5-.2h.6m-.6 .2h.6m-.5-.1h.6m-.4 .1h.6m-.6 0h.6m-.5-.1h.6m-.5 0h.6m-.6 .1h.6m-.5-.1h.6m-.6-.1h.6m-.6 .1h.6m-.1 0h.6m-.5 .2h.6m-.6-.1h.6m-.5 0h.6m-.6-.2h.6m-.6 .3h.6m-.5 0h.6m-.6-.1h.6m-.5 .1h.6m-.6-.1h.6m-.6 .1h.6m-.4 0h.6m-.5 0h.6m-.6-.2h.6m-.6 0h.6m-.5 .1h.6m-.1-.2h.6m-.4 .2h.6m-.4 .1h.6m-.6 0h.6m-.5 0h.6m-.5-.3h.6m-.4 .2h.6m-.4 0h.6m-.5-.2h.6m-.3 .2h.6m-.6-.2h.6m-.4 .2h.6m-.3-.2h.6m-.4 .1h.6m-.4 .2h.6m-.4 0h.6m-.2 0h.6m-.3-.3h.6m0 0h.6m-11.2 .7h.6m-.1-.2h.6m-.5-.1h.6m-.4 .2h.6m-.5-.1h.6m-.5 .2h.6m-.4-.1h.6m-.5-.1h.6m-.5 0h.6m-.5 0h.6m-.6 .1h.6m-.5-.1h.6m-.6-.1h.6m-.4 .2h.6m-.4-.1h.6m-.4 0h.6m-.4 .2h.6m-.6-.1h.6m-.5 0h.6m-.6 0h.6m-.5 .1h.6m-.5 0h.6m-.4-.1h.6m-.5 0h.6m-.5 .1h.6m-.5-.1h.6m-.5-.2h.6m-.6 .2h.6m-.4 .1h.6m-.6-.3h.6m-.6 .2h.6m-.2 0h.6m-.5 .1h.6m-.4-.3h.6m-.6 .3h.6m-.6 0h.6m-.6-.3h.6m-.5 0h.6m-.6 .3h.6m-.5-.3h.6m-.4 .3h.6m-.3 0h.6m-.6 0h.6m-.5-.2h.6m-.6 .1h.6m-.6 0h.6m-.6 0h.6m-.6-.1h.6m-.6-.1h.6m-.5 .3h.6m-.3 0h.6m-.5-.2h.6m-.5 0h.6m-.6 .2h.6m-.5 0h.6m-.6-.3h.6m-.5 .2h.6m-.4-.2h.6m-.5 .1h.6m-.6 .2h.6m-.5-.1h.6m-.6 .1h.6m-.2-.2h.6m-.6 .2h.6m-.4-.1h.6m-.5 .1h.6m-.4-.3h.6m-.5 .2h.6m-.6-.1h.6m-.4 .2h.6m-.6-.2h.6m-.4 .1h.6m-.4-.1h.6m0 0h.6m0 0h.6m-.1 .2h.6m.3-.3h.6m-13.6 .5h.6m.2 .2h.6m-.5-.1h.6m.3 .1h.6m-.4-.3h.6m.3 .3h.6m-.5 0h.6m-.3-.3h.6m-.4 .1h.6m-.6 .1h.6m-.2 0h.6m-.6-.1h.6m-.4 0h.6m-.6 .2h.6m-.6-.2h.6m-.5 0h.6m-.5 0h.6m-.5 .1h.6m-.4-.2h.6m-.5 .3h.6m-.5 0h.6m-.2 0h.6m-.6-.3h.6m-.6 .2h.6m-.3 0h.6m-.2-.2h.6m-.6 .2h.6m-.5 .1h.6m-.4-.2h.6m-.4 0h.6m-.5 .1h.6m-.5 0h.6m-.5 0h.6m-.6-.2h.6m-.6 0h.6m-.5 .3h.6m-.6-.3h.6m-.5 0h.6m-.6 .2h.6m-.6 .1h.6m-.5-.2h.6m-.4 .1h.6m-.5-.1h.6m-.5 .1h.6m-.6-.2h.6m-.5 .2h.6m-.2-.2h.6m-.5 .2h.6m-.6-.2h.6m-.5 0h.6m-.5 0h.6m-.5 0h.6m-.5 .3h.6m-.5-.1h.6m-.4-.1h.6m-.5-.1h.6m-.6 .2h.6m-.5 0h.6m-.6-.1h.6m-.5 .1h.6m-.5 .1h.6m-.6-.1h.6m-.1 .1h.6m-.3 0h.6m-.6-.3h.6m-.5 .1h.6m-.6 .2h.6m-.6-.2h.6m-.4-.1h.6m-.2 .3h.6m-.1-.2h.6m-.1 0h.6m-.6 .2h.6m-.4 0h.6m.1 0h.6m1.3 0h.6m-.5 0h.6m-.6-.1h.6m.4-.2h.6m-15.5 .4h.6m.5 .1h.6m-.2-.1h.6m.1 0h.6m-.4 0h.6m-.3 .3h.6m-.5-.3h.6m-.3 0h.6m-.5 .3h.6m-.6-.2h.6m-.4 .1h.6m-.4 .1h.6m-.6 0h.6m-.6-.2h.6m-.5 .2h.6m-.5-.3h.6m-.6 .2h.6m-.6-.2h.6m-.5 .1h.6m-.5 .2h.6m-.5 0h.6m-.3-.1h.6m-.5 0h.6m-.6 0h.6m-.1 .1h.6m-.5 0h.6m-.5-.3h.6m-.5 .3h.6m-.6-.2h.6m-.6 .1h.6m-.5 .1h.6m-.6-.1h.6m-.5-.1h.6m-.4 .2h.6m-.5-.3h.6m-.4 .3h.6m-.6 0h.6m-.6-.1h.6m-.6-.1h.6m-.6 .1h.6m-.6-.1h.6m-.5-.1h.6m-.6 .2h.6m-.6 .1h.6m-.6 0h.6m-.6-.1h.6m-.4-.2h.6m-.5 .3h.6m-.6-.1h.6m-.4 .1h.6m-.4-.2h.6m-.6-.1h.6m-.5 .2h.6m-.5 .1h.6m-.5-.3h.6m-.6 .2h.6m-.6 .1h.6m-.6-.2h.6m-.3-.1h.6m-.6 0h.6m-.5 .3h.6m-.5 0h.6m-.4-.1h.6m-.5 .1h.6m-.6-.2h.6m-.5 .1h.6m-.6 .1h.6m-.5-.2h.6m-.5-.1h.6m-.3 .1h.6m-.5 0h.6m-.2-.1h.6m-.4 0h.6m-.3 .2h.6m-.3-.1h.6m-.4 .2h.6m-.5-.1h.6m-12 .5h.6m.1-.1h.6m-.6-.2h.6m-.4 .3h.6m-.5-.3h.6m.9 0h.6m.3 .3h.6m-.5-.1h.6m-.4-.2h.6m-.5 .1h.6m-.5 .2h.6m-.6-.1h.6m-.5 .1h.6m-.6 0h.6m-.6-.2h.6m-.3 0h.6m-.6 .1h.6m-.5 0h.6m-.4-.1h.6m-.5-.1h.6m-.2 .2h.6m-.5-.2h.6m-.4 .2h.6m-.4-.2h.6m-.5 .3h.6m-.4-.3h.6m-.6 .3h.6m-.5-.1h.6m-.4 0h.6m-.5-.2h.6m-.5 0h.6m-.4 .1h.6m-.6 .1h.6m-.5 0h.6m-.5-.1h.6m-.2-.1h.6m-.6 0h.6m-.6 .2h.6m-.6 0h.6m-.3 0h.6m-.6 .1h.6m-.5-.2h.6m-.5-.1h.6m-.4 0h.6m-.6 .2h.6m-.4-.2h.6m-.4 0h.6m-.6 .3h.6m-.5-.1h.6m-.6 0h.6m-.2 0h.6m-.5 0h.6m-.4-.2h.6m-.6 .2h.6m-.5-.2h.6m-.6 0h.6m-.6 .2h.6m-.4 0h.6m-.6-.1h.6m-.6-.1h.6m-.5 .1h.6m-.2-.1h.6m-.3 .2h.6m-.5-.2h.6m-.6 0h.6m-.5 .3h.6m-.4-.3h.6m-.4 0h.6m-.6 .2h.6m-.2 0h.6m-.6 .1h.6m-.5-.1h.6m-.4-.1h.6m.2 0h.6m-13.1 .3h.6m.5 .1h.6m0 .1h.6m-.5 .1h.6m-.1-.2h.6m-.5-.1h.6m-.6 0h.6m.3 .2h.6m-.6 .1h.6m-.5 0h.6m-.1-.2h.6m-.6 .1h.6m-.5 .1h.6m-.6-.1h.6m-.5-.1h.6m-.5 0h.6m-.5-.1h.6m-.2 .2h.6m-.5 0h.6m-.5 0h.6m-.2 .1h.6m-.4-.2h.6m-.4 .2h.6m-.6-.1h.6m-.4 0h.6m-.6 .1h.6m-.5 0h.6m-.5-.2h.6m-.5 0h.6m-.6 0h.6m-.5 0h.6m-.4 0h.6m-.4 .1h.6m-.3 .1h.6m-.3-.3h.6m-.6 0h.6m-.6 .2h.6m-.6-.2h.6m-.5 .2h.6m-.5-.2h.6m-.5 .1h.6m-.6-.1h.6m-.5 .1h.6m-.5 .2h.6m-.5-.3h.6m-.5 .1h.6m-.4 .1h.6m-.3-.2h.6m-.6 .2h.6m-.6 .1h.6m-.2-.2h.6m-.5 0h.6m-.5 .2h.6m-.6-.2h.6m-.5 0h.6m-.6 0h.6m-.5 .2h.6m-.3-.2h.6m-.3 0h.6m-.6 .1h.6m-.5-.1h.6m-.6 0h.6m-.5 0h.6m-.4-.1h.6m-.4 .1h.6m-.1-.1h.6m-.4 0h.6m-.5 .2h.6m-.6-.2h.6m-.5 0h.6m-.5 0h.6m-.3 .2h.6m-.5 .1h.6m-.1 0h.6m-.4 0h.6m.5-.1h.6m-14.5 .3h.6m0 .1h.6m.8 0h.6m-.5-.1h.6m-.6 .2h.6m.3 0h.6m-.4 0h.6m-.2-.1h.6m-.2 .1h.6m-.6-.3h.6m-.6 .2h.6m-.2 .1h.6m0-.1h.6m-.4-.2h.6m-.5 .1h.6m-.4 .1h.6m-.6-.2h.6m-.3 .1h.6m-.6 .1h.6m-.6 0h.6m-.5 .1h.6m-.5-.3h.6m-.5 0h.6m-.5 .2h.6m-.4-.2h.6m-.5 .3h.6m-.4 0h.6m-.4-.2h.6m-.4 .1h.6m-.5 0h.6m-.6 .1h.6m-.5-.2h.6m-.6 .2h.6m-.6-.2h.6m-.5 0h.6m-.5 .1h.6m-.6 0h.6m-.1-.1h.6m-.4 .2h.6m-.6-.1h.6m-.4 0h.6m-.3-.2h.6m-.5 .2h.6m-.6 0h.6m-.4-.2h.6m-.4 .2h.6m-.5-.1h.6m-.4 .2h.6m-.4-.3h.6m-.4 .1h.6m-.4 .1h.6m-.5 0h.6m-.5-.1h.6m-.6 0h.6m-.5 0h.6m-.5-.1h.6m-.2 0h.6m.7 .3h.6m-.3-.2h.6m-.6-.1h.6m-.4 .3h.6m-.5 0h.6m-.1-.1h.6m-.3 .1h.6m-.3 0h.6m-13.2 .2h.6m-.6 .1h.6m-.2 .1h.6m-.3-.2h.6m-.1 0h.6m.3 0h.6m-.2 .1h.6m-.1 .1h.6m-.6 0h.6m-.3-.3h.6m-.2 0h.6m-.4 .2h.6m-.5-.2h.6m-.6 0h.6m-.3 .2h.6m-.5-.1h.6m-.4 .1h.6m-.6-.1h.6m-.4-.1h.6m-.5 0h.6m-.6 .1h.6m-.1 0h.6m-.5 .2h.6m-.5-.3h.6m-.6 .1h.6m-.6-.1h.6m-.6 0h.6m-.2 0h.6m-.6 .1h.6m-.5 .2h.6m-.6-.3h.6m-.6 .2h.6m-.4 .1h.6m-.6-.1h.6m-.5-.1h.6m-.6-.1h.6m-.4 .1h.6m0 .1h.6m-.6-.2h.6m-.5 .2h.6m-.6-.1h.6m-.2 0h.6m-.5-.1h.6m-.5 .2h.6m-.4-.1h.6m-.5 .2h.6m-.3-.2h.6m-.5 .1h.6m0-.2h.6m1 0h.6m0 .3h.6m0 0h.6m-.5-.1h.6m-.4 0h.6m-13.2 .3h.6m0-.1h.6m.7 .3h.6m-.2-.3h.6m-.4 .3h.6m0-.1h.6m-.5-.2h.6m-.5 .3h.6m-.4-.3h.6m-.1 .3h.6m-.5-.3h.6m-.3 0h.6m-.4 .1h.6m-.1 .1h.6m-.5-.2h.6m-.6 .1h.6m-.2 0h.6m-.5 0h.6m-.5 .1h.6m-.6-.1h.6m-.5 .2h.6m-.6-.1h.6m-.5-.2h.6m-.6 .1h.6m-.5 .2h.6m-.3-.1h.6m-.5-.1h.6m-.4-.1h.6m-.2 0h.6m-.4 .2h.6m-.4-.2h.6m-.4 .2h.6m-.5 0h.6m-.6 .1h.6m-.4-.1h.6m-.5-.1h.6m-.5-.1h.6m-.5 0h.6m-.3 .2h.6m-.5 0h.6m-.4 .1h.6m-.6-.1h.6m-.5 .1h.6m-.3-.2h.6m-.4 0h.6m-.5 0h.6m-.5 .1h.6m-.3-.1h.6m0 .2h.6m0-.1h.6m.3-.1h.6m.2-.1h.6m-13.7 .6h.6m.3-.1h.6m-.4-.1h.6m.1 0h.6m-.2 0h.6m-.6 .1h.6m-.6-.1h.6m-.2 .3h.6m0 0h.6m-.5-.1h.6m0-.1h.6m-.6-.1h.6m-.6 0h.6m-.5 .2h.6m-.3-.1h.6m-.6-.1h.6m-.4 .2h.6m-.3 0h.6m-.6-.1h.6m-.4 .1h.6m-.5 .1h.6m-.3 0h.6m-.6-.2h.6m-.6-.1h.6m-.6 .2h.6m-.5 .1h.6m-.3-.3h.6m-.6 .2h.6m-.6 0h.6m-.5-.1h.6m-.6-.1h.6m-.4 .1h.6m-.5 .2h.6m-.4-.3h.6m-.4 0h.6m-.5 .3h.6m-.5 0h.6m-.1-.2h.6m-.5 .2h.6m.2 0h.6m-.5 0h.6m-.3-.1h.6m-.1 .1h.6m-.2-.2h.6m-.4 0h.6m-.2 .1h.6m-.1-.1h.6m-.5-.1h.6m.1 0h.6m-.5 .1h.6m-.4 0h.6m-12.2 .4h.6m.7 .2h.6m-.3-.3h.6m-.2 .2h.6m.1-.2h.6m-.6 .2h.6m-.4-.2h.6m-.5 .3h.6m-.5-.2h.6m-.5-.1h.6m-.2 0h.6m-.2 .2h.6m-.5 .1h.6m-.6-.2h.6m-.5 .1h.6m-.5 0h.6m-.6-.2h.6m-.4 .3h.6m-.5-.2h.6m-.5-.1h.6m-.4 .3h.6m-.4-.2h.6m-.6-.1h.6m-.5 .2h.6m-.6-.1h.6m-.6 .1h.6m-.4-.1h.6m-.5 .2h.6m-.6-.2h.6m-.6 .1h.6m-.5-.2h.6m-.5 0h.6m-.6 .2h.6m-.5-.2h.6m-.5 0h.6m-.5 .2h.6m-.5 0h.6m-.6-.1h.6m-.5 0h.6m-.5-.1h.6m-.2 0h.6m-.3 .3h.6m-.4-.2h.6m-.4 .2h.6m-.6 0h.6m-.6-.1h.6m-.5 0h.6m-.6-.2h.6m-.6 .1h.6m-.5 .2h.6m-.5-.2h.6m-.5-.1h.6m0 .3h.6m-.5-.2h.6m-.4 .2h.6m-.3-.3h.6m0 0h.6m-.5 .3h.6m-.3-.1h.6m-.6 0h.6m-.6-.1h.6m-.5-.1h.6m-.5 .1h.6m-.4 .1h.6m.1-.2h.6m-.2 .2h.6m.2 0h.6m-.1 .1h.6m-.6-.2h.6m-13.6 .5h.6m-.2-.2h.6m.5 .3h.6m-.4 0h.6m.1-.2h.6m.1 0h.6m0 .1h.6m-.6 .1h.6m-.4-.2h.6m-.6 .1h.6m-.5 .1h.6m-.6-.3h.6m-.6 .3h.6m-.3-.3h.6m-.5 .1h.6m-.6 .1h.6m-.6-.1h.6m-.4 .2h.6m-.5-.3h.6m-.6 .2h.6m-.5 .1h.6m-.3-.1h.6m-.4 0h.6m-.5 0h.6m-.3 0h.6m-.4 .1h.6m-.5 0h.6m-.5 0h.6m-.5 0h.6m-.3 0h.6m-.5-.3h.6m-.6 .1h.6m-.2 .1h.6m-.5 .1h.6m-.5-.3h.6m-.5 .3h.6m-.5-.1h.6m-.6 0h.6m-.5-.2h.6m-.5 .1h.6m-.5 .2h.6m-.6 0h.6m-.2-.1h.6m-.6-.2h.6m-.6 .2h.6m-.5 0h.6m-.2-.2h.6m-.3 .2h.6m-.3 .1h.6m-.4-.1h.6m-.6 0h.6m-.6-.1h.6m-.5 0h.6m.1 .1h.6m-.4-.2h.6m-.2 0h.6m-.5 .3h.6m-.5-.1h.6m-.4-.1h.6m.1 .1h.6m-.6-.2h.6m-.5 .2h.6m-11.7 .4h.6m.1 0h.6m0-.1h.6m-.4 .1h.6m-.6-.1h.6m0 .2h.6m-.3 0h.6m-.5-.2h.6m-.4-.1h.6m.4 .3h.6m-.4 0h.6m-.5-.1h.6m-.6-.1h.6m-.6 .1h.6m-.3 0h.6m-.2-.2h.6m-.4 .2h.6m-.6-.2h.6m-.4 .2h.6m-.4-.1h.6m-.5 .1h.6m-.6 .1h.6m-.5 0h.6m-.4-.3h.6m-.4 0h.6m-.3 0h.6m-.5 .3h.6m-.6-.1h.6m-.5 .1h.6m-.2-.3h.6m-.6 .3h.6m-.5-.3h.6m-.6 .3h.6m-.5-.2h.6m-.4 0h.6m.2 .1h.6m-.4-.1h.6m-.4-.1h.6m-.4 .1h.6m-.6 0h.6m-.3 .1h.6m-.1 .1h.6m.2 0h.6m-.5-.3h.6m-.2 0h.6m-.6 .1h.6m-.1-.1h.6m-.1 .2h.6m-.1-.2h.6m-.3 0h.6m-13.1 .6h.6m-.5-.2h.6m-.2 0h.6m.3 0h.6m-.1 .1h.6m-.3 .1h.6m0 .1h.6m-.5-.1h.6m-.5 0h.6m-.6-.2h.6m-.6 0h.6m-.5 .1h.6m-.4 .2h.6m-.4-.3h.6m-.4 .2h.6m-.4 0h.6m-.6-.1h.6m-.5-.1h.6m-.3 0h.6m-.6 .1h.6m-.2-.1h.6m-.5 .3h.6m-.5 0h.6m-.2-.2h.6m-.6 .1h.6m-.6-.2h.6m-.5 0h.6m-.5 .1h.6m-.6 .1h.6m-.6 0h.6m-.6-.1h.6m-.4 .2h.6m-.5 0h.6m-.6 0h.6m-.4-.3h.6m-.5 0h.6m-.5 .1h.6m-.1 .1h.6m-.4 0h.6m.1-.2h.6m-.5 0h.6m1.6 .2h.6m1.1-.2h.6m-11.9 .5h.6m-.1-.1h.6m.7 .1h.6m.1 .1h.6m-.5-.2h.6m-.5 .1h.6m-.6 .2h.6m-.5-.2h.6m-.4-.1h.6m-.5 .2h.6m-.2 0h.6m-.6 0h.6m-.4-.1h.6m-.4 .2h.6m-.4-.1h.6m-.6 .1h.6m-.4-.3h.6m-.5 0h.6m0 .2h.6m-.1-.1h.6m-.6 .2h.6m0-.3h.6m-.5 .2h.6m-.3-.1h.6m-.3 .2h.6m-.4-.1h.6m.1 .1h.6m-.2-.3h.6m-.6 .1h.6m-.6 .1h.6m-.4 0h.6m-.6-.2h.6m-.5 .2h.6m-.1 0h.6m-.4-.2h.6m-.2 0h.6m-.1 .3h.6m-11 .4h.6m-.4-.2h.6m1.9 .1h.6m-.4-.1h.6m-.4 .2h.6m-.4-.2h.6m-.5-.1h.6m-.3 0h.6m-.1 .2h.6m-.6 0h.6m-.4 .1h.6m.4-.3h.6m0 .1h.6m-.6 0h.6m-.5-.1h.6m0 .1h.6m-.5 .1h.6m-.4-.2h.6m-.3 .2h.6m-.5-.1h.6m-.1 .2h.6m-.3-.3h.6m-.2 .3h.6m-.3 0h.6m-.3-.1h.6m-.4 .1h.6m-.2 0h.6m-.5 0h.6m.6 0h.6m-.2-.1h.6m-11.7 .5h.6m1.3 0h.6m-.5-.3h.6m-.5 .3h.6m.3 0h.6m-.5-.1h.6m-.5-.2h.6m-.3 0h.6m-.4 .2h.6m0 .1h.6m-.2 0h.6m-.6-.2h.6m-.2 .2h.6m-.5-.2h.6m-.5 .2h.6m-.6-.1h.6m.1-.1h.6m-.5 .2h.6m-.5-.1h.6m-.3-.1h.6m-.3 .1h.6m-.6-.2h.6m.1 .2h.6m-.1-.2h.6m.1 .1h.6m.7-.1h.6m-10.5 .4h.6m.1 .1h.6m-.5 .2h.6m-.5-.3h.6m.5 .1h.6m-.5 0h.6m-.5 .1h.6m-.5-.1h.6m-.3 .2h.6m.2-.1h.6m.6-.1h.6m-.5 .1h.6m-.2 .1h.6m1.5-.2h.6m-.5 0h.6m-.4-.1h.6m.4 .3h.6m-.1-.2h.6m-.6 .2h.6m-.4-.1h.6m-.3-.2h.6m-.1 .1h.6m-9.4 .6h.6m-.1-.1h.6m.2-.2h.6m-.4 0h.6m-.6 0h.6m0 .3h.6m-.1-.3h.6m0 .2h.6m0 0h.6m-.5 0h.6m-.3-.1h.6m-.6 0h.6m.5 .2h.6m-.1-.3h.6m-.5 0h.6m-.2 0h.6m.9 .2h.6m-7.4 .5h.6m-.6 0h.6m-.4-.1h.6m-.1 .1h.6m-.4-.1h.6m-.3 0h.6m.7 .1h.6m-.5-.2h.6m.2 .1h.6m0 .1h.6m-.4-.3h.6m-.6 .1h.6m-.1-.1h.6m-.4 .1h.6m-.4 .1h.6m.4 .1h.6m-.6-.3h.6m.5 0h.6m.1 .3h.6m-.2-.3h.6m-11.6 .4h.6m.4 .3h.6m1-.2h.6m-.6 .1h.6m.1-.1h.6m-.1 .2h.6m.6-.2h.6m-.5 .2h.6m-.1 0h.6m-.5-.3h.6m-.6 0h.6m-.1 .1h.6m-.4 .2h.6m-.5 0h.6m2.1 0h.6m-.4-.1h.6m-6.5 .2h.6m-.5 .1h.6m-.1 0h.6m.1-.1h.6m-.3 .1h.6m-.2 .2h.6m-.3-.3h.6m.9 0h.6m-.4 .1h.6m.2 0h.6m-7.1 .5h.6m-.6-.1h.6m.2-.1h.6m-.5 .2h.6m-.2-.1h.6m-.5 .2h.6m.1-.3h.6m-.3 .1h.6m-.5-.1h.6m-.5 .1h.6m-.2-.1h.6m0 .2h.6m-.6-.2h.6m.2 .1h.6m0-.1h.6m-.5 .2h.6m1.2 .1h.6m-.3-.3h.6m-.4 .2h.6m-.4-.2h.6m-.3 0h.6m-8.2 .6h.6m.2 0h.6m-.2 0h.6m-.3-.2h.6m-.1 .3h.6m-.1-.3h.6m-.5 .1h.6m-.2-.1h.6m-.5 .2h.6m0 0h.6m-4 .2h.6m-.4 .1h.6m-.1 .1h.6m1.8-.2h.6" stroke="#f5660a" stroke-width="0.65" stroke-opacity="0.75" fill="none"/>
<polygon points="451.5,50.6 459.4,40.6 469.4,43 471,52.4 464.9,62.8 454.5,64.6" fill="none" stroke="#e8772a" stroke-width="0.9" stroke-linejoin="round"/>
<text x="472.2" y="43.28" font-size="6.6" text-anchor="start" fill="#f27c35" font-weight="normal" textLength="19.5" lengthAdjust="spacingAndGlyphs" stroke="#f27c35" stroke-width="0.15">CD33+</text>
<path d="M82.5 134.1h.6m-4.4 1.8h.6m.5 .7h.6m1.7 .2h.6m.4 .3h.6m-1.8 .2h.6m-4.2 .5h.6m-.8 .5h.6m3.3 .7h.6m-5.6 .2h.6m4.3 .3h.6m-5 .3h.6m-.3-.2h.6m1.9 .2h.6m.8 .1h.6m-5.8 .3h.6m1.2-.1h.6m1.4 0h.6m-3.6 .5h.6m-.5-.1h.6m-.1 .2h.6m-.3-.1h.6m1.3-.2h.6m.6 0h.6m.5 .3h.6m-.4-.1h.6m-4.9 .4h.6m.3 .1h.6m1.1-.2h.6m-.1-.1h.6m-.5 .3h.6m-.2-.3h.6m-.3 0h.6m-.1 0h.6m-.5 .3h.6m-7.3 .1h.6m0 .1h.6m.5 0h.6m2.7 .1h.6m-.5-.1h.6m-4.4 .4h.6m-.5 0h.6m-.2-.1h.6m.3 .2h.6m.1 .1h.6m.5-.3h.6m-.4 .1h.6m-5.9 .4h.6m.3-.1h.6m.9 .3h.6m.7-.3h.6m-.3 .1h.6m-.4 .1h.6m-.3-.1h.6m-.5 .2h.6m1.9-.2h.6m-7.9 .3h.6m.9 0h.6m1.9 .3h.6m-.2-.1h.6m-.2-.2h.6m-.4 .2h.6m.7-.1h.6m1.7 0h.6m-6.4 .4h.6m.4 .2h.6m1-.3h.6m-2.9 .7h.6m-.4-.1h.6m-.3 0h.6m-.5 .1h.6m-.2-.2h.6m.2 .2h.6m.5-.1h.6m.7-.1h.6m-7.5 .3h.6m-.4 .3h.6m.2-.3h.6m0 .3h.6m-.6-.3h.6m.1 .3h.6m0-.2h.6m-.4 .1h.6m-.4-.1h.6m-.2 .2h.6m-.5-.3h.6m-.2 .2h.6m-5.5 .5h.6m-.5 0h.6m0-.3h.6m2.2 .2h.6m-.3-.2h.6m.3 .1h.6m.1-.1h.6m.6 0h.6m-8.4 .6h.6m1.4-.2h.6m-.2 .1h.6m.2 .2h.6m-.3 0h.6m-.6-.3h.6m0 .1h.6m-.5 .2h.6m-.6-.3h.6m.3 0h.6m-.5 .2h.6m-.6 .1h.6m.1 0h.6m1.1-.1h.6m-9.3 .4h.6m1-.1h.6m.4 .1h.6m.2-.2h.6m1.3 .2h.6m-.2-.1h.6m.7-.1h.6m-.5 .3h.6m-.4 0h.6m-.5-.1h.6m-.5 .1h.6m1.5 0h.6m-7.1 .4h.6m.2-.1h.6m-.6-.1h.6m.4 .1h.6m.1-.1h.6m-.3 .1h.6m-.4-.1h.6m.8-.1h.6m-.5 .3h.6m-.6-.3h.6m-6.4 .7h.6m1.6-.3h.6m.8 .1h.6m-.4 .2h.6m.4-.1h.6m-.4-.1h.6m1.2 .1h.6m-.3-.1h.6m-7.3 .3h.6m.8 .3h.6m.7-.3h.6m.1 0h.6m-.1 .2h.6m-.5-.2h.6m-.5 .2h.6m.7-.1h.6m.4 .2h.6m.1 0h.6m-7.6 .3h.6m-.5-.2h.6m-.4 .3h.6m-.1-.2h.6m.9-.1h.6m-.3 0h.6m-.5 .2h.6m-.6 0h.6m0 .1h.6m-.5-.3h.6m.3 0h.6m.2 .1h.6m-.4 0h.6m.2 0h.6m.9-.1h.6m1.4 .3h.6m-10.9 .3h.6m-.6 .1h.6m-.4-.2h.6m-.4-.1h.6m.3 0h.6m-.4 .1h.6m-.2 0h.6m-.5-.1h.6m-.5 .1h.6m-.5-.1h.6m.6 .1h.6m-.6 .2h.6m-.4-.2h.6m0 .2h.6m-.1-.1h.6m-.2 .1h.6m.2-.1h.6m-.3-.1h.6m-.2 .1h.6m.5 0h.6m-7 .3h.6m.1 0h.6m0-.1h.6m-.5 .2h.6m-.4-.1h.6m-.4-.1h.6m-.3 .1h.6m-.6 .2h.6m-.3-.1h.6m-.2-.2h.6m-.3 0h.6m0 .2h.6m0-.2h.6m-.3 0h.6m-.1 .3h.6m2.7-.3h.6m-8.3 .6h.6m-.6-.1h.6m-.4 .1h.6m-.5 .1h.6m-.2 0h.6m-.6-.2h.6m-.3 .1h.6m-.4 0h.6m-.5 0h.6m-.3 .1h.6m-.3-.3h.6m-.2 .3h.6m-.2-.2h.6m-.5-.1h.6m-.5 0h.6m-.5 .2h.6m-.5-.2h.6m-.3 0h.6m.1 .1h.6m-.6 0h.6m1.5 .2h.6m-9.1 .1h.6m.8 0h.6m.2 0h.6m-.6 .1h.6m.3 .1h.6m-.6-.2h.6m-.1 0h.6m-.6 .3h.6m-.5 0h.6m-.1-.2h.6m-.5 0h.6m-.5 .1h.6m-.6-.1h.6m-.5 .1h.6m.6-.2h.6m.3 .2h.6m-8.3 .5h.6m-.1-.3h.6m1.6 .2h.6m-.1 0h.6m-.3-.2h.6m1.2 .2h.6m.9 .1h.6m.2-.3h.6m-.4 .3h.6m-.2-.1h.6m-8.5 .3h.6m1.5 .1h.6m.5 0h.6m-.4 0h.6m-.3-.1h.6m.2-.1h.6m-.2 .2h.6m.8 .1h.6m1.5-.3h.6m.2 .3h.6m-8.8 .2h.6m-.2 .2h.6m-.4 0h.6m-.2-.2h.6m-.4 .1h.6m-.5 0h.6m-.5 .1h.6m-.3-.1h.6m.1 .1h.6m.3-.2h.6m.3-.1h.6m-.5 .2h.6m-.3 0h.6m-.5 0h.6m-.4-.1h.6m-.6-.1h.6m.5 .1h.6m-.2-.1h.6m1.3 .3h.6m-11.7 .3h.6m3.1-.1h.6m-.5 .2h.6m-.1-.3h.6m-.2 0h.6m-.4 .3h.6m-.2-.3h.6m.4 .1h.6m-.5-.1h.6m-.2 .3h.6m-.2 0h.6m-.5-.3h.6m-.3 .3h.6m1.3-.2h.6m.2 .1h.6m-9 .3h.6m-.3 .1h.6m-.5 .1h.6m.6-.1h.6m-.2-.1h.6m-.5 .1h.6m-.1 0h.6m.2 0h.6m-.4 0h.6m-.3-.2h.6m.1 .2h.6m-.2-.2h.6m-.2 0h.6m.2 .2h.6m0 .1h.6m.9-.1h.6m-7.8 .4h.6m0 .1h.6m.3-.2h.6m-.4 0h.6m-.6 .1h.6m-.4-.2h.6m-.5 0h.6m-.4 0h.6m-.5 0h.6m-.4 0h.6m-.5 .2h.6m-.5-.2h.6m1.2 .3h.6m-.5-.1h.6m-.5-.1h.6m-.2 .1h.6m-.6-.2h.6m-7.6 .6h.6m2.8-.2h.6m.4 .2h.6m-.3-.1h.6m.4 0h.6m-.1 .2h.6m1.1-.2h.6m.6 0h.6m1-.1h.6m-9.2 .4h.6m-.1 .3h.6m-.6-.3h.6m-.1 .3h.6m.1-.1h.6m-.4 0h.6m-.5-.2h.6m-.4 .2h.6m.1 .1h.6m0-.3h.6m-.3 .3h.6m.9-.2h.6m-.5-.1h.6m.1 .3h.6m0-.1h.6m.5-.1h.6m-10.5 .6h.6m.8-.1h.6m-.3 .1h.6m-.3-.1h.6m-.4-.1h.6m-.2-.1h.6m-.6 .3h.6m.4 0h.6m-.5-.2h.6m-.5 .1h.6m-.2-.1h.6m-.4 .2h.6m-.5 0h.6m-.3-.1h.6m-.5 .1h.6m-.3 0h.6m-.5-.3h.6m-.2 0h.6m1 .3h.6m.4-.3h.6m-.1 0h.6m-8.3 .6h.6m.1-.1h.6m.1 .2h.6m-.5-.3h.6m0 .3h.6m-.1-.1h.6m-.6-.1h.6m-.5 .2h.6m-.3-.3h.6m.3 .3h.6m-.5 0h.6m.2-.1h.6m-.3 0h.6m.2 .1h.6m.1 0h.6m-7.6 .1h.6m.9 0h.6m-.6 .3h.6m-.3 0h.6m.7-.2h.6m.2-.1h.6m-.1 .1h.6m-.3 .1h.6m-.2 0h.6m.6-.2h.6m.9 .2h.6m-10.3 .5h.6m2-.3h.6m-.6 .3h.6m-.4-.1h.6m-.4 0h.6m-.3 .1h.6m-.6 0h.6m.2 0h.6m1.2-.3h.6m-.5 .3h.6m.2 0h.6m.2-.3h.6m-.4 .2h.6m2-.1h.6m.6 0h.6m-9.2 .3h.6m-.1 .1h.6m-.6-.1h.6m0 .2h.6m-.2-.1h.6m.2 0h.6m-.1-.1h.6m.1 0h.6m-.6 0h.6m-.5 .3h.6m-.4-.1h.6m-.4-.2h.6m.4 .1h.6m.2 .1h.6m-.4 0h.6m-.3 .1h.6m-9.3 .3h.6m1 0h.6m0-.2h.6m.4 0h.6m-.5 .1h.6m-.5 .1h.6m0 0h.6m0 .1h.6m-.1 0h.6m-.1-.2h.6m-.5-.1h.6m-.6 .2h.6m.9 0h.6m-.4-.2h.6m.2 .3h.6m-.2-.3h.6m-9.3 .7h.6m2.3-.2h.6m-.6 .2h.6m-.5-.3h.6m-.4 .3h.6m.7-.2h.6m0 0h.6m-.5 0h.6m.3 0h.6m0 .2h.6m-4.9 .3h.6m-.5 .1h.6m-.5 0h.6m.3-.3h.6m-.4 .1h.6m.8-.1h.6m-.4 0h.6m-.1 .2h.6m.3 .1h.6m-.5-.1h.6m-.5 .1h.6m.3-.2h.6m.2 0h.6m-9.8 .4h.6m1.3-.1h.6m-.3 .2h.6m1.3-.1h.6m-.2-.1h.6m-.5 .1h.6m-.5 0h.6m-.4 0h.6m.4-.1h.6m-.5 0h.6m.1 .2h.6m-.5 .1h.6m.5-.3h.6m-7.6 .7h.6m.5-.1h.6m.4 .1h.6m-.5-.1h.6m-.5-.1h.6m-.2 .1h.6m-.5-.2h.6m-.4 .3h.6m-.6-.3h.6m-.1 0h.6m-.5 .1h.6m-.2-.1h.6m-.4 .3h.6m.3-.1h.6m.8 0h.6m-7.6 .2h.6m-.5 .1h.6m3.6 .2h.6m1.2-.2h.6m-.1 0h.6m.9-.1h.6m-7.3 .7h.6m.4 0h.6m3.6 0h.6m-4.9 .2h.6m2.2 0h.6m-.5 .1h.6m-4.4 .3h.6m1.1 .2h.6m.9-.3h.6m-.4 .2h.6m.4 0h.6m-.1-.1h.6m-5.4 .5h.6m-.4-.2h.6m-.2 .2h.6m-.4-.2h.6m-.1 .2h.6m-.4-.2h.6m-.4 .3h.6m2.1-.2h.6m-.2-.1h.6m.7 .2h.6m.1-.1h.6m2.6-.1h.6m-10.6 .6h.6m.8 .1h.6m.4-.1h.6m-.5-.2h.6m-.2 .1h.6m-.6 .1h.6m-.5-.2h.6m-.5 0h.6m.2 .3h.6m.5-.1h.6m-.3-.2h.6m.2 .2h.6m-6 .5h.6m2.8 0h.6m-5.8 .2h.6m2.3 .2h.6m1.7-.3h.6m1.1 .1h.6m-3.7 .5h.6m-5.8 .3h.6m3.8 0h.6m-3.1 .3h.6m1.9 .2h.6m.6 0h.6m-.3 .1h.6m0-.1h.6m-5.3 .3h.6m-.4 .6h.6m-.5-.3h.6m1 .2h.6m1.1 .1h.6m-.2-.2h.6m-1.7 .6h.6m-.1-.3h.6m.8 0h.6m-3.9 .5h.6m-.8 .3h.6m2.8 0h.6m-.1 .3h.6m-2.8 .1h.6m5 .2h.6m-7.5 .4h.6m1.1-.2h.6m2.1 .2h.6m-2.8 .2h.6" stroke="#7a7a7a" stroke-width="0.6" stroke-opacity="0.55" fill="none"/>
<path d="M75.4 136.3h.6m1.8 1.9h.6m-7.6 1.3h.6m8-.1h.6m-5.1 .4h.6m1.2 .5h.6m.6-.3h.6m-3 .4h.6m.4 .4h.6m-.5 .3h.6m.7-.2h.6m2.6 .1h.6m-7.3 .4h.6m1.8 .1h.6m.2-.2h.6m1.3 .2h.6m-5.6 .2h.6m.2 .2h.6m.1-.1h.6m1 0h.6m-5 .2h.6m1.2 0h.6m-.1 .7h.6m1.7 0h.6m-2.6 .2h.6m1.2 .1h.6m.5-.1h.6m-7.6 .4h.6m-.1 .1h.6m2.7 .1h.6m-.2-.1h.6m-.4 0h.6m-.4 .1h.6m0-.2h.6m0-.1h.6m.1 0h.6m.4 .3h.6m-5.8 .4h.6m.1 0h.6m-.2-.3h.6m-.3 .2h.6m-.5 0h.6m.6-.2h.6m.8 .1h.6m-5.5 .4h.6m.9 .2h.6m.4 0h.6m.6-.2h.6m-.1 .2h.6m.3-.1h.6m-4.7 .4h.6m1.3-.1h.6m-.2 .2h.6m-.5-.1h.6m-.5 .1h.6m-.2-.2h.6m-.6 0h.6m.3-.1h.6m-.6 .3h.6m-.5-.1h.6m-5 .5h.6m-.6-.1h.6m.6 .1h.6m-.4 0h.6m.6 0h.6m-3.7 .4h.6m-.5-.1h.6m-.2 .1h.6m-.5-.1h.6m.4 0h.6m.1 .1h.6m-.1-.3h.6m-.6 .2h.6m-3.2 .2h.6m.5 .2h.6m-.5-.2h.6m0 .2h.6m-.5-.2h.6m-.2 .1h.6m.6-.1h.6m-.5 .1h.6m.1 .1h.6m-.2 .1h.6m-5.3 .4h.6m1.8 0h.6m-.5-.2h.6m-.2 0h.6m-.6 0h.6m.5 .2h.6m-.4-.2h.6m-.6 0h.6m-4.1 .5h.6m.7 .1h.6m-.4 0h.6m-.1-.1h.6m-.3 .1h.6m-.1-.2h.6m-.6 .2h.6m-.3-.3h.6m.6 .3h.6m1.6-.2h.6m0 0h.6m-9.4 .6h.6m1 0h.6m-.5 0h.6m-.6 0h.6m-.5-.1h.6m-.4 .1h.6m-.3-.2h.6m-.5 0h.6m.9 0h.6m.1 .1h.6m-.5-.2h.6m-.1 .3h.6m.7-.3h.6m-6.8 .7h.6m-.3-.2h.6m.7 0h.6m-.4 .2h.6m.3-.2h.6m-.5 .2h.6m.4-.2h.6m-.3 0h.6m-.6-.1h.6m-.4 .3h.6m1-.1h.6m-5.7 .5h.6m-.4-.1h.6m.4-.2h.6m-.2 .1h.6m.3 .2h.6m-.6-.3h.6m-.4 .2h.6m-.3 .1h.6m-.4-.3h.6m-.5 .1h.6m.1 .2h.6m2.9 0h.6m-8.8 .1h.6m-.3 .3h.6m-.4-.2h.6m.2 .1h.6m-.4-.2h.6m-.5 .1h.6m-.1 .2h.6m.1-.1h.6m-.1 .1h.6m-.1-.1h.6m-.6 .1h.6m-5.9 .1h.6m.1 .1h.6m1.7-.1h.6m-.5 .2h.6m1.7-.2h.6m-.3 .2h.6m.2 .1h.6m2.1-.2h.6m-7.3 .4h.6m-.3 .1h.6m-.5 .1h.6m-.3-.3h.6m-.4 0h.6m-.4 0h.6m.2 .3h.6m-.3-.1h.6m-.3-.2h.6m-.2 .1h.6m-.5 .1h.6m.6 0h.6m-6.1 .4h.6m1.3-.2h.6m-.5 0h.6m-.6 .3h.6m-.3 0h.6m-.1-.2h.6m1.2 .1h.6m-.5 0h.6m-.4 .1h.6m1.5-.3h.6m-8.5 .6h.6m.1-.2h.6m.7 .2h.6m-.3 0h.6m0-.1h.6m-.2 .2h.6m.2-.3h.6m-.3 0h.6m-.5 .2h.6m-.6-.2h.6m-.2 .3h.6m-.4-.1h.6m.7 .1h.6m-8.9 .2h.6m3 .1h.6m-.2 0h.6m0 0h.6m-.4-.2h.6m-.3 .2h.6m-.2 0h.6m-.6 0h.6m-.5-.1h.6m-.1 0h.6m.1 0h.6m-.5 .2h.6m.4-.2h.6m-.1-.1h.6m-.6 0h.6m0 .3h.6m.1-.3h.6m-6.2 .7h.6m-.3 0h.6m-.3-.3h.6m-.6 .2h.6m-.5 0h.6m.6 0h.6m-.5-.1h.6m-.5-.1h.6m-.5 .1h.6m-.6-.1h.6m-.6 .1h.6m-.5-.1h.6m-.4 .2h.6m-.5-.2h.6m-.3 0h.6m0 .1h.6m-.4-.1h.6m-7.2 .7h.6m1.3-.1h.6m0-.1h.6m-.6 .2h.6m-.4-.1h.6m-.5 .1h.6m-.3-.1h.6m-.6 .1h.6m-.5-.3h.6m-.6 .1h.6m-.5 .1h.6m-.5-.1h.6m-.6 .2h.6m-.5-.1h.6m-.6 0h.6m-.4 0h.6m.2-.1h.6m-.5 .2h.6m-.5-.3h.6m-.6 0h.6m.2 .1h.6m-.5-.1h.6m-.2 0h.6m-.4 .3h.6m.3-.1h.6m.1 .1h.6m-.6-.3h.6m1.2 .3h.6m-10.4 .2h.6m.9 0h.6m-.2 .2h.6m.3-.2h.6m-.3-.1h.6m-.4 .3h.6m-.3-.3h.6m-.5 .2h.6m-.1 .1h.6m-.3-.1h.6m-.3-.1h.6m-.5 .1h.6m-.1-.2h.6m-.5 .2h.6m-.5 0h.6m-.6-.2h.6m-.5 .3h.6m-.5 0h.6m-.5-.1h.6m-.5 0h.6m-.1-.1h.6m-.5-.1h.6m-.2 .1h.6m-.3-.1h.6m-.6 .2h.6m-7 .5h.6m1.1 0h.6m-.5-.3h.6m0 .2h.6m-.6-.2h.6m.1 .2h.6m-.3-.2h.6m-.5 .1h.6m-.6 .1h.6m-.1-.2h.6m-.5 0h.6m-.5 .1h.6m-.1-.1h.6m-.4 0h.6m-.5 .1h.6m-.3 0h.6m-.2 .1h.6m-.4 0h.6m-7.9 .5h.6m1.2-.3h.6m-.2 0h.6m.1 .1h.6m-.5 .1h.6m-.5-.2h.6m-.4 .1h.6m-.5 .2h.6m.3 0h.6m-.1 0h.6m-.3-.2h.6m-.1 0h.6m-.1 .1h.6m-.5-.1h.6m-.5 0h.6m-.5 .1h.6m-.4 0h.6m-.6-.2h.6m-.5 .3h.6m-.4-.1h.6m-.5-.2h.6m-.4 .2h.6m.2-.1h.6m-7 .5h.6m-.4 .1h.6m-.3 0h.6m-.1-.1h.6m-.5 0h.6m.1-.2h.6m-.5 0h.6m-.4 .1h.6m-.5 .1h.6m-.4-.2h.6m-.3 .3h.6m-.5 0h.6m-.4 0h.6m-.1-.1h.6m-.5-.2h.6m-.6 .1h.6m-.5 .1h.6m-.6-.2h.6m-.5 .3h.6m-.5-.2h.6m-.3-.1h.6m-.4 .3h.6m-.4 0h.6m-.3-.3h.6m-.5 .1h.6m-.5-.1h.6m.1 .2h.6m-.3 0h.6m-.4 0h.6m1.7-.1h.6m-8.8 .5h.6m.3-.2h.6m-.5 .3h.6m-.4-.3h.6m-.4 .2h.6m0-.2h.6m-.5 .3h.6m-.5-.2h.6m-.5 0h.6m-.6 .1h.6m-.3-.2h.6m-.6 .2h.6m-.6 .1h.6m-.6-.3h.6m-.5 .1h.6m-.2 .1h.6m-.5-.2h.6m-.6 .3h.6m-.5-.3h.6m-.5 .1h.6m-.5 .1h.6m-.2 .1h.6m-.2 0h.6m-.6-.1h.6m-.1-.1h.6m-.6-.1h.6m-.5 .2h.6m0 0h.6m.8 .1h.6m-7.7 .3h.6m-.3-.1h.6m1.3 .2h.6m-.5-.1h.6m-.6 .1h.6m-.5 0h.6m-.6 0h.6m-.5-.3h.6m-.4 0h.6m-.6 0h.6m-.6 .2h.6m-.4 .1h.6m-.1-.3h.6m-.5 .2h.6m-.6-.2h.6m-.4 0h.6m-.6 .3h.6m-.1-.2h.6m-.6 .2h.6m.2-.2h.6m-.5 .2h.6m-.5-.1h.6m-.5 .1h.6m.1-.3h.6m-.6 0h.6m.4 .3h.6m-9.1 .4h.6m2.3 0h.6m-.5 0h.6m-.6-.2h.6m-.6 .2h.6m-.5-.2h.6m-.6 .2h.6m-.5-.3h.6m-.4 .1h.6m-.4 .2h.6m-.5-.1h.6m-.5 0h.6m-.6-.2h.6m-.5 .1h.6m-.5 0h.6m-.1 .1h.6m-.4-.1h.6m-.6 .1h.6m-.5 .1h.6m-.6-.3h.6m-.5 .1h.6m-.5 .1h.6m-.5 .1h.6m-.6-.1h.6m-.5 .1h.6m-.5-.1h.6m-.4 .1h.6m-.4-.1h.6m-.5-.1h.6m-.6 .2h.6m-.6-.1h.6m-.3 0h.6m-.1-.1h.6m-.4 0h.6m-.5 .2h.6m-.6-.1h.6m-.2 0h.6m-.6 .1h.6m-.3-.2h.6m-6.2 .6h.6m-.4-.1h.6m-.4 0h.6m-.5-.1h.6m.2 .2h.6m-.4-.3h.6m-.4 .3h.6m-.4-.3h.6m-.3 .3h.6m-.6-.3h.6m-.3 .1h.6m-.2-.1h.6m-.5 .3h.6m-.6-.3h.6m-.5 0h.6m-.6 .3h.6m-.5-.2h.6m-.5 .2h.6m-.6 0h.6m-.3 0h.6m-.6-.2h.6m-.4 .2h.6m-.6 0h.6m-.5-.1h.6m-.4 0h.6m-.5-.2h.6m-.6 .1h.6m-.4 0h.6m-.4 .2h.6m-.4 0h.6m-.5-.1h.6m-.4-.1h.6m-.6 0h.6m-.6-.1h.6m-.4 .1h.6m-.6 .1h.6m.6-.2h.6m-.1 .3h.6m-9.4 .1h.6m-.4 .3h.6m-.3-.3h.6m0 .1h.6m.6-.1h.6m-.5 .1h.6m-.4 .1h.6m-.4-.1h.6m-.2-.1h.6m-.4 .2h.6m-.5 .1h.6m-.2 0h.6m-.6-.1h.6m-.3-.1h.6m-.5 .2h.6m-.6-.2h.6m-.6 .2h.6m-.4 0h.6m-.6-.3h.6m-.3 .1h.6m-.5-.1h.6m-.5 .1h.6m-.4 0h.6m-.6 0h.6m-.5 .1h.6m-.2 0h.6m-.4-.1h.6m-.4 .1h.6m-.2 .1h.6m-.6 0h.6m-.2-.3h.6m.1 0h.6m.2 0h.6m-7.2 .6h.6m-.2 0h.6m-.2 0h.6m-.3-.1h.6m-.5 0h.6m-.2 0h.6m-.5-.1h.6m-.6 .3h.6m-.6-.2h.6m-.6 0h.6m-.3-.1h.6m-.6 0h.6m-.3 .2h.6m-.4 0h.6m-.3 0h.6m-.6-.2h.6m-.6 .1h.6m-.6 .1h.6m-.5-.1h.6m-.4 .1h.6m-.5 .1h.6m-.5 0h.6m-.2-.3h.6m-.5 .2h.6m-.5-.2h.6m-.3 .1h.6m-.4 .1h.6m-.3-.2h.6m-.5 0h.6m-.3 .1h.6m-.3-.1h.6m-.5 .2h.6m-.1 .1h.6m-.1 0h.6m-9.3 .1h.6m1.3 .3h.6m-.2-.1h.6m-.2-.1h.6m-.4 .2h.6m-.3-.2h.6m-.3 0h.6m-.5 .1h.6m-.5 .1h.6m-.6-.3h.6m-.5 .2h.6m-.6 0h.6m-.5 0h.6m-.6 0h.6m-.4 .1h.6m-.4 0h.6m-.3-.2h.6m-.6-.1h.6m-.6 .2h.6m-.6 0h.6m-.5 .1h.6m-.5-.1h.6m-.4 0h.6m-.6-.2h.6m-.5 .2h.6m-.5-.1h.6m-.5 .2h.6m-.5-.3h.6m-.6 .2h.6m-.4 0h.6m-.6-.1h.6m-.4 .2h.6m-.6-.1h.6m-.5-.1h.6m-.6-.1h.6m-.5 .3h.6m-.6-.3h.6m-.5 0h.6m-.5 .3h.6m-.4-.1h.6m-.6 .1h.6m0 0h.6m-.5-.1h.6m-.6 .1h.6m-.5-.2h.6m-.4-.1h.6m-.3 .1h.6m-.5 .2h.6m-.5-.3h.6m-7.1 .5h.6m-.3 0h.6m-.1 .1h.6m-.3 0h.6m-.4 0h.6m-.3 0h.6m.3 0h.6m-.4-.2h.6m-.4 .3h.6m-.6-.1h.6m-.4-.2h.6m-.5 .3h.6m-.6-.1h.6m-.5 0h.6m-.6 0h.6m-.6-.1h.6m-.5 0h.6m-.4 .2h.6m-.6-.3h.6m-.3 0h.6m-.5 .3h.6m-.5 0h.6m-.5 0h.6m-.6-.1h.6m0-.2h.6m-.6 .3h.6m-.5-.2h.6m-.6 .2h.6m-.6 0h.6m-.5-.3h.6m-.4 .3h.6m-.5-.3h.6m-.6 .3h.6m.5-.1h.6m-.6 .1h.6m-.5-.3h.6m-.6 .2h.6m-.2 .1h.6m-.4-.1h.6m-.4-.2h.6m-8.9 .7h.6m-.1-.1h.6m.4 .1h.6m-.6-.3h.6m-.2 .3h.6m-.2 0h.6m-.6 0h.6m-.5-.1h.6m-.5 0h.6m-.5 .1h.6m-.6-.2h.6m-.5 0h.6m-.5 .1h.6m-.5 0h.6m-.3 .1h.6m-.4-.2h.6m-.5 .2h.6m-.4 0h.6m-.6-.1h.6m-.5-.1h.6m-.6 .2h.6m-.5 0h.6m-.6-.2h.6m-.4 .2h.6m-.6-.2h.6m-.4 .2h.6m-.5-.2h.6m-.6 0h.6m-.4 0h.6m-.6 .2h.6m-.6 0h.6m-.5-.2h.6m-.5 .1h.6m-.5 .1h.6m-.5-.1h.6m-.6-.1h.6m-.6-.1h.6m-.6 .2h.6m-.4 0h.6m-.6-.1h.6m-.6 0h.6m-.3 0h.6m-.5 0h.6m-.6 0h.6m-.5 0h.6m-.4 .1h.6m-.4 .1h.6m-.1 0h.6m0-.3h.6m.1 .2h.6m0-.1h.6m-11.1 .5h.6m2.3-.2h.6m.5 .1h.6m0-.1h.6m-.5 .2h.6m-.6-.2h.6m-.1 .3h.6m-.5-.1h.6m-.5-.1h.6m-.6-.1h.6m-.5 0h.6m-.4 .3h.6m-.4-.2h.6m-.5-.1h.6m-.4 .1h.6m-.5 .1h.6m-.6 0h.6m-.6-.2h.6m-.5 .3h.6m-.4-.2h.6m-.6 .1h.6m-.5 .1h.6m-.5-.1h.6m-.5 .1h.6m-.5 0h.6m-.5-.1h.6m-.6 0h.6m-.6 0h.6m-.6 0h.6m-.5-.1h.6m-.5 0h.6m-.5 .1h.6m-.6-.1h.6m-.5 0h.6m-.5 .2h.6m-.6-.1h.6m-.6-.2h.6m-.5 0h.6m-.5 0h.6m-.3 0h.6m-.5 .1h.6m-.1 0h.6m-.5 .1h.6m-.6-.1h.6m-.4 0h.6m-.3 0h.6m-.2 .1h.6m-.3 .1h.6m-.4 0h.6m-8.1 .2h.6m.2 0h.6m-.4 .1h.6m-.6-.2h.6m0 0h.6m-.6 .3h.6m-.2-.1h.6m-.6-.1h.6m-.2-.1h.6m-.5 0h.6m-.5 .1h.6m-.2 .1h.6m-.4 .1h.6m-.5-.1h.6m-.6-.1h.6m-.4 0h.6m-.6-.1h.6m-.6 0h.6m-.6 .1h.6m-.5 0h.6m-.5-.1h.6m-.4 .2h.6m-.6 .1h.6m-.5 0h.6m.7-.2h.6m-.6 .1h.6m-.6-.2h.6m-.2 .2h.6m-.3-.2h.6m-.6 .2h.6m-.5-.1h.6m-.1-.1h.6m-.1 .2h.6m-10 .2h.6m1 .3h.6m1.3-.2h.6m-.3 .1h.6m-.5 .1h.6m-.5-.3h.6m-.3 .2h.6m-.6 .1h.6m-.4 0h.6m-.5 0h.6m-.6-.3h.6m-.5 0h.6m-.5 .3h.6m-.6-.2h.6m-.6 .2h.6m-.5 0h.6m-.4-.3h.6m-.2 .2h.6m-.6 0h.6m-.4 .1h.6m-.2-.3h.6m-.5 .2h.6m-.3-.2h.6m-.4 0h.6m-.5 .2h.6m-.2 .1h.6m-.4 0h.6m-.1-.3h.6m-.3 0h.6m-.5 .1h.6m-.2 0h.6m.4 0h.6m-7.3 .6h.6m-.3-.3h.6m.2 .2h.6m-.6-.1h.6m-.3 .2h.6m-.4-.1h.6m-.2-.2h.6m-.6 0h.6m-.6 .3h.6m-.5-.2h.6m-.5-.1h.6m-.4 .3h.6m-.5-.2h.6m-.6 .2h.6m-.5-.3h.6m-.5 .2h.6m-.5 .1h.6m-.4-.2h.6m-.3 .1h.6m-.3-.2h.6m-.4 .3h.6m-.5-.1h.6m.6-.2h.6m-.1 0h.6m-.5 .3h.6m-.2 0h.6m0-.3h.6m.3 0h.6m.3 .2h.6m-10.3 .5h.6m-.3-.1h.6m.7-.1h.6m-.1 0h.6m-.2 .1h.6m-.6 .1h.6m-.6-.1h.6m-.5-.2h.6m-.4 0h.6m-.5 0h.6m-.3 .3h.6m-.6-.1h.6m-.5-.1h.6m-.6 0h.6m-.6-.1h.6m-.5 .2h.6m-.6-.1h.6m-.5-.1h.6m-.4 .2h.6m-.6-.1h.6m-.4 .1h.6m-.5 .1h.6m-.6-.2h.6m-.3 .1h.6m-.6 .1h.6m-.5-.1h.6m-.5 .1h.6m-.5-.2h.6m-.5-.1h.6m.1 .1h.6m-.3 0h.6m-.4 .2h.6m.8-.3h.6m-.1 .2h.6m-9.6 .5h.6m.8-.2h.6m-.5 0h.6m-.2 .2h.6m0 0h.6m-.4-.1h.6m-.6 0h.6m-.5 0h.6m-.5-.1h.6m-.5 .1h.6m-.3-.2h.6m-.1 .3h.6m-.5-.3h.6m-.4 0h.6m-.4 .3h.6m-.6-.1h.6m-.5 .1h.6m-.6-.1h.6m-.5 0h.6m-.2-.2h.6m-.5 .1h.6m-.6 .2h.6m-.5-.3h.6m-.5 .3h.6m-.5-.2h.6m-.6 .2h.6m-.5-.2h.6m-.5 .2h.6m-.4 0h.6m-.6 0h.6m-.5-.2h.6m-.5-.1h.6m-.5 .2h.6m-.5 .1h.6m-.4-.2h.6m-.3 .2h.6m-.4-.1h.6m-.4-.2h.6m-.1 0h.6m-.4 0h.6m-.4 .2h.6m-.5 0h.6m0-.2h.6m-9.1 .4h.6m.7 .2h.6m1.1 0h.6m-.5 0h.6m-.3 .1h.6m-.4 0h.6m-.4-.3h.6m-.4 0h.6m-.6 .3h.6m-.5-.3h.6m-.5 .3h.6m-.4-.2h.6m-.5-.1h.6m-.5 .2h.6m-.5 0h.6m-.5-.2h.6m-.6 .1h.6m-.5-.1h.6m-.6 0h.6m-.5 .2h.6m-.6-.1h.6m-.4 .1h.6m-.6 .1h.6m-.5-.2h.6m-.5 .1h.6m-.3 .1h.6m-.6-.3h.6m-.2 .2h.6m0-.1h.6m-.6 .1h.6m-.5 .1h.6m-.4-.3h.6m-.5 .3h.6m-.6 0h.6m-.3 0h.6m-.4-.2h.6m-.3 0h.6m.7-.1h.6m-8.4 .4h.6m-.1 .3h.6m.1-.2h.6m-.2 0h.6m-.4 0h.6m-.4 .1h.6m-.5 .1h.6m-.3 0h.6m-.2-.3h.6m-.5 0h.6m-.6 .1h.6m-.5-.1h.6m-.4 .2h.6m-.6-.1h.6m-.5 .1h.6m-.6-.1h.6m-.5 .2h.6m-.1-.1h.6m-.5 .1h.6m-.5-.2h.6m-.3 0h.6m-.6-.1h.6m-.5 .2h.6m-.5 0h.6m-.4-.2h.6m-.6 .1h.6m-.3 0h.6m-.5 .2h.6m-.5-.1h.6m-.3 .1h.6m-.6-.1h.6m-.3 0h.6m-.3 .1h.6m-.3-.3h.6m.2 .2h.6m-7.6 .5h.6m-.5-.3h.6m-.1 0h.6m.9 .3h.6m-.6-.2h.6m-.1 .1h.6m-.5 0h.6m-.4-.2h.6m-.5 .1h.6m-.5-.1h.6m-.4 .1h.6m-.3 .2h.6m-.3 0h.6m-.5-.3h.6m-.5 0h.6m-.5 .1h.6m-.5 0h.6m-.4 .1h.6m-.6-.2h.6m0 .1h.6m-.6 .2h.6m-.5 0h.6m-.5-.1h.6m-.2 0h.6m-.1 .1h.6m-6.8 .1h.6m0 0h.6m0 0h.6m-.6 .2h.6m.3 0h.6m-.6-.2h.6m-.3 0h.6m-.6 0h.6m-.4 0h.6m-.5 .3h.6m-.1-.2h.6m-.5 .2h.6m-.5-.3h.6m-.5 .2h.6m-.5-.1h.6m-.6 .1h.6m-.2 0h.6m-.4 .1h.6m-.4-.3h.6m-.4 .3h.6m.1-.2h.6m-.3-.1h.6m-.1 0h.6m-6.7 .7h.6m.5 0h.6m.1-.2h.6m.3 .1h.6m-.6-.2h.6m-.6 .3h.6m-.2-.1h.6m-.3-.2h.6m-.5 .3h.6m-.6-.2h.6m-.5-.1h.6m-.4 .2h.6m-.4 .1h.6m-.5-.3h.6m-.5 .2h.6m-.5 0h.6m-.3 0h.6m-.6-.1h.6m-.3-.1h.6m-.6 0h.6m-.6 .3h.6m.8-.2h.6m-.2 .1h.6m-7.5 .2h.6m-.3 0h.6m-.5 0h.6m.4 0h.6m-.1 0h.6m-.2 .2h.6m.2 0h.6m-.6-.2h.6m-.4 .2h.6m-.1 .1h.6m-.6-.2h.6m-.3 0h.6m-.1 0h.6m-.5-.1h.6m-.2 .3h.6m1.2-.1h.6m-7.6 .5h.6m-.3-.2h.6m.3-.1h.6m-.4 .1h.6m-.4 0h.6m1.2 .2h.6m-.5 0h.6m-.6 0h.6m-.3 0h.6m-.4-.3h.6m-.3 0h.6m.3 0h.6m.1 .3h.6m1.1-.3h.6m-.3 .3h.6m-7.7 .1h.6m-.1 .2h.6m.4 0h.6m-.3-.1h.6m-.6-.1h.6m-.5 .3h.6m.2-.2h.6m.2 .2h.6m-.1-.2h.6m-.4-.1h.6m.2 0h.6m.3 .1h.6m-6.6 .4h.6m-.2-.1h.6m.1 .1h.6m-.5-.1h.6m.4 .1h.6m-.5-.1h.6m-.2 .1h.6m.1 0h.6m.4 .2h.6m-.5-.2h.6m.3 0h.6m-.4 .1h.6m-6 .5h.6m1.2-.3h.6m-.3 .2h.6m-.6 0h.6m-.6-.2h.6m-.5 .3h.6m-.5-.2h.6m-.5 .1h.6m-.2 .1h.6m-.1-.3h.6m-.1 .2h.6m-.5 .1h.6m.2-.2h.6m-.3-.1h.6m.1 .1h.6m-5.4 .5h.6m-.5 0h.6m-.3-.2h.6m-.3 .2h.6m-.4-.2h.6m.3 .3h.6m.1-.1h.6m-.2-.2h.6m-.5 .3h.6m0-.3h.6m-.4 .2h.6m-6.1 .2h.6m2 .1h.6m2.3 0h.6" stroke="#b80006" stroke-width="0.6" stroke-opacity="0.6" fill="none"/>
<path d="M213.6 137.2h.6m.5 .3h.6m1.9-.1h.6m2.6 0h.6m-5.8 .4h.6m.8 .1h.6m-4.4 .4h.6m2.3-.1h.6m5 0h.6m-12.8 .2h.6m8.9 .3h.6m-.5-.3h.6m2 0h.6m-4 .6h.6m-.3-.1h.6m2.5 .1h.6m-6.8 .5h.6m6.5-.2h.6m-6.6 .6h.6m-.1-.3h.6m.7 0h.6m-.4 0h.6m2 0h.6m.9 0h.6m-8.1 .7h.6m5.6-.3h.6m-.4 .1h.6m.2 0h.6m-8.1 .4h.6m.3-.1h.6m.8 .3h.6m-.3-.1h.6m7.3-.2h.6m.6 .2h.6m-12.8 .3h.6m1.8 .2h.6m.5-.3h.6m-.3 .3h.6m-.3 0h.6m-.4-.2h.6m.4-.1h.6m-.2 0h.6m.7 0h.6m-.2 .1h.6m.4 .2h.6m-4.8 .2h.6m-.1 0h.6m2.2 .1h.6m-.6 .1h.6m3.5-.2h.6m1.2 .2h.6m-14.7 .2h.6m.2 .1h.6m-.5 .1h.6m2.7-.3h.6m-.5 .2h.6m1.2 0h.6m-.2-.1h.6m0 .2h.6m-.2 0h.6m.8 0h.6m-10.7 .2h.6m1 0h.6m-.3 .2h.6m1.8-.2h.6m.3-.1h.6m-.3 .3h.6m.4-.3h.6m.1 .2h.6m-.4 0h.6m-.3 0h.6m-.1-.1h.6m-.5 .1h.6m-.3 0h.6m-.1 .1h.6m-.1-.2h.6m.4 .2h.6m1.6-.2h.6m-20 .5h.6m6.8 .1h.6m5.2-.3h.6m.8 .2h.6m.6 0h.6m.2-.2h.6m-.4 .2h.6m-10.6 .2h.6m.8 .2h.6m1.8 .1h.6m-.5-.2h.6m-.1-.1h.6m.5 0h.6m-.2 .3h.6m-.3-.2h.6m-.6-.1h.6m.3 .1h.6m-.5 0h.6m.3-.1h.6m.6 .2h.6m-.5 0h.6m-5.8 .5h.6m.4-.1h.6m0-.2h.6m-.4 .2h.6m-.5 0h.6m-.4 .1h.6m.8-.3h.6m0 .2h.6m2.2 .1h.6m-13.3 .4h.6m1.1-.1h.6m2 0h.6m-.4 .1h.6m-.3 0h.6m-.3-.2h.6m-.2 .1h.6m-.3 .1h.6m-.1 0h.6m-.1-.3h.6m-.3 .2h.6m-.5 .1h.6m0-.1h.6m-.5 0h.6m-.1 0h.6m.2-.1h.6m.1 0h.6m-.4 0h.6m1-.1h.6m-.5 .2h.6m-10.9 .3h.6m-.1-.1h.6m1.4 .1h.6m-.4-.1h.6m-.4 .2h.6m-.4 0h.6m-.6-.2h.6m0 .2h.6m-.5 0h.6m-.5-.2h.6m-.1 .2h.6m-.3-.1h.6m-.6-.1h.6m-.4 .1h.6m.3 .1h.6m-.3 0h.6m.1 0h.6m.1-.2h.6m-8.4 .6h.6m-.3 .1h.6m1.8-.1h.6m-.6 0h.6m1.2 0h.6m-.6-.1h.6m-.5 0h.6m-.3 .2h.6m-.5-.2h.6m-.6 .1h.6m.3 .1h.6m-.5-.2h.6m-.2-.1h.6m.5 .3h.6m-.2-.1h.6m-.3-.1h.6m1.1 .1h.6m.7-.2h.6m1.6 .3h.6m-15.5 .1h.6m-.3 .1h.6m1.4 .1h.6m.6 .1h.6m-.4 0h.6m-.1-.2h.6m-.5 .2h.6m1.2-.2h.6m-.3 .2h.6m-.4-.2h.6m-.5-.1h.6m-.2 0h.6m-.4 .3h.6m-.2-.2h.6m1.3 .2h.6m.7-.1h.6m-.4 0h.6m0 .1h.6m-10 .2h.6m1 .1h.6m.3 0h.6m-.4-.1h.6m-.2 .1h.6m.4-.1h.6m-.3 .2h.6m.1 0h.6m-.4-.3h.6m-.3 .3h.6m-.5-.3h.6m-.5 .1h.6m-.1 .2h.6m-.2-.3h.6m.3 0h.6m-7.5 .6h.6m.5 .1h.6m-.6-.1h.6m-.4 0h.6m-.3 .1h.6m1.2-.1h.6m-.1-.1h.6m-.6 0h.6m.3 0h.6m-.5 0h.6m-.6-.1h.6m0 .1h.6m1.2 .1h.6m1.6 0h.6m.8 0h.6m-13 .4h.6m-.4 0h.6m.9-.2h.6m.3 .2h.6m-.5 0h.6m-.2 .1h.6m-.3 0h.6m-.2 0h.6m-.2-.1h.6m-.3 .1h.6m0-.2h.6m-.6 .2h.6m1-.2h.6m.4 .1h.6m-.3-.2h.6m0 .2h.6m.4-.2h.6m-11.5 .5h.6m.1 0h.6m-.3 .1h.6m1.9 .1h.6m-.5-.3h.6m-.2 .3h.6m-.5 0h.6m-.4-.2h.6m0 .1h.6m-.4-.1h.6m-.2 .2h.6m-.6 0h.6m-.4-.3h.6m.6 .2h.6m-.4-.1h.6m-.6 .1h.6m-.4 .1h.6m-.2 0h.6m-.2-.2h.6m-.1-.1h.6m.8 .3h.6m-.6-.3h.6m-.3 .1h.6m-.2-.1h.6m1.3 .1h.6m-.1 .1h.6m-.1-.1h.6m-14.3 .5h.6m.1-.1h.6m1.6 0h.6m-.4 0h.6m.4-.1h.6m-.1 .2h.6m.5 0h.6m-.3-.1h.6m-.6-.1h.6m-.2 0h.6m0 .2h.6m-.6 .1h.6m-.6-.2h.6m-.5-.1h.6m-.6 .1h.6m-.4-.1h.6m-.3 .1h.6m-.1 .2h.6m.3-.3h.6m-.3 .2h.6m-.4-.1h.6m.9-.1h.6m.3 0h.6m-13.1 .5h.6m.3-.1h.6m-.3 .2h.6m-.1-.2h.6m-.5 .1h.6m.1 0h.6m-.4 0h.6m-.6 .2h.6m.7 0h.6m-.6-.1h.6m.1-.1h.6m-.4 .1h.6m-.6 0h.6m-.4-.2h.6m0 0h.6m-.2 .2h.6m-.5-.1h.6m-.6-.1h.6m-.5 .1h.6m-.5 .1h.6m.1 0h.6m-.5 .1h.6m-.5 0h.6m-.4 0h.6m-.3-.1h.6m4.8 .1h.6m.3-.3h.6m-14.3 .5h.6m2.9 0h.6m-.1 0h.6m-.3 .2h.6m-.1-.3h.6m.5 .1h.6m-.5 .2h.6m-.6 0h.6m-.5 0h.6m-.2-.2h.6m-.6 .2h.6m-.1 0h.6m-.2-.1h.6m0 .1h.6m-.5-.2h.6m.5-.1h.6m-.5 0h.6m-.3 .1h.6m.8-.1h.6m-.4 0h.6m-16.1 .5h.6m4-.1h.6m-.1 0h.6m.7 .3h.6m0 0h.6m.1-.1h.6m-.5 .1h.6m-.4 0h.6m-.1-.1h.6m.3 0h.6m-.5-.1h.6m-.4 .1h.6m-.4-.1h.6m-.2 0h.6m-.4-.1h.6m-.4 0h.6m-.5 .3h.6m-.3-.1h.6m-.3 0h.6m-.2-.2h.6m-.5 .2h.6m-.3 0h.6m-.2-.1h.6m-.1 .1h.6m1.4 0h.6m0 .1h.6m2.6 0h.6m-16.1 .1h.6m1.3 .2h.6m1.6-.1h.6m-.1-.1h.6m.8 .2h.6m.4 0h.6m-.3 .1h.6m-.3 0h.6m-.5 0h.6m.1-.3h.6m.1 .2h.6m-.5-.2h.6m-.2 .2h.6m-.6-.2h.6m.4 0h.6m.4 .1h.6m.5-.1h.6m-13.8 .5h.6m2 0h.6m-.2-.1h.6m.2 .1h.6m.1 0h.6m-.5 .1h.6m.2-.2h.6m-.1 .2h.6m-.6 0h.6m.2-.2h.6m-.6 .3h.6m1 0h.6m.4-.2h.6m-.1 0h.6m-.4 0h.6m.5 .1h.6m1-.2h.6m2 .1h.6m-17.5 .4h.6m.6 .1h.6m2.6 0h.6m.7 .1h.6m-.4-.3h.6m.2 .2h.6m-.2-.2h.6m.8 .3h.6m-.4 0h.6m0-.3h.6m-.1 0h.6m.9 .3h.6m.2-.2h.6m.9 .1h.6m-11.6 .4h.6m-.3 .1h.6m.3-.2h.6m.6 .2h.6m-.6-.3h.6m.1 .3h.6m.5 0h.6m-.6-.2h.6m-.2 .1h.6m-.2-.2h.6m-.3 0h.6m0 0h.6m.6 .3h.6m-.4-.2h.6m.1 .1h.6m-.4-.2h.6m-.4 .1h.6m-.4 0h.6m.9 .2h.6m.1-.2h.6m-11.2 .6h.6m-.1-.3h.6m-.5 .1h.6m.1 .2h.6m.1-.3h.6m-.2 0h.6m0 .2h.6m-.4-.2h.6m-.6 .2h.6m-.3 0h.6m-.6-.2h.6m0 0h.6m-.2 0h.6m-.3 0h.6m-.4 0h.6m.4 .2h.6m1.2 .1h.6m-.5-.1h.6m4.5-.1h.6m-25.7 .5h.6m14-.2h.6m.2 .1h.6m-.3 0h.6m.1 .1h.6m-.5 0h.6m-.4 0h.6m-.2 0h.6m.5 .1h.6m.5-.2h.6m0 .1h.6m-.3 0h.6m-10 .4h.6m2.1 .1h.6m-.2-.1h.6m-.3-.2h.6m-.5 .2h.6m-.2-.1h.6m-.3-.1h.6m-.6 .2h.6m-.3 .1h.6m.7-.2h.6m-.4 .2h.6m-.3 0h.6m.1-.2h.6m-.2-.1h.6m-.3 0h.6m-.5 .2h.6m.2 0h.6m-.4 0h.6m-.4 .1h.6m.6-.1h.6m-.2 .1h.6m-.6 0h.6m-8.5 .1h.6m-.5 .1h.6m-.2 .1h.6m-.4 .1h.6m.5-.3h.6m0 0h.6m-.4 .3h.6m-.3-.2h.6m-.1 0h.6m-.3-.1h.6m-.3 .3h.6m1.5-.3h.6m.2 .2h.6m-.5 0h.6m-.2 .1h.6m-.4 0h.6m.4 0h.6m.3-.1h.6m-.1 .1h.6m-15.9 .4h.6m4.6-.3h.6m0 .3h.6m.2-.2h.6m.4 .2h.6m.3-.3h.6m-.6 .2h.6m-.1-.1h.6m-.1 .1h.6m-.2 0h.6m0 .1h.6m.1-.3h.6m3.5 .2h.6m-14.9 .5h.6m1.4-.1h.6m-.5-.2h.6m.8 .2h.6m1.6 .1h.6m.1-.2h.6m-.6-.1h.6m0 0h.6m0 .1h.6m.4-.1h.6m1.3 .3h.6m5 0h.6m-17.9 .3h.6m4.1-.1h.6m.1 .2h.6m.8-.3h.6m.6 0h.6m1.1 0h.6m-.5 .3h.6m.6-.3h.6m-.5 .2h.6m.1-.2h.6m2 0h.6m3.3 .3h.6m-18.2 .3h.6m2.7 .1h.6m-.5-.3h.6m-.6 .2h.6m-.2-.1h.6m.3 .2h.6m1.4-.2h.6m-.1 0h.6m.5-.1h.6m-.2 .2h.6m-.4 .1h.6m-.5-.1h.6m-.6 .1h.6m-.5-.2h.6m3-.1h.6m-9.3 .4h.6m.6 .1h.6m0 0h.6m.5-.1h.6m.9 0h.6m2.2 .1h.6m.4-.1h.6m-.1 .1h.6m.5 0h.6m-10.7 .3h.6m2 .1h.6m-.3 .1h.6m.8-.1h.6m3 0h.6m-10.5 .3h.6m1.5 0h.6m3.5 .3h.6m1.3-.2h.6m5.2 .1h.6m-13.1 .4h.6m1.1 0h.6m1.4 0h.6m0-.1h.6m-.5 0h.6m4.1 .2h.6m-12.5 .4h.6m-.3-.2h.6m4.3 .1h.6m.2-.2h.6m1.2 .2h.6m.7 .1h.6m-.5-.1h.6m-.3-.2h.6m-.1 0h.6m4.3 .2h.6m-13.3 .5h.6m-.1 0h.6m.7-.2h.6m2.2 .1h.6m2-.1h.6m.5 .1h.6m1.3 0h.6m-13.9 .4h.6m3.9 0h.6m-.1-.2h.6m6.7 0h.6m-.6 .1h.6m-9.1 .4h.6m.2 .1h.6m5.1 0h.6m0-.2h.6m-7.7 .6h.6m4.7 0h.6m-5.9 .5h.6m2.7-.3h.6m-.4 0h.6m4.1 0h.6m-.2 .1h.6m-11.3 .4h.6m1.8-.1h.6m0 .5h.6m1.7 .1h.6m.5 .1h.6m3.9-.3h.6m-11 1.1h.6m2.3-.1h.6m1.5 .1h.6m3.3-.2h.6m-4.2 1h.6m2.8 .9h.6m-5.2 .4h.6m3.3 .1h.6m-7.4 .6h.6m-.4 0h.6m-6 .7h.6m9.6 0h.6m-1.3 .5h.6m-.9 .2h.6" stroke="#808080" stroke-width="0.6" stroke-opacity="0.5" fill="none"/>
<path d="M212.9 139.1h.6m.6 .4h.6m4.9 0h.6m2.1-.3h.6m-6 .4h.6m-4.9 .5h.6m.8-.1h.6m-.6 0h.6m3.8 .2h.6m-9.7 .4h.6m2.8-.1h.6m-1.5 .5h.6m1.9-.2h.6m4.2 0h.6m1.6 .3h.6m-8.3 .3h.6m.2-.2h.6m.6 .6h.6m-5.7 .9h.6m-.4 0h.6m.2 0h.6m-5.1 .3h.6m-.4 .1h.6m-.1-.1h.6m7.5-.1h.6m4.5 0h.6m-11.3 .5h.6m.9 .1h.6m.8-.1h.6m-7.4 .3h.6m5 0h.6m2.2 0h.6m3.7-.1h.6m.4 .1h.6m-13.4 .4h.6m.8 .1h.6m1.2 .1h.6m2 0h.6m-.2 0h.6m-.3-.1h.6m4.1-.1h.6m-10.2 .4h.6m-.2 .2h.6m1.2-.3h.6m-.1 0h.6m0 .2h.6m.4-.2h.6m-.4 .3h.6m0-.2h.6m5.4 .1h.6m-11.9 .5h.6m-.1 0h.6m.4-.3h.6m1 .1h.6m1.4-.1h.6m2.8 .3h.6m-.2 0h.6m.4-.3h.6m-11.5 .5h.6m-.3 0h.6m2.2 .1h.6m.5 0h.6m.4 0h.6m.5 0h.6m7.3 0h.6m-18 .2h.6m1.5 .2h.6m3.5-.1h.6m.6-.1h.6m1.4 0h.6m.1 0h.6m1.6 0h.6m-12.3 .5h.6m1.8 .2h.6m-.6-.2h.6m-.4 .1h.6m-.5 0h.6m-.1-.1h.6m-.5-.1h.6m.3 0h.6m.4 .1h.6m.3 .2h.6m.1-.1h.6m-.3-.1h.6m0-.1h.6m1.8 0h.6m-.3 .1h.6m0 .2h.6m-.3 0h.6m1.3 0h.6m.3 0h.6m-18.9 .3h.6m4.2-.1h.6m1.7-.1h.6m.7 .3h.6m.1-.1h.6m-.2-.1h.6m-.6-.1h.6m1.9 .3h.6m.6-.1h.6m2.4-.2h.6m.6 .2h.6m-16.5 .5h.6m1.9-.1h.6m.1-.1h.6m-.2 .1h.6m.6-.1h.6m-.4 0h.6m-.6 .2h.6m-.4-.2h.6m.5 0h.6m-.2-.1h.6m.7 .1h.6m-.3 .1h.6m.6 0h.6m1.4 .1h.6m-.3-.1h.6m-.5 0h.6m0 0h.6m-.5-.2h.6m-.4 .1h.6m.1-.1h.6m-9.8 .4h.6m.2 .2h.6m1.4 0h.6m-.1 .1h.6m.3-.3h.6m.6 .3h.6m-.4-.3h.6m-.4 .1h.6m-.2-.1h.6m-.5 .2h.6m.8-.2h.6m1.6 .1h.6m-12.1 .3h.6m.1 .2h.6m-.3-.2h.6m.8 0h.6m1.6 .2h.6m.1 0h.6m1.7-.1h.6m.9-.1h.6m1.4 .3h.6m-11.7 .4h.6m.3-.1h.6m.2-.1h.6m-.2 .2h.6m-.2-.2h.6m.9 .2h.6m0-.2h.6m1.1 .1h.6m0 0h.6m-.3 .1h.6m.6-.2h.6m5.3 0h.6m-17.8 .6h.6m1.5-.1h.6m1.2 .1h.6m3.1 0h.6m-.3-.1h.6m-.1-.1h.6m.7 0h.6m.3 .2h.6m1.1-.1h.6m-.4-.1h.6m-.4 0h.6m.1 .1h.6m-.2-.2h.6m-10.4 .4h.6m0 .1h.6m.4-.1h.6m-.5 .2h.6m.3 0h.6m-.3 0h.6m.2 .1h.6m.7-.1h.6m.3-.1h.6m0 .1h.6m.9 0h.6m.3 0h.6m3-.1h.6m-15.6 .5h.6m2.1 0h.6m2.6-.1h.6m.2-.1h.6m-.4 0h.6m1 .2h.6m-.3-.1h.6m.8 0h.6m-.4 .1h.6m-.5-.1h.6m0-.1h.6m4 .2h.6m-17.2 .3h.6m-.5 0h.6m-.3 0h.6m1-.1h.6m-.3 0h.6m1 .3h.6m.3-.2h.6m.6 0h.6m-.5 .2h.6m.1-.3h.6m-.1 .2h.6m-.1 0h.6m1.4 .1h.6m1.2-.3h.6m-.6 .3h.6m2.1 0h.6m1.1-.2h.6m-15.5 .3h.6m-.5 0h.6m-.5 .2h.6m.4 .1h.6m-.4-.2h.6m.1 .2h.6m.6-.2h.6m-.4-.1h.6m-.4 0h.6m.8 0h.6m.3 .2h.6m-.4-.2h.6m-.4 .2h.6m.1 .1h.6m7-.3h.6m-15.8 .7h.6m.4-.2h.6m0 0h.6m-.2 .2h.6m-.3-.1h.6m-.6 0h.6m0-.2h.6m.3 .2h.6m.1-.1h.6m0 .1h.6m-.1 0h.6m-.6-.2h.6m.8 .3h.6m-.3-.1h.6m-.5-.2h.6m-.4 .3h.6m-.5-.1h.6m-.1 .1h.6m-.5 0h.6m-.4-.3h.6m0 .1h.6m1.1-.1h.6m3.2 .3h.6m-17.5 .2h.6m.3 .1h.6m3 0h.6m-.2-.2h.6m-.5 .3h.6m-.4-.3h.6m.4 .1h.6m.3 0h.6m0-.1h.6m-.1 0h.6m.1 .1h.6m-.5-.1h.6m1.9 .1h.6m-.3 0h.6m-.5 .2h.6m.7-.1h.6m-.5 .1h.6m1-.3h.6m-12.4 .6h.6m-.4 .1h.6m.1-.1h.6m-.3-.2h.6m-.5 0h.6m-.5 .3h.6m.1-.3h.6m-.4 .2h.6m-.6 0h.6m.1 0h.6m.1 .1h.6m.4 0h.6m-.4-.3h.6m-.4 .1h.6m-.2 .2h.6m2.3-.3h.6m3.3 .2h.6m-19 .3h.6m2 .2h.6m3.9-.3h.6m1.2 .3h.6m.5-.2h.6m-.2 .2h.6m.1-.2h.6m2.1-.1h.6m2.5 .1h.6m1 .1h.6m2.5-.1h.6m-18.5 .6h.6m-.2 0h.6m-.2 0h.6m1.4-.2h.6m-.3 .1h.6m-.4 0h.6m-.4 0h.6m-.6-.1h.6m-.6 .1h.6m.1 0h.6m.1-.1h.6m-.6 .2h.6m-.2-.2h.6m-.1 .1h.6m-.3 0h.6m-.6 0h.6m-.5-.1h.6m-.5 .2h.6m-.2-.2h.6m.7 .2h.6m-.4-.2h.6m-.5 .1h.6m-.4-.2h.6m.4 .1h.6m-.4 .2h.6m.2-.2h.6m3.3-.1h.6m.2 .1h.6m1.1-.1h.6m-21.8 .6h.6m2.1 0h.6m-.3 .1h.6m.5 0h.6m-.2-.1h.6m-.2 0h.6m-.4-.1h.6m-.5-.1h.6m.2 0h.6m-.5 .3h.6m.1 0h.6m.3-.3h.6m-.5 .3h.6m-.6-.1h.6m-.4 0h.6m-.3-.1h.6m-.1-.1h.6m.2 .3h.6m-.2 0h.6m-.5 0h.6m-.5-.2h.6m-.1-.1h.6m-.5 .3h.6m1.2-.2h.6m.2 0h.6m-.2-.1h.6m1.6 0h.6m-.5 .1h.6m-14.2 .3h.6m.9 .3h.6m2.4-.3h.6m-.3 .1h.6m.7 .1h.6m-.3 0h.6m-.6 0h.6m.1 .1h.6m.2-.3h.6m-.6 .3h.6m-.5 0h.6m.2-.2h.6m-.4-.1h.6m-.6 .2h.6m.1 .1h.6m.6-.2h.6m1 0h.6m-.5-.1h.6m1.7 0h.6m2.5 .1h.6m-17.5 .4h.6m.1 .1h.6m2-.1h.6m.8 .2h.6m-.3 0h.6m-.4-.3h.6m-.3 0h.6m.3 .1h.6m-.5 .2h.6m.2-.2h.6m-.3 0h.6m.2 0h.6m-.4-.1h.6m-.4 .1h.6m-.4 .1h.6m.4 .1h.6m.6 0h.6m0-.2h.6m1.2 0h.6m-21.3 .6h.6m7.7-.3h.6m-.4 .1h.6m-.4 .2h.6m-.4-.2h.6m.7 .2h.6m-.2-.3h.6m-.6 .3h.6m0-.1h.6m-.5 0h.6m-.1 0h.6m-.2-.2h.6m-.1 .3h.6m-.3 0h.6m-.3-.3h.6m-.3 .3h.6m-.1-.2h.6m-.5-.1h.6m-.4 .3h.6m-.1-.2h.6m.4 .2h.6m-.2 0h.6m.1 0h.6m-.2-.2h.6m1.5 .1h.6m1.9-.1h.6m-13.3 .4h.6m-.5 .1h.6m-.5-.2h.6m-.5 0h.6m-.4 .3h.6m-.6-.2h.6m-.4 .1h.6m-.5 0h.6m-.3-.1h.6m-.6 0h.6m.2-.1h.6m-.5 0h.6m-.5 .3h.6m-.3 0h.6m-.4-.2h.6m-.5 0h.6m-.5 .1h.6m-.3-.1h.6m-.5 .1h.6m-.5-.1h.6m-.5 .1h.6m.5-.2h.6m-.3 0h.6m-.2 .3h.6m-.4-.2h.6m-.4 .2h.6m-.3-.3h.6m.2 0h.6m-.3 .1h.6m-.3-.1h.6m-.2 .2h.6m.5-.2h.6m-.1 .1h.6m-15 .6h.6m.2 0h.6m-.5-.3h.6m.9 .1h.6m1.6 0h.6m-.5 .2h.6m-.2-.1h.6m-.1 .1h.6m-.1-.1h.6m.4 0h.6m-.5-.2h.6m-.3 .2h.6m-.5-.2h.6m-.2 .3h.6m-.4-.1h.6m-.5 0h.6m-.5 .1h.6m-.1-.1h.6m-.1 .1h.6m-.5 0h.6m.2-.1h.6m-.6-.1h.6m-.5 0h.6m-.5 .1h.6m1.2-.1h.6m-.4 .1h.6m0 .1h.6m.1-.2h.6m0 0h.6m-.5 0h.6m-.1 .2h.6m-15.8 .2h.6m.8 .2h.6m-.5-.1h.6m-.4 .1h.6m2.5-.3h.6m-.6 .1h.6m.5 .2h.6m.1-.1h.6m0-.2h.6m-.2 0h.6m-.2 .3h.6m-.6-.3h.6m-.6 0h.6m-.1 0h.6m-.5 .2h.6m-.3 .1h.6m.4 0h.6m-.3-.3h.6m.6 0h.6m0 .2h.6m-.5 0h.6m-.6-.2h.6m-.3 0h.6m-.2 0h.6m1.3 .1h.6m-15.4 .5h.6m.6-.2h.6m-.4 .2h.6m1 0h.6m-.3 .1h.6m.7-.3h.6m-.6 .1h.6m-.4 .2h.6m-.5-.3h.6m.3 .1h.6m-.3 .1h.6m-.6-.2h.6m-.4 .2h.6m-.4 0h.6m-.4 0h.6m-.3-.2h.6m-.4 .1h.6m-.5 .2h.6m-.5-.2h.6m-.6 .2h.6m-.3-.1h.6m-.6-.2h.6m-.3 0h.6m-.3 .3h.6m-.5-.3h.6m-.4 .2h.6m1.2 0h.6m-.5-.2h.6m0 .3h.6m-.4-.3h.6m-.3 0h.6m0 .1h.6m.1 .1h.6m-.2 .1h.6m.5 0h.6m-14.1 .2h.6m-.6 .1h.6m2.6-.2h.6m-.2 0h.6m.1 0h.6m-.2 .1h.6m-.3 .2h.6m.2-.3h.6m-.6 .1h.6m0 .1h.6m-.4 .1h.6m-.5-.1h.6m-.3 .1h.6m-.5-.1h.6m-.4-.1h.6m-.5 0h.6m-.4 .1h.6m-.5 .1h.6m-.2-.1h.6m0-.1h.6m0 0h.6m-.2 0h.6m0 .1h.6m-.5 0h.6m-.5 0h.6m1.2-.1h.6m-.5 .1h.6m-.4-.1h.6m-11.4 .4h.6m.2 .2h.6m1.3-.2h.6m-.1 .2h.6m0 0h.6m-.5-.2h.6m-.4 0h.6m.1 0h.6m-.5 0h.6m-.4 .1h.6m-.5-.2h.6m-.2 .1h.6m-.6 0h.6m-.5 0h.6m-.5 0h.6m-.6 .2h.6m-.3 0h.6m-.3-.3h.6m-.1 .3h.6m-.5-.3h.6m-.6 .3h.6m-.2 0h.6m-.5-.3h.6m-.3 .1h.6m-.6 0h.6m-.5 .2h.6m-.6 0h.6m-.3 0h.6m-.3 0h.6m-.5-.2h.6m.2 0h.6m-.6 .2h.6m-.5 0h.6m0-.3h.6m-.4 .2h.6m1.7-.1h.6m.6 .2h.6m-19.1 .2h.6m2.2-.1h.6m-.2 .3h.6m.2-.2h.6m-.3 .2h.6m-.5-.3h.6m-.6 .1h.6m0 .1h.6m-.2 0h.6m-.6 .1h.6m-.3-.1h.6m-.2 .1h.6m-.3-.3h.6m-.5 .1h.6m-.5 .2h.6m-.6-.2h.6m-.5 .1h.6m-.4 0h.6m.2-.1h.6m-.4-.1h.6m-.4 .3h.6m-.5-.2h.6m-.6-.1h.6m-.5 .2h.6m-.6 .1h.6m-.4-.2h.6m0 .2h.6m-.6-.2h.6m-.3 .1h.6m-.4-.2h.6m-.5 0h.6m-.5 0h.6m-.4 0h.6m-.4 .3h.6m-.5 0h.6m-.5-.1h.6m-.6 .1h.6m-.6-.1h.6m-.4-.2h.6m-.6 .2h.6m-.3 .1h.6m-.3 0h.6m-.1 0h.6m-.5-.1h.6m0 .1h.6m-.5-.2h.6m-.5-.1h.6m.9 .2h.6m-.4 0h.6m-.4 0h.6m-.2-.1h.6m-.3 .2h.6m.5-.1h.6m1.9-.2h.6m-16.1 .5h.6m-.1 .2h.6m.1-.3h.6m.4 .2h.6m1.5-.1h.6m-.5 .1h.6m-.4-.1h.6m-.5 .1h.6m-.6-.1h.6m-.5 .2h.6m0 0h.6m-.6-.1h.6m-.3-.1h.6m-.4 .2h.6m-.4-.1h.6m-.6 .1h.6m-.4 0h.6m-.4-.2h.6m-.4 0h.6m-.5 .1h.6m-.6-.2h.6m-.5 .3h.6m-.3-.3h.6m-.6 0h.6m-.4 0h.6m.1 0h.6m-.6 .2h.6m-.4-.1h.6m-.5 0h.6m-.4-.1h.6m-.6 .2h.6m-.5 0h.6m-.6 .1h.6m-.3-.3h.6m-.5 .1h.6m-.4-.1h.6m-.4 0h.6m-.1 0h.6m-.5 .1h.6m-.3 .2h.6m-.1 0h.6m-.5-.3h.6m-.5 0h.6m-.3 .2h.6m-.2 0h.6m-14.2 .2h.6m.1 .1h.6m-.2-.1h.6m2.1 .1h.6m-.3-.1h.6m-.3 .3h.6m-.5-.2h.6m-.2 0h.6m-.4 .1h.6m-.3 .1h.6m-.3 0h.6m.2 0h.6m-.5-.2h.6m-.6-.1h.6m.1 .2h.6m0 0h.6m-.6-.1h.6m-.6-.1h.6m-.2 .2h.6m-.5 .1h.6m-.3 0h.6m-.6 0h.6m-.5 0h.6m-.5 0h.6m-.3-.3h.6m-.5 .2h.6m.1-.1h.6m-.6 .2h.6m-.5-.2h.6m.3-.1h.6m-.4 .1h.6m-.4 .2h.6m-.3-.2h.6m-.6 0h.6m-.5-.1h.6m-.1 .2h.6m-.4-.2h.6m-.3 .3h.6m-.5 0h.6m-.4-.2h.6m-.4 .1h.6m-.3-.1h.6m-.6 .1h.6m-.6 0h.6m-.5-.2h.6m1.9 .3h.6m1.1-.1h.6m-22.4 .5h.6m3.2-.2h.6m1.5 .1h.6m-.5 .1h.6m.8-.2h.6m0-.1h.6m.8 0h.6m-.6 0h.6m-.5 .3h.6m-.5-.1h.6m-.6 .1h.6m-.5-.1h.6m-.3 .1h.6m.2-.2h.6m.3-.1h.6m-.6 0h.6m-.4 0h.6m-.5 0h.6m-.4 .3h.6m-.4-.1h.6m-.6-.1h.6m-.6 .1h.6m-.6 0h.6m-.1-.2h.6m-.5 .1h.6m0 .1h.6m-.2-.1h.6m.2 0h.6m-.6 .1h.6m-.1 .1h.6m-.4 0h.6m-.3-.1h.6m.2 .1h.6m2.3 0h.6m.7-.3h.6m-22 .5h.6m-.4 0h.6m.8 0h.6m5 0h.6m-.3 .2h.6m-.2-.3h.6m-.6 .2h.6m-.4 .1h.6m-.6 0h.6m.4-.3h.6m-.5 .1h.6m-.4 .1h.6m-.5-.2h.6m-.5 .1h.6m-.5 .2h.6m-.5-.3h.6m-.6 .1h.6m.4 .1h.6m-.4-.1h.6m-.5 .2h.6m-.4 0h.6m-.4-.2h.6m-.5 .1h.6m-.6 .1h.6m-.6 0h.6m-.1 0h.6m-.6-.3h.6m-.6 .3h.6m-.6-.3h.6m-.4 .3h.6m.1-.1h.6m-.5-.2h.6m-.5 .2h.6m-.1 0h.6m-.6-.2h.6m-.6 .3h.6m0-.3h.6m-.5 .2h.6m-.2 0h.6m-.4 .1h.6m-.6-.2h.6m-.1-.1h.6m.3 0h.6m-.2 .3h.6m-.2-.2h.6m.5 0h.6m-19.9 .3h.6m8.3 0h.6m.5 .2h.6m.2 .1h.6m-.3-.2h.6m-.4 0h.6m-.1 0h.6m-.6-.1h.6m-.4 0h.6m-.4 .2h.6m-.2 0h.6m-.4 .1h.6m-.5 0h.6m-.2 0h.6m-.6-.2h.6m-.6 .2h.6m-.4-.3h.6m-.4 0h.6m-.6 0h.6m-.4 .2h.6m-.5-.2h.6m-.4 0h.6m-.1 .2h.6m-.1-.2h.6m-.5 .2h.6m-.5-.2h.6m-.5 .1h.6m-.5-.1h.6m0 .1h.6m-.5 .2h.6m-.3-.2h.6m-.4 .2h.6m-.1 0h.6m0-.2h.6m-.5 .1h.6m-.3-.2h.6m-.4 0h.6m0 .2h.6m.4 0h.6m-16.7 .3h.6m.4 .2h.6m0-.1h.6m.1 .1h.6m.3 0h.6m.1-.2h.6m.4-.1h.6m.1 .2h.6m-.6-.2h.6m-.6 0h.6m-.4 .3h.6m0 0h.6m-.5-.3h.6m.4 0h.6m-.6 .1h.6m-.6 .1h.6m-.4 0h.6m-.3-.2h.6m-.6 .3h.6m-.5-.3h.6m-.4 .2h.6m-.6-.1h.6m-.5 .2h.6m-.2 0h.6m0 0h.6m-.2 0h.6m-.5-.1h.6m-.5 0h.6m-.5-.1h.6m-.5-.1h.6m-.6 0h.6m-.5 .3h.6m-.5-.2h.6m-.6 .1h.6m-.5 0h.6m-.5 .1h.6m-.6 0h.6m-.4-.3h.6m-.5 .3h.6m-.5-.2h.6m-.2 .2h.6m-.5-.2h.6m-.6 .2h.6m-.6-.1h.6m-.4 .1h.6m-.3-.3h.6m0 0h.6m-.5 .3h.6m.5-.3h.6m.1 .1h.6m0 .1h.6m2.5 .1h.6m-16.1 .1h.6m.5 0h.6m-.1 .1h.6m1.2-.1h.6m-.2 .3h.6m-.5 0h.6m.1-.3h.6m-.3 0h.6m-.5 0h.6m-.3 .2h.6m-.3 .1h.6m-.2-.2h.6m-.4 .2h.6m-.3 0h.6m-.5 0h.6m-.3-.2h.6m-.5 0h.6m-.4-.1h.6m-.2 .2h.6m-.5 .1h.6m-.4-.2h.6m-.3 0h.6m-.6-.1h.6m-.4 .2h.6m-.6 .1h.6m-.3-.3h.6m-.4 0h.6m-.1 .2h.6m-.3 .1h.6m-.3-.2h.6m0 0h.6m-.5 .1h.6m-.2 0h.6m-11.3 .5h.6m-.6-.1h.6m-.1-.2h.6m.5 .2h.6m-.5 0h.6m-.1-.2h.6m-.2 0h.6m-.2 .3h.6m-.3-.1h.6m-.6 .1h.6m-.5-.3h.6m.2 0h.6m-.6 .1h.6m-.5 .2h.6m-.6-.3h.6m-.6 .1h.6m-.5-.1h.6m-.5 .2h.6m-.4-.2h.6m.1 0h.6m-.5 .1h.6m-.2 .2h.6m-.5-.3h.6m-.2 .2h.6m-.3 0h.6m-.3 .1h.6m-.4 0h.6m-.6-.2h.6m-.4 .2h.6m-.1-.3h.6m-.5 .2h.6m-.5-.1h.6m-.4 0h.6m-.6-.1h.6m-.1 .2h.6m-.5 .1h.6m-.6-.3h.6m.1 0h.6m-.5 .1h.6m-.4-.1h.6m1.8 .1h.6m.2 .2h.6m-13.7 .2h.6m.1 .2h.6m-.3-.3h.6m.4 .3h.6m-.6-.1h.6m-.1 .1h.6m-.1-.3h.6m-.6 .3h.6m-.6-.3h.6m-.5 .2h.6m.3-.2h.6m.1 .1h.6m-.5-.1h.6m.1 .2h.6m-.6-.2h.6m-.5 0h.6m.2 .2h.6m-.6-.2h.6m-.5 .1h.6m-.3 .2h.6m-.4 0h.6m-.5-.3h.6m-.6 0h.6m-.5 .2h.6m-.5-.2h.6m-.4 .2h.6m-.2-.2h.6m-.1 .3h.6m-.4-.1h.6m-.5 0h.6m-.2-.2h.6m-.2 .2h.6m-.4-.2h.6m-.6 .3h.6m-.2-.1h.6m0 .1h.6m-15.1 .2h.6m3.3-.1h.6m.7 0h.6m-.2 0h.6m.3 .2h.6m.1 0h.6m-.5-.2h.6m0 0h.6m-.5 .1h.6m-.3-.1h.6m-.4 .3h.6m-.5-.2h.6m.2 .1h.6m-.5-.2h.6m-.6 .3h.6m-.5-.1h.6m-.4-.1h.6m-.5-.1h.6m.3 0h.6m-.4 .3h.6m-.1-.1h.6m-.4-.1h.6m-.5 0h.6m-.6 0h.6m-.6 .2h.6m-.5-.3h.6m-.5 .2h.6m-.4-.2h.6m-.2 .2h.6m.6-.2h.6m-.3 .3h.6m1.9-.1h.6m-18.3 .5h.6m2.9-.2h.6m2 0h.6m-.3-.1h.6m.3 0h.6m-.2 .2h.6m-.3 0h.6m.1-.2h.6m-.5 .1h.6m-.6 0h.6m-.6 .2h.6m.9-.2h.6m0 0h.6m.1 .1h.6m-.5-.2h.6m-.5 0h.6m.7 0h.6m-.5 0h.6m-.6 .2h.6m-.2-.1h.6m.7 0h.6m.3 .2h.6m-10.3 .2h.6m.9 0h.6m-.2-.1h.6m0 0h.6m-.1 .1h.6m-.5 0h.6m.3 .1h.6m-.5-.1h.6m-.4 .2h.6m-.1-.3h.6m-.3 .2h.6m-.6 0h.6m-.3 .1h.6m-.6-.3h.6m-.2 0h.6m-.4 0h.6m-.5 .1h.6m-.4 .2h.6m-.3-.1h.6m-.5 .1h.6m.2-.1h.6m0 .1h.6m-.3 0h.6m-.5-.3h.6m-.2 .2h.6m-.5 0h.6m-10.5 .4h.6m-.5 0h.6m.5-.2h.6m.3 .3h.6m-.3-.2h.6m-.5 .1h.6m-.2-.2h.6m-.5 .3h.6m-.5 0h.6m.4-.3h.6m0 .3h.6m-.2 0h.6m-.2-.2h.6m-.4 0h.6m-.4 .2h.6m-.3-.1h.6m-.1 0h.6m-.3-.2h.6m-.1 .3h.6m-.2-.1h.6m.4 0h.6m-.4-.1h.6m-11.7 .3h.6m5 .2h.6m-.5-.2h.6m-.4 .3h.6m-.2-.2h.6m-.4 .1h.6m-.6-.2h.6m-.1 .1h.6m-.5-.1h.6m.1 .1h.6m-.5 0h.6m-.2-.1h.6m-.1 .2h.6m-.4 0h.6m-.5-.2h.6m.3 .2h.6m-10.1 .2h.6m2.3 .2h.6m1.3-.2h.6m-.4 .2h.6m-.2 0h.6m1.1 .1h.6m1.2-.2h.6m.2 0h.6m.5 .1h.6m-.5 0h.6m-10.5 .4h.6m.6 0h.6m2 .1h.6m.2-.3h.6m-.2 0h.6m.5 .2h.6m-.1 0h.6m.4 0h.6m-.6-.1h.6m-.2 .1h.6m-.3 .1h.6m.7-.3h.6m-15.5 .7h.6m4.6-.1h.6m4.4-.1h.6m1.5 .2h.6m-.5-.2h.6m3.9-.1h.6m-19.9 .7h.6m3.4 0h.6m4.3 0h.6m-.1 0h.6m2.3-.3h.6m-.2 .3h.6m1.2 0h.6m2.8-.3h.6m-14.2 .7h.6m10.6-.3h.6m-.4 0h.6m.5 .2h.6m-.3 .1h.6m-2.9 .1h.6m.6 0h.6" stroke="#c00006" stroke-width="0.6" stroke-opacity="0.55" fill="none"/>
<path d="M335 144.4h.6m-2.8 1.1h.6m.9-.2h.6m-4.6 .5h.6m.3 .4h.6m.6-.1h.6m0 0h.6m1.7-.1h.6m-1 .4h.6m-3.9 .4h.6m-.4 .1h.6m-.3 .2h.6m-.5-.3h.6m-.6 0h.6m3.4 .3h.6m-3.9 .4h.6m2 0h.6m15.6 .4h.6m-15.7 .2h.6m6.7 .1h.6m-11.9 .4h.6m.1 .1h.6m-.1-.1h.6m.1-.2h.6m1.2 .3h.6m-.3-.1h.6m5.5-.2h.6m-11 .6h.6m.3 0h.6m0 0h.6m1.1-.1h.6m.5 .1h.6m-3.8 .5h.6m-.1 0h.6m.1-.2h.6m.9 0h.6m-5.8 .6h.6m0-.1h.6m-.3 0h.6m-.4 .1h.6m.9-.1h.6m0-.2h.6m-.1 .3h.6m-.3-.3h.6m.2 .1h.6m13.5-.1h.6m-18.2 .4h.6m-.2 .1h.6m.2-.1h.6m-.3 .3h.6m-1.5 .2h.6m-.5 .1h.6m-.4 0h.6m.8-.1h.6m.4 .2h.6m-.3-.1h.6m-3.2 .4h.6m-.3-.1h.6m-.4 0h.6m1.1 .1h.6m15.6 .1h.6m-21.1 .3h.6m.6-.1h.6m.3 .1h.6m-.4 0h.6m-.6 .1h.6m.2-.3h.6m-.2 0h.6m-.2 0h.6m15.2 .1h.6m7.2-.1h.6m-27.8 .5h.6m-.1 .1h.6m0-.1h.6m.4 .1h.6m.4-.1h.6m1.4-.1h.6m-5.5 .4h.6m-.5 .1h.6m.1 0h.6m.5-.1h.6m-.6 0h.6m.7 0h.6m-.1 .2h.6m15.1-.1h.6m-19.5 .4h.6m.2 0h.6m.5 .1h.6m.6-.1h.6m.5 .1h.6m17.4-.2h.6m-24 .5h.6m0 .1h.6m.6-.1h.6m.1 0h.6m-.3 .2h.6m-.6-.1h.6m-.1 0h.6m15.7 .1h.6m-19.3 .3h.6m.4-.2h.6m.1 .3h.6m0 0h.6m-.5-.1h.6m-.2 .1h.6m-.6-.3h.6m-.3 .1h.6m-.5 .1h.6m-.3-.2h.6m2.2 0h.6m7.1 0h.6m10.3 .1h.6m-27 .5h.6m1.2 0h.6m-.3 0h.6m-.5-.1h.6m-.5 0h.6m-.4-.1h.6m0 .2h.6m-.2 0h.6m-.4 .1h.6m.4-.1h.6m0 .1h.6m0 0h.6m7.7 0h.6m5.3 0h.6m-19.1 .3h.6m.5 0h.6m-2 .3h.6m.5 .1h.6m.5 0h.6m-.6 0h.6m0-.2h.6m-.3 .1h.6m-.6 0h.6m-.5 0h.6m.2 .1h.6m.3-.1h.6m-.1 0h.6m16.6-.1h.6m0 .2h.6m-25 .3h.6m.4 .2h.6m-.3-.3h.6m.8 0h.6m.5 .3h.6m-.4-.3h.6m-.4 .3h.6m-.5 0h.6m.2-.3h.6m.1 .3h.6m19.6-.2h.6m-24.8 .4h.6m-.1 .2h.6m-.4 0h.6m-.5-.1h.6m-.6-.2h.6m-.3 0h.6m0 0h.6m1.2 .3h.6m-.5-.1h.6m-.5 .1h.6m-6 .3h.6m1.7-.2h.6m.1 .1h.6m-.1 0h.6m.4 .1h.6m-.6-.2h.6m.4 0h.6m.5 .3h.6m-5.7 .2h.6m-.4 .1h.6m-.5-.2h.6m-.2 .3h.6m-.2-.1h.6m-.4-.2h.6m-.3 0h.6m.1 .1h.6m0-.1h.6m-.5 0h.6m-.5 0h.6m1.8 .1h.6m13.1 .1h.6m-21.2 .5h.6m2.8-.3h.6m-.5 0h.6m-.1 .1h.6m-.1 0h.6m-.5-.1h.6m-.2 .1h.6m18.1 .1h.6m-22.9 .4h.6m.2-.2h.6m-.2 .2h.6m-.4 0h.6m-.1-.1h.6m-.4 0h.6m1 .2h.6m17.3-.2h.6m-23.6 .3h.6m2 .2h.6m.4 .1h.6m0-.1h.6m-.4 .1h.6m-.3 0h.6m-1.3 .2h.6m.8 0h.6m1 .2h.6m11.8 0h.6m-.2-.3h.6m-18.8 .6h.6m-.3 .1h.6m-.5 0h.6m.4-.2h.6m.3 0h.6m-.2 .1h.6m-.3 .1h.6m-.5-.3h.6m.4 .2h.6m12.5 0h.6m-18.8 .5h.6m1.1-.2h.6m-.4-.1h.6m-.6 .1h.6m2.5 0h.6m-.5 .2h.6m.3-.2h.6m17.5 0h.6m-23.2 .3h.6m-.1 .2h.6m-.2-.1h.6m.2 .1h.6m.2-.2h.6m-.4 0h.6m.5 .2h.6m-6 .4h.6m.3 0h.6m-.6 0h.6m-.5-.1h.6m-.5 0h.6m-.3 0h.6m2.2 0h.6m-3.7 .3h.6m.3 .2h.6m-.6-.1h.6m-.4 .2h.6m-.4 0h.6m1.5-.3h.6m-.4 .3h.6m-2.8 .1h.6m-.5 0h.6m-.2 0h.6m-.3 0h.6m0 .1h.6m-.6 .2h.6m-.1-.1h.6m-3.8 .5h.6m-.3-.1h.6m1.1 0h.6m-.6-.2h.6m.7 .4h.6m12.1 .3h.6m-17.1 .2h.6m.6-.1h.6m2.5 .3h.6m-4.2 .1h.6m.2 0h.6m1 .1h.6m-3.4 .3h.6m.6 .3h.6m.1-.1h.6m-2.8 .3h.6m-.6 .4h.6m-.3 .1h.6m-.2 .3h.6m-.8 .4h.6m.1 .4h.6m0 .1h.6m-4.8 .5h.6m.3-.3h.6m5.2 .1h.6m-4.7 .4h.6m2.1 .8h.6" stroke="#5a5a5a" stroke-width="0.6" stroke-opacity="0.55" fill="none"/>
<path d="M335.6 137.9h.6m-.6 0h.6m1.8 0h.6m.3 0h.6m.3 0h.6m-.3 0h.6m-.2-.1h.6m-5.9 .5h.6m-.2-.2h.6m.7 0h.6m-.2 0h.6m-.6 0h.6m-.4 .2h.6m-.2-.3h.6m-.5 .3h.6m-.5-.3h.6m-.5 .2h.6m-.5 .1h.6m-.6-.3h.6m-.2 .2h.6m-.5 0h.6m-.2 .1h.6m-.4-.1h.6m-.5 .1h.6m-.4-.2h.6m-.5-.1h.6m-.6 .2h.6m-.1-.2h.6m.1 .1h.6m-.4 .2h.6m.6-.3h.6m-.1 .1h.6m-8.2 .4h.6m-.3 .2h.6m-.6-.2h.6m-.5 .2h.6m-.6 0h.6m.2-.1h.6m-.3 0h.6m-.5 .1h.6m-.5 0h.6m.2-.2h.6m-.6 .1h.6m-.5-.1h.6m-.4 0h.6m-.1-.1h.6m-.6 .2h.6m-.2-.1h.6m-.3-.1h.6m-.5 .3h.6m-.5-.2h.6m-.5 .2h.6m-.6 0h.6m-.6-.2h.6m-.2 0h.6m-.6 .2h.6m.6-.2h.6m.1 .1h.6m-8.5 .4h.6m-.5-.1h.6m.6 .1h.6m-.4 .1h.6m-.4-.1h.6m.3 .1h.6m-.4-.2h.6m-.6 .1h.6m-.5-.1h.6m-.5 0h.6m0 .2h.6m-.5-.3h.6m-.1 .3h.6m-.4-.2h.6m-.3 0h.6m-.5 0h.6m-.2-.1h.6m-.2 .1h.6m-.4-.1h.6m-.4 .3h.6m-.5 0h.6m-.5-.2h.6m-.2-.1h.6m.3 .3h.6m-.3-.2h.6m.5 0h.6m-8.9 .6h.6m-.6-.2h.6m-.2 .1h.6m.4-.1h.6m-.6 0h.6m-.2 .1h.6m-.4-.2h.6m-.2 .3h.6m-.6-.2h.6m-.5 0h.6m-.3 .2h.6m-.6-.1h.6m-.5 0h.6m-.6 .1h.6m-.4 0h.6m-.5-.3h.6m-.6 .3h.6m-.4-.2h.6m-.5 0h.6m-.6 0h.6m-.4-.1h.6m-.5 .3h.6m-.3 0h.6m-.6-.2h.6m.3 .1h.6m-.1 .1h.6m-.3-.3h.6m-.5 .2h.6m-.2-.1h.6m-.5-.1h.6m-.2 .1h.6m.1-.1h.6m-.4 .1h.6m-7.4 .6h.6m0-.1h.6m-.3-.1h.6m-.2 0h.6m-.6 .1h.6m-.5-.1h.6m-.5 0h.6m-.5 0h.6m-.5 0h.6m0 .2h.6m-.4-.3h.6m-.4 0h.6m-.6 .1h.6m-.6 .1h.6m-.6-.2h.6m-.1 .1h.6m-.4-.1h.6m-.4 .1h.6m-.3-.1h.6m-.5 0h.6m-.5 .3h.6m.2 0h.6m-.6-.2h.6m0 .1h.6m-.4-.2h.6m-.1 .2h.6m.4 .1h.6m-9.9 .3h.6m.9-.1h.6m0 0h.6m-.5 .2h.6m-.1-.1h.6m-.2-.1h.6m-.1 .2h.6m-.6 0h.6m-.2-.3h.6m-.5 .3h.6m-.6-.2h.6m-.5 .1h.6m-.5 .1h.6m-.5 0h.6m-.5-.2h.6m-.4 .2h.6m-.5 0h.6m-.4-.2h.6m-.6 0h.6m-.6 .1h.6m-.5-.1h.6m-.5-.1h.6m-.6 .1h.6m-.4 .2h.6m-.6 0h.6m-.6-.3h.6m-.5 .1h.6m-.6 .2h.6m-.5 0h.6m-.6-.1h.6m-.5-.1h.6m-.4 .2h.6m-.6-.1h.6m-.6 .1h.6m-.4-.2h.6m-.5-.1h.6m-.4 .3h.6m-.6-.1h.6m-.4 .1h.6m-.5-.1h.6m-.5 0h.6m-.6 0h.6m-.5 0h.6m0-.2h.6m-.1 0h.6m.3 0h.6m-10.9 .6h.6m1 .1h.6m.5 0h.6m0-.2h.6m-.5 .1h.6m-.5 .1h.6m-.4-.3h.6m-.5 .1h.6m-.5 0h.6m-.3-.1h.6m-.1 0h.6m-.6 .1h.6m-.5 0h.6m-.5 .2h.6m-.5-.1h.6m0 .1h.6m-.5-.1h.6m-.5-.2h.6m-.3 .2h.6m-.6 0h.6m-.5-.1h.6m-.6-.1h.6m-.4 .2h.6m-.6-.1h.6m-.5 0h.6m-.5-.1h.6m-.5 .3h.6m-.5 0h.6m-.5-.2h.6m-.6 0h.6m-.4-.1h.6m-.6 .3h.6m-.4-.2h.6m-.6 .1h.6m-.5-.2h.6m-.5 .2h.6m-.5 0h.6m-.5 0h.6m-.5-.1h.6m-.5-.1h.6m-.4 .3h.6m-.2 0h.6m-.1-.1h.6m-8.4 .2h.6m.4 .3h.6m-.2-.2h.6m-.4 0h.6m-.1 .1h.6m-.1-.1h.6m-.5 0h.6m-.1 .1h.6m-.5 0h.6m-.3-.1h.6m-.6 .1h.6m-.5 .1h.6m-.6-.3h.6m-.5 0h.6m-.5 .2h.6m-.4-.1h.6m-.5 0h.6m-.5-.1h.6m-.4 .3h.6m-.4-.3h.6m-.6 .2h.6m-.5 0h.6m-.5 0h.6m-.4-.2h.6m-.5 0h.6m-.6 .1h.6m-.3-.1h.6m-.6 .3h.6m-.3-.1h.6m-.3-.1h.6m-.3 0h.6m-.6-.1h.6m.4 .3h.6m-.6-.1h.6m-.5 0h.6m-.4 0h.6m-.4-.2h.6m-.5 .3h.6m-.1-.1h.6m0 0h.6m-9.1 .3h.6m.2 0h.6m-.6 .1h.6m-.2 .1h.6m-.2-.2h.6m-.3 .2h.6m-.2-.2h.6m-.6-.1h.6m-.3 0h.6m-.5 .1h.6m-.5 .2h.6m-.4-.3h.6m-.6 0h.6m-.6 .3h.6m-.4-.3h.6m-.4 .3h.6m-.5 0h.6m-.6-.3h.6m-.5 0h.6m-.5 0h.6m-.6 .3h.6m-.5-.1h.6m-.6 0h.6m-.5 .1h.6m-.6-.1h.6m-.6 0h.6m-.5 0h.6m-.5-.1h.6m-.6 .1h.6m-.3 0h.6m-.5-.1h.6m-.6 .2h.6m-.5-.2h.6m-.4 0h.6m-.6 0h.6m.1-.1h.6m-.5 .2h.6m-.5-.2h.6m-.5 .3h.6m-.4-.3h.6m-.3 0h.6m-.5 .3h.6m.1-.3h.6m-.1 .2h.6m-.5-.1h.6m-.5 .1h.6m-.5 .1h.6m-.3 0h.6m-8.4 .1h.6m-.3 .2h.6m-.6 .1h.6m0-.1h.6m-.2 0h.6m-.5 .1h.6m-.5-.2h.6m-.6 .1h.6m-.5-.1h.6m-.3 .2h.6m-.6 0h.6m-.4-.3h.6m-.4 .3h.6m-.6-.2h.6m-.4 .2h.6m-.5-.2h.6m-.3 .1h.6m-.5-.2h.6m-.6 0h.6m0 .3h.6m-.6-.1h.6m-.5-.1h.6m-.6 .1h.6m-.5 .1h.6m-.6-.2h.6m-.6-.1h.6m-.5 .2h.6m-.4-.2h.6m-.6 .1h.6m-.5-.1h.6m-.6 .3h.6m-.5-.2h.6m-.6 0h.6m-.6 0h.6m-.6 .1h.6m-.6 .1h.6m-.4-.3h.6m-.6 0h.6m-.3 .1h.6m-.2 .2h.6m-.6-.2h.6m-.6 0h.6m-.3 0h.6m-.5 .1h.6m-.5 0h.6m-.3-.1h.6m-.6 .2h.6m-.1-.3h.6m-.5 0h.6m.1 .2h.6m-.4-.2h.6m-.1 .2h.6m-.4 0h.6m-9.3 .2h.6m.8 .3h.6m-.6-.3h.6m0 .1h.6m-.4 0h.6m-.6 .2h.6m-.5-.3h.6m-.1 .3h.6m-.5 0h.6m-.4-.1h.6m-.2 0h.6m-.5 0h.6m-.6-.1h.6m-.6 .2h.6m-.4-.1h.6m-.4 0h.6m-.6 .1h.6m-.6-.3h.6m-.6 0h.6m-.4 .3h.6m-.5-.3h.6m-.6 .3h.6m-.4-.2h.6m-.6 0h.6m-.5 0h.6m-.5-.1h.6m-.6 .2h.6m-.6 .1h.6m-.4 0h.6m-.6-.3h.6m-.6 .3h.6m-.5-.1h.6m-.5 .1h.6m-.6-.3h.6m-.6 0h.6m-.5 .2h.6m-.6-.2h.6m-.4 .2h.6m0 .1h.6m-.4 0h.6m-.5-.2h.6m-.5 .1h.6m-.3 .1h.6m-.5-.3h.6m-.6 .3h.6m-.2 0h.6m-.5-.1h.6m-.5 0h.6m-.5 .1h.6m.9-.3h.6m-11.4 .4h.6m1.5 .1h.6m-.6-.1h.6m-.3 .3h.6m0-.1h.6m-.1-.1h.6m-.4 .2h.6m-.4-.2h.6m-.5 0h.6m-.5-.1h.6m-.5 .1h.6m-.2 .2h.6m-.2-.2h.6m-.3-.1h.6m-.4 .2h.6m-.5-.2h.6m-.5 .1h.6m-.5 0h.6m-.4 0h.6m-.5 .2h.6m-.6-.3h.6m-.3 .2h.6m-.6-.2h.6m-.6 0h.6m-.3 .3h.6m-.4-.2h.6m-.5 0h.6m-.5 0h.6m-.6 .1h.6m-.3 0h.6m-.4-.2h.6m-.6 .3h.6m-.3-.1h.6m-.5 0h.6m-.4 0h.6m-.6-.1h.6m-.5-.1h.6m-.5 .1h.6m.2 .2h.6m-.5-.3h.6m-.4 0h.6m-.3 .1h.6m-.5 0h.6m-11.3 .6h.6m3-.3h.6m-.6 .3h.6m-.2-.3h.6m-.6 .2h.6m-.5-.1h.6m-.2-.1h.6m-.5 .1h.6m-.1 .2h.6m-.3 0h.6m-.6-.2h.6m-.6 0h.6m-.6 0h.6m-.5 0h.6m-.4 0h.6m-.4 .2h.6m-.4-.1h.6m-.5-.2h.6m-.2 .2h.6m-.5 0h.6m-.5 0h.6m-.4 .1h.6m-.5-.3h.6m-.6 .2h.6m-.5 0h.6m-.6-.1h.6m-.4 .2h.6m-.4-.3h.6m-.5 .1h.6m-.6 .2h.6m-.4-.1h.6m-.6-.2h.6m-.5 .2h.6m-.6-.2h.6m-.6 .3h.6m-.6-.2h.6m-.5-.1h.6m-.4 0h.6m-.5 0h.6m-.4 .2h.6m-.5 .1h.6m-.5-.3h.6m.1 .1h.6m-.6 .1h.6m-.5 .1h.6m-.6-.2h.6m.1 .2h.6m-.1 0h.6m.6-.1h.6m-.3-.1h.6m-9.8 .5h.6m.8-.2h.6m-.4 0h.6m-.4 .1h.6m-.3 .2h.6m-.6-.1h.6m-.6 0h.6m-.6-.2h.6m-.4 .3h.6m-.5-.2h.6m-.6 .2h.6m-.5-.1h.6m-.6 0h.6m-.4 .1h.6m-.6-.3h.6m-.6 .3h.6m-.6-.2h.6m-.6 .2h.6m-.5-.2h.6m-.4 .1h.6m-.5-.1h.6m-.5 0h.6m-.5 0h.6m-.5 0h.6m-.5 .1h.6m-.6-.1h.6m-.5 .2h.6m-.4-.3h.6m-.6 .3h.6m-.6 0h.6m-.5 0h.6m-.5-.1h.6m-.6-.2h.6m-.5 .2h.6m-.3 .1h.6m-.6-.1h.6m-.5-.2h.6m-.5 .1h.6m-.5 .1h.6m-.6 0h.6m-.6 .1h.6m-.3-.2h.6m-.4 .2h.6m-.5-.3h.6m-.6 .3h.6m-.2 0h.6m-.5-.1h.6m-.5 .1h.6m-.1-.3h.6m-.3 .2h.6m.2 .1h.6m-.2-.3h.6m-.6 .3h.6m1.4-.3h.6m-.3 .3h.6m-10.9 .1h.6m-.2 .1h.6m.9 .2h.6m-.2-.2h.6m-.6-.1h.6m-.1 .3h.6m-.5-.2h.6m-.5 0h.6m-.4-.1h.6m-.5 .3h.6m-.6-.1h.6m-.6 .1h.6m-.5-.1h.6m-.6-.2h.6m-.6 .3h.6m-.6-.1h.6m-.1 .1h.6m-.4-.3h.6m-.6 .2h.6m-.6-.2h.6m-.5 .2h.6m-.4 .1h.6m-.6-.3h.6m-.3 .1h.6m-.2 0h.6m-.6 0h.6m-.6 .2h.6m-.4-.2h.6m-.5-.1h.6m-.6 .3h.6m-.6-.3h.6m-.5 0h.6m-.6 .2h.6m-.4-.1h.6m-.6-.1h.6m-.4 .1h.6m-.6 .2h.6m-.2-.2h.6m-.4-.1h.6m-.6 .1h.6m-.4-.1h.6m-.5 .1h.6m-.1-.1h.6m-.2 .3h.6m-.4-.3h.6m-.2 .3h.6m-7.9 .3h.6m-.1-.2h.6m.1 .1h.6m-.6-.1h.6m-.3 .1h.6m-.5-.1h.6m-.3 .1h.6m-.6 .2h.6m-.1 0h.6m-.5-.2h.6m-.3 .1h.6m-.5 .1h.6m-.6 0h.6m-.5 0h.6m-.4 0h.6m-.4 0h.6m-.6-.2h.6m-.4 .1h.6m-.6 .1h.6m-.4-.2h.6m-.5-.1h.6m-.5 .1h.6m-.6 .1h.6m-.6 .1h.6m-.4-.2h.6m-.6 0h.6m-.5-.1h.6m-.5 .1h.6m-.3 .1h.6m-.6-.2h.6m-.3 0h.6m-.6 .2h.6m-.6 .1h.6m-.3 0h.6m-.4 0h.6m-.4-.3h.6m-.4 0h.6m-.4 .1h.6m-.5 .2h.6m.8 0h.6m.3-.2h.6m-13.8 .3h.6m1.9 0h.6m0 0h.6m-.3 .1h.6m-.5 0h.6m-.1-.1h.6m-.6 .1h.6m-.4 0h.6m0 .1h.6m-.3 0h.6m-.3 .1h.6m-.5 0h.6m-.1-.2h.6m-.3 .1h.6m-.4 0h.6m-.6-.1h.6m-.5-.1h.6m-.6 .3h.6m-.4-.2h.6m-.5 .2h.6m-.6-.3h.6m-.4 .2h.6m-.2-.1h.6m-.6 .2h.6m-.4 0h.6m-.6 0h.6m-.4-.3h.6m-.6 .1h.6m-.5-.1h.6m-.6 .2h.6m-.2-.2h.6m-.5 0h.6m-.3 .3h.6m-.3 0h.6m-.2 0h.6m-.6 0h.6m-.6 0h.6m-.3 0h.6m-.1-.1h.6m-.2 .1h.6m-.3-.1h.6m-.5-.1h.6m.4 0h.6m-.3 .2h.6m-9.1 .4h.6m-.4 0h.6m-.5 0h.6m-.5 0h.6m0 0h.6m-.5-.2h.6m-.5 0h.6m-.4 .2h.6m-.6-.3h.6m-.6 .2h.6m-.4 0h.6m-.4-.2h.6m-.6 .1h.6m-.2 .1h.6m-.5 .1h.6m-.4 0h.6m-.4-.1h.6m-.6 0h.6m-.3 0h.6m-.6-.2h.6m-.4 0h.6m-.6 .1h.6m-.5 .1h.6m-.5-.1h.6m-.6 .1h.6m-.5-.2h.6m-.3 .1h.6m-.5 .2h.6m-.5-.2h.6m-.6-.1h.6m-.3 .1h.6m-.6-.1h.6m-.6 .2h.6m-.6-.1h.6m-.4 .1h.6m-.4 .1h.6m-.6-.1h.6m-.4 .1h.6m-.6-.3h.6m-.5 .2h.6m-.5 0h.6m-.6-.2h.6m-.4 0h.6m-.6 0h.6m-.5 .2h.6m-.6 .1h.6m-.5 0h.6m-.6-.1h.6m-.3 .1h.6m-.3-.3h.6m-.4 .1h.6m-.3 0h.6m-.5 0h.6m-.5 0h.6m0 .2h.6m-.4-.2h.6m-7.6 .4h.6m.7 0h.6m-.3 0h.6m-.5 .1h.6m-.6 .1h.6m-.2-.2h.6m-.6 .2h.6m-.6-.1h.6m-.5-.1h.6m-.5 .1h.6m-.5 .1h.6m-.6-.3h.6m-.5 .1h.6m-.6 0h.6m-.6 0h.6m-.6-.1h.6m-.5 .3h.6m-.4-.2h.6m-.6-.1h.6m-.6 0h.6m-.2 0h.6m-.6 .2h.6m-.5-.2h.6m-.5 .2h.6m-.6 .1h.6m-.6-.2h.6m-.5-.1h.6m-.5 0h.6m-.5 0h.6m-.6 .2h.6m-.5 .1h.6m-.6 0h.6m-.6-.2h.6m-.5 .1h.6m-.4-.2h.6m-.1 .1h.6m-.4 .1h.6m-.5-.2h.6m.1 .2h.6m-.6 0h.6m-.5-.1h.6m-.1-.1h.6m0 .2h.6m-.3 .1h.6m.1-.2h.6m.2 .1h.6m-11.1 .3h.6m-.2 .1h.6m-.2-.2h.6m.9 0h.6m-.4 .3h.6m-.5-.1h.6m-.6-.1h.6m-.6 0h.6m.1 .2h.6m-.5-.1h.6m-.2-.1h.6m-.5 .1h.6m-.6 0h.6m-.3 0h.6m-.5-.1h.6m-.5 0h.6m-.6-.1h.6m-.4 0h.6m-.6 .2h.6m-.2-.2h.6m-.6 .2h.6m-.6 0h.6m-.4-.1h.6m-.4-.1h.6m-.6 .1h.6m-.5 .2h.6m-.6 0h.6m-.5 0h.6m-.6-.2h.6m-.6-.1h.6m-.3 .2h.6m-.6-.2h.6m-.1 .3h.6m-.6-.1h.6m-.1 .1h.6m-.6-.3h.6m-.6 0h.6m-.4 .2h.6m-.5-.1h.6m-.5 .2h.6m-.5-.3h.6m-.4 0h.6m.7 .1h.6m-.2 0h.6m.2-.1h.6m.2 0h.6m-11.5 .6h.6m-.5 .1h.6m.4-.3h.6m.3 .1h.6m-.3 .2h.6m-.4 0h.6m0 0h.6m-.4-.3h.6m-.3 .2h.6m-.4 .1h.6m-.4 0h.6m-.5 0h.6m-.6-.3h.6m-.5 .2h.6m-.5-.2h.6m-.6 .3h.6m-.6 0h.6m-.4-.2h.6m-.4 .1h.6m-.5 .1h.6m-.5-.2h.6m-.5 0h.6m-.5 .2h.6m-.5-.3h.6m-.6 .2h.6m-.6-.1h.6m-.6-.1h.6m-.5 .2h.6m-.5-.2h.6m-.4 .1h.6m-.6 .2h.6m-.4-.3h.6m-.6 .2h.6m-.6-.2h.6m-.5 .3h.6m-.6-.2h.6m-.5 0h.6m-.4 .2h.6m-.6-.3h.6m-.5 .1h.6m-.5-.1h.6m-.6 .3h.6m-.4-.3h.6m-.5 .3h.6m-.6-.1h.6m-.6-.1h.6m-.3-.1h.6m-.3 0h.6m-.3 0h.6m-.6 0h.6m-.3 .1h.6m-.2 .2h.6m-.3-.1h.6m.9 .1h.6m-.4 0h.6m-9 .2h.6m-.6-.1h.6m-.3 .3h.6m-.6-.1h.6m-.5 0h.6m-.1-.1h.6m-.6 0h.6m-.3-.1h.6m-.6 .2h.6m-.5 0h.6m-.6-.1h.6m-.6 0h.6m-.4 0h.6m-.5 0h.6m-.5 .1h.6m-.6 0h.6m-.5-.2h.6m-.6 0h.6m-.5 .1h.6m-.6 .1h.6m-.5-.1h.6m-.4-.1h.6m-.5 0h.6m-.4 .2h.6m-.6 .1h.6m-.5 0h.6m-.5 0h.6m-.6-.2h.6m-.5-.1h.6m-.5 .3h.6m-.5-.1h.6m-.6 0h.6m-.6 .1h.6m-.5-.2h.6m-.6 .1h.6m-.5-.1h.6m-.5 .2h.6m-.5-.3h.6m-.6 0h.6m-.6 .1h.6m-.5 .2h.6m-.5-.1h.6m-.3 .1h.6m-.3-.1h.6m-.6 0h.6m-.6 .1h.6m-.6 0h.6m-.5-.3h.6m-.5 .2h.6m-.5-.1h.6m-.4 .2h.6m-.6-.3h.6m-.6 .2h.6m-.3-.1h.6m-.6 .1h.6m-.5-.2h.6m-.5 0h.6m-.6 0h.6m-.5 .3h.6m-.3-.3h.6m-.5 .3h.6m-.6-.3h.6m-.5 .2h.6m-.5 0h.6m-.6 .1h.6m-.3-.3h.6m.7 .1h.6m-.3 0h.6m-.3 0h.6m-8.5 .6h.6m-.6-.2h.6m-.3-.1h.6m-.2 0h.6m-.4 0h.6m-.6 0h.6m-.6 0h.6m-.6 .1h.6m-.6 0h.6m-.2 .1h.6m-.5 .1h.6m-.5 0h.6m-.6-.3h.6m-.3 .2h.6m-.6-.2h.6m-.6 .1h.6m-.5-.1h.6m-.6 .3h.6m-.5-.2h.6m-.6 0h.6m-.5 0h.6m-.6 .1h.6m-.4 .1h.6m-.6-.3h.6m-.6 .3h.6m-.5-.2h.6m-.6 .1h.6m-.5-.1h.6m-.4 .2h.6m-.6 0h.6m-.5-.2h.6m-.4 .1h.6m-.6 0h.6m-.4-.2h.6m-.5 .3h.6m-.6 0h.6m-.2-.3h.6m-.5 .2h.6m-.6 .1h.6m-.3-.1h.6m-.6-.2h.6m-.6 0h.6m-.6 .3h.6m-.6 0h.6m-.2-.2h.6m-.4 .2h.6m-.6 0h.6m-.6-.1h.6m-.5 0h.6m-.6-.1h.6m-.3 0h.6m-.4-.1h.6m0 .3h.6m-.5-.2h.6m-.6 .1h.6m-.3 0h.6m-.3-.2h.6m-.5 .2h.6m-8.9 .3h.6m-.6 .1h.6m-.3 .1h.6m-.1 0h.6m0 0h.6m-.5-.2h.6m.1 .2h.6m-.6-.2h.6m-.5 0h.6m-.4 .1h.6m-.4 .1h.6m-.5-.2h.6m-.6-.1h.6m-.5 .2h.6m-.5 .1h.6m-.5-.3h.6m-.6 .1h.6m-.6 .2h.6m-.5 0h.6m-.5 0h.6m-.5 0h.6m-.6-.2h.6m-.6 0h.6m-.6 0h.6m-.6 .1h.6m-.4 .1h.6m-.5-.3h.6m-.6 0h.6m-.6 .1h.6m-.4-.1h.6m-.5 .2h.6m-.6-.2h.6m-.6 0h.6m-.4 .2h.6m-.6-.2h.6m-.5 .2h.6m-.6 .1h.6m-.5-.2h.6m-.6 0h.6m-.6 0h.6m-.6 .2h.6m-.6-.3h.6m-.3 .3h.6m-.6-.1h.6m-.6 .1h.6m-.6 0h.6m-.5-.1h.6m-.5-.2h.6m-.5 0h.6m-.6 .2h.6m-.5-.1h.6m-.4 .2h.6m-.4 0h.6m-.6-.2h.6m-.6 .2h.6m-.5-.3h.6m-.4 0h.6m-.5 .1h.6m-.6 .2h.6m-.6-.3h.6m-.6 .1h.6m-.3 0h.6m-.6-.1h.6m-.4 0h.6m-.3 .1h.6m-.6-.1h.6m-.6 .2h.6m-.5-.1h.6m-.5-.1h.6m-.4 .3h.6m-.5 0h.6m-.3-.1h.6m0 0h.6m-.2 0h.6m3 .1h.6m-16.7 .3h.6m2.7-.1h.6m1.2 0h.6m-.4 0h.6m-.6 .2h.6m-.4-.3h.6m-.1 0h.6m-.3 .1h.6m-.5 0h.6m-.4 0h.6m-.5-.1h.6m-.6 .1h.6m-.2 0h.6m-.3 0h.6m-.6 .1h.6m-.5-.1h.6m-.6 0h.6m-.4 .2h.6m-.5 0h.6m-.4-.3h.6m-.5 .1h.6m-.3 .1h.6m-.5-.1h.6m-.1 .2h.6m-.5-.3h.6m-.6 0h.6m-.5 .1h.6m-.5 0h.6m-.6 .1h.6m-.6-.1h.6m-.5 .2h.6m-.6 0h.6m-.4-.3h.6m-.6 .1h.6m-.5 .1h.6m-.6-.2h.6m-.6 0h.6m-.5 .3h.6m-.5-.3h.6m-.5 .3h.6m-.6-.3h.6m-.5 .1h.6m-.4 0h.6m-.5 .1h.6m-.5 .1h.6m-.5 0h.6m-.5-.3h.6m-.6 .2h.6m-.6-.1h.6m-.6 0h.6m-.3 .1h.6m-.6 0h.6m-.3 .1h.6m-.5-.2h.6m-.3-.1h.6m-.6 .3h.6m-.3 0h.6m-.5 0h.6m-.4-.2h.6m.3 .1h.6m-10.2 .5h.6m.2-.2h.6m0 .1h.6m-.2-.2h.6m-.5 0h.6m-.4 .1h.6m-.6 .2h.6m-.2 0h.6m-.6 0h.6m0-.1h.6m-.5-.1h.6m-.5 .1h.6m-.6 .1h.6m-.5-.3h.6m-.5 .3h.6m-.6-.3h.6m-.5 .2h.6m-.6 .1h.6m-.2 0h.6m-.6 0h.6m-.6-.2h.6m-.5 .2h.6m-.6-.2h.6m-.6-.1h.6m-.5 0h.6m-.6 .1h.6m-.5 .1h.6m-.6 .1h.6m-.5-.2h.6m-.6 .2h.6m-.4-.3h.6m-.6 .1h.6m-.5 0h.6m-.6 .2h.6m-.5-.1h.6m-.6 0h.6m-.5 0h.6m-.5 0h.6m-.4 0h.6m-.5 0h.6m-.4-.1h.6m-.5 .2h.6m-.6 0h.6m-.5-.1h.6m-.3 .1h.6m-.5-.2h.6m-.6 .1h.6m-.6 0h.6m-.5-.2h.6m-.5 .3h.6m-.6 0h.6m-.5-.3h.6m-.6 .1h.6m-.3 0h.6m-.5 .1h.6m-.5 .1h.6m0-.2h.6m-.4 .2h.6m-.5-.2h.6m-.2 0h.6m0 0h.6m-.2 .1h.6m-.3 .1h.6m.2-.2h.6m-.3 .1h.6m-11.4 .5h.6m.1-.1h.6m.1 .1h.6m-.3-.1h.6m.3 0h.6m-.6-.2h.6m-.5 .3h.6m-.5-.2h.6m-.6 0h.6m-.5 .1h.6m-.4-.2h.6m-.3 .3h.6m-.6 0h.6m-.4-.1h.6m-.5 0h.6m-.5 0h.6m-.4-.1h.6m-.5 .2h.6m-.5-.1h.6m-.5 0h.6m-.6-.2h.6m-.5 .1h.6m-.6 0h.6m-.6 .2h.6m-.5-.1h.6m-.6-.1h.6m-.5-.1h.6m-.6 .1h.6m-.6 0h.6m-.5 .1h.6m-.5 0h.6m-.6-.1h.6m-.5 0h.6m-.6 0h.6m-.5 .2h.6m-.6-.2h.6m-.5 0h.6m-.6 0h.6m-.6-.1h.6m-.6 .3h.6m-.6-.3h.6m-.5 .2h.6m-.6-.2h.6m-.6 .3h.6m-.5-.1h.6m-.6 0h.6m-.6-.2h.6m-.5 .2h.6m-.4-.1h.6m-.6-.1h.6m-.5 0h.6m-.6 .2h.6m-.5 0h.6m-.4 0h.6m-.6 0h.6m-.6 0h.6m-.4-.1h.6m-.6 0h.6m-.6 .1h.6m-.6 .1h.6m-.3-.2h.6m-.4 .1h.6m-.5-.2h.6m-.6 .2h.6m-.5 .1h.6m-.5-.1h.6m-.6 0h.6m-.5-.1h.6m-.6 0h.6m-.3 .2h.6m-.3-.1h.6m-.5 .1h.6m-.4-.3h.6m-.6 .1h.6m-.5 .2h.6m-.6-.2h.6m-.6 0h.6m-.5 .2h.6m-.4-.1h.6m-.4-.1h.6m-.1 .2h.6m-10.2 .2h.6m1-.1h.6m.6 .2h.6m-.4 0h.6m-.6-.1h.6m-.4 0h.6m-.5-.1h.6m-.2 .1h.6m-.5 .1h.6m-.6 .1h.6m-.4-.2h.6m-.5 .1h.6m-.5-.1h.6m-.4 0h.6m-.5 .1h.6m-.6-.1h.6m-.5 0h.6m-.5-.1h.6m-.5 .1h.6m-.2 0h.6m-.6 0h.6m-.6 0h.6m-.6 .1h.6m-.4 .1h.6m-.6-.2h.6m-.6 .1h.6m-.3 .1h.6m-.6 0h.6m-.6 0h.6m-.6 0h.6m-.5 0h.6m-.5-.1h.6m-.3-.2h.6m-.6 .3h.6m-.5-.3h.6m-.4 0h.6m-.6 0h.6m-.5 .2h.6m-.6 0h.6m-.4 0h.6m-.5-.1h.6m-.5 .1h.6m-.6-.2h.6m-.5 .2h.6m-.4-.1h.6m-.5 .1h.6m-.4-.1h.6m-.4 .1h.6m-.4-.1h.6m-.5 0h.6m-.4-.1h.6m-.5 .3h.6m-.5-.1h.6m0 0h.6m-7.9 .5h.6m-.3 0h.6m-.1 0h.6m-.3-.2h.6m-.2-.1h.6m-.5 .1h.6m-.4 0h.6m-.4 .2h.6m-.6-.1h.6m-.5 .1h.6m-.6-.3h.6m-.3 .2h.6m-.5-.1h.6m-.5 .2h.6m-.5-.3h.6m-.6 .1h.6m-.6 .1h.6m-.6-.1h.6m-.4 .1h.6m-.5 .1h.6m-.6-.3h.6m-.6 .2h.6m-.4-.2h.6m-.6 .2h.6m-.5 .1h.6m-.3-.1h.6m-.5 .1h.6m-.5-.2h.6m-.4 0h.6m-.6-.1h.6m-.3 0h.6m-.6 .1h.6m-.6 .1h.6m-.5 .1h.6m-.6-.1h.6m-.6-.1h.6m-.5 .1h.6m-.5-.2h.6m-.5 .1h.6m-.4-.1h.6m-.6 0h.6m-.4 0h.6m-.6 0h.6m-.5 .3h.6m-.5-.3h.6m-.6 .3h.6m-.5-.2h.6m-.6 .1h.6m-.5-.1h.6m-.6-.1h.6m-.6 .1h.6m-.5 .2h.6m-.5-.3h.6m-.6 .2h.6m-.5 .1h.6m-.3-.2h.6m-.5 .1h.6m-.4-.2h.6m-.6 .2h.6m-.5 .1h.6m-.4-.1h.6m-.5 0h.6m-8.5 .4h.6m-.6 0h.6m.3 0h.6m-.3 .1h.6m-.6-.2h.6m-.4 .1h.6m-.4-.2h.6m-.4 0h.6m-.5 .2h.6m-.4 .1h.6m-.6-.2h.6m-.4 .1h.6m-.6-.2h.6m-.4 .1h.6m-.3 .1h.6m-.3 0h.6m-.6-.1h.6m0 0h.6m-.5 .2h.6m-.6-.3h.6m-.4 0h.6m-.5 .1h.6m-.6-.1h.6m-.5 0h.6m-.4 .3h.6m-.5-.3h.6m-.6 0h.6m-.5 .2h.6m-.5-.2h.6m-.6 .2h.6m-.5 0h.6m-.6 .1h.6m-.6 0h.6m-.6 0h.6m-.5-.1h.6m-.5 .1h.6m-.3-.3h.6m-.4 .1h.6m-.6 0h.6m-.5 .1h.6m-.4 0h.6m-.5 0h.6m-.5-.2h.6m-.5 0h.6m-.6 .2h.6m-.5-.1h.6m-.5 .1h.6m-.6 0h.6m-.1 0h.6m-.4-.2h.6m-.5 0h.6m-.5 .3h.6m-.5 0h.6m-.6-.2h.6m-.4 .1h.6m-.3-.1h.6m-.4 0h.6m-.6 .1h.6m-.3 .1h.6m-.4-.1h.6m-.4 .1h.6m-11.4 .3h.6m.6 .1h.6m.7-.2h.6m-.1-.1h.6m-.2 .2h.6m-.6 0h.6m0 .1h.6m-.5 0h.6m-.3 0h.6m-.4 0h.6m-.5-.2h.6m-.4 .1h.6m-.4 .1h.6m-.6-.3h.6m-.6 .2h.6m-.5 0h.6m-.6-.2h.6m-.6 .2h.6m-.5-.1h.6m-.4 .1h.6m-.6 .1h.6m-.4 0h.6m-.5-.1h.6m-.6-.1h.6m-.5 0h.6m-.5-.1h.6m-.6 .1h.6m-.5 .2h.6m-.6-.2h.6m-.5-.1h.6m-.2 .2h.6m-.6-.2h.6m-.4 .3h.6m-.5 0h.6m-.6 0h.6m-.6 0h.6m-.4-.3h.6m-.6 .2h.6m-.6-.1h.6m-.6 0h.6m-.5 .2h.6m-.6 0h.6m-.4-.2h.6m-.5 .2h.6m-.5-.2h.6m-.6 0h.6m-.5 .1h.6m-.6-.2h.6m-.5 .2h.6m-.6 .1h.6m-.5-.1h.6m-.4-.2h.6m-.5 0h.6m-.5 0h.6m-.4 .2h.6m-.5 0h.6m-.6 .1h.6m-.3 0h.6m-.6-.2h.6m-.4 0h.6m-.6 0h.6m-.5 0h.6m-.4 0h.6m-.6-.1h.6m-.5 .3h.6m-.2-.3h.6m-.6 .3h.6m-.5-.2h.6m-.5 .2h.6m-.4-.1h.6m.5-.2h.6m-9.3 .7h.6m-.4 0h.6m-.1-.2h.6m-.4 .1h.6m.6 .1h.6m-.6-.1h.6m-.6 0h.6m-.3-.1h.6m-.6 .2h.6m-.5 0h.6m-.6-.1h.6m-.5 0h.6m-.6 0h.6m-.5-.1h.6m-.5 .1h.6m-.5-.1h.6m-.5 0h.6m-.5-.1h.6m-.6 .1h.6m-.6 0h.6m-.5-.1h.6m-.6 .2h.6m-.5 0h.6m-.6-.2h.6m-.6 .3h.6m-.6-.3h.6m-.5 .2h.6m-.5-.1h.6m-.5 0h.6m-.3 .2h.6m-.4-.2h.6m-.6 .2h.6m-.5-.3h.6m-.6 0h.6m-.5 .3h.6m-.6-.2h.6m-.5-.1h.6m-.6 .2h.6m-.5 .1h.6m-.6-.3h.6m-.5 0h.6m-.6 .1h.6m-.5 .2h.6m-.6-.1h.6m-.5 0h.6m-.6-.1h.6m-.6 0h.6m-.4 .2h.6m-.6-.1h.6m-.6 .1h.6m-.5 0h.6m-.6 0h.6m-.5-.1h.6m-.6 0h.6m-.6 0h.6m-.6 .1h.6m-.5-.2h.6m-.6 .1h.6m-.6-.2h.6m-.5 .2h.6m-.5-.2h.6m-.3 .2h.6m-.6 0h.6m-.5 0h.6m-.6-.1h.6m-.5 .2h.6m-.5-.2h.6m-.3 0h.6m-.5 .1h.6m-.6-.2h.6m-.5 .3h.6m-.6-.3h.6m-.1 0h.6m-.5 .1h.6m-.6 .2h.6m-.1-.1h.6m-.1 0h.6m-9.5 .4h.6m.5-.1h.6m-.3 .2h.6m-.3-.2h.6m-.6-.1h.6m-.2 .1h.6m-.3 .1h.6m-.3 0h.6m-.4-.1h.6m-.6 .1h.6m-.5 .1h.6m-.5-.2h.6m-.6 0h.6m-.5 0h.6m-.3 .1h.6m-.5-.2h.6m-.5 0h.6m-.5 0h.6m-.6 .1h.6m-.6-.1h.6m-.5 .3h.6m-.5-.1h.6m-.6-.2h.6m-.5 0h.6m-.5 .2h.6m-.5-.2h.6m-.6 .1h.6m-.5 .1h.6m-.4-.2h.6m-.5 .2h.6m-.5 .1h.6m-.6 0h.6m-.6 0h.6m-.5-.1h.6m-.6 .1h.6m-.6 0h.6m-.3-.2h.6m-.6 .2h.6m-.5-.2h.6m-.6-.1h.6m-.6 .1h.6m-.6 0h.6m-.6-.1h.6m-.5 0h.6m-.6 0h.6m-.5 .1h.6m-.6 .2h.6m-.5 0h.6m-.6 0h.6m-.5-.2h.6m-.5 .1h.6m-.5 0h.6m-.6-.1h.6m-.6 .1h.6m-.5-.2h.6m-.5 .2h.6m-.5 .1h.6m-.5-.2h.6m-.3-.1h.6m-.6 .3h.6m-.6-.1h.6m-.6-.2h.6m-.5 .3h.6m-.6 0h.6m-.6-.2h.6m-.6-.1h.6m-.3 .3h.6m-.6-.2h.6m-.5 .2h.6m-.4-.1h.6m-.5-.1h.6m-.3 .2h.6m-.3 0h.6m-.4 0h.6m-.6-.3h.6m-.4 .1h.6m-.6-.1h.6m-.3 .1h.6m-8.3 .5h.6m-.6-.1h.6m-.1-.1h.6m-.3 .2h.6m-.6 0h.6m-.2-.2h.6m-.6 .1h.6m-.5-.1h.6m-.4 0h.6m-.6 .2h.6m-.2 0h.6m-.6-.2h.6m-.6 .1h.6m-.3 0h.6m-.6 0h.6m-.5-.1h.6m-.5 .1h.6m-.6-.1h.6m-.4 .3h.6m-.5-.1h.6m-.5 .1h.6m-.5-.3h.6m-.6 0h.6m-.6 .2h.6m-.5-.2h.6m-.4 0h.6m-.4 .1h.6m-.4-.1h.6m-.6 .1h.6m-.6 0h.6m-.6 0h.6m-.5 .2h.6m-.6 0h.6m-.5-.1h.6m-.5-.1h.6m-.6 .2h.6m-.4-.2h.6m-.5 .2h.6m-.6-.2h.6m-.5 .2h.6m-.5-.1h.6m-.6 0h.6m-.5 .1h.6m-.6-.3h.6m-.5 .2h.6m-.6 .1h.6m-.6-.1h.6m-.5 .1h.6m-.5 0h.6m-.6-.1h.6m-.6 0h.6m-.5 0h.6m-.4-.2h.6m-.5 .2h.6m-.6-.1h.6m-.5 .2h.6m-.6-.1h.6m-.5-.1h.6m-.6 0h.6m-.5-.1h.6m-.4 .3h.6m-.5 0h.6m-.3-.1h.6m-.3 .1h.6m-.3-.2h.6m-.2 .2h.6m-.5-.1h.6m-.5 0h.6m-.5 .1h.6m-.5 0h.6m-.4-.2h.6m-.3 .2h.6m-.2-.2h.6m-9.8 .5h.6m.1 .1h.6m.3 0h.6m-.3-.2h.6m-.3-.1h.6m-.4 0h.6m-.3 .1h.6m-.6 .2h.6m-.6 0h.6m-.5-.3h.6m-.6 .2h.6m-.6-.1h.6m-.4 0h.6m-.5 0h.6m-.6-.1h.6m-.5 .2h.6m-.6-.1h.6m-.5 0h.6m-.6 .2h.6m-.5-.1h.6m-.6 0h.6m-.5 .1h.6m-.6-.1h.6m-.6 .1h.6m-.5-.1h.6m-.6-.2h.6m-.6 0h.6m-.5 0h.6m-.6 .3h.6m-.6-.3h.6m-.6 .2h.6m-.4-.2h.6m-.4 0h.6m-.6 .2h.6m-.5-.1h.6m-.6 0h.6m-.6 .2h.6m-.5 0h.6m-.6 0h.6m-.6-.3h.6m-.5 .1h.6m-.5-.1h.6m-.4 0h.6m-.4 .1h.6m-.4-.1h.6m-.5 .1h.6m-.6-.1h.6m-.4 .1h.6m-.5 .2h.6m-.5 0h.6m-.6-.3h.6m-.3 .2h.6m-.6-.1h.6m-.5-.1h.6m-.4 .3h.6m-.5-.2h.6m-.5 0h.6m-.5 .2h.6m-.5 0h.6m-.4-.2h.6m-.6-.1h.6m-.6 0h.6m-.5 .1h.6m-.3-.1h.6m-.5 .3h.6m0-.2h.6m-.3-.1h.6m-.3 .2h.6m-.2 .1h.6m-.2-.1h.6m-10.9 .4h.6m-.2-.1h.6m-.1 .2h.6m.9-.2h.6m-.6 0h.6m-.2 .1h.6m-.5 0h.6m-.4 .1h.6m-.6 0h.6m-.6-.2h.6m-.3 .2h.6m-.6 0h.6m-.5 0h.6m-.6 0h.6m-.5-.3h.6m-.3 .3h.6m-.6-.3h.6m-.5 0h.6m-.6 0h.6m-.5 0h.6m-.5 .2h.6m-.2-.1h.6m-.5 .1h.6m-.6-.1h.6m-.6 0h.6m-.6 0h.6m-.5-.1h.6m-.6 0h.6m-.4 .1h.6m-.6-.1h.6m-.6 .1h.6m-.4 .2h.6m-.6-.1h.6m-.6-.1h.6m-.5 .2h.6m-.5-.2h.6m-.5 .1h.6m-.6-.2h.6m-.5 .3h.6m-.5-.3h.6m-.5 .2h.6m-.6 .1h.6m-.5-.2h.6m-.6 .1h.6m-.5-.2h.6m-.6 .3h.6m-.5-.3h.6m-.6 .3h.6m-.5-.1h.6m-.5 0h.6m-.6 .1h.6m-.6-.2h.6m-.5-.1h.6m-.6 .2h.6m-.4 .1h.6m-.6 0h.6m-.5 0h.6m-.5 0h.6m-.4 0h.6m-.5-.2h.6m-.6-.1h.6m-.3 .3h.6m-.6 0h.6m-.4 0h.6m-.6 0h.6m-.5-.3h.6m-.6 0h.6m-.5 .1h.6m-.5 .2h.6m-.5 0h.6m-.5-.2h.6m-.1 .2h.6m-.5-.1h.6m.1-.1h.6m-8.6 .6h.6m-.2 0h.6m0-.3h.6m-.3 .1h.6m-.5 .1h.6m-.5-.2h.6m-.2 .3h.6m-.6-.1h.6m-.4 .1h.6m-.5-.2h.6m-.5 .1h.6m-.5-.2h.6m-.5 0h.6m-.5 .1h.6m-.5 .1h.6m-.4-.1h.6m-.5-.1h.6m-.5 .2h.6m-.6-.1h.6m-.4 .2h.6m-.4-.1h.6m-.6-.2h.6m-.6 .2h.6m-.5 0h.6m-.4-.1h.6m-.6-.1h.6m-.4 .3h.6m-.5-.3h.6m-.5 .3h.6m-.6-.2h.6m-.6-.1h.6m-.5 0h.6m-.3 0h.6m-.6 .1h.6m-.3 0h.6m-.6 0h.6m-.6 .1h.6m-.6-.2h.6m-.4 .3h.6m-.5 0h.6m-.4 0h.6m-.5-.1h.6m-.6 0h.6m-.5 0h.6m-.5-.2h.6m-.6 0h.6m-.6 .2h.6m-.5 0h.6m-.5 .1h.6m-.6 0h.6m-.2-.2h.6m-.6-.1h.6m-.5 .1h.6m-.6-.1h.6m-.3 0h.6m-.6 0h.6m-.4 .2h.6m-.4-.1h.6m-.5 .2h.6m-.5-.3h.6m.1 .2h.6m-.1 0h.6m-9.6 .4h.6m.3 .1h.6m.6-.2h.6m-.3 .1h.6m-.6-.2h.6m-.6 .3h.6m-.4-.1h.6m-.6 .1h.6m-.5-.3h.6m-.5 .2h.6m-.5-.2h.6m-.6 .2h.6m-.5-.1h.6m-.5 0h.6m-.5 .1h.6m-.6 0h.6m-.6-.1h.6m-.5-.1h.6m-.3 .1h.6m-.6-.1h.6m-.6 .3h.6m-.3-.1h.6m-.6-.2h.6m-.5 .1h.6m-.5-.1h.6m-.5 .1h.6m-.5 .1h.6m-.5 0h.6m-.6 0h.6m-.6-.1h.6m-.6-.1h.6m-.5 .3h.6m-.4 0h.6m-.6-.2h.6m-.6-.1h.6m-.5 .2h.6m-.5 .1h.6m-.6-.1h.6m-.6-.2h.6m-.5 .1h.6m-.5 0h.6m-.5 .2h.6m-.5-.2h.6m-.4-.1h.6m-.6 .3h.6m-.5-.1h.6m-.5-.1h.6m-.6 .1h.6m-.6-.1h.6m-.5 0h.6m-.5-.1h.6m-.6 0h.6m-.5 .1h.6m-.6 0h.6m-.6-.1h.6m-.3 0h.6m-.5 .1h.6m-.5 .1h.6m-.3-.1h.6m-.6-.1h.6m-.4 .2h.6m-.3-.1h.6m-.3 .2h.6m-.2-.2h.6m-.3-.1h.6m-.3 0h.6m.4 0h.6m1.2 .3h.6m-10.6 .4h.6m-.2-.3h.6m-.5 0h.6m-.6 .1h.6m-.4-.1h.6m-.6 .1h.6m-.3-.1h.6m-.4 .3h.6m-.4 0h.6m-.6-.2h.6m-.3-.1h.6m-.4 .2h.6m-.5 .1h.6m-.5 0h.6m-.6-.1h.6m-.3 0h.6m-.6-.1h.6m-.6 0h.6m-.5 .1h.6m-.6-.2h.6m-.4 .3h.6m-.6-.3h.6m-.5 0h.6m-.5 .1h.6m-.5 .1h.6m-.6 0h.6m-.5 .1h.6m-.6-.1h.6m-.4 .1h.6m-.5 0h.6m-.6 0h.6m-.5-.3h.6m-.5 .2h.6m-.6-.2h.6m-.5 .2h.6m-.3 0h.6m-.6-.1h.6m-.6 .1h.6m-.5 0h.6m-.3 0h.6m-.5 0h.6m-.5-.2h.6m-.5 .2h.6m-.6 0h.6m-.6-.2h.6m-.4 .2h.6m-.6 .1h.6m-.4 0h.6m-.5-.3h.6m-.5 .1h.6m-.6-.1h.6m-.5 .3h.6m-.4 0h.6m-.5-.1h.6m.3-.2h.6m-.5 0h.6m-.6 .3h.6m.4 0h.6m-.6-.2h.6m0 .2h.6m-11.6 .2h.6m2.1 .1h.6m-.2 .1h.6m-.5-.2h.6m-.5 0h.6m-.4 0h.6m-.3 0h.6m-.6 .2h.6m-.5-.2h.6m-.5 0h.6m-.6 .1h.6m-.4 0h.6m-.4 .1h.6m-.2 0h.6m-.6-.3h.6m-.5 .1h.6m-.6 0h.6m-.5 .2h.6m-.6-.1h.6m-.6 .1h.6m-.5-.2h.6m-.5 .1h.6m-.6 0h.6m-.5-.1h.6m-.6 .2h.6m-.5-.2h.6m-.5 0h.6m-.6-.1h.6m-.5 0h.6m-.4 .3h.6m-.5 0h.6m-.5-.3h.6m-.5 0h.6m-.6 .3h.6m-.6-.3h.6m-.5 .2h.6m-.6-.1h.6m-.5-.1h.6m-.6 .1h.6m-.6-.1h.6m-.5 .2h.6m-.5-.1h.6m-.5 .2h.6m-.6 0h.6m-.5-.3h.6m-.5 .2h.6m-.6 0h.6m-.5-.1h.6m-.6 .1h.6m-.2-.1h.6m-.6 .1h.6m-.3 .1h.6m-.6-.3h.6m-.4 .3h.6m-.4-.1h.6m-.6 0h.6m-.5-.1h.6m-.6 .1h.6m-.6 0h.6m-.2-.1h.6m-.3-.1h.6m-.4 .1h.6m-.6-.1h.6m1.6 0h.6m-10.6 .5h.6m-.5 0h.6m.1 .2h.6m-.4-.2h.6m-.5 .2h.6m-.4-.2h.6m-.5 0h.6m-.3 .1h.6m-.3-.1h.6m-.3 0h.6m-.6-.1h.6m-.2 .3h.6m-.3 0h.6m-.1-.1h.6m-.6-.2h.6m-.6 .3h.6m-.4 0h.6m-.6 0h.6m-.5-.1h.6m-.4 0h.6m-.5 .1h.6m-.5-.3h.6m-.5 .2h.6m-.5-.1h.6m-.6 0h.6m-.6 .2h.6m-.6-.3h.6m-.4 .1h.6m-.6 .1h.6m-.5 .1h.6m-.6-.2h.6m-.4 .2h.6m-.5-.3h.6m-.6 .3h.6m-.6-.1h.6m-.5 .1h.6m-.6 0h.6m-.6-.2h.6m-.5-.1h.6m-.6 .2h.6m-.5-.1h.6m-.5 .1h.6m-.6-.2h.6m-.5 .2h.6m-.6-.2h.6m-.6 .2h.6m-.5-.2h.6m-.3 .2h.6m-.6-.2h.6m-.6 0h.6m-.5 .3h.6m-.6-.3h.6m-.5 .1h.6m-.6 .1h.6m-.6-.1h.6m-.5 .1h.6m-.6 0h.6m-.4 0h.6m-.6 0h.6m-.6-.1h.6m-.5 0h.6m-.6 .1h.6m-.4 .1h.6m-.5-.1h.6m-.4-.1h.6m-.5 .2h.6m-.4-.1h.6m2.6-.2h.6m.2 .3h.6m-10.2 .1h.6m-.5 .1h.6m-.2 0h.6m-.2 .1h.6m-.6-.2h.6m-.5 .1h.6m-.5-.1h.6m-.6 0h.6m-.3 0h.6m-.5 .3h.6m-.6 0h.6m-.6-.1h.6m-.6-.1h.6m-.4 0h.6m-.6-.1h.6m0 .1h.6m-.5 .1h.6m-.5 0h.6m-.6 .1h.6m-.4 0h.6m-.6-.1h.6m-.6-.2h.6m-.5 .2h.6m-.3 .1h.6m-.6-.1h.6m-.5 0h.6m-.6 .1h.6m-.5-.3h.6m-.6 0h.6m-.4 0h.6m-.6 .1h.6m-.5 .1h.6m-.6-.2h.6m-.5 .3h.6m-.6-.1h.6m-.5-.2h.6m-.5 .2h.6m-.5-.2h.6m-.5 .1h.6m-.6 0h.6m-.5 0h.6m-.5-.1h.6m-.5 0h.6m-.5 .1h.6m-.5 .1h.6m-.5-.2h.6m-.1 .2h.6m-.5-.1h.6m0 0h.6m-.5 0h.6m-.4 0h.6m-.4 .1h.6m-.2-.1h.6m-.4 .1h.6m-.3 .1h.6m-.5-.3h.6m-10.8 .7h.6m1.1-.2h.6m-.2-.1h.6m-.3 .3h.6m-.6-.2h.6m-.3 .2h.6m-.3-.3h.6m-.3 0h.6m-.5 .1h.6m-.6 .1h.6m-.5-.1h.6m-.6 0h.6m-.3 .2h.6m-.2 0h.6m-.4 0h.6m-.6-.2h.6m-.4 .1h.6m-.6-.2h.6m-.4 .1h.6m-.6 0h.6m-.6-.1h.6m-.5 .1h.6m-.4-.1h.6m-.5 .2h.6m-.6 .1h.6m-.5-.2h.6m-.6 .1h.6m-.6 0h.6m-.5-.2h.6m-.6 .1h.6m-.6 .1h.6m-.5 .1h.6m-.6-.3h.6m-.6 .3h.6m-.5-.3h.6m-.4 .2h.6m-.5 .1h.6m-.6-.1h.6m-.5 .1h.6m-.3-.3h.6m-.5 0h.6m-.6 .1h.6m-.5 .1h.6m-.5-.2h.6m-.6 .2h.6m-.6-.1h.6m-.5 .2h.6m-.5-.2h.6m-.6 .1h.6m-.5-.2h.6m-.5 .3h.6m.2-.2h.6m-.6 0h.6m-.2 .1h.6m-.5 0h.6m-.4-.1h.6m-.5-.1h.6m-.5 .1h.6m.6 0h.6m-7.9 .3h.6m-.1 0h.6m-.4 .1h.6m-.5 0h.6m-.6 0h.6m-.4-.1h.6m-.5 .1h.6m-.5 .1h.6m-.6-.1h.6m-.5 .1h.6m-.5 0h.6m-.5 0h.6m-.6 0h.6m-.4 .1h.6m-.3-.1h.6m-.3-.2h.6m-.5 .2h.6m-.6 .1h.6m-.5-.2h.6m-.6 0h.6m-.6 .2h.6m-.4-.1h.6m-.6-.2h.6m-.5 .3h.6m-.1-.1h.6m-.5-.2h.6m-.5 .3h.6m-.3 0h.6m-.2-.1h.6m-.4 .1h.6m-.5 0h.6m-.5-.3h.6m-.6 .1h.6m-.6 .2h.6m-.6-.3h.6m0 .2h.6m-.6 0h.6m.2-.2h.6m-.6 .3h.6m-.5-.1h.6m-.5 0h.6m-.2-.2h.6m-.2 0h.6m.3 0h.6m-11 .4h.6m-.1 .1h.6m-.3-.1h.6m-.3 .2h.6m.5-.1h.6m-.1 0h.6m-.6 .1h.6m-.3-.2h.6m-.3 0h.6m-.4 .3h.6m-.4-.2h.6m-.4 .2h.6m-.3-.1h.6m-.5 .1h.6m-.6-.3h.6m-.3 0h.6m-.5 0h.6m-.4 0h.6m-.6 .1h.6m-.6 .1h.6m-.5-.1h.6m-.5 .1h.6m-.6 .1h.6m-.5-.3h.6m-.6 .3h.6m-.6-.3h.6m-.6 .3h.6m-.5-.1h.6m-.6 0h.6m-.5-.1h.6m-.5-.1h.6m-.4 .2h.6m-.5-.2h.6m-.4 .3h.6m-.4 0h.6m-.4-.2h.6m-.5-.1h.6m-.6 .3h.6m-.6-.1h.6m-.6-.2h.6m-.5 .2h.6m-.6-.2h.6m-.5 0h.6m-.6 0h.6m-.5 .1h.6m-.6 .2h.6m-.3-.2h.6m-.6-.1h.6m-.4 .3h.6m-.5-.3h.6m-.4 .2h.6m-.5 0h.6m-.5-.1h.6m-.5-.1h.6m-.3 .1h.6m-.4 0h.6m-.6-.1h.6m0 .2h.6m-.3 0h.6m-.1-.2h.6m-8.7 .4h.6m-.5 0h.6m-.1 .2h.6m-.6 .1h.6m-.6-.3h.6m-.1 0h.6m-.6 0h.6m-.5 .2h.6m-.4 .1h.6m-.4-.1h.6m-.1-.2h.6m-.4 .1h.6m-.3 0h.6m-.4 .2h.6m-.6-.2h.6m-.2 0h.6m-.6 .2h.6m-.6 0h.6m-.5-.1h.6m-.5-.1h.6m-.5 .1h.6m-.6-.1h.6m-.1 .2h.6m-.5-.3h.6m-.6 0h.6m-.4 0h.6m-.6 .3h.6m-.5-.1h.6m-.5 0h.6m-.6-.2h.6m-.6 .2h.6m-.6-.1h.6m-.6 0h.6m-.5 .1h.6m-.5 0h.6m-.5-.1h.6m-.6 .1h.6m-.6-.2h.6m-.4 .1h.6m-.5-.1h.6m-.3 .3h.6m-.6-.1h.6m.1-.2h.6m.2 .2h.6m.2 0h.6m.5 .1h.6m-10.1 .3h.6m-.2 0h.6m-.5 0h.6m-.3-.1h.6m.6 0h.6m-.4 .2h.6m-.1-.2h.6m-.6 .2h.6m-.4 0h.6m-.6 0h.6m-.5-.3h.6m-.4 .2h.6m-.5 .1h.6m-.6-.2h.6m-.5 .1h.6m-.4-.2h.6m-.5 0h.6m-.6 .3h.6m-.5-.2h.6m-.6-.1h.6m-.5 .1h.6m-.5 .2h.6m-.4-.1h.6m-.5-.1h.6m-.4-.1h.6m-.6 .1h.6m-.5 0h.6m-.3 .2h.6m-.6-.1h.6m-.3 .1h.6m-.5-.1h.6m-.3 .1h.6m-.5-.2h.6m-.5 .1h.6m-.5 .1h.6m-.6-.1h.6m-.5 .1h.6m-.4-.3h.6m-.4 .1h.6m-.3 .2h.6m-.6-.1h.6m-.5 0h.6m-.6-.2h.6m-.5 .1h.6m-.2 0h.6m-.6 .2h.6m-.3-.2h.6m-.5-.1h.6m-8.9 .7h.6m.6-.2h.6m.1 0h.6m-.4 .1h.6m-.4-.2h.6m-.4 .1h.6m-.6 0h.6m-.5-.1h.6m-.4 .1h.6m-.4 .2h.6m.3-.1h.6m-.4 .1h.6m-.4-.2h.6m-.4 .1h.6m-.6 0h.6m-.6 .1h.6m-.6-.3h.6m-.5 0h.6m-.4 .1h.6m-.5 .1h.6m-.6-.1h.6m-.5-.1h.6m-.6 .3h.6m-.4-.3h.6m-.5 .3h.6m-.6-.3h.6m-.2 .2h.6m-.6-.2h.6m-.5 .3h.6m-.6-.3h.6m-.5 .2h.6m-.6-.1h.6m-.6 .1h.6m-.5 .1h.6m-.3 0h.6m-.6-.3h.6m-.3 .2h.6m-.6 0h.6m-.5 .1h.6m-.5-.3h.6m-.4 .1h.6m-.6-.1h.6m-.2 0h.6m-.5 .3h.6m0-.1h.6m3.2-.2h.6m-12.4 .7h.6m-.2-.2h.6m-.3 .1h.6m.1 0h.6m-.3-.2h.6m.3 .1h.6m-.4 .1h.6m-.5 0h.6m-.3-.1h.6m-.3-.1h.6m-.6 .2h.6m-.5 0h.6m-.2-.2h.6m-.4 0h.6m-.4 .1h.6m-.5 0h.6m-.6 .1h.6m-.6 0h.6m-.4-.1h.6m-.5 .1h.6m-.6 .1h.6m-.5-.3h.6m-.3 .1h.6m-.5 0h.6m-.6 0h.6m-.5 .2h.6m-.4-.2h.6m-.2 0h.6m-.5 .2h.6m-.6-.2h.6m-.2-.1h.6m-.5 .2h.6m-.3 .1h.6m.2-.3h.6m-.1 .2h.6m1.4 .1h.6m-9.6 .4h.6m0-.3h.6m-.4 0h.6m-.2 .1h.6m.3 0h.6m-.3 0h.6m0-.1h.6m-.4 .1h.6m-.6 .2h.6m-.5 0h.6m-.5-.3h.6m-.5 .3h.6m-.5 0h.6m-.6-.3h.6m-.6 .3h.6m-.5-.3h.6m-.5 .2h.6m-.6-.2h.6m-.6 .2h.6m-.6 0h.6m-.3-.1h.6m-.6 .1h.6m-.1-.2h.6m-.4 .2h.6m-.4 .1h.6m-.5-.1h.6m-.4 0h.6m-.5-.1h.6m-.2 .1h.6m-.5 .1h.6m-.3-.2h.6m-.4 .2h.6m-.6 0h.6m-.3-.2h.6m.6 .2h.6m.5-.1h.6m-12.3 .3h.6m1.5 .1h.6m.1-.2h.6m-.3 0h.6m-.3 .2h.6m-.2-.1h.6m.3-.1h.6m-.6 .2h.6m-.3 0h.6m-.4-.2h.6m-.4 .1h.6m-.6 .2h.6m-.5-.2h.6m.1 .2h.6m.1-.1h.6m-.6 .1h.6m-.2-.1h.6m-.5 0h.6m-.6 0h.6m-.4-.1h.6m-.5 0h.6m-.5 .2h.6m-.6-.2h.6m-.2 .1h.6m.1 0h.6m-.1 0h.6m.2 0h.6m-.2-.1h.6m-.6 .2h.6m-7.5 .1h.6m-.4 0h.6m-.5 .2h.6m-.4 .1h.6m-.3-.1h.6m0 .1h.6m-.5-.3h.6m-.5 .1h.6m-.4 .2h.6m-.6-.3h.6m-.6 .3h.6m-.5-.1h.6m0 .1h.6m-.5-.3h.6m-.6 .2h.6m-.5 .1h.6m-.3-.3h.6m-.5 .1h.6m-.4 .2h.6m-.5-.3h.6m-.5 .2h.6m-.6-.2h.6m-.5 .1h.6m-.6 0h.6m-.2-.1h.6m-.5 0h.6m-.6 .3h.6m-.5-.2h.6m-.4-.1h.6m-.5 .2h.6m-.2-.2h.6m-.5 0h.6m-.6 .1h.6m-.3-.1h.6m-.6 .3h.6m-.4-.2h.6m-.5 .1h.6m-.3-.2h.6m-.6 .3h.6m.7-.3h.6m-9.3 .4h.6m.4 .3h.6m-.3-.2h.6m.5 0h.6m-.4-.1h.6m-.5 .2h.6m-.5 0h.6m-.3-.1h.6m-.4 .1h.6m-.6 0h.6m-.6-.2h.6m-.5 .3h.6m-.5-.1h.6m-.6 0h.6m-.1 0h.6m-.6-.1h.6m-.6 .1h.6m-.4 0h.6m-.5-.1h.6m-.6 .1h.6m-.6-.2h.6m-.4 .2h.6m-.6-.2h.6m-.6 0h.6m-.5 0h.6m-.5 .1h.6m-.6 .1h.6m-.4-.1h.6m-.4 .1h.6m-.6-.2h.6m.1 .2h.6m-.2-.1h.6m-.6 .1h.6m.3 0h.6m-.4 0h.6m-.6-.1h.6m-.4-.1h.6m-.1 .2h.6m-.6-.1h.6m-7.7 .5h.6m0 0h.6m-.5-.2h.6m.3 .3h.6m.2-.2h.6m.5 0h.6m-.2 .2h.6m-.2 0h.6m-.5-.3h.6m-.4 .1h.6m-.5-.1h.6m-.5 .3h.6m-.3-.1h.6m-.4-.1h.6m2.1 .2h.6m-8.2 .4h.6m-.4 0h.6m-.6-.1h.6m-.4 0h.6m0-.2h.6m-.5 .3h.6m-.5-.3h.6m-.3 .1h.6m-.3 0h.6m-.3 0h.6m.1 .1h.6m-.3 0h.6m-.5 .1h.6m-.5-.3h.6m-.6 0h.6m0 .3h.6m-.5-.3h.6m0 .3h.6m.2 0h.6m-.2-.2h.6m.1 0h.6m-8.1 .4h.6m.1 .2h.6m-.5 0h.6m.1-.1h.6m-.2 0h.6m-.4-.1h.6m-.3-.1h.6m-.5 .1h.6m-.4 .2h.6m-.4-.3h.6m-.5 .1h.6m-.6 .1h.6m-.5-.2h.6m-.4 .1h.6m-.3 .1h.6m-.4 .1h.6m-.6-.1h.6m-.6-.2h.6m-.4 .1h.6m-.6 .2h.6m-.6-.3h.6m.2 0h.6m.4 0h.6m-.6 0h.6m-.5 0h.6m-.1 .3h.6m-.6-.2h.6m-.4 0h.6m-.5 .2h.6m-8.1 .1h.6m.5 0h.6m.1 0h.6m-.4 .1h.6m-.2 .1h.6m-.3 .1h.6m-.4-.1h.6m-.4 0h.6m-.3 .1h.6m-.5 0h.6m-.2-.1h.6m-.5 0h.6m-.3 0h.6m0 0h.6m-.4-.2h.6m-.6 .2h.6m-.5 .1h.6m-.6-.1h.6m-.5-.2h.6m-.5 0h.6m-.5 .3h.6m-.6-.2h.6m-.4-.1h.6m-.3 .3h.6m-.5-.3h.6m0 0h.6m-.3 0h.6m-.3 .2h.6m.2 .1h.6m-7.1 .1h.6m-.3 0h.6m.5 .3h.6m-.5-.3h.6m-.6 .3h.6m-.5-.1h.6m-.3 0h.6m-.6 0h.6m-.4 0h.6m-.5 .1h.6m-.5-.3h.6m-.2 0h.6m-.5 .2h.6m-.5 .1h.6m-.3-.2h.6m-.3 0h.6m-.6 0h.6m-.6-.1h.6m-.5 .2h.6m-.5-.1h.6m-.4 0h.6m-.1 .2h.6m-.4-.1h.6m-.2-.2h.6m-.2 .1h.6m-.6 0h.6m-.4 .1h.6m-.3 .1h.6m-.5-.3h.6m-.5 .2h.6m-.2 .1h.6m1-.3h.6m-8.1 .6h.6m-.3 0h.6m-.5-.1h.6m-.2 .2h.6m.1-.1h.6m-.4-.2h.6m-.2 .3h.6m-.2-.2h.6m-.2 0h.6m-.5 0h.6m-.3 .2h.6m-6.3 .3h.6m.8 0h.6m-.4-.1h.6m.2-.1h.6m-.5 .2h.6m-.5-.1h.6m.4-.1h.6m-.6 .2h.6m-.5 0h.6m-.4-.1h.6m-.2 .1h.6m-.3-.2h.6m-.3 .3h.6m-.6 0h.6m-.5-.3h.6m-.4 .1h.6m-.6-.1h.6m-.5 .3h.6m-.6-.3h.6m-.2 .2h.6m-.6-.2h.6m.9 .1h.6m-.3 0h.6m.4 0h.6m-9.7 .6h.6m.4-.1h.6m.3 0h.6m2.3 .1h.6m-.5-.2h.6m-.5 0h.6m.3 .1h.6m-.2 0h.6m-.3 0h.6m-.6-.2h.6m-.5 .2h.6m-.5-.1h.6m-.5 0h.6m-.2 .2h.6m.4-.1h.6m-.3-.2h.6m1.6 0h.6m-8.8 .5h.6m-.4-.1h.6m0 .1h.6m.5-.1h.6m-.2 0h.6m-.5 0h.6m-.3 0h.6m.2 .1h.6m-.4 .1h.6m-.4-.1h.6m-.5 .1h.6m0-.1h.6m-.5 .2h.6m.4-.1h.6m-.3-.1h.6m-.5 0h.6m-7.7 .5h.6m.7 .1h.6m.4-.2h.6m-.1 .2h.6m-.4-.1h.6m.2 .1h.6m-.4 0h.6m-.3-.1h.6m.3 .1h.6m-.6 0h.6m-.3-.2h.6m2.4-.1h.6m-7.7 .6h.6m.7 0h.6m-.2 0h.6m-.5 0h.6m-.1-.2h.6m-.3 0h.6m.5 .1h.6m.1 0h.6m.9 0h.6" stroke="#b00008" stroke-width="0.6" stroke-opacity="0.7" fill="none"/>
<path d="M339.7 138.1h.6m-5.3 .5h.6m2.2 .1h.6m1.6 .4h.6m-.3-.3h.6m-.1 .2h.6m5.3-.1h.6m-1.5 .6h.6m-5.8 .2h.6m2 0h.6m-8.4 .4h.6m3.8 0h.6m5.6 .2h.6m-10.2 .2h.6m-.4 .2h.6m-1.5 .2h.6m4.4 0h.6m.7 .1h.6m.6 .1h.6m-11 .3h.6m3.9 .1h.6m-.5-.3h.6m3.7 .3h.6m1.8-.3h.6m-4.6 .7h.6m-3.7 .4h.6m-.8 .3h.6m0 .1h.6m.5 .2h.6m-.5-.1h.6m2.6 .2h.6m-7.8 .3h.6m.2-.1h.6m1.3 0h.6m-.6 .3h.6m3.1-.2h.6m-.1 .1h.6m-1.5 .4h.6m-10.6 .2h.6m3.3 .2h.6m.4 .1h.6m-.4 0h.6m-.6-.3h.6m.6 .3h.6m1.6-.1h.6m1.1 .1h.6m-6.8 .3h.6m5.8 0h.6m0-.1h.6m-.5-.1h.6m2.1 .1h.6m-.1 0h.6m-8.6 .3h.6m.2 .1h.6m-4.9 .4h.6m.3-.1h.6m2.9 .3h.6m.8-.3h.6m-.2 0h.6m.5 .3h.6m0-.3h.6m-5.7 .4h.6m-.3 .2h.6m1.5-.1h.6m-.5 .2h.6m-.5-.1h.6m.8 0h.6m.3-.1h.6m.4 .2h.6m.6 0h.6m-8.5 .2h.6m.3 .1h.6m3 0h.6m.4 .1h.6m.4 0h.6m-5.8 .1h.6m7.3 0h.6m-9.1 .7h.6m-.2 0h.6m-.4 0h.6m-.5-.2h.6m.7-.1h.6m1.6 .3h.6m.3-.2h.6m.5 0h.6m.4 .1h.6m-.5 0h.6m-9.1 .5h.6m1.4-.1h.6m.4 0h.6m-.1-.1h.6m.6 .2h.6m-.2-.1h.6m.7-.2h.6m-.5 .1h.6m-.6 0h.6m1 .1h.6m-10.4 .5h.6m1.2-.3h.6m1 .2h.6m-.2 .1h.6m1.8-.2h.6m-.4 0h.6m-.3 0h.6m.2 .2h.6m-.5-.1h.6m0-.1h.6m1.3 .1h.6m-5.4 .4h.6m2.4-.2h.6m.4 0h.6m-8.9 .4h.6m2.4 .1h.6m-.5 .1h.6m-.1 0h.6m-.2-.2h.6m-.1 .1h.6m.1 0h.6m1.5-.1h.6m1.4 .2h.6m-.4 .1h.6m-10.7 .3h.6m.9 .1h.6m4.7-.2h.6m-.3 .2h.6m-.6 0h.6m-8 .4h.6m2.7-.1h.6m-4.6 .3h.6m.8 .2h.6m.5 0h.6m-.3-.3h.6m2 .3h.6m-.4-.2h.6m-.2 .1h.6m-.5-.1h.6m.1 .2h.6m-.1-.3h.6m-2.1 .7h.6m2.3-.3h.6m-8.5 .4h.6m3.1 .2h.6m.5 0h.6m.4 0h.6m-.3-.1h.6m-6.1 .4h.6m0-.1h.6m.2 .1h.6m2.1 0h.6m.5 .2h.6m.1-.2h.6m-.6 .2h.6m1.1-.1h.6m-.5-.1h.6m-.4 .2h.6m-11.3 .3h.6m4.4-.2h.6m.5 .3h.6m.2-.2h.6m-.5 0h.6m-.6 0h.6m-.2 .2h.6m-.5-.3h.6m.9 0h.6m-.3 .3h.6m-.3-.1h.6m.4 .1h.6m2.5-.2h.6m-8.7 .6h.6m-.5-.3h.6m-.2 0h.6m0 0h.6m-.5 .1h.6m-.5 0h.6m-.3 .1h.6m-3.2 .5h.6m-.6 0h.6m.7-.2h.6m2 .2h.6m1.4-.3h.6m1 .1h.6m-8.3 .5h.6m-.5-.1h.6m.6 .2h.6m-.2-.1h.6m.4 0h.6m-.5-.1h.6m-.5 .1h.6m1.4-.1h.6m-.4 .1h.6m-.1-.1h.6m.8 0h.6m1.9-.1h.6m-9.2 .5h.6m2.1 .1h.6m.2-.1h.6m1.2 .2h.6m.1 0h.6m.1-.1h.6m-9.4 .5h.6m1.6-.2h.6m-.2-.1h.6m-.6 0h.6m.2 .2h.6m-.4 .1h.6m.8-.1h.6m2.3 .1h.6m-7.1 .3h.6m-.3-.1h.6m-.4 0h.6m5.2 .1h.6m.8-.1h.6m-11.9 .3h.6m3.1 0h.6m-.5 .1h.6m.3-.1h.6m.4 .3h.6m-.2-.1h.6m-.2 .1h.6m-.4-.1h.6m.2 0h.6m-.4-.2h.6m-.2 0h.6m-.3 .2h.6m-.6-.1h.6m.8 .1h.6m.3 0h.6m-10.9 .5h.6m3 0h.6m-.3-.3h.6m-.1 .1h.6m.1 0h.6m-.3 .1h.6m.3 .1h.6m0-.1h.6m0 .1h.6m0-.3h.6m-4.1 .7h.6m.1-.2h.6m-.3 0h.6m1.4-.1h.6m-3.1 .6h.6m1.5 .1h.6m-.5-.1h.6m-.3-.1h.6m-5 .3h.6m0 0h.6m-.5 .3h.6m.3-.3h.6m-.5 0h.6m-.3 .1h.6m-.5 .2h.6m.2-.1h.6m0 0h.6m1.9 .1h.6m-7.6 .1h.6m.3 .1h.6m1 0h.6m-.2 0h.6m-.5 .2h.6m2.6-.1h.6m-6 .4h.6m2.7-.1h.6m-.2 .1h.6m-6 .3h.6m4.7 0h.6m1.5 0h.6m.7-.1h.6m-.2 0h.6m-8.3 1.1h.6m-.5 0h.6m1.7-.1h.6m-4.5 .3h.6m1 .2h.6m.5 0h.6m.9-.1h.6m.7 0h.6m1.6-.2h.6m.5 0h.6m-11.5 .4h.6m1.4 .3h.6m.3-.2h.6m.2 0h.6m1.1 .1h.6m-1.7 .2h.6m-.5 .2h.6m.4 0h.6m-.1 0h.6m-.2 .1h.6m-.3-.3h.6m.8 .1h.6m-4.1 .4h.6m-.5 .2h.6m.2-.3h.6m.3 .1h.6m-.4 0h.6m2.1 0h.6m-6.9 .6h.6m2-.1h.6m2.7-.1h.6m1-.1h.6m1.3 .2h.6m-5 .2h.6m-.5 0h.6m-.5 0h.6m-.1 .2h.6m.1-.2h.6m-7.4 .6h.6m0-.2h.6m6.6 .2h.6m-7.5 .2h.6m1.5 .1h.6m3.5 .1h.6m-4.2 .4h.6m.5 0h.6m-7.8 .5h.6m2.5-.1h.6m1 .1h.6m2.9-.1h.6m-2.8 .2h.6m.3 0h.6m.5 0h.6m.3 .4h.6m-4.3 .4h.6m-.4 .2h.6" stroke="#3a3a3a" stroke-width="0.6" stroke-opacity="0.3" fill="none"/>
<path d="M482 143h.6m-3.4 .4h.6m-.9 .4h.6m3.4-.1h.6m-3.4 1.1h.6m-1.5 .9h.6m2.4 .2h.6m-2.8 .3h.6m.9 .1h.6m-3.6 .1h.6m1.9 0h.6m.3 0h.6m.5 0h.6m-4.2 .5h.6m.1 .1h.6m1 .1h.6m-.6-.2h.6m2.1-.1h.6m-5.4 .6h.6m-.3 .1h.6m-.3-.3h.6m-.3 .3h.6m1.1-.2h.6m-3.2 .6h.6m1-.1h.6m.7-.2h.6m1.2 0h.6m-6 .5h.6m2.1 .2h.6m.9-.2h.6m-4.6 .5h.6m-.4-.2h.6m1.7 .3h.6m-.6-.2h.6m-.3 .2h.6m-.2-.2h.6m1.5 .1h.6m-6.4 .2h.6m.6 .1h.6m.1-.1h.6m-.4 .1h.6m-.3 .1h.6m-.6-.1h.6m-.4-.1h.6m-.6 .1h.6m-.2-.1h.6m-.2 .3h.6m-.1-.1h.6m-.6 0h.6m-5.3 .4h.6m1.3-.2h.6m-.4 .2h.6m3.3-.1h.6m-7 .3h.6m1.4 0h.6m.7 .3h.6m-.2-.1h.6m-.5-.1h.6m.1 .1h.6m-.6-.1h.6m-4.7 .5h.6m-.2-.1h.6m0 .1h.6m-.4-.2h.6m.1 .2h.6m-.5-.1h.6m-.4 0h.6m-.6-.1h.6m-.4 .3h.6m-.4-.2h.6m0 0h.6m-3.6 .3h.6m-.3 .3h.6m-.2-.3h.6m0 0h.6m-.2 0h.6m-.2 .3h.6m-.6-.1h.6m-.5 0h.6m-.3 0h.6m.3-.2h.6m.2 .3h.6m-5.6 .4h.6m.7-.1h.6m0-.2h.6m-.5 .2h.6m-.2 .1h.6m-.2 0h.6m-.6 0h.6m-.5-.2h.6m-.4 .1h.6m-.5 .1h.6m-.6 0h.6m-.6-.3h.6m-.3 .2h.6m-.5-.2h.6m-.3 .1h.6m-.3 .2h.6m-.2-.2h.6m-.5 .1h.6m.2 .1h.6m-4.7 .4h.6m-.6 0h.6m-.4-.2h.6m.1 .2h.6m-.5-.3h.6m-.1 0h.6m-.5 .2h.6m-.4-.1h.6m-.2 .1h.6m-.4 .1h.6m-.5-.3h.6m-.5 0h.6m-.4 .2h.6m-.3-.1h.6m-.6-.1h.6m-3.9 .4h.6m-.5 0h.6m.2 0h.6m-.1 0h.6m-.6 .1h.6m-.2-.1h.6m-.1 .3h.6m-.3 0h.6m-.1 0h.6m-.5-.3h.6m.2 0h.6m-.5 .3h.6m-5.1 .3h.6m-.3-.2h.6m.3 .3h.6m-.5-.2h.6m-.4 .2h.6m-.3-.2h.6m-.3-.1h.6m-.2 0h.6m-.3 .3h.6m-.2-.1h.6m-.5 0h.6m-.5 0h.6m-.1 .1h.6m-.5-.1h.6m-4.4 .5h.6m.5 0h.6m-.1-.2h.6m-.6 .1h.6m-.3 .1h.6m-.4 0h.6m-.6-.3h.6m-.5 .1h.6m.1 .1h.6m-.3-.2h.6m-.5 .1h.6m1 0h.6m-5.3 .4h.6m-.6 .2h.6m-.6 0h.6m-.5-.2h.6m-.5 .1h.6m-.4-.2h.6m-.5 .3h.6m0-.1h.6m-.4 0h.6m-.6-.2h.6m-.6 .1h.6m-.1 .1h.6m-.3-.1h.6m0 .2h.6m-.4-.3h.6m-.4 .2h.6m.6-.1h.6m-6 .5h.6m0-.1h.6m-.2-.1h.6m0 .3h.6m-.2-.3h.6m-.4 0h.6m-.2 .3h.6m-.6-.1h.6m0 0h.6m-.5-.1h.6m-.5 .2h.6m-.3-.1h.6m.1-.2h.6m-6.1 .4h.6m.2 .2h.6m-.5 0h.6m-.6 .1h.6m-.2-.2h.6m-.3 .1h.6m-.3-.2h.6m-.4 .2h.6m-.4-.2h.6m-.5 0h.6m-.3 0h.6m-.5 .3h.6m-.5-.1h.6m.1-.2h.6m-.3 .2h.6m.4 .1h.6m-.2-.3h.6m-5.1 .4h.6m-.3 0h.6m-.4 .3h.6m-.5-.3h.6m-.3 .2h.6m-.5-.2h.6m0 0h.6m-.2 .1h.6m-.1 0h.6m-.5-.1h.6m-.5 .1h.6m-.3-.1h.6m-.6 .3h.6m-.5-.2h.6m-.3 .1h.6m-.2 .1h.6m-.3-.1h.6m-5.2 .4h.6m.3-.2h.6m-.1 0h.6m-.5 .1h.6m-.3 .1h.6m-.3 .1h.6m-.6-.3h.6m-.6 0h.6m-.3 .1h.6m-.5 0h.6m-.1-.1h.6m-.5 0h.6m0 0h.6m0 0h.6m-.5 .1h.6m-.4-.1h.6m-.1 .3h.6m-6.4 .2h.6m.8 0h.6m-.1 .1h.6m0-.2h.6m-.3 .3h.6m-.2-.3h.6m-.4 0h.6m-.6 .2h.6m-.5-.2h.6m-.6 0h.6m-.5 .1h.6m2.4 0h.6m-6.9 .6h.6m-.4 0h.6m-.1-.1h.6m-.4 .1h.6m-.1 0h.6m-.2-.3h.6m.2 0h.6m-.4 .3h.6m-.3-.1h.6m-.2-.1h.6m-.1 .2h.6m-.1-.1h.6m-5.5 .2h.6m-.6 .3h.6m1.5-.3h.6m-.4 .2h.6m-.3 .1h.6m0-.1h.6m-.3-.2h.6m-.4 .3h.6m-.2-.2h.6m.1 0h.6m-.1 .1h.6m-.4-.1h.6m-5.4 .6h.6m-.1 0h.6m.4-.3h.6m-.4 .1h.6m.2-.1h.6m-.5 0h.6m-.5 .3h.6m.3-.1h.6m-.3 .1h.6m-.2-.1h.6m-6.3 .4h.6m.8 0h.6m.8 0h.6m-.4 0h.6m-.4 0h.6m-.3 .1h.6m-.4 0h.6m-.4-.2h.6m.8 0h.6m.2 .2h.6m-6.2 .3h.6m2.6-.1h.6m-.4-.1h.6m-.5 0h.6m-.5 .3h.6m-.3 0h.6m-.5-.3h.6m-.6 .1h.6m-.1 0h.6m-4.9 .4h.6m-.6 .2h.6m1.9 0h.6m-.6 0h.6m1.4-.3h.6m-.1 .2h.6m.7 .1h.6m-6.4 .4h.6m.3-.3h.6m-.5 .1h.6m0 0h.6m-.6 .2h.6m1-.1h.6m-.5 0h.6m.6-.1h.6m-5.2 .6h.6m.5-.1h.6m-.2 0h.6m-.5-.1h.6m1.4 .1h.6m-.4-.1h.6m-.5 0h.6m.1 0h.6m-4.6 .4h.6m.1-.1h.6m.1 0h.6m.7 .3h.6m-.3-.1h.6m1.5-.2h.6m-5.9 .7h.6m0-.2h.6m-.4-.1h.6m1.1 0h.6m-.5 .1h.6m-3.9 .3h.6m.6 0h.6m.2 .6h.6m.2 0h.6m.8 .1h.6m.5-.1h.6m-5.3 .5h.6m1.8-.1h.6m-.4-.2h.6m-.5 0h.6m1.5 .3h.6m-5.7 .2h.6m1.3 0h.6m1-.1h.6m-4 .6h.6m-.4 0h.6m0 .5h.6m-2.6 .2h.6m3.9-.1h.6m.2 .1h.6m-3.1 .5h.6m-2.5 .3h.6m1.4 .1h.6m.3 .7h.6" stroke="#5a5a5a" stroke-width="0.6" stroke-opacity="0.55" fill="none"/>
<path d="M476 138.9h.6m.5 .1h.6m-.4 0h.6m.2 0h.6m-.3 0h.6m-.2 .1h.6m-.5-.2h.6m-.5 0h.6m-.5 .1h.6m.3-.1h.6m0 0h.6m.8 .1h.6m-9.5 .2h.6m2.3 .2h.6m-.3-.1h.6m-.5-.1h.6m-.3 .2h.6m-.6-.2h.6m-.4 0h.6m0 .2h.6m.2-.1h.6m-.3 0h.6m-.6 0h.6m-6.8 .6h.6m2.1 0h.6m0-.2h.6m.2 .1h.6m.5 .1h.6m-.3-.1h.6m-.5 0h.6m-.3 0h.6m-.5 0h.6m-.6-.2h.6m-.1 .3h.6m-.1-.3h.6m1.4 .1h.6m-6.3 .3h.6m.2 0h.6m-.5 .3h.6m.8-.1h.6m-.5-.2h.6m-.6 .1h.6m-.4-.1h.6m-.2 .3h.6m-.5 0h.6m-.4-.3h.6m-.3 .1h.6m-.5 .1h.6m.2-.1h.6m2-.1h.6m-9.4 .5h.6m1.6-.1h.6m-.4 .3h.6m1.5-.1h.6m-.2-.2h.6m-8.6 .5h.6m.6 0h.6m.1-.1h.6m-.1 .1h.6m.2-.1h.6m.6 .3h.6m-.2 0h.6m-.6-.2h.6m-.3 .1h.6m-.5 0h.6m-.5-.2h.6m-.3 .2h.6m-.5 .1h.6m-.6-.2h.6m-.4 .1h.6m-.4-.2h.6m-.4 .3h.6m-.2 0h.6m-.5-.1h.6m-.6 .1h.6m-.1-.2h.6m-.6-.1h.6m-.2 .3h.6m-.2-.1h.6m-.4-.1h.6m-.4 0h.6m-.1-.1h.6m.1 0h.6m-.3 .1h.6m-.5-.1h.6m-8.2 .6h.6m-.1 0h.6m1.7-.1h.6m-.4-.1h.6m.1 .1h.6m-.4-.1h.6m-.3 .3h.6m-.1-.1h.6m-.1-.1h.6m-.4 0h.6m-.4-.1h.6m0 0h.6m-.6 .1h.6m-.4-.1h.6m.4 .2h.6m-9.6 .5h.6m1.1-.1h.6m-.4-.2h.6m-.1 .3h.6m-.1-.1h.6m-.5-.2h.6m-.1 .1h.6m-.1 0h.6m-.4 0h.6m-.4 .2h.6m-.2-.2h.6m-.4 .1h.6m-.2 .1h.6m-.3 0h.6m-.5 0h.6m-.4-.1h.6m-.5 0h.6m-.4 .1h.6m-.6-.3h.6m.4 .3h.6m.3-.2h.6m.1 0h.6m-.2-.1h.6m-13 .7h.6m.3-.2h.6m3.8 0h.6m-.1 .2h.6m.2-.3h.6m-.6 .2h.6m-.2 .1h.6m-.6-.1h.6m-.4 .1h.6m-.4-.2h.6m-.3 0h.6m-.5 .1h.6m-.6-.2h.6m-.5 .1h.6m-.5 .1h.6m-.6-.2h.6m.4 .3h.6m-.6 0h.6m-.5-.2h.6m-.4 0h.6m-.5 0h.6m-.2 0h.6m-.3 0h.6m-.2-.1h.6m-.1 0h.6m.2 .1h.6m-.6 0h.6m-9.4 .5h.6m.8 0h.6m-.5-.2h.6m.3 .1h.6m.3 0h.6m-.5 0h.6m-.1 .2h.6m-.3-.1h.6m-.5 .1h.6m-.4 0h.6m-.2-.3h.6m-.3 0h.6m-.6 .3h.6m-.5-.1h.6m-.6-.1h.6m-.6 .1h.6m-.3 0h.6m-.5 .1h.6m-.5-.3h.6m-.6 .1h.6m-.4 0h.6m-.3-.1h.6m-.5 .1h.6m-.5 .2h.6m-.5-.3h.6m-.5 .1h.6m-.4 .1h.6m-.5 .1h.6m-.6-.3h.6m-.5 .3h.6m.2-.1h.6m-.3-.1h.6m-11.7 .3h.6m2.1 .2h.6m2.3-.2h.6m-.5 0h.6m-.5 0h.6m-.1 .2h.6m-.5 .1h.6m-.6-.2h.6m-.3 .2h.6m-.4 0h.6m-.5-.3h.6m-.5 .2h.6m-.6 0h.6m-.6-.2h.6m-.5 .3h.6m.2-.3h.6m-.4 0h.6m-.5 .2h.6m-.5-.1h.6m-.5 .2h.6m-.6-.2h.6m-.4 .2h.6m-.4-.2h.6m-.6-.1h.6m-.6 .2h.6m-.4-.1h.6m-.5 .2h.6m-.6-.1h.6m-.4 0h.6m-.4-.2h.6m-.3 0h.6m-.2 .1h.6m0 .2h.6m-8.6 .3h.6m-.3-.1h.6m.6 .1h.6m-.2 0h.6m.2-.2h.6m-.4 .3h.6m-.6 0h.6m-.5-.2h.6m0 0h.6m-.5 0h.6m-.3 0h.6m-.3 0h.6m-.4 0h.6m-.4 .1h.6m-.4 0h.6m-.5 0h.6m-.5-.1h.6m-.5 0h.6m-.4 .2h.6m-.4-.1h.6m-.6 0h.6m-.3 0h.6m-.4 0h.6m-.5-.2h.6m-.1 .2h.6m-.3 0h.6m-.5 0h.6m-.3-.2h.6m-.3 .1h.6m-.5 .2h.6m-9.5 .3h.6m-.4-.2h.6m2 .2h.6m-.4-.1h.6m-.1 0h.6m-.2-.1h.6m-.4 .2h.6m-.1-.1h.6m-.6 .2h.6m-.2-.3h.6m-.5 .1h.6m0 .1h.6m-.5 .1h.6m-.4 0h.6m-.4-.2h.6m-.6 .2h.6m-.4-.2h.6m-.5 0h.6m-.4 0h.6m-.6 0h.6m-.6 .1h.6m-.5-.1h.6m-.6 .1h.6m-.5 0h.6m-.4-.1h.6m-.5 0h.6m-.4 .2h.6m-.6 0h.6m-.3 0h.6m-.5-.1h.6m-.2 0h.6m-.5-.1h.6m-.4 0h.6m-.5-.1h.6m-.6 .2h.6m-7.1 .3h.6m-.2-.1h.6m-.4 0h.6m0 .1h.6m-.6 .2h.6m0-.2h.6m-.4 .2h.6m-.1-.1h.6m-.3-.1h.6m-.1 .2h.6m-.5-.1h.6m-.4 0h.6m-.4-.2h.6m-.4 .2h.6m-.5 .1h.6m-.4 0h.6m-.5 0h.6m-.6-.2h.6m-.6-.1h.6m-.5 0h.6m-.5 .3h.6m-.6 0h.6m-.4 0h.6m-.2-.2h.6m-.6 0h.6m.1 0h.6m-.6 .2h.6m-.4-.3h.6m.2 .3h.6m-.4-.1h.6m-.5-.1h.6m0 0h.6m-12.8 .3h.6m0 .2h.6m.8 0h.6m.7 .1h.6m.5-.3h.6m1.3 .3h.6m-.6-.2h.6m-.1 0h.6m-.5 .1h.6m-.5 .1h.6m-.5-.2h.6m-.6-.1h.6m-.3 .3h.6m-.3-.1h.6m-.6 0h.6m-.6 .1h.6m-.3-.3h.6m-.5 .2h.6m-.6 0h.6m-.4 .1h.6m-.3-.3h.6m-.4 .2h.6m-.6-.2h.6m-.5 .3h.6m-.6-.2h.6m-.4 .2h.6m-.6-.3h.6m-.5 0h.6m-.5 0h.6m-.5 .3h.6m-.6 0h.6m-.3-.1h.6m-.6-.1h.6m-.5-.1h.6m-.6 0h.6m-.5 0h.6m-.4 .2h.6m-.5 0h.6m-.3-.1h.6m-.5 .2h.6m-.6-.3h.6m-.5 0h.6m-.1 0h.6m-.2 .3h.6m-14.6 .3h.6m-.2 .1h.6m2.7-.3h.6m2.3 .3h.6m-.4-.2h.6m-.4 0h.6m.4-.1h.6m-.4 0h.6m-.2 0h.6m-.2 .3h.6m-.5-.1h.6m-.1 0h.6m-.5 .1h.6m-.4-.3h.6m-.5 0h.6m-.5 0h.6m-.4 0h.6m-.5 .2h.6m-.5 .1h.6m-.5 0h.6m-.5-.2h.6m-.6 0h.6m-.5 .2h.6m-.6 0h.6m-.2-.2h.6m-.6 .2h.6m-.5-.1h.6m-.5-.2h.6m-.5 0h.6m-.2 .1h.6m-.5-.1h.6m-.6 .1h.6m-.3 0h.6m0 .1h.6m-.3 0h.6m-.4-.1h.6m-.5-.1h.6m0 .2h.6m-13 .2h.6m1.3 .2h.6m2.2-.1h.6m.1 .1h.6m-.3-.2h.6m-.3 .1h.6m-.5 .2h.6m-.2 0h.6m-.1-.1h.6m-.4 0h.6m-.6-.2h.6m.1 .3h.6m-.5-.1h.6m-.6-.2h.6m-.5 .1h.6m-.5 0h.6m-.5 .1h.6m-.1 0h.6m-.3 0h.6m-.6-.2h.6m-.4 .1h.6m-.4 .1h.6m-.6-.1h.6m-.6 0h.6m-.6 .2h.6m-.5-.1h.6m-.3-.2h.6m-.4 0h.6m-.5 .3h.6m-.6-.1h.6m-.6-.1h.6m-.5 0h.6m-.6-.1h.6m-.5 0h.6m-.4 0h.6m-.6 .1h.6m.4 .2h.6m-.3-.2h.6m.4 .2h.6m-12.7 .3h.6m.5-.2h.6m1 0h.6m.6 .1h.6m.2-.1h.6m-.6 .2h.6m-.5 .1h.6m-.5-.1h.6m-.5 .1h.6m-.5-.1h.6m.6-.2h.6m-.6 .3h.6m-.4-.1h.6m-.6 .1h.6m-.5-.2h.6m-.6 .2h.6m-.5 0h.6m-.6-.3h.6m-.6 .2h.6m-.5 .1h.6m-.6-.2h.6m-.4-.1h.6m-.6 0h.6m-.5 .1h.6m-.5 .2h.6m-.6 0h.6m-.5-.3h.6m-.6 0h.6m-.5 .3h.6m-.5-.3h.6m-.5 .2h.6m-.6 .1h.6m-.3-.3h.6m-.6 .3h.6m-.6-.1h.6m-.6 .1h.6m-.4-.3h.6m-.4 .2h.6m-.6-.1h.6m-.6-.1h.6m-.6 .3h.6m-.2 0h.6m-.5-.2h.6m-.6-.1h.6m-.4 .3h.6m-.4-.3h.6m-.5 .1h.6m-.4 0h.6m-.6 .1h.6m-.3-.1h.6m.4 0h.6m-.6-.1h.6m-.1 .2h.6m-11.7 .2h.6m-.2 .3h.6m.5 0h.6m.9-.3h.6m.8 .1h.6m-.4 .1h.6m-.3-.1h.6m-.5 0h.6m-.5 .2h.6m-.6-.2h.6m.1-.1h.6m-.5 .2h.6m-.5 0h.6m-.5 0h.6m-.2-.1h.6m-.4 .2h.6m-.6-.3h.6m-.5 .1h.6m-.5 .1h.6m-.6 .1h.6m-.4-.3h.6m-.6 .1h.6m-.5 .2h.6m-.5-.3h.6m-.6 .3h.6m-.5-.2h.6m-.5 0h.6m-.2 .1h.6m-.5-.1h.6m-.5-.1h.6m-.4 .2h.6m-.5-.1h.6m-.4 .2h.6m-.5-.1h.6m-.5-.1h.6m-.4 0h.6m-.6 .1h.6m-.5 .1h.6m-.4 0h.6m-.3-.2h.6m-.5 .1h.6m-.2-.2h.6m0 .2h.6m-.6 .1h.6m-.2-.2h.6m-13.5 .6h.6m1.5-.3h.6m2.1 .2h.6m.9 0h.6m0 .1h.6m-.4 0h.6m-.5-.2h.6m0 0h.6m-.6-.1h.6m-.5 0h.6m-.4 0h.6m-.2 .1h.6m-.5 0h.6m-.6 .2h.6m-.5-.2h.6m-.3 0h.6m-.6 .2h.6m-.6 0h.6m-.3-.3h.6m-.4 .2h.6m-.4 .1h.6m-.6 0h.6m-.5-.2h.6m-.5 .2h.6m-.4-.3h.6m-.6 .2h.6m-.5-.1h.6m-.5-.1h.6m-.4 .1h.6m-.3 .1h.6m-.4 0h.6m-.4-.1h.6m-.6-.1h.6m-.4 0h.6m-.4 .3h.6m-.4-.2h.6m-.3 .2h.6m-.4-.1h.6m-.5-.2h.6m-12.8 .6h.6m.9 .1h.6m-.4-.2h.6m-.6-.1h.6m4.7 .1h.6m-.5 .2h.6m-.6 0h.6m-.5-.1h.6m-.5 0h.6m-.6 .1h.6m-.5-.2h.6m-.6 .2h.6m-.5-.3h.6m-.4 0h.6m-.6 .2h.6m-.1-.1h.6m-.5 .2h.6m-.4-.1h.6m-.3-.1h.6m-.6-.1h.6m-.5 .3h.6m-.4-.2h.6m-.6 .1h.6m-.5-.2h.6m-.3 .2h.6m-.6 0h.6m-.5 0h.6m-.6-.1h.6m-.6 0h.6m-.5 0h.6m-.5-.1h.6m-.6 .3h.6m-.6-.1h.6m-.5-.1h.6m-.6-.1h.6m0 .1h.6m-.4 .2h.6m-.6-.3h.6m-.5 .1h.6m-.5 0h.6m.2-.1h.6m-.5 .1h.6m-.6-.1h.6m-.3 .3h.6m-.5-.3h.6m-.5 .2h.6m-.6-.1h.6m.7 0h.6m-14.3 .6h.6m-.5-.3h.6m.6 .3h.6m1.7-.2h.6m1.6 0h.6m-.2 0h.6m-.5 .2h.6m-.5 0h.6m-.5-.3h.6m-.3 .1h.6m-.5-.1h.6m-.5 .1h.6m-.2 .2h.6m-.5-.2h.6m-.4 .1h.6m-.6-.1h.6m-.6 .1h.6m-.4 0h.6m-.1 .1h.6m-.5-.1h.6m-.5 .1h.6m-.5-.1h.6m.1 0h.6m-.6 .1h.6m-.5-.3h.6m-.5 .2h.6m-.6 0h.6m-.4 0h.6m-.5-.1h.6m-.2 0h.6m-.5 .2h.6m-.5-.3h.6m-.5 .3h.6m-.5 0h.6m-.5 0h.6m-.4-.2h.6m-.5 .1h.6m-.1-.2h.6m-.4 .3h.6m.4-.2h.6m-.1-.1h.6m-14.3 .6h.6m-.6 0h.6m.6 0h.6m2.5 0h.6m-.4-.2h.6m1.7 .1h.6m-.5 .1h.6m0 .1h.6m-.5-.2h.6m-.5 .1h.6m-.1 0h.6m-.4 .1h.6m-.6-.1h.6m-.5 .1h.6m-.5 0h.6m-.6 0h.6m-.5-.1h.6m-.5 .1h.6m-.6-.2h.6m-.5 .1h.6m-.6-.1h.6m-.5-.1h.6m-.6 .2h.6m-.4 0h.6m-.5-.2h.6m-.6 .1h.6m-.4 0h.6m-.5 .2h.6m-.5-.2h.6m-.6 0h.6m-.6 .1h.6m-.5 .1h.6m-.6-.1h.6m-.6-.1h.6m-.6 .1h.6m-.4 0h.6m-.3 0h.6m-.6 0h.6m-.5-.2h.6m-.5 .2h.6m-.6-.2h.6m-.5 .3h.6m-.4-.3h.6m-.5 0h.6m-.6 .3h.6m-.6-.2h.6m-.6 0h.6m-.5 .2h.6m-.6 0h.6m.3-.1h.6m-.2 0h.6m-.6 0h.6m-.6 .1h.6m-.5-.2h.6m-.4 .1h.6m1.3-.1h.6m-14.1 .6h.6m0-.1h.6m.5 0h.6m-.6-.2h.6m.6 .2h.6m-.2 .1h.6m.2 0h.6m1-.2h.6m-.5-.1h.6m-.1 0h.6m-.3 .3h.6m-.5-.1h.6m-.5-.1h.6m-.4-.1h.6m-.6 .3h.6m-.6 0h.6m-.5-.3h.6m-.4 .3h.6m-.5-.3h.6m-.4 0h.6m-.5 .2h.6m-.5-.1h.6m-.4 .1h.6m-.5 0h.6m-.5 .1h.6m-.6-.2h.6m-.5 .2h.6m-.4-.1h.6m-.5-.1h.6m-.6 .2h.6m-.3-.3h.6m-.4 0h.6m-.6 .3h.6m-.4-.2h.6m-.6-.1h.6m-.2 0h.6m-.6 .2h.6m-.6 0h.6m-.4 0h.6m-.5 .1h.6m-.6-.1h.6m-.1-.1h.6m-.4-.1h.6m-.4 .3h.6m-.3 0h.6m.2-.1h.6m.2 .1h.6m-.5-.1h.6m-13.4 .4h.6m.4 0h.6m-.4 .1h.6m-.5 0h.6m.8 0h.6m-.2-.1h.6m.7-.2h.6m-.6 .3h.6m-.6-.3h.6m-.1 0h.6m-.3 .3h.6m-.4 0h.6m-.4-.3h.6m-.6 .3h.6m-.3-.2h.6m-.5 .2h.6m-.5-.3h.6m-.5 0h.6m-.4 0h.6m-.6 .3h.6m-.5-.1h.6m-.6-.2h.6m-.5 .2h.6m-.6 .1h.6m-.5-.1h.6m-.6 .1h.6m-.4 0h.6m-.5-.2h.6m-.5 0h.6m-.5 0h.6m-.6 .1h.6m-.6 0h.6m-.4-.2h.6m-.6 .2h.6m-.5 .1h.6m-.6 0h.6m-.6-.3h.6m-.5 .3h.6m-.6-.1h.6m-.6-.1h.6m-.6-.1h.6m-.4 .2h.6m-.6-.2h.6m-.6 .3h.6m-.5-.3h.6m-.6 .2h.6m-.6-.2h.6m-.4 0h.6m-.5 .1h.6m-.5 .1h.6m-.6 0h.6m-.6-.1h.6m-.6 .2h.6m-.5-.3h.6m-.6 0h.6m-.5 .1h.6m-.6 0h.6m-.5 0h.6m-.6 .1h.6m-.5-.1h.6m-.6 0h.6m-.6-.1h.6m-.5 0h.6m-.6 .1h.6m-.5 .1h.6m-.6-.2h.6m-.5 .3h.6m-.5 0h.6m-.4-.2h.6m-.5 .1h.6m-.6 0h.6m-.5 .1h.6m-.6-.1h.6m.2 0h.6m-.5-.1h.6m-.5 .1h.6m-.4-.2h.6m-.4 0h.6m-.5 .1h.6m1.2 .1h.6m-11.3 .4h.6m-.2 0h.6m.2-.1h.6m-.3 .1h.6m.2 0h.6m-.3 0h.6m-.3 .1h.6m-.5-.3h.6m-.5 0h.6m-.1 .3h.6m-.3 0h.6m-.6-.2h.6m-.4 .2h.6m-.5-.1h.6m-.3-.1h.6m-.6 0h.6m-.6 .2h.6m-.4 0h.6m-.4 0h.6m-.6 0h.6m-.3-.3h.6m-.5 0h.6m-.5 .2h.6m-.4-.2h.6m-.5 .3h.6m-.1 0h.6m-.5-.3h.6m-.5 .2h.6m-.6 .1h.6m-.5-.2h.6m-.6-.1h.6m-.6 .1h.6m-.5 0h.6m-.6-.1h.6m-.5 .3h.6m-.4-.2h.6m-.6-.1h.6m-.6 0h.6m-.6 .3h.6m-.5-.3h.6m-.5 .2h.6m-.6-.2h.6m-.1 .3h.6m.1-.2h.6m-.6 .1h.6m-.6-.1h.6m-.4 .2h.6m-.4-.2h.6m-.2-.1h.6m-.5 .3h.6m-.3-.1h.6m-14.8 .5h.6m-.2 0h.6m.9-.3h.6m-.4 .2h.6m1.2-.1h.6m0 0h.6m-.4 0h.6m-.6 .2h.6m.3-.2h.6m-.1 .1h.6m.7 0h.6m-.5-.1h.6m-.1-.1h.6m-.5 .2h.6m-.6 0h.6m-.5-.1h.6m0 0h.6m-.2-.1h.6m-.3 .2h.6m-.6 .1h.6m-.5-.1h.6m-.5-.1h.6m-.6 0h.6m-.6 .2h.6m-.6-.2h.6m-.5 .2h.6m-.5 0h.6m-.5-.2h.6m-.6-.1h.6m-.5 0h.6m-.4 .1h.6m-.4 .1h.6m-.6 0h.6m-.5 .1h.6m-.6-.1h.6m-.5 .1h.6m-.6 0h.6m-.6-.3h.6m-.5 .1h.6m-.6 .2h.6m-.5-.3h.6m-.6 .3h.6m-.5-.2h.6m-.5 .2h.6m-.6 0h.6m-.6-.3h.6m-.1 .2h.6m-.5 .1h.6m-.5-.3h.6m-.6 .2h.6m-.4-.1h.6m-.3-.1h.6m-.6 .2h.6m-.6 0h.6m-.5 0h.6m-.5-.1h.6m-.6-.1h.6m-.4 0h.6m-.5 0h.6m-.4 0h.6m-.6 0h.6m-.5 .1h.6m-.6 0h.6m.2-.1h.6m-13.7 .4h.6m3.2 .1h.6m-.1-.1h.6m.7 .2h.6m-.3 .1h.6m-.4-.2h.6m-.1 0h.6m-.3 .2h.6m-.4 0h.6m-.6 0h.6m-.6-.3h.6m-.2 0h.6m-.5 0h.6m-.2 0h.6m-.6 .1h.6m-.5 0h.6m-.6-.1h.6m-.4 .3h.6m-.5 0h.6m-.5-.1h.6m-.4-.2h.6m-.6 .2h.6m-.4 .1h.6m-.5-.3h.6m-.6 .2h.6m-.6-.1h.6m-.6 0h.6m-.4 .2h.6m-.4-.3h.6m-.5 .2h.6m-.6 .1h.6m-.6-.2h.6m-.3 0h.6m-.5-.1h.6m-.5 .2h.6m-.6-.2h.6m-.5 0h.6m-.6 .3h.6m-.5-.1h.6m-.6-.2h.6m-.5 .2h.6m-.6 .1h.6m-.4-.2h.6m-.4 0h.6m-.6-.1h.6m-.5 .2h.6m-.5-.1h.6m-.5 0h.6m-.5 .2h.6m-.6 0h.6m-.6-.2h.6m-.6 .1h.6m-.4 .1h.6m-.4-.1h.6m-.4-.1h.6m-.6 0h.6m-.6 .2h.6m-.5-.2h.6m-.4 .2h.6m-.5-.3h.6m-.6 0h.6m-.2 0h.6m.1 .1h.6m-11.5 .3h.6m0 .3h.6m0 0h.6m-.6-.1h.6m1 .1h.6m.2-.3h.6m0 .2h.6m-.4-.2h.6m-.6 .3h.6m-.3 0h.6m-.1-.2h.6m-.6 .1h.6m-.5-.1h.6m-.3 .2h.6m-.2-.1h.6m-.4-.2h.6m-.5 .2h.6m-.6-.2h.6m-.6 .2h.6m-.6-.1h.6m-.4 .1h.6m-.5 .1h.6m-.5-.1h.6m-.6-.1h.6m-.6 0h.6m-.5 .2h.6m-.5-.1h.6m-.5 .1h.6m-.6-.1h.6m-.4-.1h.6m-.6 .1h.6m-.6-.1h.6m-.5 .1h.6m-.5-.2h.6m-.2 .1h.6m-.5 .1h.6m-.4-.1h.6m-.4 0h.6m-.6 .1h.6m-.6-.1h.6m-.6 .2h.6m-.5-.1h.6m-.3-.1h.6m-.6-.1h.6m-.6 .3h.6m-.6-.3h.6m-.5 0h.6m-.3 0h.6m-.5 .3h.6m-.6 0h.6m-.6 0h.6m-.5-.3h.6m-.3 .3h.6m-.6-.2h.6m-.6-.1h.6m.4 .3h.6m-11.4 .1h.6m-.5 0h.6m0 .1h.6m-.5 0h.6m.2-.1h.6m.6 .3h.6m-.1-.1h.6m.5 0h.6m-.5 .1h.6m-.3-.1h.6m-.6 .1h.6m-.4 0h.6m-.1-.3h.6m-.6 .1h.6m-.3 .1h.6m-.5-.2h.6m-.5 .2h.6m-.6-.2h.6m-.6 0h.6m-.4 .2h.6m-.5-.1h.6m-.5 .1h.6m-.6-.1h.6m-.5 .1h.6m-.4 0h.6m-.6 .1h.6m-.3-.1h.6m-.6 0h.6m-.5 0h.6m-.6 .1h.6m-.5-.2h.6m-.5-.1h.6m-.4 .2h.6m-.6-.1h.6m-.5 .2h.6m-.6-.1h.6m-.5-.1h.6m-.6 0h.6m-.3-.1h.6m-.5 0h.6m-.5 0h.6m-.4 0h.6m-.6 .1h.6m-.3 .2h.6m-.6 0h.6m-.6-.3h.6m-.4 .1h.6m.2-.1h.6m-.5 .1h.6m-.4-.1h.6m-.2 .2h.6m-.3 .1h.6m-.4-.1h.6m-.4-.2h.6m-.6 .1h.6m-13.9 .3h.6m-.6 .2h.6m1.4-.1h.6m.5-.1h.6m-.3 0h.6m.5 .3h.6m-.5-.1h.6m-.4 0h.6m-.5 0h.6m-.4-.2h.6m-.5 .2h.6m-.4-.2h.6m-.3 0h.6m-.5 .1h.6m.1 .2h.6m-.1 0h.6m-.5 0h.6m-.1-.3h.6m-.5 .2h.6m-.6-.2h.6m-.5 .1h.6m-.6 0h.6m-.4 0h.6m-.5 .1h.6m-.4-.2h.6m-.4 0h.6m-.5 .2h.6m-.5 0h.6m-.6-.2h.6m-.6 .3h.6m-.5-.2h.6m-.5-.1h.6m-.5 .3h.6m-.6 0h.6m-.6-.2h.6m-.3 0h.6m-.5 0h.6m-.4 .1h.6m-.6 .1h.6m-.5 0h.6m-.6 0h.6m-.4-.1h.6m-.6 .1h.6m-.5-.3h.6m-.5 .2h.6m-.6-.1h.6m-.6 .2h.6m-.5-.1h.6m-.6-.2h.6m-.5 0h.6m-.6 .3h.6m-.5-.2h.6m-.6-.1h.6m-.4 0h.6m-.6 .3h.6m-.5-.1h.6m-.6 0h.6m-.5-.1h.6m-.4-.1h.6m-.6 0h.6m-.3 .3h.6m-.5 0h.6m-.6-.2h.6m-.5-.1h.6m-.6 .2h.6m-.2-.1h.6m-.5-.1h.6m-.6 0h.6m-.5 0h.6m-.6 .1h.6m-.3 0h.6m-.6 .2h.6m-13.2 .2h.6m2.2 .2h.6m-.6-.2h.6m.1 .1h.6m-.5-.2h.6m-.6 .2h.6m.2-.1h.6m-.2-.1h.6m.3 .3h.6m-.5-.2h.6m-.2 .2h.6m-.5-.2h.6m-.2 .1h.6m-.5-.2h.6m-.1 .3h.6m-.6 0h.6m-.4-.2h.6m-.5-.1h.6m0 .2h.6m-.2 0h.6m-.6 0h.6m-.5-.1h.6m-.4 .2h.6m-.6-.3h.6m-.5 .1h.6m-.2 .2h.6m-.6 0h.6m-.6-.2h.6m-.4-.1h.6m-.6 .2h.6m-.5 0h.6m-.4-.1h.6m-.6 0h.6m-.5 .2h.6m-.5-.2h.6m-.5-.1h.6m-.5 0h.6m-.4 .3h.6m-.2 0h.6m-.5-.3h.6m-.3 .2h.6m-.5-.1h.6m-.3 0h.6m-.5 0h.6m-.3-.1h.6m-.5 0h.6m-.5 .2h.6m-.5 0h.6m-.5 0h.6m-.5-.1h.6m-.5-.1h.6m-.5 .1h.6m-.6 .2h.6m-.5-.2h.6m-.6 0h.6m.1 .1h.6m-.6 .1h.6m-14.1 .3h.6m-.1-.2h.6m-.3 .2h.6m-.4-.1h.6m.1 .1h.6m-.5 0h.6m0-.2h.6m2 .1h.6m.2 0h.6m-.6 .1h.6m-.5-.1h.6m-.5 0h.6m-.2 .2h.6m-.6 0h.6m-.3-.1h.6m-.3-.1h.6m-.4-.1h.6m-.4 .1h.6m-.4 0h.6m-.4-.1h.6m-.6 .1h.6m-.5 0h.6m-.6 0h.6m-.6 0h.6m-.5-.1h.6m-.5 .2h.6m-.6-.2h.6m-.3 0h.6m-.4 .1h.6m-.6 0h.6m-.4-.1h.6m-.5 .1h.6m-.5 .1h.6m-.6-.2h.6m-.6 .3h.6m-.5-.3h.6m-.5 .2h.6m-.6 0h.6m-.3 0h.6m-.5-.1h.6m-.6 0h.6m-.5 .2h.6m-.6-.3h.6m-.6 0h.6m-.6 .3h.6m-.6-.2h.6m-.5-.1h.6m-.6 .1h.6m-.5 .2h.6m-.4-.3h.6m-.6 .3h.6m-.6-.1h.6m-.5 0h.6m-.5-.2h.6m-.6 .2h.6m-.6-.2h.6m-.3 .3h.6m-.5-.1h.6m-.6-.1h.6m-.5 0h.6m-.5 0h.6m-.6-.1h.6m-.3 .3h.6m-.2 0h.6m-.5 0h.6m-.5-.3h.6m-.6 0h.6m-.5 .3h.6m-.3 0h.6m0-.1h.6m-.5 0h.6m0 0h.6m-13.9 .4h.6m-.2-.2h.6m.9 .3h.6m-.5-.1h.6m1.2 .1h.6m1.6 0h.6m-.5-.2h.6m-.6 .1h.6m.2-.2h.6m-.3 0h.6m-.6 0h.6m-.5 .1h.6m-.5 .1h.6m-.5 0h.6m-.5-.2h.6m-.4 .2h.6m-.5 .1h.6m-.6 0h.6m-.5 0h.6m-.5-.2h.6m-.6 0h.6m-.5 .1h.6m-.6 0h.6m-.4-.2h.6m-.5 .2h.6m-.4-.1h.6m-.6 0h.6m-.5 .1h.6m-.6 .1h.6m-.6-.3h.6m-.6 0h.6m-.5 .2h.6m-.2 .1h.6m-.6 0h.6m-.6-.3h.6m-.5 .2h.6m-.6-.1h.6m-.6 .2h.6m-.6-.1h.6m-.6 .1h.6m-.2-.3h.6m-.6 .1h.6m-.5 0h.6m-.5 0h.6m-.6 .1h.6m-.5 0h.6m-.5 .1h.6m-.5-.2h.6m-.6-.1h.6m-.4 .1h.6m-.5 .1h.6m-.6-.2h.6m-.5 .3h.6m-.6-.2h.6m-.1 0h.6m-.4 .1h.6m-.6 .1h.6m-.4 0h.6m-.5 0h.6m-.5-.2h.6m-.6 0h.6m-.3 .1h.6m-.5 0h.6m.2-.1h.6m-13.3 .4h.6m2 .1h.6m.9-.1h.6m-.4 .1h.6m-.3-.1h.6m-.3 .1h.6m-.5 0h.6m.5-.1h.6m-.3 .1h.6m-.6-.2h.6m-.5 0h.6m-.6 .1h.6m-.6-.1h.6m-.5 .2h.6m-.6-.2h.6m-.4 0h.6m-.6 .2h.6m-.5 0h.6m-.3 0h.6m-.6 0h.6m-.6 0h.6m-.6 .1h.6m-.4-.1h.6m-.6-.1h.6m-.4 .1h.6m-.6 0h.6m-.4 0h.6m-.5 0h.6m-.5-.1h.6m-.6 0h.6m-.3 0h.6m-.4 .1h.6m-.6-.1h.6m-.5 0h.6m-.4 0h.6m-.1 .2h.6m-.5-.3h.6m-.5 .3h.6m-.5-.2h.6m-.4-.1h.6m-.4 .2h.6m-.6 .1h.6m-.3 0h.6m-.6-.3h.6m-.5 0h.6m-.5 0h.6m-.6 .2h.6m.1-.1h.6m-.4 .2h.6m-.1-.2h.6m-12.7 .6h.6m.3-.2h.6m.2 .1h.6m-.5 0h.6m-.2 .1h.6m-.6 0h.6m-.2-.2h.6m-.1 .2h.6m-.2-.2h.6m.5 0h.6m.4 .1h.6m-.2-.2h.6m-.5 .3h.6m-.6 0h.6m-.3-.3h.6m-.4 .1h.6m-.6 .2h.6m-.6 0h.6m-.4-.1h.6m-.5-.2h.6m-.4 0h.6m-.6 .3h.6m-.4-.1h.6m-.6 .1h.6m-.6 0h.6m-.4-.1h.6m-.6 0h.6m-.4 0h.6m-.6-.1h.6m-.5 0h.6m-.6 .1h.6m-.6 0h.6m-.5 .1h.6m-.5-.1h.6m-.5 0h.6m-.5-.1h.6m-.6 .2h.6m-.5-.3h.6m-.6 .3h.6m-.6-.3h.6m-.5 .2h.6m-.4-.2h.6m-.6 .3h.6m-.6-.2h.6m-.6 .2h.6m-.5-.3h.6m-.5 0h.6m-.6 .3h.6m-.6-.1h.6m-.5 0h.6m-.6-.2h.6m-.6 .1h.6m-.5-.1h.6m-.4 .1h.6m-.4 .2h.6m-.6 0h.6m-.5-.2h.6m-.5 .2h.6m-.1-.1h.6m-.6 .1h.6m-.5 0h.6m-.5-.1h.6m-.5 0h.6m-.5 0h.6m-.6-.1h.6m-.4-.1h.6m-.6 0h.6m-.5 .1h.6m-.6 .1h.6m-.3-.2h.6m-.3 .2h.6m-10.9 .3h.6m1 0h.6m.6-.1h.6m-.5 .3h.6m-.5-.1h.6m-.1-.1h.6m.2 0h.6m-.1 0h.6m-.5-.1h.6m-.4 .3h.6m-.2-.3h.6m-.5 .1h.6m-.6 .2h.6m-.2 0h.6m-.4 0h.6m-.5-.2h.6m-.6 0h.6m-.5-.1h.6m-.6 .2h.6m-.5-.1h.6m-.5-.1h.6m-.5 .2h.6m-.6-.2h.6m-.2 .2h.6m-.5-.2h.6m-.6 .2h.6m-.6 .1h.6m-.4-.2h.6m-.3 0h.6m-.5-.1h.6m-.5 .1h.6m-.6-.1h.6m-.4 .3h.6m-.5-.1h.6m-.6-.2h.6m-.4 .1h.6m-.5 .2h.6m-.6-.1h.6m-.5 0h.6m-.6 .1h.6m-.2-.2h.6m-.6 .1h.6m-.4-.2h.6m-.6 .1h.6m-.4 .1h.6m-.5-.1h.6m-.4 .2h.6m-.5-.2h.6m-.3-.1h.6m-.4 0h.6m.3 .1h.6m.1-.1h.6m-14.1 .6h.6m-.4-.1h.6m-.2 .1h.6m1.1 .1h.6m-.2-.1h.6m-.5-.1h.6m.3 0h.6m-.6 .2h.6m.2-.1h.6m.1-.1h.6m-.2-.1h.6m0 .2h.6m0-.2h.6m-.1 0h.6m-.1 .1h.6m-.5 .1h.6m-.6 0h.6m-.4-.2h.6m-.5 0h.6m-.6 .2h.6m-.6 0h.6m-.5 0h.6m-.6 .1h.6m-.6-.1h.6m-.3-.2h.6m-.3 .2h.6m-.5-.1h.6m-.6 .1h.6m-.5 .1h.6m-.2-.2h.6m-.5 .1h.6m-.5-.1h.6m-.3 .2h.6m-.6-.1h.6m-.6 0h.6m-.5 0h.6m-.6 0h.6m-.3-.2h.6m-.5 0h.6m-.6 .3h.6m-.4 0h.6m-.4-.2h.6m-.4 0h.6m-.6 .2h.6m-.2-.2h.6m0-.1h.6m-.1 0h.6m-11 .5h.6m.3 0h.6m-.5-.1h.6m-.3 .1h.6m.7 .2h.6m-.1-.1h.6m-.6 .1h.6m-.2-.1h.6m.3 0h.6m-.2 .1h.6m-.1-.1h.6m-.3 0h.6m-.6 0h.6m-.3 0h.6m-.6 0h.6m-.5-.2h.6m-.3 .2h.6m-.5 .1h.6m-.6-.3h.6m-.4 .2h.6m-.5 0h.6m-.5 0h.6m-.3 0h.6m-.5 0h.6m-.6 0h.6m-.6-.2h.6m-.5 .3h.6m-.5 0h.6m-.6-.1h.6m-.5-.1h.6m-.5-.1h.6m-.3 .1h.6m-.5 .1h.6m-.5-.2h.6m-.5 .3h.6m-.6-.2h.6m-.6-.1h.6m-.4 .2h.6m-.5-.2h.6m-.6 0h.6m.1 .2h.6m-.5-.1h.6m-.5 0h.6m.2-.1h.6m-.6 0h.6m-.6 .2h.6m0 0h.6m-9.9 .5h.6m-.5-.2h.6m.6 .2h.6m-.4 0h.6m-.5-.3h.6m-.2 .3h.6m.3-.1h.6m-.6-.1h.6m-.4-.1h.6m-.1 .3h.6m-.2-.1h.6m-.6-.2h.6m-.5 .1h.6m-.5 .1h.6m-.4 .1h.6m-.4-.3h.6m-.6 .3h.6m-.4-.2h.6m-.4 .2h.6m-.4-.1h.6m-.5 0h.6m-.4 .1h.6m-.6 0h.6m-.5-.2h.6m-.5-.1h.6m-.6 .2h.6m-.5 0h.6m-.5 0h.6m-.5-.1h.6m-.5 .1h.6m-.4 0h.6m-.6-.2h.6m-.6 .3h.6m-.4-.2h.6m-.5 0h.6m-.6-.1h.6m-.6 0h.6m-.6 0h.6m-.4 .3h.6m-.6 0h.6m-.4-.1h.6m-.4 0h.6m-.3 0h.6m-.6-.2h.6m-.4 .2h.6m.5 0h.6m-12 .3h.6m.4 .2h.6m.2-.3h.6m1.2 .3h.6m1-.3h.6m-.4 .2h.6m-.5-.2h.6m-.5 0h.6m-.5 .1h.6m-.2 0h.6m-.5 .2h.6m-.6-.2h.6m-.5 0h.6m-.5 .1h.6m-.5-.2h.6m-.6 .1h.6m-.4-.1h.6m-.6 .2h.6m-.5 .1h.6m-.2-.1h.6m-.6-.1h.6m-.5 0h.6m-.5 .1h.6m-.2-.2h.6m-.6 0h.6m-.6 .1h.6m-.5 0h.6m-.5 0h.6m-.6 .2h.6m-.6-.1h.6m-.5-.1h.6m-.6 .2h.6m-.5-.1h.6m-.6 0h.6m-.1 0h.6m-.4-.1h.6m-.6 .2h.6m-.4-.3h.6m-.4 .2h.6m-.4 0h.6m-.5 0h.6m-.5-.1h.6m-.4 .1h.6m-.6 .1h.6m-.5-.2h.6m-11.5 .5h.6m1.2-.2h.6m2.1 .1h.6m.1-.1h.6m.6 .1h.6m-.6 .1h.6m-.6-.1h.6m-.1-.1h.6m-.5 0h.6m-.6 0h.6m-.3 0h.6m-.5 .1h.6m-.5 .2h.6m-.5-.2h.6m-.4-.1h.6m-.4 .3h.6m-.5-.1h.6m-.5-.2h.6m-.3 .3h.6m-.4 0h.6m-.6 0h.6m-.6 0h.6m-.5-.2h.6m-.6 0h.6m-.5 .1h.6m-.5 0h.6m-.4-.2h.6m-.6 .3h.6m-.5-.2h.6m-.4 .2h.6m-.6-.2h.6m-.5-.1h.6m-.4 0h.6m-.5 .1h.6m-.2 0h.6m-.2 .1h.6m-.6 .1h.6m-.5-.1h.6m-.1 0h.6m.2 0h.6m-8.8 .4h.6m.6-.2h.6m-.2 .3h.6m-.3 0h.6m-.6-.2h.6m-.5 .1h.6m0-.1h.6m-.5 .1h.6m-.6-.1h.6m-.4 0h.6m-.3 .1h.6m-.5-.2h.6m-.5 0h.6m-.4 .2h.6m-.5 0h.6m-.3-.2h.6m-.6 .3h.6m-.5 0h.6m-.5-.3h.6m-.6 .2h.6m-.5-.1h.6m-.4 .2h.6m-.6-.2h.6m-.6-.1h.6m-.5 .1h.6m-.5 .1h.6m-.3 0h.6m-.6 0h.6m-.4 .1h.6m-.5-.1h.6m-.5-.1h.6m-.6 .2h.6m-.6-.2h.6m-.3 0h.6m-.5 .2h.6m-.5-.1h.6m-.4 .1h.6m-.6-.3h.6m-.2 0h.6m-.6 .3h.6m-.5-.2h.6m.2 0h.6m-.2 .2h.6m-12.9 .1h.6m3.9 .2h.6m-.5 .1h.6m0-.3h.6m.3 .3h.6m-.2 0h.6m-.4 0h.6m-.5-.1h.6m-.6-.2h.6m-.4 .2h.6m-.5 .1h.6m.2-.1h.6m-.2 0h.6m-.6 .1h.6m-.6-.1h.6m-.5-.2h.6m-.6 .2h.6m-.6-.2h.6m-.6 .1h.6m-.5 .1h.6m-.4 0h.6m-.5-.1h.6m-.6 .2h.6m-.4-.1h.6m-.2-.2h.6m-.6 0h.6m-.6 .2h.6m-.2 .1h.6m-.5 0h.6m-.5-.3h.6m-.5 .1h.6m-.6 .2h.6m-.5-.2h.6m-.4 .2h.6m0-.3h.6m-.6 .1h.6m-.4 .1h.6m-.4 0h.6m-.4-.1h.6m-.6 .2h.6m-.2-.1h.6m-.2-.1h.6m-8.2 .3h.6m-.2 .2h.6m-.1-.1h.6m-.2 .1h.6m-.5-.1h.6m.2 0h.6m-.5-.1h.6m-.6 .2h.6m-.4 .1h.6m-.6-.2h.6m-.5 .2h.6m-.4-.2h.6m-.5-.1h.6m-.5 .1h.6m-.5 0h.6m-.5-.1h.6m-.5 0h.6m-.4 0h.6m-.6 .2h.6m-.2 0h.6m-.6-.1h.6m-.1-.1h.6m-.6 .2h.6m-.4 0h.6m-.4 0h.6m-.6-.2h.6m-.5 0h.6m-.6 0h.6m-.5 0h.6m-.5 .3h.6m-.6-.3h.6m-.6 .1h.6m-.5-.1h.6m-.1 .1h.6m-.5 0h.6m-.6 0h.6m-.5 0h.6m-11 .4h.6m2 .2h.6m.1 0h.6m1.8 0h.6m-.6-.3h.6m0 .2h.6m-.4-.2h.6m-.4 .3h.6m-.5-.2h.6m-.3-.1h.6m-.3 .1h.6m-.6-.1h.6m-.6 .2h.6m-.5 .1h.6m-.6-.2h.6m-.5-.1h.6m-.5 0h.6m-.4 .2h.6m-.4-.2h.6m-.4 0h.6m-.5 0h.6m-.6 .3h.6m-.4 0h.6m-.5-.2h.6m-.3 .2h.6m-.4-.3h.6m-.6 0h.6m-.4 .3h.6m-.6-.3h.6m-.5 .3h.6m-.3-.3h.6m-.5 .1h.6m-.4 0h.6m-.4 0h.6m-.1 .2h.6m-.5-.2h.6m-.6 0h.6m-.2 .2h.6m.2-.1h.6m-13 .2h.6m1.3 0h.6m3.7 .3h.6m-.6-.3h.6m-.5 .1h.6m-.2-.1h.6m-.3 .1h.6m.1 0h.6m-.4-.1h.6m-.6 .1h.6m-.6 0h.6m-.2 .2h.6m-.4-.3h.6m-.6 .2h.6m-.4-.1h.6m-.3-.1h.6m-.3 .3h.6m-.6-.3h.6m-.6 .3h.6m-.6-.2h.6m.1 0h.6m-.2 .2h.6m-.5-.3h.6m.3 .2h.6m-.6 .1h.6m.3-.3h.6m-9.8 .7h.6m-.1-.1h.6m3.7-.1h.6m-.4-.1h.6m-.5 .2h.6m-.4-.1h.6m-.5-.1h.6m-.6 .1h.6m-.6-.1h.6m-.5 .1h.6m-.3-.1h.6m-.4 .1h.6m-.6-.1h.6m.3 0h.6m-.6 .3h.6m-.4-.3h.6m-.5 .2h.6m-.5-.1h.6m-.6-.1h.6m-.3 0h.6m0 0h.6m-.4 .2h.6m-.1-.1h.6m-.4 .2h.6m-7.6 .2h.6m.1 0h.6m-.1 0h.6m.3-.1h.6m-.5 .3h.6m-.5-.3h.6m-.1 .3h.6m-.3-.1h.6m-.5 0h.6m-.6 0h.6m-.6 0h.6m-.3-.1h.6m-.3-.1h.6m-.5 0h.6m-.4 .2h.6m-.6-.2h.6m-.6 0h.6m-.5 .2h.6m-.6-.2h.6m-.6 .2h.6m-.4-.1h.6m-.5 .2h.6m-.5 0h.6m-.4-.2h.6m-.5-.1h.6m-.4 .2h.6m-.5 .1h.6m.1-.3h.6m-6.8 .5h.6m1.2 .2h.6m.1-.3h.6m-.5 .2h.6m-.5 .1h.6m-.4-.3h.6m-.5 0h.6m-.4 .3h.6m.1 0h.6m-.6-.1h.6m-.5-.2h.6m-.3 .2h.6m-.5 .1h.6m-.5-.1h.6m-.4 0h.6m-.4 0h.6m-.1-.2h.6m-.6 0h.6m.4 .3h.6m.3-.2h.6m-7.9 .6h.6m.9-.3h.6m-.2 .2h.6m0 .1h.6m-.3-.3h.6m-.2 0h.6m-.4 .2h.6m-.5-.1h.6m-.5 0h.6m-.4-.1h.6m-.5 .1h.6m-.5 .1h.6m-.4-.2h.6m-.5 0h.6m-.6 0h.6m-.2 .1h.6m-.6 .2h.6m-.4-.2h.6m-.1 0h.6m-.3-.1h.6m-.5 .1h.6m.6-.1h.6m-9.6 .4h.6m.3 .1h.6m.7 .2h.6m-.1-.2h.6m1 .1h.6m-.4-.1h.6m-.1 0h.6m0-.1h.6m-.6 .1h.6m-.5 .1h.6m-.6-.2h.6m-.3 .2h.6m-.4-.1h.6m-.6 .1h.6m.1 .1h.6m-.4-.2h.6m-.5 0h.6m-.4 .2h.6m-.3-.3h.6m.3 .3h.6m-9.8 .2h.6m2.4 .1h.6m.3 0h.6m.2-.2h.6m-.4 0h.6m-.6 .1h.6m-.4 .2h.6m-.6 0h.6m-.6-.3h.6m-.4 .2h.6m.3 .1h.6m-.5 0h.6m-.3 0h.6m-.6-.1h.6m-.4-.2h.6m1.1 0h.6m0 .3h.6m-.4-.2h.6m-.2 0h.6m-9.1 .5h.6m1.4-.1h.6m-.4 .2h.6m-.6 0h.6m.4-.3h.6m-.6 .1h.6m-.2-.1h.6m-.5 0h.6m-.6 .3h.6m-.5 0h.6m-.4-.3h.6m-.4 0h.6m-.4 .2h.6m-.6-.1h.6m-.4 .1h.6m-.5-.1h.6m-.2 0h.6m-.2-.1h.6m0 .3h.6m-.3-.3h.6m-.3 0h.6m-7.2 .6h.6m1.2-.2h.6m.6 .3h.6m.2-.3h.6m.3 0h.6m0 .3h.6m1.1-.3h.6m1.3 .2h.6m-8.9 .3h.6m-.2-.1h.6m.7 0h.6m.6 .2h.6m-.4-.1h.6m-.4 .1h.6m-.2-.1h.6m-.3-.1h.6m-.4 0h.6m.1 .1h.6m-.5 .2h.6m-.4-.1h.6m0 0h.6m-8 .5h.6m2.3-.2h.6m.8 0h.6m-.5 0h.6m-.6-.1h.6m-.6 .1h.6m-.5 .2h.6m-.1-.1h.6m-.5 0h.6m-.4-.1h.6m-.4 .1h.6m-.5 0h.6m-.3 .1h.6m-.1-.1h.6m-.3 0h.6m-.5 .1h.6m-.1 0h.6m-12.5 .2h.6m8.7-.1h.6m-.3 0h.6m-.4 .1h.6m-.5 0h.6m0-.1h.6m.3 .2h.6m-.1-.1h.6m-4.4 .4h.6m-.3 0h.6m-.5 .2h.6m.3-.3h.6m-.4 .1h.6m-.5-.1h.6m-.6 .2h.6m-.5 .1h.6m.9-.1h.6m-10.3 .2h.6m.9 0h.6m.2 0h.6m3.1 .3h.6m.5-.3h.6m0 .3h.6m.5-.3h.6m-.5 .3h.6m-.6-.2h.6m-.5 0h.6m-.3 .1h.6m.2-.2h.6m.7 .3h.6m-.5-.3h.6m-12.8 .5h.6m4.5-.1h.6m1.5 .3h.6m-.5-.1h.6m.4-.1h.6m.5 .2h.6m-.4 0h.6m.7 0h.6m-.6 0h.6m-.4-.3h.6m-7.5 .5h.6m2.1 .1h.6m-.4 0h.6m.8-.2h.6m1 .1h.6m-.1 .1h.6" stroke="#b00008" stroke-width="0.6" stroke-opacity="0.65" fill="none"/>
<path d="M478.5 139.9h.6m-.2-.3h.6m2.1 0h.6m-2.2 .6h.6m1 .3h.6m-7.8 .5h.6m1.6 .1h.6m-.4-.2h.6m1.7 .2h.6m1.1 .1h.6m.3 .3h.6m-4.2 .2h.6m3.5-.1h.6m-2.4 .6h.6m-1.1 .3h.6m-3.9 .5h.6m1.3 0h.6m-.2-.2h.6m-.1 .5h.6m-1.7 .5h.6m-3.1 .2h.6m1.6 .3h.6m.4 0h.6m.2-.2h.6m-6.5 .5h.6m2.1-.2h.6m-1.3 .6h.6m3.2-.1h.6m-4.8 .3h.6m.3 0h.6m.2 .1h.6m-.4-.1h.6m.6 .2h.6m.8-.2h.6m-3.4 .5h.6m1.3 0h.6m1.5 .1h.6m-7.4 .3h.6m-.3-.1h.6m1.5 .1h.6m.2-.1h.6m-2.2 .5h.6m.1-.1h.6m.2 .2h.6m.9 .1h.6m-9.1 .4h.6m3.4-.1h.6m-.6 .1h.6m.2-.3h.6m.3 .3h.6m3.2-.2h.6m.4 .1h.6m-9.9 .4h.6m1.6-.2h.6m1.1 .1h.6m-.3 .2h.6m-.6-.1h.6m3-.1h.6m-8.7 .5h.6m3.2-.2h.6m-.5 .3h.6m3-.2h.6m-6.5 .4h.6m.2 .2h.6m0-.2h.6m.7 0h.6m-.1 .2h.6m-.6-.2h.6m.9-.1h.6m-4.9 .7h.6m3.6 0h.6m.6-.1h.6m-8.2 .4h.6m1.6 0h.6m-.3-.1h.6m-.3 0h.6m-.4 .2h.6m.2-.1h.6m.8-.1h.6m-.6-.1h.6m-.1 .3h.6m-4.7 .4h.6m2.2-.3h.6m-.1 0h.6m-.5 .2h.6m-.5 .1h.6m.2 0h.6m-.5-.3h.6m-1.3 .6h.6m-.1-.2h.6m.7 .3h.6m2.4-.2h.6m-7.4 .3h.6m-.1 0h.6m0 .1h.6m.6-.1h.6m.5 .1h.6m-.5 .2h.6m.3-.1h.6m.1-.1h.6m-8.5 .4h.6m.7-.1h.6m-.6 0h.6m.9 .3h.6m0-.2h.6m-.4 .1h.6m-.3-.2h.6m.8 0h.6m-4.9 .4h.6m1.3 .2h.6m-.2 .1h.6m-.1-.2h.6m.6 .2h.6m0 0h.6m0-.1h.6m-.3-.1h.6m-7.3 .4h.6m1.3 0h.6m-.6 0h.6m1.2-.1h.6m3.4 .3h.6m0-.3h.6m-8.4 .7h.6m1.2-.3h.6m2.2 .3h.6m.9-.1h.6m-7.1 .5h.6m.2-.1h.6m1.1 0h.6m2.3-.1h.6m.8 0h.6m1.7 .1h.6m-7.6 .4h.6m1-.2h.6m-.3 .2h.6m-.5 .1h.6m2.5-.1h.6m-.4-.2h.6m-7 .6h.6m-.1 .1h.6m.5 0h.6m1.2-.3h.6m-.2 .2h.6m-1.8 .3h.6m-.4 0h.6m1.9-.1h.6m1 .1h.6m-8.9 .6h.6m2.2-.2h.6m-.3 .2h.6m1.6-.1h.6m-.3-.2h.6m3.3 .3h.6m-9.7 .1h.6m.6 .2h.6m1.3-.1h.6m-.3 0h.6m.3 .1h.6m2.4 .1h.6m-.4-.2h.6m.3 .1h.6m-10.1 .2h.6m1.5 .1h.6m.4-.1h.6m2.6 .2h.6m-.6 .1h.6m.1-.3h.6m-4.6 .5h.6m.6-.1h.6m0 .1h.6m.2 .2h.6m1.9 0h.6m-7.8 .2h.6m-.2 0h.6m2.4-.1h.6m1.3 .2h.6m-6.1 .2h.6m1.4 .3h.6m.3-.2h.6m.7 .4h.6m2.7 .1h.6m-.5-.1h.6m1.5 .1h.6m-11.6 .3h.6m.1 0h.6m2.8-.1h.6m2.1 .3h.6m-.4-.2h.6m-2.8 .6h.6m.1-.2h.6m1.3 0h.6m0 0h.6m-7 .6h.6m-.4-.2h.6m4.1 .2h.6m-.2-.1h.6m-.3 .1h.6m-.1-.1h.6m-3.8 .5h.6m-.5-.3h.6m-.4 .2h.6m1.1 0h.6m-2.7 .4h.6m-.6 0h.6m.3 0h.6m-4.7 .4h.6m-.3 .1h.6m.8 0h.6m-.6 0h.6m.5-.1h.6m1.3-.2h.6m1.6 0h.6m-8.5 .7h.6m2.2 0h.6m1.8 0h.6m-.4 .2h.6m-7.6 .5h.6m2.5 .1h.6m2.4-.3h.6m.7 0h.6m-3 .6h.6m.8 .1h.6m-.6-.2h.6m1.2 0h.6m-.3-.1h.6m-8.7 .4h.6m.1 .2h.6m4.7 .5h.6m-2.2 1.2h.6m1-.2h.6m4.1 .4h.6m-8.2 .4h.6" stroke="#3a3a3a" stroke-width="0.6" stroke-opacity="0.3" fill="none"/>
</svg></body></html>
